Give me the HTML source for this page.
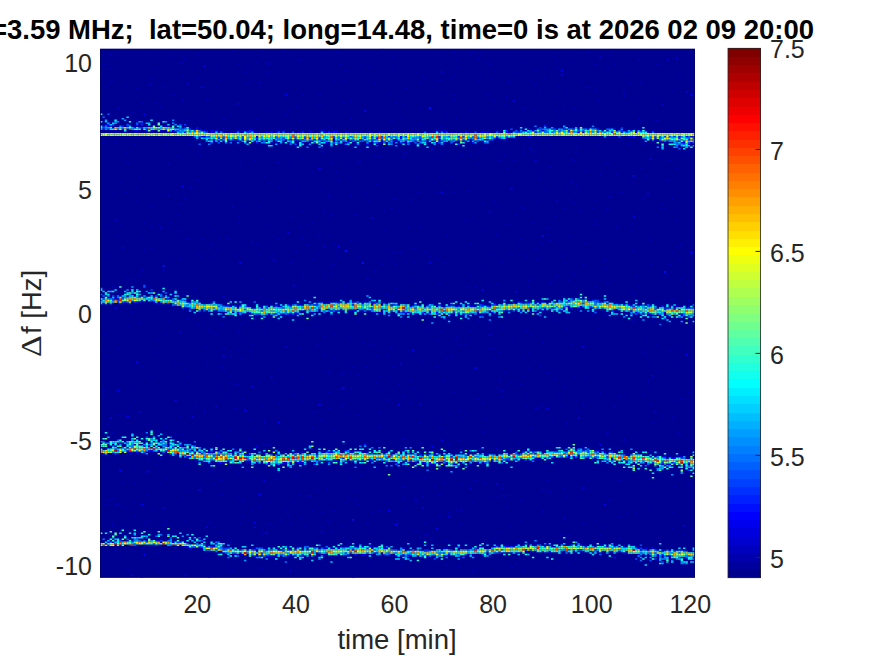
<!DOCTYPE html>
<html><head><meta charset="utf-8"><style>
html,body{margin:0;padding:0;background:#fff;overflow:hidden}
svg{display:block}
text{font-family:"Liberation Sans",Arial,sans-serif;white-space:pre}
.t{font-size:25px;fill:#262626}
.l{font-size:27.5px;fill:#262626}
.ti{font-size:27.47px;font-weight:bold;fill:#000}
</style></head><body>
<svg width="875" height="656" viewBox="0 0 875 656">
<rect x="100" y="48.8" width="595" height="528.9000000000001" fill="#000091"/>
<defs><filter id="bl" x="0" y="0" width="1" height="1"><feGaussianBlur stdDeviation="0.45"/></filter><clipPath id="cp"><rect x="100" y="48.8" width="595" height="528.9"/></clipPath></defs>
<g clip-path="url(#cp)"><g filter="url(#bl)"><path fill="#0000af" d="M380.7 48.8h2.4v1.5h-2.4zM232.0 50.3h2.4v1.5h-2.4zM260.7 50.3h2.4v1.5h-2.4zM282.3 50.3h2.4v1.5h-2.4zM611.0 50.3h2.4v1.5h-2.4zM335.1 51.8h2.4v1.5h-2.4zM452.7 51.8h2.4v1.5h-2.4zM471.9 51.8h2.4v1.5h-2.4zM587.0 51.8h2.4v1.5h-2.4zM196.0 53.3h2.4v1.5h-2.4zM323.1 53.3h2.4v1.5h-2.4zM469.5 53.3h2.4v1.5h-2.4zM479.1 53.3h2.4v1.5h-2.4zM114.4 54.8h2.4v1.5h-2.4zM143.2 54.8h2.4v1.5h-2.4zM172.0 54.8h2.4v1.5h-2.4zM289.5 54.8h2.4v1.5h-2.4zM438.3 54.8h2.4v1.5h-2.4zM608.6 54.8h2.4v1.5h-2.4zM392.7 56.3h2.4v1.5h-2.4zM553.4 56.3h2.4v1.5h-2.4zM184.0 57.8h2.4v1.5h-2.4zM476.7 57.8h2.4v1.5h-2.4zM666.2 57.8h2.4v1.5h-2.4zM299.1 59.3h2.4v1.5h-2.4zM455.1 59.3h2.4v1.5h-2.4zM555.8 59.3h2.4v1.5h-2.4zM637.4 59.3h2.4v1.5h-2.4zM666.2 59.3h2.4v1.5h-2.4zM296.7 60.8h2.4v1.5h-2.4zM488.7 60.8h2.4v1.5h-2.4zM522.3 60.8h2.4v1.5h-2.4zM570.2 60.8h2.4v1.5h-2.4zM181.6 62.3h2.4v1.5h-2.4zM193.6 62.3h2.4v1.5h-2.4zM255.9 62.3h2.4v1.5h-2.4zM265.5 62.3h4.8v1.5h-4.8zM483.9 62.3h2.4v1.5h-2.4zM102.4 63.8h2.4v1.5h-2.4zM236.8 63.8h2.4v1.5h-2.4zM267.9 63.8h2.4v1.5h-2.4zM339.9 63.8h2.4v1.5h-2.4zM488.7 63.8h2.4v1.5h-2.4zM594.2 63.8h2.4v1.5h-2.4zM613.4 63.8h2.4v1.5h-2.4zM656.6 63.8h2.4v1.5h-2.4zM246.4 65.3h2.4v1.5h-2.4zM359.1 65.3h2.4v1.5h-2.4zM368.7 65.3h2.4v1.5h-2.4zM555.8 65.3h2.4v1.5h-2.4zM191.2 66.8h2.4v1.5h-2.4zM215.2 66.8h2.4v1.5h-2.4zM392.7 66.8h2.4v1.5h-2.4zM543.9 66.8h2.4v1.5h-2.4zM109.6 68.3h2.4v1.5h-2.4zM155.2 68.3h2.4v1.5h-2.4zM457.5 68.3h2.4v1.5h-2.4zM606.2 68.3h2.4v1.5h-2.4zM344.7 69.8h2.4v1.5h-2.4zM534.3 69.8h2.4v1.5h-2.4zM244.0 71.3h2.4v1.5h-2.4zM267.9 71.3h2.4v1.5h-2.4zM515.1 72.8h2.4v1.5h-2.4zM565.4 72.8h2.4v1.5h-2.4zM625.4 72.8h2.4v1.5h-2.4zM678.2 72.8h2.4v1.5h-2.4zM265.5 74.3h2.4v1.5h-2.4zM452.7 74.3h2.4v1.5h-2.4zM481.5 74.3h2.4v1.5h-2.4zM181.6 75.8h2.4v1.5h-2.4zM421.5 75.8h2.4v1.5h-2.4zM150.4 77.3h2.4v1.5h-2.4zM196.0 77.3h2.4v1.5h-2.4zM423.9 77.3h2.4v1.5h-2.4zM450.3 77.3h2.4v1.5h-2.4zM491.1 77.3h2.4v1.5h-2.4zM543.9 77.3h2.4v1.5h-2.4zM438.3 78.9h2.4v1.5h-2.4zM507.9 78.9h2.4v1.5h-2.4zM529.5 78.9h2.4v1.5h-2.4zM594.2 78.9h2.4v1.5h-2.4zM112.0 80.4h2.4v1.5h-2.4zM220.0 80.4h2.4v1.5h-2.4zM251.1 80.4h2.4v1.5h-2.4zM332.7 80.4h2.4v1.5h-2.4zM342.3 80.4h2.4v1.5h-2.4zM433.5 80.4h2.4v1.5h-2.4zM440.7 80.4h2.4v1.5h-2.4zM476.7 80.4h2.4v1.5h-2.4zM579.8 80.4h2.4v1.5h-2.4zM109.6 81.9h2.4v1.5h-2.4zM186.4 81.9h2.4v1.5h-2.4zM246.4 81.9h2.4v1.5h-2.4zM258.3 81.9h2.4v1.5h-2.4zM373.5 81.9h2.4v1.5h-2.4zM419.1 81.9h2.4v1.5h-2.4zM507.9 81.9h2.4v1.5h-2.4zM627.8 81.9h2.4v1.5h-2.4zM639.8 81.9h2.4v1.5h-2.4zM148.0 83.4h4.8v1.5h-4.8zM186.4 83.4h2.4v1.5h-2.4zM534.3 83.4h2.4v1.5h-2.4zM124.0 84.9h2.4v1.5h-2.4zM215.2 84.9h2.4v1.5h-2.4zM258.3 84.9h2.4v1.5h-2.4zM555.8 84.9h2.4v1.5h-2.4zM104.8 86.4h2.4v1.5h-2.4zM162.4 86.4h2.4v1.5h-2.4zM431.1 86.4h2.4v1.5h-2.4zM584.6 86.4h4.8v1.5h-4.8zM136.0 87.9h2.4v1.5h-2.4zM404.7 87.9h2.4v1.5h-2.4zM594.2 89.4h2.4v1.5h-2.4zM623.0 89.4h2.4v1.5h-2.4zM671.0 89.4h2.4v1.5h-2.4zM692.6 89.4h2.4v1.5h-2.4zM145.6 90.9h2.4v1.5h-2.4zM443.1 90.9h2.4v1.5h-2.4zM387.9 92.4h2.4v1.5h-2.4zM539.1 92.4h2.4v1.5h-2.4zM565.4 92.4h2.4v1.5h-2.4zM172.0 93.9h2.4v1.5h-2.4zM301.5 93.9h2.4v1.5h-2.4zM318.3 93.9h2.4v1.5h-2.4zM452.7 93.9h2.4v1.5h-2.4zM486.3 93.9h2.4v1.5h-2.4zM623.0 93.9h2.4v1.5h-2.4zM505.5 95.4h2.4v1.5h-2.4zM623.0 95.4h2.4v1.5h-2.4zM505.5 96.9h2.4v1.5h-2.4zM553.4 96.9h2.4v1.5h-2.4zM654.2 96.9h2.4v1.5h-2.4zM208.0 98.4h2.4v1.5h-2.4zM488.7 98.4h2.4v1.5h-2.4zM635.0 98.4h2.4v1.5h-2.4zM205.6 99.9h2.4v1.5h-2.4zM349.5 99.9h2.4v1.5h-2.4zM452.7 99.9h2.4v1.5h-2.4zM493.5 99.9h2.4v1.5h-2.4zM596.6 99.9h2.4v1.5h-2.4zM140.8 101.4h2.4v1.5h-2.4zM155.2 101.4h2.4v1.5h-2.4zM342.3 101.4h2.4v1.5h-2.4zM395.1 101.4h2.4v1.5h-2.4zM402.3 102.9h2.4v1.5h-2.4zM234.4 104.4h2.4v1.5h-2.4zM318.3 104.4h2.4v1.5h-2.4zM503.1 104.4h2.4v1.5h-2.4zM160.0 105.9h2.4v1.5h-2.4zM296.7 105.9h2.4v1.5h-2.4zM419.1 107.4h2.4v1.5h-2.4zM522.3 107.4h2.4v1.5h-2.4zM572.6 107.4h2.4v1.5h-2.4zM287.1 108.9h2.4v1.5h-2.4zM363.9 108.9h2.4v1.5h-2.4zM469.5 108.9h2.4v1.5h-2.4zM491.1 108.9h2.4v1.5h-2.4zM563.0 108.9h2.4v1.5h-2.4zM138.4 110.4h2.4v1.5h-2.4zM265.5 110.4h2.4v1.5h-2.4zM531.9 110.4h2.4v1.5h-2.4zM553.4 110.4h2.4v1.5h-2.4zM579.8 110.4h2.4v1.5h-2.4zM155.2 113.4h2.4v1.5h-2.4zM229.6 113.4h2.4v1.5h-2.4zM284.7 113.4h2.4v1.5h-2.4zM193.6 114.9h2.4v1.5h-2.4zM399.9 114.9h2.4v1.5h-2.4zM443.1 114.9h2.4v1.5h-2.4zM558.2 114.9h2.4v1.5h-2.4zM208.0 116.4h2.4v1.5h-2.4zM222.4 117.9h2.4v1.5h-2.4zM255.9 117.9h2.4v1.5h-2.4zM349.5 117.9h2.4v1.5h-2.4zM455.1 117.9h2.4v1.5h-2.4zM637.4 117.9h2.4v1.5h-2.4zM136.0 119.4h2.4v1.5h-2.4zM186.4 119.4h2.4v1.5h-2.4zM299.1 119.4h2.4v1.5h-2.4zM390.3 119.4h2.4v1.5h-2.4zM639.8 119.4h2.4v1.5h-2.4zM654.2 119.4h4.8v1.5h-4.8zM419.1 123.9h2.4v1.5h-2.4zM543.9 123.9h2.4v1.5h-2.4zM107.2 125.4h2.4v1.5h-2.4zM114.4 125.4h2.4v1.5h-2.4zM138.4 125.4h2.4v1.5h-2.4zM327.9 125.4h2.4v1.5h-2.4zM440.7 125.4h2.4v1.5h-2.4zM188.8 126.9h2.4v1.5h-2.4zM224.8 126.9h2.4v1.5h-2.4zM323.1 126.9h2.4v1.5h-2.4zM553.4 126.9h2.4v1.5h-2.4zM584.6 126.9h2.4v1.5h-2.4zM591.8 126.9h4.8v1.5h-4.8zM608.6 126.9h2.4v1.5h-2.4zM236.8 128.4h2.4v1.5h-2.4zM248.8 128.4h2.4v1.5h-2.4zM277.5 128.4h2.4v1.5h-2.4zM392.7 128.4h2.4v1.5h-2.4zM503.1 128.4h2.4v1.5h-2.4zM534.3 128.4h2.4v1.5h-2.4zM632.6 128.4h2.4v1.5h-2.4zM162.4 129.9h4.8v1.5h-4.8zM205.6 129.9h2.4v1.5h-2.4zM220.0 129.9h2.4v1.5h-2.4zM246.4 129.9h2.4v1.5h-2.4zM270.3 129.9h2.4v1.5h-2.4zM275.1 129.9h2.4v1.5h-2.4zM301.5 129.9h2.4v1.5h-2.4zM323.1 129.9h2.4v1.5h-2.4zM327.9 129.9h2.4v1.5h-2.4zM332.7 129.9h2.4v1.5h-2.4zM443.1 129.9h4.8v1.5h-4.8zM481.5 129.9h2.4v1.5h-2.4zM495.9 129.9h2.4v1.5h-2.4zM217.6 131.4h2.4v1.5h-2.4zM239.2 131.4h2.4v1.5h-2.4zM296.7 131.4h2.4v1.5h-2.4zM318.3 131.4h2.4v1.5h-2.4zM361.5 131.4h2.4v1.5h-2.4zM404.7 131.4h2.4v1.5h-2.4zM414.3 131.4h2.4v1.5h-2.4zM431.1 131.4h2.4v1.5h-2.4zM469.5 131.4h2.4v1.5h-2.4zM488.7 131.4h2.4v1.5h-2.4zM647.0 131.4h2.4v1.5h-2.4zM191.2 135.9h2.4v1.5h-2.4zM536.7 135.9h2.4v1.5h-2.4zM577.4 135.9h2.4v1.5h-2.4zM608.6 135.9h4.8v1.5h-4.8zM495.9 137.5h2.4v1.5h-2.4zM176.8 139.0h2.4v1.5h-2.4zM255.9 139.0h2.4v1.5h-2.4zM272.7 139.0h2.4v1.5h-2.4zM438.3 139.0h2.4v1.5h-2.4zM500.7 139.0h7.2v1.5h-7.2zM524.7 139.0h2.4v1.5h-2.4zM620.6 139.0h2.4v1.5h-2.4zM191.2 140.5h2.4v1.5h-2.4zM212.8 140.5h2.4v1.5h-2.4zM236.8 140.5h2.4v1.5h-2.4zM260.7 140.5h2.4v1.5h-2.4zM296.7 140.5h2.4v1.5h-2.4zM332.7 140.5h2.4v1.5h-2.4zM392.7 140.5h2.4v1.5h-2.4zM426.3 140.5h2.4v1.5h-2.4zM488.7 140.5h2.4v1.5h-2.4zM666.2 140.5h2.4v1.5h-2.4zM102.4 142.0h2.4v1.5h-2.4zM114.4 142.0h2.4v1.5h-2.4zM251.1 142.0h2.4v1.5h-2.4zM275.1 142.0h4.8v1.5h-4.8zM308.7 142.0h2.4v1.5h-2.4zM327.9 142.0h2.4v1.5h-2.4zM354.3 142.0h2.4v1.5h-2.4zM404.7 142.0h2.4v1.5h-2.4zM416.7 142.0h2.4v1.5h-2.4zM659.0 142.0h2.4v1.5h-2.4zM133.6 143.5h2.4v1.5h-2.4zM188.8 143.5h2.4v1.5h-2.4zM267.9 143.5h2.4v1.5h-2.4zM354.3 143.5h2.4v1.5h-2.4zM627.8 143.5h2.4v1.5h-2.4zM642.2 143.5h2.4v1.5h-2.4zM536.7 145.0h2.4v1.5h-2.4zM575.0 145.0h2.4v1.5h-2.4zM164.8 146.5h2.4v1.5h-2.4zM294.3 146.5h2.4v1.5h-2.4zM344.7 146.5h2.4v1.5h-2.4zM522.3 146.5h2.4v1.5h-2.4zM548.6 146.5h2.4v1.5h-2.4zM577.4 146.5h2.4v1.5h-2.4zM587.0 146.5h2.4v1.5h-2.4zM596.6 146.5h2.4v1.5h-2.4zM198.4 148.0h2.4v1.5h-2.4zM320.7 148.0h2.4v1.5h-2.4zM483.9 148.0h2.4v1.5h-2.4zM359.1 149.5h2.4v1.5h-2.4zM320.7 151.0h4.8v1.5h-4.8zM522.3 151.0h2.4v1.5h-2.4zM531.9 151.0h2.4v1.5h-2.4zM687.8 151.0h2.4v1.5h-2.4zM124.0 152.5h2.4v1.5h-2.4zM440.7 152.5h2.4v1.5h-2.4zM476.7 152.5h2.4v1.5h-2.4zM575.0 152.5h2.4v1.5h-2.4zM673.4 152.5h2.4v1.5h-2.4zM680.6 152.5h2.4v1.5h-2.4zM198.4 154.0h2.4v1.5h-2.4zM459.9 154.0h2.4v1.5h-2.4zM469.5 154.0h2.4v1.5h-2.4zM503.1 154.0h2.4v1.5h-2.4zM176.8 155.5h2.4v1.5h-2.4zM373.5 155.5h2.4v1.5h-2.4zM378.3 155.5h2.4v1.5h-2.4zM402.3 155.5h2.4v1.5h-2.4zM181.6 157.0h2.4v1.5h-2.4zM301.5 157.0h2.4v1.5h-2.4zM433.5 157.0h2.4v1.5h-2.4zM455.1 157.0h2.4v1.5h-2.4zM659.0 157.0h2.4v1.5h-2.4zM570.2 158.5h2.4v1.5h-2.4zM253.5 160.0h2.4v1.5h-2.4zM359.1 160.0h2.4v1.5h-2.4zM498.3 160.0h2.4v1.5h-2.4zM512.7 160.0h2.4v1.5h-2.4zM572.6 160.0h2.4v1.5h-2.4zM668.6 160.0h2.4v1.5h-2.4zM126.4 161.5h2.4v1.5h-2.4zM275.1 161.5h4.8v1.5h-4.8zM330.3 161.5h2.4v1.5h-2.4zM356.7 161.5h2.4v1.5h-2.4zM606.2 161.5h2.4v1.5h-2.4zM239.2 163.0h2.4v1.5h-2.4zM567.8 163.0h2.4v1.5h-2.4zM649.4 163.0h2.4v1.5h-2.4zM287.1 164.5h2.4v1.5h-2.4zM347.1 164.5h2.4v1.5h-2.4zM476.7 164.5h2.4v1.5h-2.4zM548.6 166.0h2.4v1.5h-2.4zM505.5 167.5h2.4v1.5h-2.4zM639.8 167.5h2.4v1.5h-2.4zM675.8 167.5h2.4v1.5h-2.4zM539.1 169.0h2.4v1.5h-2.4zM584.6 170.5h2.4v1.5h-2.4zM311.1 172.0h2.4v1.5h-2.4zM335.1 172.0h2.4v1.5h-2.4zM599.0 173.5h2.4v1.5h-2.4zM615.8 173.5h2.4v1.5h-2.4zM138.4 175.0h2.4v1.5h-2.4zM416.7 175.0h2.4v1.5h-2.4zM438.3 175.0h2.4v1.5h-2.4zM450.3 175.0h2.4v1.5h-2.4zM644.6 175.0h2.4v1.5h-2.4zM263.1 176.5h2.4v1.5h-2.4zM347.1 176.5h2.4v1.5h-2.4zM539.1 178.0h2.4v1.5h-2.4zM196.0 179.5h2.4v1.5h-2.4zM337.5 179.5h2.4v1.5h-2.4zM570.2 179.5h2.4v1.5h-2.4zM666.2 179.5h2.4v1.5h-2.4zM119.2 181.0h2.4v1.5h-2.4zM217.6 181.0h2.4v1.5h-2.4zM267.9 181.0h2.4v1.5h-2.4zM433.5 181.0h2.4v1.5h-2.4zM630.2 181.0h2.4v1.5h-2.4zM570.2 182.5h2.4v1.5h-2.4zM375.9 184.0h2.4v1.5h-2.4zM575.0 184.0h2.4v1.5h-2.4zM188.8 185.5h2.4v1.5h-2.4zM277.5 185.5h2.4v1.5h-2.4zM193.6 187.0h2.4v1.5h-2.4zM287.1 187.0h2.4v1.5h-2.4zM577.4 187.0h2.4v1.5h-2.4zM136.0 188.5h2.4v1.5h-2.4zM188.8 188.5h2.4v1.5h-2.4zM222.4 188.5h2.4v1.5h-2.4zM296.7 188.5h2.4v1.5h-2.4zM320.7 188.5h2.4v1.5h-2.4zM543.9 188.5h2.4v1.5h-2.4zM565.4 188.5h2.4v1.5h-2.4zM467.1 190.0h2.4v1.5h-2.4zM124.0 191.5h2.4v1.5h-2.4zM416.7 191.5h2.4v1.5h-2.4zM435.9 191.5h2.4v1.5h-2.4zM452.7 191.5h2.4v1.5h-2.4zM620.6 191.5h2.4v1.5h-2.4zM112.0 193.0h2.4v1.5h-2.4zM327.9 193.0h2.4v1.5h-2.4zM363.9 193.0h2.4v1.5h-2.4zM162.4 194.5h2.4v1.5h-2.4zM179.2 194.5h2.4v1.5h-2.4zM644.6 194.5h2.4v1.5h-2.4zM327.9 196.1h2.4v1.5h-2.4zM349.5 196.1h2.4v1.5h-2.4zM184.0 197.6h2.4v1.5h-2.4zM392.7 197.6h2.4v1.5h-2.4zM642.2 197.6h2.4v1.5h-2.4zM671.0 197.6h2.4v1.5h-2.4zM491.1 199.1h2.4v1.5h-2.4zM567.8 199.1h2.4v1.5h-2.4zM594.2 199.1h2.4v1.5h-2.4zM601.4 199.1h2.4v1.5h-2.4zM136.0 200.6h2.4v1.5h-2.4zM368.7 200.6h2.4v1.5h-2.4zM536.7 200.6h2.4v1.5h-2.4zM481.5 202.1h2.4v1.5h-2.4zM493.5 202.1h2.4v1.5h-2.4zM572.6 202.1h2.4v1.5h-2.4zM179.2 203.6h2.4v1.5h-2.4zM661.4 203.6h2.4v1.5h-2.4zM258.3 205.1h2.4v1.5h-2.4zM150.4 206.6h2.4v1.5h-2.4zM241.6 206.6h2.4v1.5h-2.4zM495.9 206.6h2.4v1.5h-2.4zM519.9 206.6h2.4v1.5h-2.4zM390.3 208.1h2.4v1.5h-2.4zM522.3 208.1h2.4v1.5h-2.4zM563.0 208.1h2.4v1.5h-2.4zM591.8 208.1h2.4v1.5h-2.4zM606.2 208.1h2.4v1.5h-2.4zM659.0 208.1h2.4v1.5h-2.4zM663.8 208.1h2.4v1.5h-2.4zM301.5 209.6h2.4v1.5h-2.4zM323.1 209.6h2.4v1.5h-2.4zM383.1 209.6h2.4v1.5h-2.4zM397.5 209.6h2.4v1.5h-2.4zM579.8 209.6h2.4v1.5h-2.4zM673.4 211.1h2.4v1.5h-2.4zM323.1 212.6h2.4v1.5h-2.4zM603.8 212.6h2.4v1.5h-2.4zM176.8 214.1h2.4v1.5h-2.4zM330.3 214.1h2.4v1.5h-2.4zM354.3 214.1h2.4v1.5h-2.4zM515.1 214.1h2.4v1.5h-2.4zM236.8 215.6h2.4v1.5h-2.4zM553.4 215.6h2.4v1.5h-2.4zM116.8 217.1h2.4v1.5h-2.4zM100.0 218.6h2.4v1.5h-2.4zM327.9 218.6h2.4v1.5h-2.4zM471.9 218.6h2.4v1.5h-2.4zM464.7 220.1h2.4v1.5h-2.4zM594.2 220.1h2.4v1.5h-2.4zM675.8 220.1h2.4v1.5h-2.4zM143.2 221.6h2.4v1.5h-2.4zM169.6 221.6h2.4v1.5h-2.4zM236.8 221.6h2.4v1.5h-2.4zM311.1 221.6h2.4v1.5h-2.4zM531.9 221.6h2.4v1.5h-2.4zM107.2 223.1h2.4v1.5h-2.4zM157.6 223.1h2.4v1.5h-2.4zM265.5 223.1h2.4v1.5h-2.4zM596.6 223.1h2.4v1.5h-2.4zM630.2 223.1h2.4v1.5h-2.4zM119.2 224.6h2.4v1.5h-2.4zM306.3 224.6h2.4v1.5h-2.4zM503.1 224.6h2.4v1.5h-2.4zM507.9 224.6h2.4v1.5h-2.4zM591.8 224.6h2.4v1.5h-2.4zM100.0 226.1h2.4v1.5h-2.4zM150.4 226.1h2.4v1.5h-2.4zM160.0 226.1h2.4v1.5h-2.4zM299.1 226.1h2.4v1.5h-2.4zM407.1 226.1h2.4v1.5h-2.4zM419.1 226.1h2.4v1.5h-2.4zM615.8 226.1h2.4v1.5h-2.4zM160.0 227.6h2.4v1.5h-2.4zM167.2 227.6h2.4v1.5h-2.4zM546.2 227.6h2.4v1.5h-2.4zM179.2 230.6h2.4v1.5h-2.4zM212.8 230.6h2.4v1.5h-2.4zM383.1 230.6h2.4v1.5h-2.4zM481.5 230.6h2.4v1.5h-2.4zM630.2 230.6h2.4v1.5h-2.4zM445.5 233.6h2.4v1.5h-2.4zM495.9 233.6h2.4v1.5h-2.4zM546.2 233.6h2.4v1.5h-2.4zM140.8 235.1h2.4v1.5h-2.4zM272.7 235.1h2.4v1.5h-2.4zM299.1 235.1h2.4v1.5h-2.4zM116.8 236.6h2.4v1.5h-2.4zM179.2 236.6h2.4v1.5h-2.4zM224.8 236.6h2.4v1.5h-2.4zM327.9 236.6h2.4v1.5h-2.4zM567.8 236.6h2.4v1.5h-2.4zM649.4 236.6h2.4v1.5h-2.4zM186.4 238.1h2.4v1.5h-2.4zM200.8 238.1h2.4v1.5h-2.4zM217.6 238.1h2.4v1.5h-2.4zM227.2 238.1h2.4v1.5h-2.4zM277.5 238.1h2.4v1.5h-2.4zM301.5 238.1h2.4v1.5h-2.4zM519.9 238.1h2.4v1.5h-2.4zM349.5 239.6h2.4v1.5h-2.4zM548.6 239.6h2.4v1.5h-2.4zM649.4 239.6h2.4v1.5h-2.4zM354.3 241.1h2.4v1.5h-2.4zM517.5 241.1h2.4v1.5h-2.4zM555.8 241.1h2.4v1.5h-2.4zM241.6 242.6h2.4v1.5h-2.4zM265.5 242.6h2.4v1.5h-2.4zM539.1 242.6h2.4v1.5h-2.4zM210.4 244.1h2.4v1.5h-2.4zM255.9 244.1h2.4v1.5h-2.4zM306.3 244.1h2.4v1.5h-2.4zM332.7 244.1h2.4v1.5h-2.4zM469.5 244.1h2.4v1.5h-2.4zM541.5 244.1h2.4v1.5h-2.4zM680.6 244.1h2.4v1.5h-2.4zM675.8 245.6h2.4v1.5h-2.4zM215.2 247.1h2.4v1.5h-2.4zM385.5 247.1h2.4v1.5h-2.4zM414.3 247.1h2.4v1.5h-2.4zM150.4 248.6h2.4v1.5h-2.4zM411.9 248.6h2.4v1.5h-2.4zM143.2 250.1h2.4v1.5h-2.4zM335.1 250.1h2.4v1.5h-2.4zM632.6 250.1h2.4v1.5h-2.4zM294.3 251.6h2.4v1.5h-2.4zM392.7 251.6h2.4v1.5h-2.4zM399.9 251.6h2.4v1.5h-2.4zM423.9 251.6h2.4v1.5h-2.4zM671.0 251.6h2.4v1.5h-2.4zM196.0 253.1h2.4v1.5h-2.4zM258.3 253.1h2.4v1.5h-2.4zM315.9 253.1h2.4v1.5h-2.4zM491.1 253.1h2.4v1.5h-2.4zM510.3 253.1h2.4v1.5h-2.4zM517.5 253.1h2.4v1.5h-2.4zM104.8 254.7h2.4v1.5h-2.4zM212.8 254.7h2.4v1.5h-2.4zM234.4 254.7h2.4v1.5h-2.4zM270.3 254.7h2.4v1.5h-2.4zM524.7 254.7h2.4v1.5h-2.4zM560.6 254.7h2.4v1.5h-2.4zM200.8 256.2h2.4v1.5h-2.4zM337.5 256.2h2.4v1.5h-2.4zM356.7 256.2h2.4v1.5h-2.4zM428.7 256.2h2.4v1.5h-2.4zM179.2 257.7h2.4v1.5h-2.4zM311.1 257.7h2.4v1.5h-2.4zM435.9 257.7h2.4v1.5h-2.4zM536.7 257.7h2.4v1.5h-2.4zM169.6 259.2h2.4v1.5h-2.4zM291.9 259.2h2.4v1.5h-2.4zM390.3 259.2h2.4v1.5h-2.4zM678.2 259.2h2.4v1.5h-2.4zM378.3 260.7h2.4v1.5h-2.4zM404.7 260.7h2.4v1.5h-2.4zM498.3 260.7h4.8v1.5h-4.8zM289.5 262.2h2.4v1.5h-2.4zM411.9 262.2h2.4v1.5h-2.4zM443.1 262.2h2.4v1.5h-2.4zM563.0 262.2h2.4v1.5h-2.4zM332.7 263.7h2.4v1.5h-2.4zM380.7 263.7h2.4v1.5h-2.4zM395.1 263.7h2.4v1.5h-2.4zM582.2 263.7h2.4v1.5h-2.4zM649.4 263.7h2.4v1.5h-2.4zM668.6 263.7h2.4v1.5h-2.4zM330.3 265.2h2.4v1.5h-2.4zM481.5 266.7h2.4v1.5h-2.4zM140.8 268.2h2.4v1.5h-2.4zM603.8 268.2h2.4v1.5h-2.4zM140.8 269.7h2.4v1.5h-2.4zM162.4 269.7h2.4v1.5h-2.4zM373.5 269.7h2.4v1.5h-2.4zM330.3 272.7h2.4v1.5h-2.4zM138.4 274.2h2.4v1.5h-2.4zM301.5 274.2h2.4v1.5h-2.4zM323.1 274.2h2.4v1.5h-2.4zM469.5 274.2h2.4v1.5h-2.4zM572.6 274.2h2.4v1.5h-2.4zM666.2 274.2h2.4v1.5h-2.4zM683.0 274.2h2.4v1.5h-2.4zM555.8 275.7h2.4v1.5h-2.4zM635.0 275.7h2.4v1.5h-2.4zM126.4 277.2h2.4v1.5h-2.4zM260.7 277.2h2.4v1.5h-2.4zM680.6 277.2h2.4v1.5h-2.4zM133.6 278.7h2.4v1.5h-2.4zM411.9 278.7h2.4v1.5h-2.4zM531.9 278.7h2.4v1.5h-2.4zM661.4 278.7h2.4v1.5h-2.4zM100.0 280.2h2.4v1.5h-2.4zM527.1 280.2h2.4v1.5h-2.4zM553.4 280.2h2.4v1.5h-2.4zM567.8 280.2h2.4v1.5h-2.4zM438.3 281.7h2.4v1.5h-2.4zM548.6 281.7h2.4v1.5h-2.4zM606.2 281.7h2.4v1.5h-2.4zM685.4 281.7h2.4v1.5h-2.4zM495.9 283.2h2.4v1.5h-2.4zM294.3 284.7h2.4v1.5h-2.4zM486.3 284.7h2.4v1.5h-2.4zM637.4 284.7h2.4v1.5h-2.4zM112.0 286.2h2.4v1.5h-2.4zM116.8 286.2h2.4v1.5h-2.4zM148.0 286.2h2.4v1.5h-2.4zM344.7 286.2h2.4v1.5h-2.4zM467.1 286.2h2.4v1.5h-2.4zM474.3 286.2h2.4v1.5h-2.4zM527.1 286.2h2.4v1.5h-2.4zM594.2 286.2h2.4v1.5h-2.4zM193.6 287.7h2.4v1.5h-2.4zM395.1 287.7h2.4v1.5h-2.4zM112.0 289.2h2.4v1.5h-2.4zM630.2 289.2h2.4v1.5h-2.4zM212.8 290.7h2.4v1.5h-2.4zM143.2 292.2h2.4v1.5h-2.4zM342.3 292.2h2.4v1.5h-2.4zM591.8 292.2h2.4v1.5h-2.4zM184.0 293.7h2.4v1.5h-2.4zM385.5 293.7h2.4v1.5h-2.4zM632.6 293.7h2.4v1.5h-2.4zM126.4 295.2h2.4v1.5h-2.4zM251.1 295.2h2.4v1.5h-2.4zM390.3 295.2h2.4v1.5h-2.4zM176.8 296.7h2.4v1.5h-2.4zM258.3 296.7h2.4v1.5h-2.4zM339.9 296.7h2.4v1.5h-2.4zM577.4 296.7h2.4v1.5h-2.4zM169.6 298.2h2.4v1.5h-2.4zM294.3 298.2h2.4v1.5h-2.4zM421.5 298.2h2.4v1.5h-2.4zM515.1 298.2h2.4v1.5h-2.4zM572.6 298.2h2.4v1.5h-2.4zM671.0 298.2h2.4v1.5h-2.4zM267.9 299.7h2.4v1.5h-2.4zM363.9 299.7h2.4v1.5h-2.4zM541.5 299.7h2.4v1.5h-2.4zM603.8 299.7h2.4v1.5h-2.4zM241.6 301.2h2.4v1.5h-2.4zM248.8 301.2h2.4v1.5h-2.4zM318.3 301.2h2.4v1.5h-2.4zM327.9 301.2h2.4v1.5h-2.4zM337.5 301.2h4.8v1.5h-4.8zM361.5 301.2h2.4v1.5h-2.4zM383.1 301.2h2.4v1.5h-2.4zM529.5 301.2h2.4v1.5h-2.4zM539.1 301.2h2.4v1.5h-2.4zM601.4 301.2h2.4v1.5h-2.4zM611.0 301.2h2.4v1.5h-2.4zM656.6 301.2h2.4v1.5h-2.4zM116.8 302.7h2.4v1.5h-2.4zM124.0 302.7h2.4v1.5h-2.4zM160.0 302.7h2.4v1.5h-2.4zM164.8 302.7h2.4v1.5h-2.4zM200.8 302.7h2.4v1.5h-2.4zM205.6 302.7h2.4v1.5h-2.4zM217.6 302.7h2.4v1.5h-2.4zM255.9 302.7h2.4v1.5h-2.4zM291.9 302.7h2.4v1.5h-2.4zM301.5 302.7h2.4v1.5h-2.4zM323.1 302.7h2.4v1.5h-2.4zM431.1 302.7h2.4v1.5h-2.4zM505.5 302.7h2.4v1.5h-2.4zM613.4 302.7h2.4v1.5h-2.4zM104.8 304.2h2.4v1.5h-2.4zM109.6 304.2h2.4v1.5h-2.4zM157.6 304.2h2.4v1.5h-2.4zM275.1 304.2h2.4v1.5h-2.4zM426.3 304.2h2.4v1.5h-2.4zM447.9 304.2h2.4v1.5h-2.4zM459.9 304.2h2.4v1.5h-2.4zM639.8 304.2h2.4v1.5h-2.4zM649.4 304.2h2.4v1.5h-2.4zM172.0 305.7h2.4v1.5h-2.4zM464.7 305.7h2.4v1.5h-2.4zM184.0 307.2h2.4v1.5h-2.4zM656.6 307.2h2.4v1.5h-2.4zM200.8 308.7h2.4v1.5h-2.4zM529.5 308.7h2.4v1.5h-2.4zM596.6 308.7h2.4v1.5h-2.4zM603.8 308.7h2.4v1.5h-2.4zM205.6 310.2h2.4v1.5h-2.4zM215.2 310.2h2.4v1.5h-2.4zM303.9 310.2h2.4v1.5h-2.4zM347.1 310.2h2.4v1.5h-2.4zM351.9 310.2h2.4v1.5h-2.4zM505.5 310.2h2.4v1.5h-2.4zM613.4 310.2h4.8v1.5h-4.8zM131.2 311.7h2.4v1.5h-2.4zM198.4 311.7h2.4v1.5h-2.4zM246.4 311.7h2.4v1.5h-2.4zM299.1 311.7h2.4v1.5h-2.4zM371.1 311.7h2.4v1.5h-2.4zM625.4 311.7h2.4v1.5h-2.4zM193.6 313.3h2.4v1.5h-2.4zM294.3 313.3h4.8v1.5h-4.8zM387.9 313.3h2.4v1.5h-2.4zM421.5 313.3h2.4v1.5h-2.4zM591.8 313.3h2.4v1.5h-2.4zM603.8 313.3h2.4v1.5h-2.4zM678.2 313.3h2.4v1.5h-2.4zM279.9 314.8h2.4v1.5h-2.4zM287.1 314.8h2.4v1.5h-2.4zM291.9 314.8h2.4v1.5h-2.4zM467.1 314.8h2.4v1.5h-2.4zM260.7 316.3h2.4v1.5h-2.4zM495.9 316.3h2.4v1.5h-2.4zM517.5 316.3h2.4v1.5h-2.4zM186.4 317.8h2.4v1.5h-2.4zM373.5 317.8h2.4v1.5h-2.4zM675.8 317.8h2.4v1.5h-2.4zM167.2 319.3h2.4v1.5h-2.4zM476.7 319.3h2.4v1.5h-2.4zM553.4 319.3h2.4v1.5h-2.4zM651.8 319.3h2.4v1.5h-2.4zM244.0 320.8h2.4v1.5h-2.4zM265.5 320.8h2.4v1.5h-2.4zM356.7 320.8h2.4v1.5h-2.4zM402.3 320.8h2.4v1.5h-2.4zM138.4 322.3h2.4v1.5h-2.4zM203.2 322.3h2.4v1.5h-2.4zM287.1 322.3h2.4v1.5h-2.4zM488.7 322.3h2.4v1.5h-2.4zM680.6 322.3h2.4v1.5h-2.4zM196.0 323.8h2.4v1.5h-2.4zM220.0 323.8h2.4v1.5h-2.4zM239.2 323.8h2.4v1.5h-2.4zM128.8 325.3h2.4v1.5h-2.4zM313.5 325.3h2.4v1.5h-2.4zM426.3 326.8h2.4v1.5h-2.4zM491.1 326.8h2.4v1.5h-2.4zM500.7 326.8h2.4v1.5h-2.4zM613.4 326.8h2.4v1.5h-2.4zM299.1 328.3h2.4v1.5h-2.4zM565.4 328.3h2.4v1.5h-2.4zM596.6 328.3h2.4v1.5h-2.4zM208.0 329.8h2.4v1.5h-2.4zM236.8 329.8h2.4v1.5h-2.4zM469.5 329.8h2.4v1.5h-2.4zM524.7 329.8h2.4v1.5h-2.4zM212.8 331.3h2.4v1.5h-2.4zM263.1 331.3h2.4v1.5h-2.4zM440.7 331.3h2.4v1.5h-2.4zM164.8 332.8h2.4v1.5h-2.4zM236.8 332.8h2.4v1.5h-2.4zM104.8 334.3h2.4v1.5h-2.4zM215.2 334.3h2.4v1.5h-2.4zM332.7 334.3h2.4v1.5h-2.4zM529.5 334.3h2.4v1.5h-2.4zM323.1 335.8h2.4v1.5h-2.4zM455.1 335.8h2.4v1.5h-2.4zM347.1 337.3h2.4v1.5h-2.4zM241.6 338.8h2.4v1.5h-2.4zM457.5 338.8h2.4v1.5h-2.4zM469.5 338.8h2.4v1.5h-2.4zM512.7 338.8h2.4v1.5h-2.4zM644.6 338.8h2.4v1.5h-2.4zM155.2 340.3h2.4v1.5h-2.4zM435.9 340.3h2.4v1.5h-2.4zM452.7 340.3h2.4v1.5h-2.4zM361.5 341.8h2.4v1.5h-2.4zM541.5 341.8h2.4v1.5h-2.4zM251.1 343.3h2.4v1.5h-2.4zM373.5 343.3h2.4v1.5h-2.4zM457.5 343.3h2.4v1.5h-2.4zM464.7 343.3h2.4v1.5h-2.4zM570.2 343.3h2.4v1.5h-2.4zM368.7 344.8h2.4v1.5h-2.4zM459.9 344.8h2.4v1.5h-2.4zM656.6 344.8h2.4v1.5h-2.4zM678.2 344.8h2.4v1.5h-2.4zM203.2 346.3h2.4v1.5h-2.4zM100.0 347.8h2.4v1.5h-2.4zM116.8 347.8h2.4v1.5h-2.4zM222.4 347.8h2.4v1.5h-2.4zM299.1 347.8h2.4v1.5h-2.4zM390.3 347.8h2.4v1.5h-2.4zM488.7 347.8h2.4v1.5h-2.4zM493.5 347.8h2.4v1.5h-2.4zM236.8 349.3h2.4v1.5h-2.4zM248.8 349.3h2.4v1.5h-2.4zM668.6 349.3h2.4v1.5h-2.4zM152.8 350.8h2.4v1.5h-2.4zM229.6 350.8h2.4v1.5h-2.4zM644.6 350.8h2.4v1.5h-2.4zM498.3 352.3h2.4v1.5h-2.4zM527.1 352.3h2.4v1.5h-2.4zM642.2 352.3h2.4v1.5h-2.4zM323.1 353.8h2.4v1.5h-2.4zM104.8 355.3h2.4v1.5h-2.4zM229.6 355.3h2.4v1.5h-2.4zM251.1 355.3h2.4v1.5h-2.4zM375.9 355.3h2.4v1.5h-2.4zM385.5 355.3h2.4v1.5h-2.4zM450.3 355.3h2.4v1.5h-2.4zM644.6 355.3h2.4v1.5h-2.4zM522.3 356.8h2.4v1.5h-2.4zM239.2 358.3h2.4v1.5h-2.4zM332.7 358.3h2.4v1.5h-2.4zM445.5 358.3h2.4v1.5h-2.4zM493.5 358.3h2.4v1.5h-2.4zM179.2 361.3h2.4v1.5h-2.4zM205.6 361.3h2.4v1.5h-2.4zM419.1 361.3h2.4v1.5h-2.4zM673.4 361.3h2.4v1.5h-2.4zM174.4 362.8h2.4v1.5h-2.4zM344.7 362.8h2.4v1.5h-2.4zM647.0 362.8h2.4v1.5h-2.4zM140.8 365.8h2.4v1.5h-2.4zM220.0 365.8h2.4v1.5h-2.4zM351.9 365.8h2.4v1.5h-2.4zM363.9 365.8h2.4v1.5h-2.4zM392.7 365.8h2.4v1.5h-2.4zM435.9 365.8h2.4v1.5h-2.4zM539.1 365.8h2.4v1.5h-2.4zM527.1 367.3h2.4v1.5h-2.4zM184.0 368.8h2.4v1.5h-2.4zM277.5 368.8h2.4v1.5h-2.4zM553.4 368.8h2.4v1.5h-2.4zM222.4 370.3h2.4v1.5h-2.4zM323.1 370.3h2.4v1.5h-2.4zM656.6 370.3h2.4v1.5h-2.4zM327.9 371.8h2.4v1.5h-2.4zM342.3 371.8h2.4v1.5h-2.4zM349.5 371.8h2.4v1.5h-2.4zM503.1 371.8h2.4v1.5h-2.4zM546.2 371.8h2.4v1.5h-2.4zM339.9 373.4h2.4v1.5h-2.4zM356.7 373.4h2.4v1.5h-2.4zM186.4 374.9h2.4v1.5h-2.4zM229.6 374.9h2.4v1.5h-2.4zM378.3 374.9h2.4v1.5h-2.4zM387.9 374.9h2.4v1.5h-2.4zM522.3 374.9h2.4v1.5h-2.4zM572.6 374.9h2.4v1.5h-2.4zM584.6 374.9h2.4v1.5h-2.4zM150.4 376.4h2.4v1.5h-2.4zM301.5 376.4h2.4v1.5h-2.4zM553.4 377.9h2.4v1.5h-2.4zM409.5 379.4h2.4v1.5h-2.4zM443.1 379.4h2.4v1.5h-2.4zM498.3 379.4h2.4v1.5h-2.4zM647.0 379.4h2.4v1.5h-2.4zM229.6 380.9h2.4v1.5h-2.4zM258.3 380.9h2.4v1.5h-2.4zM272.7 380.9h2.4v1.5h-2.4zM375.9 380.9h2.4v1.5h-2.4zM647.0 380.9h2.4v1.5h-2.4zM510.3 382.4h2.4v1.5h-2.4zM234.4 383.9h4.8v1.5h-4.8zM397.5 383.9h2.4v1.5h-2.4zM519.9 383.9h2.4v1.5h-2.4zM505.5 385.4h2.4v1.5h-2.4zM563.0 385.4h2.4v1.5h-2.4zM131.2 386.9h2.4v1.5h-2.4zM217.6 386.9h2.4v1.5h-2.4zM349.5 386.9h2.4v1.5h-2.4zM495.9 386.9h2.4v1.5h-2.4zM649.4 386.9h2.4v1.5h-2.4zM692.6 386.9h2.4v1.5h-2.4zM378.3 388.4h2.4v1.5h-2.4zM411.9 388.4h2.4v1.5h-2.4zM102.4 389.9h2.4v1.5h-2.4zM327.9 391.4h2.4v1.5h-2.4zM452.7 391.4h2.4v1.5h-2.4zM599.0 391.4h2.4v1.5h-2.4zM687.8 391.4h2.4v1.5h-2.4zM291.9 392.9h2.4v1.5h-2.4zM347.1 392.9h2.4v1.5h-2.4zM524.7 392.9h2.4v1.5h-2.4zM558.2 392.9h2.4v1.5h-2.4zM227.2 394.4h2.4v1.5h-2.4zM419.1 394.4h2.4v1.5h-2.4zM623.0 394.4h2.4v1.5h-2.4zM642.2 394.4h2.4v1.5h-2.4zM102.4 395.9h2.4v1.5h-2.4zM402.3 395.9h2.4v1.5h-2.4zM500.7 395.9h2.4v1.5h-2.4zM618.2 395.9h2.4v1.5h-2.4zM241.6 397.4h2.4v1.5h-2.4zM476.7 397.4h2.4v1.5h-2.4zM680.6 397.4h2.4v1.5h-2.4zM133.6 398.9h2.4v1.5h-2.4zM301.5 398.9h2.4v1.5h-2.4zM318.3 398.9h2.4v1.5h-2.4zM385.5 398.9h4.8v1.5h-4.8zM673.4 398.9h2.4v1.5h-2.4zM575.0 400.4h2.4v1.5h-2.4zM277.5 401.9h2.4v1.5h-2.4zM409.5 401.9h2.4v1.5h-2.4zM481.5 401.9h2.4v1.5h-2.4zM342.3 403.4h2.4v1.5h-2.4zM541.5 403.4h2.4v1.5h-2.4zM582.2 403.4h2.4v1.5h-2.4zM649.4 403.4h2.4v1.5h-2.4zM128.8 404.9h2.4v1.5h-2.4zM193.6 404.9h2.4v1.5h-2.4zM524.7 404.9h2.4v1.5h-2.4zM536.7 404.9h2.4v1.5h-2.4zM260.7 406.4h2.4v1.5h-2.4zM339.9 406.4h2.4v1.5h-2.4zM560.6 406.4h2.4v1.5h-2.4zM234.4 407.9h2.4v1.5h-2.4zM327.9 407.9h2.4v1.5h-2.4zM534.3 407.9h4.8v1.5h-4.8zM203.2 409.4h2.4v1.5h-2.4zM457.5 409.4h2.4v1.5h-2.4zM575.0 409.4h2.4v1.5h-2.4zM203.2 410.9h2.4v1.5h-2.4zM311.1 410.9h4.8v1.5h-4.8zM464.7 410.9h2.4v1.5h-2.4zM347.1 412.4h2.4v1.5h-2.4zM378.3 412.4h2.4v1.5h-2.4zM447.9 412.4h2.4v1.5h-2.4zM579.8 412.4h2.4v1.5h-2.4zM116.8 413.9h2.4v1.5h-2.4zM121.6 413.9h2.4v1.5h-2.4zM356.7 413.9h2.4v1.5h-2.4zM179.2 415.4h2.4v1.5h-2.4zM671.0 415.4h2.4v1.5h-2.4zM433.5 416.9h2.4v1.5h-2.4zM440.7 416.9h2.4v1.5h-2.4zM661.4 416.9h2.4v1.5h-2.4zM248.8 418.4h2.4v1.5h-2.4zM459.9 418.4h2.4v1.5h-2.4zM483.9 418.4h2.4v1.5h-2.4zM551.0 418.4h2.4v1.5h-2.4zM673.4 418.4h2.4v1.5h-2.4zM263.1 419.9h2.4v1.5h-2.4zM320.7 419.9h2.4v1.5h-2.4zM263.1 421.4h2.4v1.5h-2.4zM419.1 421.4h2.4v1.5h-2.4zM565.4 421.4h2.4v1.5h-2.4zM651.8 421.4h2.4v1.5h-2.4zM107.2 422.9h2.4v1.5h-2.4zM148.0 422.9h2.4v1.5h-2.4zM565.4 422.9h2.4v1.5h-2.4zM613.4 422.9h2.4v1.5h-2.4zM164.8 425.9h2.4v1.5h-2.4zM378.3 425.9h2.4v1.5h-2.4zM311.1 427.4h2.4v1.5h-2.4zM438.3 427.4h2.4v1.5h-2.4zM529.5 427.4h2.4v1.5h-2.4zM251.1 428.9h2.4v1.5h-2.4zM507.9 428.9h2.4v1.5h-2.4zM157.6 430.4h2.4v1.5h-2.4zM229.6 430.4h2.4v1.5h-2.4zM263.1 430.4h2.4v1.5h-2.4zM287.1 430.4h2.4v1.5h-2.4zM332.7 430.4h2.4v1.5h-2.4zM483.9 430.4h2.4v1.5h-2.4zM112.0 432.0h2.4v1.5h-2.4zM481.5 432.0h2.4v1.5h-2.4zM606.2 432.0h2.4v1.5h-2.4zM675.8 432.0h2.4v1.5h-2.4zM174.4 433.5h2.4v1.5h-2.4zM181.6 433.5h2.4v1.5h-2.4zM606.2 433.5h2.4v1.5h-2.4zM678.2 433.5h2.4v1.5h-2.4zM107.2 435.0h2.4v1.5h-2.4zM217.6 435.0h2.4v1.5h-2.4zM635.0 435.0h2.4v1.5h-2.4zM215.2 436.5h2.4v1.5h-2.4zM248.8 438.0h2.4v1.5h-2.4zM402.3 438.0h2.4v1.5h-2.4zM623.0 438.0h2.4v1.5h-2.4zM184.0 439.5h2.4v1.5h-2.4zM375.9 439.5h2.4v1.5h-2.4zM457.5 439.5h2.4v1.5h-2.4zM623.0 439.5h2.4v1.5h-2.4zM172.0 441.0h2.4v1.5h-2.4zM495.9 441.0h2.4v1.5h-2.4zM543.9 441.0h2.4v1.5h-2.4zM548.6 441.0h2.4v1.5h-2.4zM625.4 441.0h2.4v1.5h-2.4zM419.1 442.5h2.4v1.5h-2.4zM517.5 442.5h2.4v1.5h-2.4zM584.6 442.5h2.4v1.5h-2.4zM155.2 444.0h2.4v1.5h-2.4zM263.1 444.0h2.4v1.5h-2.4zM267.9 444.0h2.4v1.5h-2.4zM447.9 444.0h2.4v1.5h-2.4zM582.2 445.5h2.4v1.5h-2.4zM150.4 447.0h2.4v1.5h-2.4zM208.0 447.0h2.4v1.5h-2.4zM608.6 447.0h2.4v1.5h-2.4zM615.8 447.0h2.4v1.5h-2.4zM459.9 448.5h2.4v1.5h-2.4zM196.0 450.0h2.4v1.5h-2.4zM215.2 450.0h2.4v1.5h-2.4zM251.1 450.0h2.4v1.5h-2.4zM320.7 450.0h2.4v1.5h-2.4zM325.5 450.0h2.4v1.5h-2.4zM330.3 450.0h2.4v1.5h-2.4zM335.1 450.0h2.4v1.5h-2.4zM354.3 450.0h2.4v1.5h-2.4zM531.9 450.0h2.4v1.5h-2.4zM649.4 450.0h2.4v1.5h-2.4zM131.2 451.5h2.4v1.5h-2.4zM150.4 451.5h2.4v1.5h-2.4zM205.6 451.5h2.4v1.5h-2.4zM210.4 451.5h4.8v1.5h-4.8zM291.9 451.5h2.4v1.5h-2.4zM363.9 451.5h2.4v1.5h-2.4zM395.1 451.5h2.4v1.5h-2.4zM543.9 451.5h2.4v1.5h-2.4zM599.0 451.5h2.4v1.5h-2.4zM109.6 453.0h2.4v1.5h-2.4zM124.0 453.0h2.4v1.5h-2.4zM140.8 453.0h2.4v1.5h-2.4zM244.0 453.0h2.4v1.5h-2.4zM267.9 453.0h4.8v1.5h-4.8zM275.1 453.0h2.4v1.5h-2.4zM373.5 453.0h2.4v1.5h-2.4zM378.3 453.0h2.4v1.5h-2.4zM455.1 453.0h2.4v1.5h-2.4zM459.9 453.0h2.4v1.5h-2.4zM606.2 453.0h2.4v1.5h-2.4zM635.0 453.0h2.4v1.5h-2.4zM253.5 454.5h2.4v1.5h-2.4zM577.4 454.5h2.4v1.5h-2.4zM642.2 454.5h2.4v1.5h-2.4zM656.6 454.5h2.4v1.5h-2.4zM661.4 456.0h2.4v1.5h-2.4zM673.4 456.0h2.4v1.5h-2.4zM692.6 456.0h2.4v1.5h-2.4zM160.0 457.5h2.4v1.5h-2.4zM539.1 457.5h2.4v1.5h-2.4zM543.9 457.5h2.4v1.5h-2.4zM587.0 457.5h2.4v1.5h-2.4zM148.0 459.0h2.4v1.5h-2.4zM193.6 459.0h2.4v1.5h-2.4zM527.1 459.0h2.4v1.5h-2.4zM611.0 459.0h2.4v1.5h-2.4zM227.2 460.5h2.4v1.5h-2.4zM236.8 460.5h2.4v1.5h-2.4zM368.7 460.5h2.4v1.5h-2.4zM380.7 460.5h2.4v1.5h-2.4zM416.7 460.5h2.4v1.5h-2.4zM524.7 460.5h2.4v1.5h-2.4zM222.4 462.0h2.4v1.5h-2.4zM248.8 462.0h2.4v1.5h-2.4zM289.5 462.0h2.4v1.5h-2.4zM411.9 462.0h2.4v1.5h-2.4zM632.6 462.0h2.4v1.5h-2.4zM155.2 463.5h2.4v1.5h-2.4zM184.0 463.5h2.4v1.5h-2.4zM217.6 463.5h2.4v1.5h-2.4zM239.2 463.5h2.4v1.5h-2.4zM267.9 463.5h2.4v1.5h-2.4zM282.3 463.5h2.4v1.5h-2.4zM301.5 463.5h2.4v1.5h-2.4zM428.7 463.5h2.4v1.5h-2.4zM443.1 463.5h2.4v1.5h-2.4zM452.7 463.5h4.8v1.5h-4.8zM517.5 463.5h2.4v1.5h-2.4zM623.0 463.5h2.4v1.5h-2.4zM666.2 463.5h2.4v1.5h-2.4zM673.4 463.5h2.4v1.5h-2.4zM227.2 465.0h2.4v1.5h-2.4zM265.5 465.0h2.4v1.5h-2.4zM359.1 465.0h2.4v1.5h-2.4zM404.7 465.0h2.4v1.5h-2.4zM131.2 466.5h2.4v1.5h-2.4zM227.2 466.5h2.4v1.5h-2.4zM527.1 466.5h2.4v1.5h-2.4zM543.9 466.5h2.4v1.5h-2.4zM611.0 466.5h2.4v1.5h-2.4zM366.3 468.0h2.4v1.5h-2.4zM375.9 468.0h2.4v1.5h-2.4zM148.0 469.5h2.4v1.5h-2.4zM210.4 469.5h2.4v1.5h-2.4zM246.4 469.5h2.4v1.5h-2.4zM236.8 471.0h2.4v1.5h-2.4zM277.5 471.0h2.4v1.5h-2.4zM409.5 471.0h2.4v1.5h-2.4zM359.1 474.0h2.4v1.5h-2.4zM294.3 475.5h2.4v1.5h-2.4zM164.8 477.0h2.4v1.5h-2.4zM217.6 477.0h2.4v1.5h-2.4zM253.5 477.0h2.4v1.5h-2.4zM260.7 477.0h2.4v1.5h-2.4zM419.1 477.0h2.4v1.5h-2.4zM423.9 477.0h2.4v1.5h-2.4zM647.0 477.0h2.4v1.5h-2.4zM275.1 478.5h2.4v1.5h-2.4zM349.5 478.5h2.4v1.5h-2.4zM220.0 480.0h2.4v1.5h-2.4zM474.3 480.0h2.4v1.5h-2.4zM546.2 480.0h2.4v1.5h-2.4zM587.0 480.0h2.4v1.5h-2.4zM618.2 480.0h2.4v1.5h-2.4zM121.6 481.5h2.4v1.5h-2.4zM133.6 481.5h2.4v1.5h-2.4zM443.1 481.5h2.4v1.5h-2.4zM483.9 481.5h2.4v1.5h-2.4zM469.5 483.0h2.4v1.5h-2.4zM500.7 483.0h2.4v1.5h-2.4zM160.0 484.5h2.4v1.5h-2.4zM200.8 484.5h2.4v1.5h-2.4zM212.8 484.5h2.4v1.5h-2.4zM459.9 484.5h2.4v1.5h-2.4zM685.4 484.5h4.8v1.5h-4.8zM402.3 486.0h2.4v1.5h-2.4zM433.5 486.0h2.4v1.5h-2.4zM582.2 486.0h2.4v1.5h-2.4zM673.4 486.0h2.4v1.5h-2.4zM325.5 487.5h2.4v1.5h-2.4zM500.7 487.5h2.4v1.5h-2.4zM563.0 487.5h2.4v1.5h-2.4zM186.4 489.0h2.4v1.5h-2.4zM421.5 489.0h2.4v1.5h-2.4zM546.2 489.0h2.4v1.5h-2.4zM587.0 489.0h2.4v1.5h-2.4zM354.3 490.6h2.4v1.5h-2.4zM548.6 492.1h2.4v1.5h-2.4zM145.6 493.6h2.4v1.5h-2.4zM220.0 493.6h2.4v1.5h-2.4zM299.1 493.6h2.4v1.5h-2.4zM438.3 493.6h2.4v1.5h-2.4zM181.6 495.1h2.4v1.5h-2.4zM236.8 495.1h2.4v1.5h-2.4zM421.5 495.1h2.4v1.5h-2.4zM565.4 495.1h2.4v1.5h-2.4zM603.8 495.1h2.4v1.5h-2.4zM414.3 496.6h2.4v1.5h-2.4zM421.5 496.6h2.4v1.5h-2.4zM488.7 496.6h2.4v1.5h-2.4zM495.9 496.6h2.4v1.5h-2.4zM577.4 496.6h2.4v1.5h-2.4zM112.0 498.1h2.4v1.5h-2.4zM347.1 498.1h2.4v1.5h-2.4zM402.3 498.1h2.4v1.5h-2.4zM107.2 499.6h2.4v1.5h-2.4zM241.6 499.6h2.4v1.5h-2.4zM354.3 499.6h2.4v1.5h-2.4zM519.9 499.6h2.4v1.5h-2.4zM608.6 499.6h2.4v1.5h-2.4zM133.6 501.1h2.4v1.5h-2.4zM267.9 501.1h2.4v1.5h-2.4zM344.7 501.1h2.4v1.5h-2.4zM385.5 501.1h2.4v1.5h-2.4zM416.7 501.1h2.4v1.5h-2.4zM471.9 501.1h2.4v1.5h-2.4zM291.9 502.6h2.4v1.5h-2.4zM104.8 504.1h2.4v1.5h-2.4zM114.4 504.1h4.8v1.5h-4.8zM356.7 504.1h2.4v1.5h-2.4zM121.6 505.6h2.4v1.5h-2.4zM258.3 505.6h2.4v1.5h-2.4zM505.5 505.6h2.4v1.5h-2.4zM404.7 507.1h2.4v1.5h-2.4zM126.4 508.6h2.4v1.5h-2.4zM152.8 508.6h2.4v1.5h-2.4zM284.7 508.6h2.4v1.5h-2.4zM459.9 508.6h2.4v1.5h-2.4zM649.4 508.6h2.4v1.5h-2.4zM251.1 510.1h2.4v1.5h-2.4zM311.1 510.1h2.4v1.5h-2.4zM332.7 510.1h2.4v1.5h-2.4zM378.3 510.1h2.4v1.5h-2.4zM455.1 510.1h2.4v1.5h-2.4zM459.9 510.1h2.4v1.5h-2.4zM541.5 510.1h2.4v1.5h-2.4zM320.7 511.6h2.4v1.5h-2.4zM371.1 511.6h2.4v1.5h-2.4zM447.9 511.6h2.4v1.5h-2.4zM625.4 511.6h2.4v1.5h-2.4zM635.0 511.6h2.4v1.5h-2.4zM671.0 511.6h2.4v1.5h-2.4zM541.5 514.6h2.4v1.5h-2.4zM133.6 516.1h2.4v1.5h-2.4zM241.6 516.1h2.4v1.5h-2.4zM438.3 516.1h2.4v1.5h-2.4zM563.0 516.1h2.4v1.5h-2.4zM618.2 516.1h2.4v1.5h-2.4zM299.1 517.6h2.4v1.5h-2.4zM563.0 517.6h2.4v1.5h-2.4zM184.0 519.1h2.4v1.5h-2.4zM248.8 519.1h2.4v1.5h-2.4zM279.9 519.1h2.4v1.5h-2.4zM330.3 519.1h2.4v1.5h-2.4zM395.1 519.1h2.4v1.5h-2.4zM431.1 519.1h2.4v1.5h-2.4zM594.2 519.1h2.4v1.5h-2.4zM148.0 520.6h2.4v1.5h-2.4zM325.5 520.6h2.4v1.5h-2.4zM397.5 520.6h2.4v1.5h-2.4zM519.9 520.6h2.4v1.5h-2.4zM143.2 522.1h2.4v1.5h-2.4zM208.0 522.1h2.4v1.5h-2.4zM239.2 522.1h2.4v1.5h-2.4zM327.9 522.1h2.4v1.5h-2.4zM366.3 522.1h2.4v1.5h-2.4zM423.9 522.1h2.4v1.5h-2.4zM112.0 523.6h2.4v1.5h-2.4zM162.4 523.6h2.4v1.5h-2.4zM267.9 523.6h2.4v1.5h-2.4zM289.5 523.6h2.4v1.5h-2.4zM392.7 523.6h2.4v1.5h-2.4zM459.9 523.6h2.4v1.5h-2.4zM582.2 523.6h2.4v1.5h-2.4zM112.0 525.1h2.4v1.5h-2.4zM121.6 525.1h2.4v1.5h-2.4zM145.6 525.1h2.4v1.5h-2.4zM303.9 525.1h2.4v1.5h-2.4zM320.7 525.1h2.4v1.5h-2.4zM342.3 525.1h2.4v1.5h-2.4zM601.4 525.1h2.4v1.5h-2.4zM212.8 526.6h2.4v1.5h-2.4zM272.7 526.6h2.4v1.5h-2.4zM507.9 526.6h2.4v1.5h-2.4zM671.0 528.1h2.4v1.5h-2.4zM692.6 528.1h2.4v1.5h-2.4zM260.7 529.6h2.4v1.5h-2.4zM414.3 529.6h2.4v1.5h-2.4zM330.3 531.1h2.4v1.5h-2.4zM498.3 531.1h2.4v1.5h-2.4zM107.2 532.6h2.4v1.5h-2.4zM220.0 532.6h2.4v1.5h-2.4zM371.1 532.6h2.4v1.5h-2.4zM260.7 534.1h2.4v1.5h-2.4zM423.9 534.1h4.8v1.5h-4.8zM560.6 534.1h2.4v1.5h-2.4zM567.8 534.1h2.4v1.5h-2.4zM599.0 534.1h2.4v1.5h-2.4zM683.0 534.1h2.4v1.5h-2.4zM342.3 537.1h2.4v1.5h-2.4zM419.1 537.1h2.4v1.5h-2.4zM431.1 537.1h2.4v1.5h-2.4zM493.5 537.1h2.4v1.5h-2.4zM577.4 537.1h2.4v1.5h-2.4zM618.2 537.1h2.4v1.5h-2.4zM656.6 537.1h2.4v1.5h-2.4zM687.8 537.1h2.4v1.5h-2.4zM227.2 538.6h2.4v1.5h-2.4zM599.0 538.6h2.4v1.5h-2.4zM140.8 540.1h2.4v1.5h-2.4zM445.5 540.1h2.4v1.5h-2.4zM517.5 540.1h2.4v1.5h-2.4zM558.2 540.1h2.4v1.5h-2.4zM229.6 541.6h2.4v1.5h-2.4zM347.1 541.6h2.4v1.5h-2.4zM421.5 541.6h2.4v1.5h-2.4zM534.3 541.6h2.4v1.5h-2.4zM198.4 543.1h2.4v1.5h-2.4zM529.5 543.1h2.4v1.5h-2.4zM126.4 544.6h2.4v1.5h-2.4zM160.0 544.6h2.4v1.5h-2.4zM615.8 544.6h2.4v1.5h-2.4zM671.0 544.6h2.4v1.5h-2.4zM174.4 546.1h2.4v1.5h-2.4zM181.6 546.1h4.8v1.5h-4.8zM296.7 546.1h2.4v1.5h-2.4zM342.3 546.1h2.4v1.5h-2.4zM387.9 546.1h2.4v1.5h-2.4zM527.1 546.1h2.4v1.5h-2.4zM551.0 546.1h4.8v1.5h-4.8zM618.2 546.1h2.4v1.5h-2.4zM140.8 547.6h2.4v1.5h-2.4zM263.1 547.6h2.4v1.5h-2.4zM395.1 547.6h2.4v1.5h-2.4zM649.4 547.6h2.4v1.5h-2.4zM654.2 547.6h2.4v1.5h-2.4zM114.4 549.2h2.4v1.5h-2.4zM131.2 549.2h2.4v1.5h-2.4zM428.7 549.2h2.4v1.5h-2.4zM433.5 549.2h2.4v1.5h-2.4zM661.4 549.2h4.8v1.5h-4.8zM208.0 550.7h2.4v1.5h-2.4zM524.7 550.7h2.4v1.5h-2.4zM596.6 550.7h2.4v1.5h-2.4zM603.8 550.7h2.4v1.5h-2.4zM157.6 552.2h2.4v1.5h-2.4zM503.1 552.2h4.8v1.5h-4.8zM555.8 552.2h2.4v1.5h-2.4zM236.8 553.7h4.8v1.5h-4.8zM320.7 553.7h2.4v1.5h-2.4zM390.3 553.7h2.4v1.5h-2.4zM471.9 553.7h2.4v1.5h-2.4zM647.0 553.7h2.4v1.5h-2.4zM119.2 555.2h2.4v1.5h-2.4zM174.4 555.2h2.4v1.5h-2.4zM294.3 555.2h2.4v1.5h-2.4zM399.9 555.2h2.4v1.5h-2.4zM409.5 555.2h2.4v1.5h-2.4zM433.5 555.2h2.4v1.5h-2.4zM459.9 555.2h4.8v1.5h-4.8zM205.6 556.7h2.4v1.5h-2.4zM282.3 556.7h2.4v1.5h-2.4zM380.7 556.7h2.4v1.5h-2.4zM421.5 556.7h2.4v1.5h-2.4zM426.3 556.7h2.4v1.5h-2.4zM459.9 556.7h2.4v1.5h-2.4zM683.0 556.7h2.4v1.5h-2.4zM232.0 558.2h2.4v1.5h-2.4zM279.9 558.2h2.4v1.5h-2.4zM685.4 558.2h2.4v1.5h-2.4zM656.6 559.7h2.4v1.5h-2.4zM668.6 559.7h2.4v1.5h-2.4zM692.6 559.7h2.4v1.5h-2.4zM635.0 561.2h2.4v1.5h-2.4zM227.2 562.7h2.4v1.5h-2.4zM275.1 562.7h2.4v1.5h-2.4zM368.7 562.7h2.4v1.5h-2.4zM567.8 562.7h2.4v1.5h-2.4zM399.9 564.2h2.4v1.5h-2.4zM445.5 564.2h2.4v1.5h-2.4zM457.5 565.7h2.4v1.5h-2.4zM510.3 565.7h2.4v1.5h-2.4zM260.7 567.2h2.4v1.5h-2.4zM647.0 567.2h2.4v1.5h-2.4zM474.3 568.7h2.4v1.5h-2.4zM126.4 570.2h2.4v1.5h-2.4zM157.6 570.2h2.4v1.5h-2.4zM227.2 570.2h2.4v1.5h-2.4zM232.0 570.2h2.4v1.5h-2.4zM258.3 570.2h2.4v1.5h-2.4zM471.9 570.2h2.4v1.5h-2.4zM522.3 570.2h2.4v1.5h-2.4zM591.8 571.7h2.4v1.5h-2.4zM491.1 573.2h2.4v1.5h-2.4zM584.6 574.7h2.4v1.5h-2.4zM608.6 574.7h2.4v1.5h-2.4zM680.6 574.7h2.4v1.5h-2.4zM140.8 576.2h2.4v1.5h-2.4zM208.0 576.2h2.4v1.5h-2.4zM351.9 576.2h2.4v1.5h-2.4z"/><path fill="#0000bf" d="M109.6 53.3h2.4v1.5h-2.4zM179.2 62.3h2.4v1.5h-2.4zM100.0 72.8h2.4v1.5h-2.4zM181.6 99.9h2.4v1.5h-2.4zM116.8 107.4h2.4v1.5h-2.4zM131.2 111.9h2.4v1.5h-2.4zM136.0 125.4h2.4v1.5h-2.4zM150.4 125.4h2.4v1.5h-2.4zM596.6 126.9h2.4v1.5h-2.4zM191.2 128.4h4.8v1.5h-4.8zM109.6 129.9h2.4v1.5h-2.4zM241.6 129.9h4.8v1.5h-4.8zM277.5 129.9h2.4v1.5h-2.4zM308.7 129.9h2.4v1.5h-2.4zM335.1 129.9h2.4v1.5h-2.4zM601.4 129.9h2.4v1.5h-2.4zM625.4 129.9h2.4v1.5h-2.4zM644.6 129.9h2.4v1.5h-2.4zM651.8 129.9h2.4v1.5h-2.4zM267.9 131.4h2.4v1.5h-2.4zM279.9 131.4h2.4v1.5h-2.4zM287.1 131.4h2.4v1.5h-2.4zM299.1 131.4h2.4v1.5h-2.4zM311.1 131.4h2.4v1.5h-2.4zM347.1 131.4h2.4v1.5h-2.4zM359.1 131.4h2.4v1.5h-2.4zM428.7 131.4h2.4v1.5h-2.4zM455.1 131.4h2.4v1.5h-2.4zM467.1 131.4h2.4v1.5h-2.4zM479.1 131.4h2.4v1.5h-2.4zM498.3 131.4h2.4v1.5h-2.4zM510.3 131.4h2.4v1.5h-2.4zM613.4 135.9h2.4v1.5h-2.4zM208.0 139.0h2.4v1.5h-2.4zM419.1 139.0h2.4v1.5h-2.4zM644.6 139.0h2.4v1.5h-2.4zM299.1 140.5h2.4v1.5h-2.4zM347.1 140.5h4.8v1.5h-4.8zM380.7 140.5h2.4v1.5h-2.4zM395.1 140.5h2.4v1.5h-2.4zM270.3 142.0h2.4v1.5h-2.4zM409.5 142.0h2.4v1.5h-2.4zM663.8 142.0h2.4v1.5h-2.4zM683.0 142.0h2.4v1.5h-2.4zM167.2 163.0h2.4v1.5h-2.4zM608.6 196.1h2.4v1.5h-2.4zM409.5 199.1h2.4v1.5h-2.4zM232.0 206.6h2.4v1.5h-2.4zM289.5 217.1h2.4v1.5h-2.4zM114.4 220.1h2.4v1.5h-2.4zM318.3 236.6h2.4v1.5h-2.4zM251.1 241.1h2.4v1.5h-2.4zM584.6 242.6h2.4v1.5h-2.4zM534.3 247.1h2.4v1.5h-2.4zM603.8 259.2h2.4v1.5h-2.4zM366.3 277.2h2.4v1.5h-2.4zM109.6 296.7h2.4v1.5h-2.4zM116.8 298.2h2.4v1.5h-2.4zM145.6 299.7h2.4v1.5h-2.4zM587.0 299.7h2.4v1.5h-2.4zM687.8 299.7h2.4v1.5h-2.4zM143.2 301.2h2.4v1.5h-2.4zM186.4 301.2h2.4v1.5h-2.4zM330.3 301.2h2.4v1.5h-2.4zM363.9 301.2h2.4v1.5h-2.4zM503.1 301.2h2.4v1.5h-2.4zM534.3 301.2h4.8v1.5h-4.8zM608.6 301.2h2.4v1.5h-2.4zM203.2 302.7h2.4v1.5h-2.4zM510.3 302.7h2.4v1.5h-2.4zM606.2 302.7h2.4v1.5h-2.4zM620.6 302.7h2.4v1.5h-2.4zM224.8 304.2h2.4v1.5h-2.4zM239.2 304.2h2.4v1.5h-2.4zM270.3 304.2h2.4v1.5h-2.4zM380.7 304.2h2.4v1.5h-2.4zM635.0 304.2h2.4v1.5h-2.4zM277.5 305.7h2.4v1.5h-2.4zM474.3 305.7h2.4v1.5h-2.4zM567.8 305.7h2.4v1.5h-2.4zM680.6 305.7h2.4v1.5h-2.4zM186.4 307.2h2.4v1.5h-2.4zM191.2 308.7h2.4v1.5h-2.4zM327.9 308.7h2.4v1.5h-2.4zM339.9 308.7h2.4v1.5h-2.4zM541.5 310.2h2.4v1.5h-2.4zM423.9 311.7h2.4v1.5h-2.4zM241.6 313.3h2.4v1.5h-2.4zM395.1 313.3h2.4v1.5h-2.4zM450.3 313.3h2.4v1.5h-2.4zM457.5 313.3h2.4v1.5h-2.4zM481.5 313.3h2.4v1.5h-2.4zM265.5 314.8h2.4v1.5h-2.4zM270.3 314.8h2.4v1.5h-2.4zM666.2 314.8h2.4v1.5h-2.4zM680.6 314.8h2.4v1.5h-2.4zM253.5 317.8h2.4v1.5h-2.4zM500.7 389.9h2.4v1.5h-2.4zM419.1 403.4h2.4v1.5h-2.4zM613.4 404.9h2.4v1.5h-2.4zM107.2 447.0h2.4v1.5h-2.4zM359.1 450.0h2.4v1.5h-2.4zM575.0 450.0h2.4v1.5h-2.4zM601.4 450.0h2.4v1.5h-2.4zM138.4 451.5h2.4v1.5h-2.4zM193.6 451.5h2.4v1.5h-2.4zM229.6 451.5h2.4v1.5h-2.4zM301.5 451.5h2.4v1.5h-2.4zM380.7 451.5h2.4v1.5h-2.4zM279.9 453.0h2.4v1.5h-2.4zM299.1 453.0h2.4v1.5h-2.4zM368.7 453.0h2.4v1.5h-2.4zM383.1 453.0h2.4v1.5h-2.4zM390.3 453.0h4.8v1.5h-4.8zM409.5 453.0h2.4v1.5h-2.4zM498.3 453.0h2.4v1.5h-2.4zM630.2 453.0h2.4v1.5h-2.4zM284.7 454.5h2.4v1.5h-2.4zM440.7 454.5h2.4v1.5h-2.4zM452.7 454.5h2.4v1.5h-2.4zM644.6 454.5h2.4v1.5h-2.4zM649.4 456.0h2.4v1.5h-2.4zM668.6 456.0h2.4v1.5h-2.4zM687.8 457.5h2.4v1.5h-2.4zM315.9 459.0h2.4v1.5h-2.4zM347.1 459.0h2.4v1.5h-2.4zM515.1 459.0h2.4v1.5h-2.4zM359.1 460.5h2.4v1.5h-2.4zM375.9 460.5h2.4v1.5h-2.4zM615.8 460.5h2.4v1.5h-2.4zM246.4 462.0h2.4v1.5h-2.4zM255.9 462.0h2.4v1.5h-2.4zM385.5 462.0h2.4v1.5h-2.4zM407.1 462.0h2.4v1.5h-2.4zM414.3 462.0h2.4v1.5h-2.4zM445.5 462.0h2.4v1.5h-2.4zM459.9 462.0h2.4v1.5h-2.4zM481.5 462.0h2.4v1.5h-2.4zM637.4 462.0h2.4v1.5h-2.4zM275.1 463.5h2.4v1.5h-2.4zM279.9 463.5h2.4v1.5h-2.4zM433.5 463.5h2.4v1.5h-2.4zM469.5 463.5h2.4v1.5h-2.4zM469.5 487.5h2.4v1.5h-2.4zM582.2 487.5h2.4v1.5h-2.4zM315.9 489.0h2.4v1.5h-2.4zM541.5 489.0h2.4v1.5h-2.4zM414.3 499.6h2.4v1.5h-2.4zM287.1 513.1h2.4v1.5h-2.4zM164.8 520.6h2.4v1.5h-2.4zM131.2 540.1h2.4v1.5h-2.4zM145.6 540.1h2.4v1.5h-2.4zM112.0 541.6h2.4v1.5h-2.4zM160.0 541.6h2.4v1.5h-2.4zM188.8 543.1h2.4v1.5h-2.4zM560.6 543.1h2.4v1.5h-2.4zM138.4 544.6h4.8v1.5h-4.8zM522.3 544.6h2.4v1.5h-2.4zM531.9 544.6h4.8v1.5h-4.8zM565.4 544.6h2.4v1.5h-2.4zM582.2 544.6h2.4v1.5h-2.4zM632.6 544.6h2.4v1.5h-2.4zM212.8 546.1h2.4v1.5h-2.4zM344.7 546.1h2.4v1.5h-2.4zM232.0 547.6h2.4v1.5h-2.4zM265.5 547.6h2.4v1.5h-2.4zM294.3 547.6h2.4v1.5h-2.4zM385.5 547.6h2.4v1.5h-2.4zM443.1 547.6h2.4v1.5h-2.4zM469.5 547.6h2.4v1.5h-2.4zM246.4 549.2h2.4v1.5h-2.4zM397.5 549.2h2.4v1.5h-2.4zM419.1 549.2h2.4v1.5h-2.4zM431.1 549.2h2.4v1.5h-2.4zM534.3 550.7h2.4v1.5h-2.4zM582.2 550.7h2.4v1.5h-2.4zM690.2 550.7h2.4v1.5h-2.4zM510.3 552.2h2.4v1.5h-2.4zM543.9 552.2h2.4v1.5h-2.4zM615.8 552.2h2.4v1.5h-2.4zM359.1 553.7h2.4v1.5h-2.4zM474.3 553.7h2.4v1.5h-2.4zM627.8 553.7h2.4v1.5h-2.4zM275.1 555.2h2.4v1.5h-2.4zM416.7 555.2h2.4v1.5h-2.4zM661.4 555.2h2.4v1.5h-2.4zM515.1 562.7h2.4v1.5h-2.4z"/><path fill="#0000cf" d="M599.0 56.3h2.4v1.5h-2.4zM675.8 57.8h2.4v1.5h-2.4zM440.7 71.3h2.4v1.5h-2.4zM236.8 102.9h2.4v1.5h-2.4zM133.6 125.4h2.4v1.5h-2.4zM145.6 125.4h2.4v1.5h-2.4zM174.4 126.9h4.8v1.5h-4.8zM572.6 126.9h2.4v1.5h-2.4zM140.8 128.4h2.4v1.5h-2.4zM198.4 128.4h2.4v1.5h-2.4zM519.9 128.4h2.4v1.5h-2.4zM529.5 128.4h2.4v1.5h-2.4zM114.4 129.9h2.4v1.5h-2.4zM160.0 129.9h2.4v1.5h-2.4zM200.8 129.9h2.4v1.5h-2.4zM236.8 129.9h2.4v1.5h-2.4zM282.3 129.9h2.4v1.5h-2.4zM320.7 129.9h2.4v1.5h-2.4zM440.7 129.9h2.4v1.5h-2.4zM541.5 129.9h2.4v1.5h-2.4zM606.2 129.9h2.4v1.5h-2.4zM241.6 131.4h2.4v1.5h-2.4zM255.9 131.4h2.4v1.5h-2.4zM323.1 131.4h2.4v1.5h-2.4zM337.5 131.4h2.4v1.5h-2.4zM349.5 131.4h2.4v1.5h-2.4zM368.7 131.4h2.4v1.5h-2.4zM383.1 131.4h2.4v1.5h-2.4zM459.9 131.4h2.4v1.5h-2.4zM483.9 131.4h2.4v1.5h-2.4zM519.9 135.9h2.4v1.5h-2.4zM690.2 135.9h2.4v1.5h-2.4zM505.5 137.5h2.4v1.5h-2.4zM512.7 137.5h2.4v1.5h-2.4zM313.5 139.0h2.4v1.5h-2.4zM486.3 139.0h2.4v1.5h-2.4zM311.1 140.5h2.4v1.5h-2.4zM320.7 140.5h2.4v1.5h-2.4zM337.5 140.5h2.4v1.5h-2.4zM651.8 140.5h2.4v1.5h-2.4zM301.5 142.0h2.4v1.5h-2.4zM344.7 142.0h2.4v1.5h-2.4zM402.3 142.0h2.4v1.5h-2.4zM435.9 142.0h2.4v1.5h-2.4zM443.1 142.0h2.4v1.5h-2.4zM690.2 142.0h2.4v1.5h-2.4zM431.1 148.0h2.4v1.5h-2.4zM529.5 148.0h2.4v1.5h-2.4zM404.7 152.5h2.4v1.5h-2.4zM534.3 160.0h2.4v1.5h-2.4zM167.2 194.5h2.4v1.5h-2.4zM555.8 200.6h2.4v1.5h-2.4zM488.7 211.1h2.4v1.5h-2.4zM323.1 245.6h2.4v1.5h-2.4zM121.6 247.1h2.4v1.5h-2.4zM272.7 259.2h2.4v1.5h-2.4zM172.0 293.7h2.4v1.5h-2.4zM119.2 295.2h2.4v1.5h-2.4zM222.4 295.2h2.4v1.5h-2.4zM164.8 298.2h2.4v1.5h-2.4zM138.4 301.2h2.4v1.5h-2.4zM347.1 301.2h2.4v1.5h-2.4zM102.4 302.7h2.4v1.5h-2.4zM155.2 302.7h2.4v1.5h-2.4zM169.6 302.7h2.4v1.5h-2.4zM306.3 302.7h2.4v1.5h-2.4zM399.9 302.7h2.4v1.5h-2.4zM507.9 302.7h2.4v1.5h-2.4zM100.0 304.2h2.4v1.5h-2.4zM483.9 304.2h2.4v1.5h-2.4zM272.7 305.7h2.4v1.5h-2.4zM440.7 305.7h2.4v1.5h-2.4zM591.8 307.2h2.4v1.5h-2.4zM666.2 307.2h2.4v1.5h-2.4zM356.7 308.7h2.4v1.5h-2.4zM354.3 310.2h2.4v1.5h-2.4zM361.5 310.2h2.4v1.5h-2.4zM558.2 310.2h2.4v1.5h-2.4zM311.1 311.7h2.4v1.5h-2.4zM373.5 311.7h2.4v1.5h-2.4zM267.9 313.3h2.4v1.5h-2.4zM282.3 313.3h2.4v1.5h-2.4zM414.3 313.3h2.4v1.5h-2.4zM426.3 313.3h2.4v1.5h-2.4zM469.5 313.3h2.4v1.5h-2.4zM647.0 313.3h2.4v1.5h-2.4zM239.2 314.8h2.4v1.5h-2.4zM255.9 314.8h2.4v1.5h-2.4zM632.6 320.8h2.4v1.5h-2.4zM488.7 334.3h2.4v1.5h-2.4zM315.9 344.8h2.4v1.5h-2.4zM284.7 346.3h2.4v1.5h-2.4zM270.3 376.4h2.4v1.5h-2.4zM339.9 388.4h2.4v1.5h-2.4zM654.2 410.9h2.4v1.5h-2.4zM143.2 445.5h2.4v1.5h-2.4zM479.1 448.5h2.4v1.5h-2.4zM495.9 448.5h2.4v1.5h-2.4zM582.2 448.5h2.4v1.5h-2.4zM220.0 451.5h2.4v1.5h-2.4zM296.7 451.5h2.4v1.5h-2.4zM349.5 451.5h2.4v1.5h-2.4zM366.3 451.5h2.4v1.5h-2.4zM527.1 451.5h2.4v1.5h-2.4zM255.9 453.0h2.4v1.5h-2.4zM411.9 453.0h2.4v1.5h-2.4zM488.7 453.0h2.4v1.5h-2.4zM637.4 453.0h2.4v1.5h-2.4zM467.1 454.5h2.4v1.5h-2.4zM680.6 456.0h2.4v1.5h-2.4zM534.3 457.5h2.4v1.5h-2.4zM337.5 459.0h2.4v1.5h-2.4zM522.3 459.0h2.4v1.5h-2.4zM601.4 459.0h2.4v1.5h-2.4zM210.4 460.5h2.4v1.5h-2.4zM320.7 460.5h2.4v1.5h-2.4zM351.9 460.5h2.4v1.5h-2.4zM284.7 462.0h2.4v1.5h-2.4zM308.7 495.1h2.4v1.5h-2.4zM503.1 495.1h2.4v1.5h-2.4zM320.7 531.1h2.4v1.5h-2.4zM155.2 540.1h4.8v1.5h-4.8zM193.6 543.1h2.4v1.5h-2.4zM515.1 544.6h2.4v1.5h-2.4zM548.6 544.6h2.4v1.5h-2.4zM575.0 544.6h2.4v1.5h-2.4zM596.6 544.6h7.2v1.5h-7.2zM354.3 546.1h2.4v1.5h-2.4zM375.9 546.1h2.4v1.5h-2.4zM594.2 546.1h2.4v1.5h-2.4zM606.2 546.1h2.4v1.5h-2.4zM200.8 547.6h2.4v1.5h-2.4zM325.5 547.6h2.4v1.5h-2.4zM476.7 547.6h2.4v1.5h-2.4zM414.3 549.2h2.4v1.5h-2.4zM452.7 549.2h2.4v1.5h-2.4zM647.0 549.2h2.4v1.5h-2.4zM668.6 549.2h2.4v1.5h-2.4zM678.2 549.2h2.4v1.5h-2.4zM212.8 550.7h2.4v1.5h-2.4zM692.6 550.7h2.4v1.5h-2.4zM486.3 552.2h2.4v1.5h-2.4zM255.9 553.7h2.4v1.5h-2.4zM323.1 553.7h2.4v1.5h-2.4zM244.0 555.2h2.4v1.5h-2.4zM272.7 555.2h2.4v1.5h-2.4zM291.9 555.2h2.4v1.5h-2.4zM330.3 555.2h2.4v1.5h-2.4zM443.1 555.2h2.4v1.5h-2.4zM680.6 556.7h2.4v1.5h-2.4zM289.5 570.2h2.4v1.5h-2.4zM184.0 574.7h2.4v1.5h-2.4z"/><path fill="#0000df" d="M560.6 74.3h2.4v1.5h-2.4zM685.4 90.9h2.4v1.5h-2.4zM690.2 93.9h2.4v1.5h-2.4zM512.7 99.9h2.4v1.5h-2.4zM661.4 104.4h2.4v1.5h-2.4zM104.8 123.9h2.4v1.5h-2.4zM133.6 129.9h2.4v1.5h-2.4zM435.9 129.9h2.4v1.5h-2.4zM524.7 129.9h2.4v1.5h-2.4zM531.9 129.9h2.4v1.5h-2.4zM167.2 131.4h2.4v1.5h-2.4zM212.8 131.4h2.4v1.5h-2.4zM229.6 131.4h2.4v1.5h-2.4zM253.5 131.4h2.4v1.5h-2.4zM275.1 131.4h2.4v1.5h-2.4zM308.7 131.4h2.4v1.5h-2.4zM325.5 131.4h2.4v1.5h-2.4zM354.3 131.4h2.4v1.5h-2.4zM507.9 131.4h2.4v1.5h-2.4zM635.0 131.4h2.4v1.5h-2.4zM529.5 135.9h2.4v1.5h-2.4zM627.8 135.9h4.8v1.5h-4.8zM241.6 139.0h2.4v1.5h-2.4zM332.7 139.0h2.4v1.5h-2.4zM656.6 139.0h2.4v1.5h-2.4zM282.3 140.5h2.4v1.5h-2.4zM378.3 142.0h2.4v1.5h-2.4zM687.8 143.5h2.4v1.5h-2.4zM649.4 158.5h2.4v1.5h-2.4zM440.7 191.5h2.4v1.5h-2.4zM647.0 193.0h2.4v1.5h-2.4zM632.6 215.6h2.4v1.5h-2.4zM287.1 232.1h2.4v1.5h-2.4zM291.9 284.7h2.4v1.5h-2.4zM157.6 301.2h2.4v1.5h-2.4zM519.9 301.2h2.4v1.5h-2.4zM599.0 301.2h2.4v1.5h-2.4zM294.3 302.7h2.4v1.5h-2.4zM303.9 302.7h2.4v1.5h-2.4zM371.1 302.7h2.4v1.5h-2.4zM515.1 302.7h2.4v1.5h-2.4zM539.1 302.7h2.4v1.5h-2.4zM546.2 302.7h2.4v1.5h-2.4zM495.9 304.2h2.4v1.5h-2.4zM260.7 305.7h2.4v1.5h-2.4zM435.9 305.7h2.4v1.5h-2.4zM455.1 305.7h2.4v1.5h-2.4zM459.9 305.7h2.4v1.5h-2.4zM579.8 305.7h2.4v1.5h-2.4zM675.8 305.7h2.4v1.5h-2.4zM687.8 305.7h2.4v1.5h-2.4zM114.4 307.2h2.4v1.5h-2.4zM253.5 307.2h2.4v1.5h-2.4zM673.4 307.2h2.4v1.5h-2.4zM212.8 310.2h2.4v1.5h-2.4zM337.5 310.2h2.4v1.5h-2.4zM368.7 310.2h2.4v1.5h-2.4zM378.3 311.7h2.4v1.5h-2.4zM407.1 311.7h2.4v1.5h-2.4zM428.7 311.7h2.4v1.5h-2.4zM476.7 311.7h2.4v1.5h-2.4zM663.8 311.7h2.4v1.5h-2.4zM289.5 313.3h2.4v1.5h-2.4zM179.2 331.3h2.4v1.5h-2.4zM222.4 355.3h2.4v1.5h-2.4zM651.8 374.9h2.4v1.5h-2.4zM251.1 385.4h2.4v1.5h-2.4zM215.2 404.9h2.4v1.5h-2.4zM546.2 407.9h2.4v1.5h-2.4zM138.4 410.9h2.4v1.5h-2.4zM191.2 415.4h2.4v1.5h-2.4zM440.7 439.5h2.4v1.5h-2.4zM255.9 445.5h2.4v1.5h-2.4zM157.6 450.0h2.4v1.5h-2.4zM596.6 450.0h2.4v1.5h-2.4zM128.8 451.5h2.4v1.5h-2.4zM208.0 451.5h2.4v1.5h-2.4zM320.7 451.5h2.4v1.5h-2.4zM330.3 451.5h2.4v1.5h-2.4zM385.5 451.5h2.4v1.5h-2.4zM603.8 451.5h2.4v1.5h-2.4zM107.2 453.0h2.4v1.5h-2.4zM433.5 453.0h2.4v1.5h-2.4zM469.5 453.0h2.4v1.5h-2.4zM510.3 453.0h2.4v1.5h-2.4zM534.3 453.0h2.4v1.5h-2.4zM620.6 453.0h2.4v1.5h-2.4zM246.4 454.5h2.4v1.5h-2.4zM272.7 454.5h2.4v1.5h-2.4zM486.3 454.5h2.4v1.5h-2.4zM553.4 456.0h2.4v1.5h-2.4zM572.6 456.0h2.4v1.5h-2.4zM654.2 456.0h2.4v1.5h-2.4zM678.2 456.0h2.4v1.5h-2.4zM536.7 457.5h2.4v1.5h-2.4zM611.0 457.5h2.4v1.5h-2.4zM203.2 459.0h2.4v1.5h-2.4zM623.0 459.0h2.4v1.5h-2.4zM244.0 460.5h2.4v1.5h-2.4zM332.7 460.5h2.4v1.5h-2.4zM344.7 460.5h2.4v1.5h-2.4zM620.6 460.5h2.4v1.5h-2.4zM299.1 462.0h4.8v1.5h-4.8zM395.1 462.0h2.4v1.5h-2.4zM421.5 462.0h2.4v1.5h-2.4zM476.7 462.0h2.4v1.5h-2.4zM431.1 463.5h2.4v1.5h-2.4zM263.1 480.0h2.4v1.5h-2.4zM495.9 483.0h2.4v1.5h-2.4zM162.4 507.1h2.4v1.5h-2.4zM421.5 507.1h2.4v1.5h-2.4zM447.9 516.1h2.4v1.5h-2.4zM253.5 526.6h2.4v1.5h-2.4zM184.0 541.6h2.4v1.5h-2.4zM152.8 544.6h2.4v1.5h-2.4zM205.6 546.1h2.4v1.5h-2.4zM479.1 546.1h2.4v1.5h-2.4zM498.3 546.1h2.4v1.5h-2.4zM512.7 546.1h2.4v1.5h-2.4zM623.0 546.1h2.4v1.5h-2.4zM275.1 547.6h2.4v1.5h-2.4zM287.1 547.6h2.4v1.5h-2.4zM371.1 547.6h2.4v1.5h-2.4zM445.5 547.6h2.4v1.5h-2.4zM277.5 549.2h4.8v1.5h-4.8zM407.1 549.2h2.4v1.5h-2.4zM440.7 549.2h2.4v1.5h-2.4zM529.5 550.7h2.4v1.5h-2.4zM611.0 550.7h2.4v1.5h-2.4zM222.4 552.2h2.4v1.5h-2.4zM315.9 552.2h2.4v1.5h-2.4zM515.1 552.2h2.4v1.5h-2.4zM548.6 552.2h2.4v1.5h-2.4zM337.5 553.7h2.4v1.5h-2.4zM265.5 555.2h2.4v1.5h-2.4zM287.1 555.2h2.4v1.5h-2.4zM299.1 555.2h2.4v1.5h-2.4zM666.2 555.2h2.4v1.5h-2.4zM131.2 574.7h2.4v1.5h-2.4z"/><path fill="#0000ef" d="M203.2 65.3h2.4v1.5h-2.4zM560.6 69.8h2.4v1.5h-2.4zM200.8 86.4h2.4v1.5h-2.4zM284.7 93.9h2.4v1.5h-2.4zM143.2 113.4h2.4v1.5h-2.4zM164.8 125.4h2.4v1.5h-2.4zM112.0 126.9h2.4v1.5h-2.4zM589.4 126.9h2.4v1.5h-2.4zM136.0 129.9h2.4v1.5h-2.4zM172.0 129.9h2.4v1.5h-2.4zM203.2 129.9h2.4v1.5h-2.4zM210.4 129.9h2.4v1.5h-2.4zM639.8 129.9h2.4v1.5h-2.4zM222.4 131.4h2.4v1.5h-2.4zM330.3 131.4h2.4v1.5h-2.4zM335.1 131.4h2.4v1.5h-2.4zM344.7 131.4h2.4v1.5h-2.4zM378.3 131.4h2.4v1.5h-2.4zM443.1 131.4h2.4v1.5h-2.4zM450.3 131.4h2.4v1.5h-2.4zM486.3 131.4h2.4v1.5h-2.4zM582.2 131.4h2.4v1.5h-2.4zM200.8 135.9h2.4v1.5h-2.4zM255.9 135.9h2.4v1.5h-2.4zM347.1 139.0h2.4v1.5h-2.4zM395.1 139.0h2.4v1.5h-2.4zM397.5 140.5h2.4v1.5h-2.4zM481.5 140.5h2.4v1.5h-2.4zM325.5 142.0h2.4v1.5h-2.4zM318.3 167.5h2.4v1.5h-2.4zM181.6 185.5h2.4v1.5h-2.4zM510.3 188.5h2.4v1.5h-2.4zM371.1 217.1h2.4v1.5h-2.4zM337.5 245.6h2.4v1.5h-2.4zM690.2 251.6h2.4v1.5h-2.4zM428.7 262.2h2.4v1.5h-2.4zM481.5 289.2h2.4v1.5h-2.4zM133.6 295.2h2.4v1.5h-2.4zM188.8 301.2h2.4v1.5h-2.4zM320.7 301.2h2.4v1.5h-2.4zM541.5 301.2h2.4v1.5h-2.4zM208.0 302.7h2.4v1.5h-2.4zM215.2 302.7h2.4v1.5h-2.4zM402.3 302.7h2.4v1.5h-2.4zM299.1 304.2h2.4v1.5h-2.4zM563.0 307.2h2.4v1.5h-2.4zM318.3 308.7h2.4v1.5h-2.4zM325.5 308.7h2.4v1.5h-2.4zM524.7 308.7h2.4v1.5h-2.4zM543.9 308.7h2.4v1.5h-2.4zM615.8 308.7h2.4v1.5h-2.4zM301.5 310.2h2.4v1.5h-2.4zM397.5 310.2h2.4v1.5h-2.4zM503.1 310.2h2.4v1.5h-2.4zM224.8 311.7h2.4v1.5h-2.4zM635.0 311.7h2.4v1.5h-2.4zM438.3 313.3h2.4v1.5h-2.4zM582.2 346.3h2.4v1.5h-2.4zM399.9 362.8h2.4v1.5h-2.4zM318.3 403.4h2.4v1.5h-2.4zM397.5 403.4h2.4v1.5h-2.4zM244.0 409.4h2.4v1.5h-2.4zM109.6 416.9h2.4v1.5h-2.4zM577.4 416.9h2.4v1.5h-2.4zM599.0 444.0h2.4v1.5h-2.4zM150.4 450.0h2.4v1.5h-2.4zM136.0 451.5h2.4v1.5h-2.4zM100.0 453.0h2.4v1.5h-2.4zM176.8 453.0h2.4v1.5h-2.4zM423.9 453.0h2.4v1.5h-2.4zM416.7 454.5h2.4v1.5h-2.4zM421.5 454.5h2.4v1.5h-2.4zM483.9 454.5h2.4v1.5h-2.4zM567.8 454.5h2.4v1.5h-2.4zM188.8 456.0h2.4v1.5h-2.4zM692.6 457.5h2.4v1.5h-2.4zM373.5 459.0h2.4v1.5h-2.4zM491.1 459.0h2.4v1.5h-2.4zM531.9 459.0h2.4v1.5h-2.4zM234.4 460.5h2.4v1.5h-2.4zM335.1 460.5h2.4v1.5h-2.4zM217.6 462.0h2.4v1.5h-2.4zM267.9 462.0h2.4v1.5h-2.4zM683.0 463.5h2.4v1.5h-2.4zM145.6 471.0h2.4v1.5h-2.4zM603.8 504.1h2.4v1.5h-2.4zM253.5 522.1h2.4v1.5h-2.4zM683.0 525.1h2.4v1.5h-2.4zM205.6 526.6h2.4v1.5h-2.4zM435.9 528.1h2.4v1.5h-2.4zM265.5 532.6h2.4v1.5h-2.4zM172.0 541.6h2.4v1.5h-2.4zM179.2 544.6h2.4v1.5h-2.4zM546.2 544.6h2.4v1.5h-2.4zM361.5 546.1h2.4v1.5h-2.4zM253.5 547.6h2.4v1.5h-2.4zM330.3 547.6h2.4v1.5h-2.4zM644.6 547.6h2.4v1.5h-2.4zM651.8 547.6h2.4v1.5h-2.4zM265.5 549.2h2.4v1.5h-2.4zM301.5 549.2h2.4v1.5h-2.4zM217.6 550.7h2.4v1.5h-2.4zM527.1 550.7h2.4v1.5h-2.4zM560.6 550.7h2.4v1.5h-2.4zM579.8 550.7h2.4v1.5h-2.4zM601.4 550.7h2.4v1.5h-2.4zM618.2 550.7h2.4v1.5h-2.4zM599.0 552.2h2.4v1.5h-2.4zM234.4 553.7h2.4v1.5h-2.4zM363.9 553.7h2.4v1.5h-2.4zM637.4 553.7h2.4v1.5h-2.4z"/><path fill="#0000ff" d="M363.9 110.4h2.4v1.5h-2.4zM196.0 126.9h2.4v1.5h-2.4zM102.4 128.4h2.4v1.5h-2.4zM126.4 128.4h2.4v1.5h-2.4zM613.4 128.4h2.4v1.5h-2.4zM150.4 129.9h2.4v1.5h-2.4zM215.2 129.9h2.4v1.5h-2.4zM251.1 129.9h2.4v1.5h-2.4zM210.4 131.4h2.4v1.5h-2.4zM234.4 131.4h2.4v1.5h-2.4zM265.5 131.4h2.4v1.5h-2.4zM481.5 131.4h2.4v1.5h-2.4zM505.5 131.4h2.4v1.5h-2.4zM577.4 131.4h2.4v1.5h-2.4zM203.2 135.9h2.4v1.5h-2.4zM527.1 135.9h2.4v1.5h-2.4zM685.4 135.9h2.4v1.5h-2.4zM212.8 139.0h2.4v1.5h-2.4zM284.7 139.0h2.4v1.5h-2.4zM289.5 139.0h2.4v1.5h-2.4zM392.7 139.0h2.4v1.5h-2.4zM654.2 139.0h2.4v1.5h-2.4zM248.8 140.5h2.4v1.5h-2.4zM308.7 140.5h2.4v1.5h-2.4zM433.5 140.5h2.4v1.5h-2.4zM464.7 140.5h2.4v1.5h-2.4zM474.3 140.5h2.4v1.5h-2.4zM659.0 140.5h2.4v1.5h-2.4zM680.6 142.0h2.4v1.5h-2.4zM366.3 143.5h2.4v1.5h-2.4zM632.6 175.0h2.4v1.5h-2.4zM541.5 235.1h2.4v1.5h-2.4zM239.2 262.2h2.4v1.5h-2.4zM515.1 290.7h2.4v1.5h-2.4zM100.0 296.7h2.4v1.5h-2.4zM114.4 298.2h2.4v1.5h-2.4zM567.8 299.7h2.4v1.5h-2.4zM152.8 301.2h2.4v1.5h-2.4zM198.4 301.2h2.4v1.5h-2.4zM335.1 301.2h2.4v1.5h-2.4zM373.5 301.2h2.4v1.5h-2.4zM527.1 301.2h2.4v1.5h-2.4zM327.9 302.7h2.4v1.5h-2.4zM493.5 302.7h2.4v1.5h-2.4zM625.4 302.7h2.4v1.5h-2.4zM296.7 304.2h2.4v1.5h-2.4zM371.1 304.2h2.4v1.5h-2.4zM467.1 304.2h2.4v1.5h-2.4zM627.8 304.2h2.4v1.5h-2.4zM246.4 305.7h2.4v1.5h-2.4zM469.5 305.7h4.8v1.5h-4.8zM236.8 307.2h2.4v1.5h-2.4zM260.7 307.2h2.4v1.5h-2.4zM570.2 307.2h2.4v1.5h-2.4zM577.4 307.2h2.4v1.5h-2.4zM685.4 307.2h2.4v1.5h-2.4zM534.3 308.7h2.4v1.5h-2.4zM330.3 310.2h2.4v1.5h-2.4zM335.1 310.2h2.4v1.5h-2.4zM507.9 310.2h2.4v1.5h-2.4zM519.9 310.2h2.4v1.5h-2.4zM236.8 311.7h2.4v1.5h-2.4zM435.9 311.7h2.4v1.5h-2.4zM462.3 313.3h2.4v1.5h-2.4zM479.1 313.3h2.4v1.5h-2.4zM411.9 349.3h2.4v1.5h-2.4zM685.4 353.8h2.4v1.5h-2.4zM136.0 361.3h2.4v1.5h-2.4zM474.3 367.3h2.4v1.5h-2.4zM342.3 386.9h2.4v1.5h-2.4zM116.8 389.9h2.4v1.5h-2.4zM174.4 400.4h2.4v1.5h-2.4zM126.4 415.4h2.4v1.5h-2.4zM277.5 421.4h2.4v1.5h-2.4zM431.1 445.5h2.4v1.5h-2.4zM198.4 451.5h2.4v1.5h-2.4zM327.9 451.5h2.4v1.5h-2.4zM315.9 453.0h2.4v1.5h-2.4zM618.2 453.0h2.4v1.5h-2.4zM263.1 454.5h2.4v1.5h-2.4zM433.5 454.5h2.4v1.5h-2.4zM625.4 454.5h2.4v1.5h-2.4zM567.8 456.0h2.4v1.5h-2.4zM663.8 456.0h2.4v1.5h-2.4zM671.0 457.5h2.4v1.5h-2.4zM196.0 459.0h2.4v1.5h-2.4zM390.3 459.0h2.4v1.5h-2.4zM246.4 460.5h2.4v1.5h-2.4zM330.3 460.5h2.4v1.5h-2.4zM349.5 460.5h2.4v1.5h-2.4zM282.3 462.0h2.4v1.5h-2.4zM296.7 462.0h2.4v1.5h-2.4zM428.7 462.0h2.4v1.5h-2.4zM668.6 463.5h2.4v1.5h-2.4zM119.2 469.5h2.4v1.5h-2.4zM198.4 489.0h2.4v1.5h-2.4zM258.3 493.6h2.4v1.5h-2.4zM140.8 504.1h2.4v1.5h-2.4zM387.9 510.1h2.4v1.5h-2.4zM395.1 523.6h2.4v1.5h-2.4zM107.2 541.6h2.4v1.5h-2.4zM119.2 544.6h2.4v1.5h-2.4zM186.4 546.1h2.4v1.5h-2.4zM368.7 546.1h2.4v1.5h-2.4zM493.5 546.1h2.4v1.5h-2.4zM505.5 546.1h4.8v1.5h-4.8zM188.8 547.6h2.4v1.5h-2.4zM337.5 547.6h2.4v1.5h-2.4zM383.1 547.6h2.4v1.5h-2.4zM402.3 547.6h2.4v1.5h-2.4zM637.4 547.6h2.4v1.5h-2.4zM409.5 549.2h2.4v1.5h-2.4zM680.6 549.2h2.4v1.5h-2.4zM220.0 550.7h2.4v1.5h-2.4zM625.4 550.7h2.4v1.5h-2.4zM500.7 552.2h2.4v1.5h-2.4zM517.5 552.2h2.4v1.5h-2.4zM623.0 552.2h2.4v1.5h-2.4zM143.2 553.7h2.4v1.5h-2.4zM241.6 553.7h2.4v1.5h-2.4zM289.5 553.7h2.4v1.5h-2.4zM361.5 553.7h2.4v1.5h-2.4zM447.9 553.7h2.4v1.5h-2.4zM270.3 555.2h2.4v1.5h-2.4zM395.1 555.2h2.4v1.5h-2.4zM426.3 555.2h2.4v1.5h-2.4zM668.6 555.2h2.4v1.5h-2.4z"/><path fill="#0010ff" d="M428.7 107.4h2.4v1.5h-2.4zM140.8 122.4h2.4v1.5h-2.4zM102.4 125.4h2.4v1.5h-2.4zM555.8 128.4h2.4v1.5h-2.4zM577.4 128.4h2.4v1.5h-2.4zM630.2 129.9h2.4v1.5h-2.4zM184.0 131.4h2.4v1.5h-2.4zM270.3 131.4h2.4v1.5h-2.4zM332.7 131.4h2.4v1.5h-2.4zM464.7 131.4h2.4v1.5h-2.4zM611.0 131.4h2.4v1.5h-2.4zM399.9 135.9h2.4v1.5h-2.4zM632.6 135.9h2.4v1.5h-2.4zM678.2 135.9h2.4v1.5h-2.4zM375.9 137.5h2.4v1.5h-2.4zM399.9 137.5h2.4v1.5h-2.4zM426.3 139.0h2.4v1.5h-2.4zM404.7 140.5h2.4v1.5h-2.4zM414.3 140.5h2.4v1.5h-2.4zM431.1 140.5h2.4v1.5h-2.4zM438.3 140.5h2.4v1.5h-2.4zM455.1 140.5h2.4v1.5h-2.4zM471.9 142.0h2.4v1.5h-2.4zM344.7 250.1h2.4v1.5h-2.4zM361.5 262.2h2.4v1.5h-2.4zM162.4 265.2h2.4v1.5h-2.4zM663.8 271.2h2.4v1.5h-2.4zM160.0 296.7h2.4v1.5h-2.4zM167.2 298.2h2.4v1.5h-2.4zM354.3 301.2h2.4v1.5h-2.4zM517.5 301.2h2.4v1.5h-2.4zM325.5 302.7h2.4v1.5h-2.4zM361.5 302.7h2.4v1.5h-2.4zM534.3 302.7h2.4v1.5h-2.4zM615.8 302.7h2.4v1.5h-2.4zM313.5 304.2h2.4v1.5h-2.4zM438.3 304.2h2.4v1.5h-2.4zM229.6 305.7h2.4v1.5h-2.4zM279.9 305.7h2.4v1.5h-2.4zM409.5 305.7h2.4v1.5h-2.4zM488.7 305.7h2.4v1.5h-2.4zM551.0 307.2h2.4v1.5h-2.4zM668.6 307.2h2.4v1.5h-2.4zM539.1 308.7h2.4v1.5h-2.4zM594.2 308.7h2.4v1.5h-2.4zM678.2 308.7h2.4v1.5h-2.4zM299.1 310.2h2.4v1.5h-2.4zM488.7 310.2h2.4v1.5h-2.4zM611.0 310.2h2.4v1.5h-2.4zM491.1 311.7h2.4v1.5h-2.4zM275.1 313.3h2.4v1.5h-2.4zM649.4 313.3h2.4v1.5h-2.4zM680.6 313.3h2.4v1.5h-2.4zM671.0 314.8h2.4v1.5h-2.4zM675.8 314.8h2.4v1.5h-2.4zM172.0 447.0h2.4v1.5h-2.4zM104.8 448.5h2.4v1.5h-2.4zM351.9 451.5h2.4v1.5h-2.4zM248.8 454.5h2.4v1.5h-2.4zM426.3 454.5h2.4v1.5h-2.4zM186.4 456.0h2.4v1.5h-2.4zM450.3 456.0h2.4v1.5h-2.4zM673.4 457.5h2.4v1.5h-2.4zM260.7 460.5h2.4v1.5h-2.4zM299.1 460.5h2.4v1.5h-2.4zM318.3 460.5h2.4v1.5h-2.4zM220.0 462.0h2.4v1.5h-2.4zM423.9 462.0h2.4v1.5h-2.4zM671.0 462.0h2.4v1.5h-2.4zM351.9 519.1h2.4v1.5h-2.4zM563.0 544.6h2.4v1.5h-2.4zM210.4 546.1h2.4v1.5h-2.4zM323.1 547.6h2.4v1.5h-2.4zM366.3 547.6h2.4v1.5h-2.4zM639.8 549.2h2.4v1.5h-2.4zM255.9 550.7h2.4v1.5h-2.4zM548.6 550.7h2.4v1.5h-2.4zM239.2 552.2h2.4v1.5h-2.4zM368.7 553.7h2.4v1.5h-2.4zM656.6 553.7h2.4v1.5h-2.4zM267.9 555.2h2.4v1.5h-2.4zM613.4 556.7h2.4v1.5h-2.4z"/><path fill="#0020ff" d="M140.8 123.9h2.4v1.5h-2.4zM109.6 125.4h2.4v1.5h-2.4zM121.6 125.4h2.4v1.5h-2.4zM126.4 125.4h2.4v1.5h-2.4zM133.6 126.9h2.4v1.5h-2.4zM184.0 126.9h2.4v1.5h-2.4zM620.6 126.9h2.4v1.5h-2.4zM121.6 128.4h2.4v1.5h-2.4zM196.0 128.4h2.4v1.5h-2.4zM563.0 128.4h2.4v1.5h-2.4zM587.0 128.4h2.4v1.5h-2.4zM596.6 128.4h2.4v1.5h-2.4zM145.6 129.9h2.4v1.5h-2.4zM248.8 129.9h2.4v1.5h-2.4zM505.5 129.9h2.4v1.5h-2.4zM301.5 131.4h2.4v1.5h-2.4zM327.9 131.4h2.4v1.5h-2.4zM534.3 131.4h2.4v1.5h-2.4zM620.6 131.4h2.4v1.5h-2.4zM438.3 135.9h2.4v1.5h-2.4zM457.5 135.9h2.4v1.5h-2.4zM692.6 135.9h2.4v1.5h-2.4zM318.3 137.5h2.4v1.5h-2.4zM342.3 137.5h2.4v1.5h-2.4zM294.3 139.0h2.4v1.5h-2.4zM325.5 139.0h2.4v1.5h-2.4zM467.1 139.0h2.4v1.5h-2.4zM483.9 139.0h2.4v1.5h-2.4zM687.8 139.0h2.4v1.5h-2.4zM275.1 140.5h2.4v1.5h-2.4zM354.3 140.5h2.4v1.5h-2.4zM371.1 140.5h2.4v1.5h-2.4zM678.2 140.5h2.4v1.5h-2.4zM255.9 142.0h2.4v1.5h-2.4zM457.5 143.5h2.4v1.5h-2.4zM121.6 296.7h2.4v1.5h-2.4zM124.0 301.2h2.4v1.5h-2.4zM136.0 301.2h2.4v1.5h-2.4zM287.1 304.2h2.4v1.5h-2.4zM351.9 304.2h2.4v1.5h-2.4zM392.7 304.2h2.4v1.5h-2.4zM481.5 304.2h2.4v1.5h-2.4zM623.0 304.2h2.4v1.5h-2.4zM565.4 305.7h2.4v1.5h-2.4zM632.6 305.7h2.4v1.5h-2.4zM529.5 307.2h2.4v1.5h-2.4zM663.8 307.2h2.4v1.5h-2.4zM687.8 307.2h2.4v1.5h-2.4zM380.7 308.7h4.8v1.5h-4.8zM519.9 308.7h2.4v1.5h-2.4zM402.3 311.7h2.4v1.5h-2.4zM287.1 313.3h2.4v1.5h-2.4zM656.6 313.3h2.4v1.5h-2.4zM263.1 314.8h2.4v1.5h-2.4zM363.9 444.0h2.4v1.5h-2.4zM148.0 450.0h2.4v1.5h-2.4zM344.7 450.0h2.4v1.5h-2.4zM582.2 450.0h2.4v1.5h-2.4zM611.0 451.5h2.4v1.5h-2.4zM102.4 453.0h2.4v1.5h-2.4zM200.8 453.0h2.4v1.5h-2.4zM291.9 453.0h2.4v1.5h-2.4zM347.1 453.0h2.4v1.5h-2.4zM356.7 453.0h2.4v1.5h-2.4zM375.9 453.0h2.4v1.5h-2.4zM519.9 453.0h2.4v1.5h-2.4zM615.8 453.0h2.4v1.5h-2.4zM443.1 454.5h2.4v1.5h-2.4zM342.3 457.5h2.4v1.5h-2.4zM332.7 459.0h2.4v1.5h-2.4zM368.7 459.0h2.4v1.5h-2.4zM505.5 459.0h2.4v1.5h-2.4zM435.9 462.0h2.4v1.5h-2.4zM176.8 541.6h2.4v1.5h-2.4zM172.0 544.6h2.4v1.5h-2.4zM579.8 544.6h2.4v1.5h-2.4zM584.6 546.1h2.4v1.5h-2.4zM239.2 549.2h2.4v1.5h-2.4zM289.5 549.2h2.4v1.5h-2.4zM423.9 549.2h4.8v1.5h-4.8zM531.9 550.7h2.4v1.5h-2.4zM608.6 550.7h2.4v1.5h-2.4zM659.0 550.7h4.8v1.5h-4.8zM373.5 552.2h2.4v1.5h-2.4zM498.3 552.2h2.4v1.5h-2.4zM275.1 553.7h2.4v1.5h-2.4zM354.3 553.7h2.4v1.5h-2.4z"/><path fill="#0030ff" d="M107.2 123.9h2.4v1.5h-2.4zM184.0 123.9h2.4v1.5h-2.4zM140.8 126.9h2.4v1.5h-2.4zM563.0 126.9h2.4v1.5h-2.4zM107.2 128.4h2.4v1.5h-2.4zM145.6 128.4h2.4v1.5h-2.4zM188.8 128.4h2.4v1.5h-2.4zM565.4 128.4h2.4v1.5h-2.4zM567.8 129.9h2.4v1.5h-2.4zM620.6 129.9h2.4v1.5h-2.4zM246.4 131.4h4.8v1.5h-4.8zM445.5 131.4h2.4v1.5h-2.4zM387.9 135.9h2.4v1.5h-2.4zM404.7 135.9h2.4v1.5h-2.4zM673.4 135.9h2.4v1.5h-2.4zM217.6 137.5h2.4v1.5h-2.4zM222.4 137.5h2.4v1.5h-2.4zM282.3 137.5h2.4v1.5h-2.4zM308.7 137.5h2.4v1.5h-2.4zM332.7 137.5h2.4v1.5h-2.4zM363.9 137.5h2.4v1.5h-2.4zM654.2 137.5h2.4v1.5h-2.4zM678.2 137.5h2.4v1.5h-2.4zM220.0 139.0h2.4v1.5h-2.4zM227.2 139.0h2.4v1.5h-2.4zM234.4 139.0h2.4v1.5h-2.4zM359.1 139.0h2.4v1.5h-2.4zM380.7 139.0h2.4v1.5h-2.4zM471.9 139.0h2.4v1.5h-2.4zM342.3 140.5h2.4v1.5h-2.4zM440.7 140.5h2.4v1.5h-2.4zM683.0 140.5h2.4v1.5h-2.4zM375.9 145.0h2.4v1.5h-2.4zM143.2 296.7h2.4v1.5h-2.4zM140.8 299.7h2.4v1.5h-2.4zM591.8 299.7h2.4v1.5h-2.4zM133.6 301.2h2.4v1.5h-2.4zM119.2 302.7h2.4v1.5h-2.4zM210.4 302.7h2.4v1.5h-2.4zM512.7 302.7h2.4v1.5h-2.4zM414.3 304.2h2.4v1.5h-2.4zM457.5 305.7h2.4v1.5h-2.4zM661.4 305.7h2.4v1.5h-2.4zM690.2 307.2h4.8v1.5h-4.8zM188.8 308.7h2.4v1.5h-2.4zM196.0 308.7h2.4v1.5h-2.4zM363.9 308.7h2.4v1.5h-2.4zM663.8 308.7h2.4v1.5h-2.4zM673.4 308.7h2.4v1.5h-2.4zM294.3 311.7h2.4v1.5h-2.4zM404.7 311.7h2.4v1.5h-2.4zM452.7 311.7h2.4v1.5h-2.4zM647.0 311.7h2.4v1.5h-2.4zM279.9 313.3h2.4v1.5h-2.4zM260.7 314.8h2.4v1.5h-2.4zM126.4 450.0h2.4v1.5h-2.4zM522.3 451.5h2.4v1.5h-2.4zM114.4 453.0h2.4v1.5h-2.4zM193.6 453.0h2.4v1.5h-2.4zM407.1 453.0h2.4v1.5h-2.4zM541.5 453.0h2.4v1.5h-2.4zM236.8 454.5h2.4v1.5h-2.4zM244.0 454.5h2.4v1.5h-2.4zM464.7 454.5h2.4v1.5h-2.4zM507.9 454.5h2.4v1.5h-2.4zM409.5 460.5h2.4v1.5h-2.4zM651.8 462.0h2.4v1.5h-2.4zM661.4 462.0h2.4v1.5h-2.4zM265.5 463.5h2.4v1.5h-2.4zM119.2 540.1h2.4v1.5h-2.4zM107.2 544.6h2.4v1.5h-2.4zM128.8 544.6h2.4v1.5h-2.4zM570.2 544.6h2.4v1.5h-2.4zM510.3 546.1h2.4v1.5h-2.4zM543.9 546.1h2.4v1.5h-2.4zM224.8 547.6h2.4v1.5h-2.4zM474.3 547.6h2.4v1.5h-2.4zM294.3 549.2h2.4v1.5h-2.4zM351.9 549.2h2.4v1.5h-2.4zM450.3 549.2h2.4v1.5h-2.4zM666.2 549.2h2.4v1.5h-2.4zM375.9 552.2h2.4v1.5h-2.4zM661.4 553.7h2.4v1.5h-2.4zM253.5 555.2h2.4v1.5h-2.4zM407.1 555.2h2.4v1.5h-2.4z"/><path fill="#0040ff" d="M136.0 123.9h2.4v1.5h-2.4zM179.2 123.9h2.4v1.5h-2.4zM543.9 125.4h2.4v1.5h-2.4zM138.4 126.9h2.4v1.5h-2.4zM539.1 126.9h2.4v1.5h-2.4zM551.0 128.4h2.4v1.5h-2.4zM176.8 129.9h2.4v1.5h-2.4zM205.6 131.4h2.4v1.5h-2.4zM474.3 131.4h2.4v1.5h-2.4zM517.5 131.4h2.4v1.5h-2.4zM208.0 135.9h2.4v1.5h-2.4zM462.3 135.9h2.4v1.5h-2.4zM618.2 135.9h2.4v1.5h-2.4zM663.8 135.9h2.4v1.5h-2.4zM255.9 137.5h2.4v1.5h-2.4zM303.9 137.5h2.4v1.5h-2.4zM498.3 137.5h2.4v1.5h-2.4zM232.0 139.0h2.4v1.5h-2.4zM236.8 139.0h2.4v1.5h-2.4zM318.3 139.0h2.4v1.5h-2.4zM351.9 139.0h2.4v1.5h-2.4zM323.1 140.5h2.4v1.5h-2.4zM351.9 140.5h2.4v1.5h-2.4zM387.9 140.5h2.4v1.5h-2.4zM476.7 140.5h2.4v1.5h-2.4zM661.4 140.5h2.4v1.5h-2.4zM675.8 140.5h2.4v1.5h-2.4zM313.5 142.0h2.4v1.5h-2.4zM332.7 142.0h2.4v1.5h-2.4zM337.5 142.0h2.4v1.5h-2.4zM347.1 142.0h2.4v1.5h-2.4zM375.9 142.0h2.4v1.5h-2.4zM399.9 142.0h2.4v1.5h-2.4zM438.3 142.0h2.4v1.5h-2.4zM294.3 143.5h2.4v1.5h-2.4zM150.4 289.2h2.4v1.5h-2.4zM152.8 296.7h2.4v1.5h-2.4zM112.0 298.2h2.4v1.5h-2.4zM584.6 298.2h2.4v1.5h-2.4zM184.0 299.7h2.4v1.5h-2.4zM596.6 299.7h2.4v1.5h-2.4zM128.8 302.7h2.4v1.5h-2.4zM167.2 302.7h2.4v1.5h-2.4zM373.5 302.7h2.4v1.5h-2.4zM522.3 302.7h2.4v1.5h-2.4zM527.1 302.7h2.4v1.5h-2.4zM315.9 304.2h2.4v1.5h-2.4zM491.1 304.2h2.4v1.5h-2.4zM224.8 305.7h4.8v1.5h-4.8zM234.4 305.7h2.4v1.5h-2.4zM181.6 307.2h2.4v1.5h-2.4zM371.1 307.2h2.4v1.5h-2.4zM351.9 308.7h4.8v1.5h-4.8zM385.5 308.7h2.4v1.5h-2.4zM613.4 308.7h2.4v1.5h-2.4zM198.4 310.2h2.4v1.5h-2.4zM203.2 310.2h2.4v1.5h-2.4zM390.3 310.2h2.4v1.5h-2.4zM512.7 310.2h2.4v1.5h-2.4zM623.0 310.2h2.4v1.5h-2.4zM248.8 311.7h2.4v1.5h-2.4zM272.7 313.3h2.4v1.5h-2.4zM291.9 313.3h2.4v1.5h-2.4zM447.9 313.3h2.4v1.5h-2.4zM539.1 314.8h2.4v1.5h-2.4zM587.0 450.0h2.4v1.5h-2.4zM587.0 451.5h2.4v1.5h-2.4zM371.1 453.0h2.4v1.5h-2.4zM515.1 453.0h2.4v1.5h-2.4zM390.3 454.5h2.4v1.5h-2.4zM606.2 456.0h2.4v1.5h-2.4zM246.4 457.5h2.4v1.5h-2.4zM443.1 457.5h2.4v1.5h-2.4zM507.9 457.5h2.4v1.5h-2.4zM335.1 459.0h2.4v1.5h-2.4zM361.5 459.0h2.4v1.5h-2.4zM366.3 459.0h2.4v1.5h-2.4zM392.7 459.0h2.4v1.5h-2.4zM404.7 459.0h2.4v1.5h-2.4zM503.1 459.0h2.4v1.5h-2.4zM443.1 460.5h2.4v1.5h-2.4zM483.9 462.0h2.4v1.5h-2.4zM457.5 465.0h2.4v1.5h-2.4zM687.8 469.5h2.4v1.5h-2.4zM160.0 540.1h2.4v1.5h-2.4zM200.8 540.1h2.4v1.5h-2.4zM186.4 543.1h2.4v1.5h-2.4zM155.2 544.6h2.4v1.5h-2.4zM174.4 544.6h2.4v1.5h-2.4zM198.4 546.1h2.4v1.5h-2.4zM503.1 546.1h2.4v1.5h-2.4zM613.4 546.1h2.4v1.5h-2.4zM222.4 547.6h2.4v1.5h-2.4zM639.8 547.6h2.4v1.5h-2.4zM253.5 549.2h2.4v1.5h-2.4zM287.1 549.2h2.4v1.5h-2.4zM306.3 549.2h2.4v1.5h-2.4zM347.1 549.2h2.4v1.5h-2.4zM541.5 550.7h2.4v1.5h-2.4zM495.9 552.2h2.4v1.5h-2.4zM347.1 553.7h2.4v1.5h-2.4zM383.1 553.7h2.4v1.5h-2.4zM402.3 553.7h2.4v1.5h-2.4zM407.1 553.7h2.4v1.5h-2.4zM258.3 555.2h2.4v1.5h-2.4zM654.2 558.2h2.4v1.5h-2.4zM661.4 561.2h2.4v1.5h-2.4z"/><path fill="#0050ff" d="M107.2 113.4h2.4v1.5h-2.4zM102.4 126.9h2.4v1.5h-2.4zM510.3 128.4h2.4v1.5h-2.4zM553.4 128.4h2.4v1.5h-2.4zM572.6 128.4h2.4v1.5h-2.4zM543.9 129.9h2.4v1.5h-2.4zM577.4 129.9h2.4v1.5h-2.4zM277.5 131.4h2.4v1.5h-2.4zM291.9 131.4h2.4v1.5h-2.4zM495.9 131.4h2.4v1.5h-2.4zM515.1 131.4h2.4v1.5h-2.4zM551.0 131.4h2.4v1.5h-2.4zM198.4 135.9h2.4v1.5h-2.4zM380.7 135.9h2.4v1.5h-2.4zM495.9 135.9h2.4v1.5h-2.4zM654.2 135.9h2.4v1.5h-2.4zM668.6 135.9h2.4v1.5h-2.4zM241.6 137.5h2.4v1.5h-2.4zM294.3 137.5h2.4v1.5h-2.4zM419.1 137.5h2.4v1.5h-2.4zM476.7 137.5h2.4v1.5h-2.4zM493.5 137.5h2.4v1.5h-2.4zM692.6 137.5h2.4v1.5h-2.4zM277.5 139.0h2.4v1.5h-2.4zM339.9 139.0h2.4v1.5h-2.4zM371.1 139.0h2.4v1.5h-2.4zM491.1 139.0h2.4v1.5h-2.4zM263.1 140.5h2.4v1.5h-2.4zM361.5 140.5h2.4v1.5h-2.4zM366.3 140.5h2.4v1.5h-2.4zM383.1 140.5h2.4v1.5h-2.4zM423.9 140.5h2.4v1.5h-2.4zM217.6 142.0h2.4v1.5h-2.4zM383.1 142.0h2.4v1.5h-2.4zM687.8 142.0h2.4v1.5h-2.4zM692.6 142.0h2.4v1.5h-2.4zM678.2 148.0h2.4v1.5h-2.4zM143.2 284.7h2.4v1.5h-2.4zM143.2 286.2h2.4v1.5h-2.4zM112.0 295.2h2.4v1.5h-2.4zM155.2 295.2h2.4v1.5h-2.4zM116.8 299.7h2.4v1.5h-2.4zM174.4 299.7h2.4v1.5h-2.4zM116.8 301.2h2.4v1.5h-2.4zM356.7 301.2h2.4v1.5h-2.4zM560.6 301.2h2.4v1.5h-2.4zM565.4 301.2h2.4v1.5h-2.4zM172.0 302.7h2.4v1.5h-2.4zM315.9 302.7h2.4v1.5h-2.4zM344.7 302.7h2.4v1.5h-2.4zM383.1 302.7h2.4v1.5h-2.4zM582.2 302.7h2.4v1.5h-2.4zM308.7 304.2h2.4v1.5h-2.4zM479.1 304.2h2.4v1.5h-2.4zM493.5 304.2h2.4v1.5h-2.4zM217.6 305.7h2.4v1.5h-2.4zM275.1 305.7h2.4v1.5h-2.4zM289.5 305.7h2.4v1.5h-2.4zM447.9 305.7h2.4v1.5h-2.4zM481.5 305.7h2.4v1.5h-2.4zM486.3 305.7h2.4v1.5h-2.4zM647.0 305.7h2.4v1.5h-2.4zM188.8 307.2h2.4v1.5h-2.4zM265.5 307.2h2.4v1.5h-2.4zM282.3 307.2h2.4v1.5h-2.4zM543.9 307.2h2.4v1.5h-2.4zM644.6 307.2h2.4v1.5h-2.4zM349.5 308.7h2.4v1.5h-2.4zM395.1 308.7h2.4v1.5h-2.4zM515.1 308.7h2.4v1.5h-2.4zM654.2 308.7h2.4v1.5h-2.4zM428.7 310.2h2.4v1.5h-2.4zM476.7 310.2h2.4v1.5h-2.4zM399.9 311.7h2.4v1.5h-2.4zM421.5 311.7h2.4v1.5h-2.4zM687.8 314.8h2.4v1.5h-2.4zM145.6 436.5h2.4v1.5h-2.4zM145.6 439.5h2.4v1.5h-2.4zM179.2 444.0h2.4v1.5h-2.4zM162.4 447.0h2.4v1.5h-2.4zM114.4 448.5h2.4v1.5h-2.4zM164.8 450.0h2.4v1.5h-2.4zM188.8 450.0h2.4v1.5h-2.4zM325.5 451.5h2.4v1.5h-2.4zM332.7 451.5h2.4v1.5h-2.4zM515.1 451.5h2.4v1.5h-2.4zM531.9 451.5h2.4v1.5h-2.4zM608.6 451.5h2.4v1.5h-2.4zM596.6 453.0h2.4v1.5h-2.4zM184.0 454.5h2.4v1.5h-2.4zM212.8 454.5h2.4v1.5h-2.4zM217.6 454.5h2.4v1.5h-2.4zM315.9 454.5h2.4v1.5h-2.4zM397.5 454.5h2.4v1.5h-2.4zM419.1 454.5h2.4v1.5h-2.4zM587.0 456.0h2.4v1.5h-2.4zM323.1 457.5h2.4v1.5h-2.4zM385.5 457.5h2.4v1.5h-2.4zM591.8 457.5h2.4v1.5h-2.4zM680.6 457.5h2.4v1.5h-2.4zM224.8 459.0h2.4v1.5h-2.4zM409.5 459.0h2.4v1.5h-2.4zM507.9 459.0h2.4v1.5h-2.4zM385.5 460.5h2.4v1.5h-2.4zM327.9 462.0h2.4v1.5h-2.4zM687.8 462.0h2.4v1.5h-2.4zM659.0 463.5h2.4v1.5h-2.4zM687.8 465.0h2.4v1.5h-2.4zM145.6 537.1h2.4v1.5h-2.4zM169.6 537.1h2.4v1.5h-2.4zM198.4 537.1h2.4v1.5h-2.4zM179.2 541.6h2.4v1.5h-2.4zM639.8 544.6h2.4v1.5h-2.4zM227.2 547.6h2.4v1.5h-2.4zM260.7 547.6h2.4v1.5h-2.4zM392.7 549.2h4.8v1.5h-4.8zM411.9 549.2h2.4v1.5h-2.4zM524.7 549.2h2.4v1.5h-2.4zM644.6 549.2h2.4v1.5h-2.4zM654.2 549.2h2.4v1.5h-2.4zM371.1 550.7h2.4v1.5h-2.4zM423.9 550.7h2.4v1.5h-2.4zM486.3 550.7h2.4v1.5h-2.4zM591.8 550.7h2.4v1.5h-2.4zM260.7 552.2h2.4v1.5h-2.4zM318.3 552.2h2.4v1.5h-2.4zM344.7 552.2h2.4v1.5h-2.4zM349.5 552.2h2.4v1.5h-2.4zM301.5 553.7h2.4v1.5h-2.4zM387.9 553.7h2.4v1.5h-2.4zM464.7 553.7h2.4v1.5h-2.4zM481.5 553.7h2.4v1.5h-2.4zM421.5 555.2h2.4v1.5h-2.4zM678.2 556.7h2.4v1.5h-2.4zM433.5 558.2h2.4v1.5h-2.4zM635.0 558.2h2.4v1.5h-2.4zM649.4 559.7h2.4v1.5h-2.4z"/><path fill="#0060ff" d="M102.4 116.4h2.4v1.5h-2.4zM140.8 120.9h2.4v1.5h-2.4zM136.0 122.4h2.4v1.5h-2.4zM112.0 123.9h2.4v1.5h-2.4zM126.4 123.9h2.4v1.5h-2.4zM128.8 128.4h2.4v1.5h-2.4zM179.2 128.4h2.4v1.5h-2.4zM539.1 128.4h2.4v1.5h-2.4zM193.6 129.9h2.4v1.5h-2.4zM515.1 129.9h2.4v1.5h-2.4zM539.1 129.9h2.4v1.5h-2.4zM618.2 129.9h2.4v1.5h-2.4zM282.3 131.4h2.4v1.5h-2.4zM423.9 131.4h2.4v1.5h-2.4zM519.9 131.4h2.4v1.5h-2.4zM596.6 131.4h2.4v1.5h-2.4zM625.4 131.4h2.4v1.5h-2.4zM651.8 131.4h2.4v1.5h-2.4zM193.6 135.9h2.4v1.5h-2.4zM205.6 135.9h2.4v1.5h-2.4zM241.6 135.9h2.4v1.5h-2.4zM332.7 135.9h2.4v1.5h-2.4zM371.1 135.9h2.4v1.5h-2.4zM687.8 135.9h2.4v1.5h-2.4zM411.9 137.5h2.4v1.5h-2.4zM438.3 137.5h2.4v1.5h-2.4zM687.8 137.5h2.4v1.5h-2.4zM265.5 139.0h2.4v1.5h-2.4zM296.7 139.0h2.4v1.5h-2.4zM301.5 139.0h2.4v1.5h-2.4zM457.5 139.0h2.4v1.5h-2.4zM462.3 139.0h2.4v1.5h-2.4zM488.7 139.0h2.4v1.5h-2.4zM205.6 140.5h2.4v1.5h-2.4zM335.1 140.5h2.4v1.5h-2.4zM359.1 140.5h2.4v1.5h-2.4zM419.1 140.5h2.4v1.5h-2.4zM450.3 140.5h2.4v1.5h-2.4zM663.8 140.5h2.4v1.5h-2.4zM210.4 142.0h2.4v1.5h-2.4zM390.3 142.0h2.4v1.5h-2.4zM414.3 142.0h2.4v1.5h-2.4zM450.3 142.0h2.4v1.5h-2.4zM198.4 143.5h2.4v1.5h-2.4zM289.5 143.5h2.4v1.5h-2.4zM356.7 143.5h2.4v1.5h-2.4zM678.2 143.5h2.4v1.5h-2.4zM683.0 143.5h2.4v1.5h-2.4zM675.8 146.5h2.4v1.5h-2.4zM164.8 292.2h2.4v1.5h-2.4zM100.0 293.7h2.4v1.5h-2.4zM160.0 293.7h2.4v1.5h-2.4zM102.4 295.2h2.4v1.5h-2.4zM162.4 296.7h2.4v1.5h-2.4zM102.4 298.2h2.4v1.5h-2.4zM100.0 299.7h2.4v1.5h-2.4zM112.0 299.7h2.4v1.5h-2.4zM594.2 299.7h2.4v1.5h-2.4zM121.6 301.2h2.4v1.5h-2.4zM253.5 301.2h2.4v1.5h-2.4zM596.6 301.2h2.4v1.5h-2.4zM524.7 302.7h2.4v1.5h-2.4zM174.4 304.2h2.4v1.5h-2.4zM291.9 304.2h2.4v1.5h-2.4zM395.1 304.2h2.4v1.5h-2.4zM536.7 304.2h2.4v1.5h-2.4zM642.2 304.2h2.4v1.5h-2.4zM692.6 304.2h2.4v1.5h-2.4zM239.2 305.7h2.4v1.5h-2.4zM428.7 305.7h2.4v1.5h-2.4zM445.5 305.7h2.4v1.5h-2.4zM589.4 305.7h2.4v1.5h-2.4zM553.4 307.2h2.4v1.5h-2.4zM244.0 308.7h2.4v1.5h-2.4zM361.5 308.7h2.4v1.5h-2.4zM402.3 310.2h2.4v1.5h-2.4zM443.1 310.2h2.4v1.5h-2.4zM409.5 311.7h2.4v1.5h-2.4zM594.2 311.7h2.4v1.5h-2.4zM642.2 311.7h2.4v1.5h-2.4zM255.9 313.3h2.4v1.5h-2.4zM435.9 313.3h2.4v1.5h-2.4zM467.1 313.3h2.4v1.5h-2.4zM635.0 313.3h2.4v1.5h-2.4zM639.8 313.3h2.4v1.5h-2.4zM683.0 314.8h2.4v1.5h-2.4zM690.2 314.8h2.4v1.5h-2.4zM687.8 316.3h2.4v1.5h-2.4zM443.1 317.8h2.4v1.5h-2.4zM663.8 317.8h2.4v1.5h-2.4zM659.0 323.8h2.4v1.5h-2.4zM116.8 439.5h2.4v1.5h-2.4zM102.4 441.0h2.4v1.5h-2.4zM193.6 441.0h2.4v1.5h-2.4zM126.4 442.5h2.4v1.5h-2.4zM164.8 445.5h2.4v1.5h-2.4zM193.6 445.5h2.4v1.5h-2.4zM121.6 447.0h2.4v1.5h-2.4zM124.0 448.5h2.4v1.5h-2.4zM167.2 448.5h2.4v1.5h-2.4zM565.4 448.5h2.4v1.5h-2.4zM116.8 450.0h2.4v1.5h-2.4zM143.2 451.5h2.4v1.5h-2.4zM162.4 451.5h2.4v1.5h-2.4zM248.8 453.0h2.4v1.5h-2.4zM354.3 453.0h2.4v1.5h-2.4zM529.5 453.0h2.4v1.5h-2.4zM181.6 454.5h2.4v1.5h-2.4zM232.0 454.5h2.4v1.5h-2.4zM294.3 454.5h2.4v1.5h-2.4zM404.7 454.5h2.4v1.5h-2.4zM471.9 454.5h2.4v1.5h-2.4zM315.9 456.0h2.4v1.5h-2.4zM560.6 456.0h2.4v1.5h-2.4zM565.4 456.0h2.4v1.5h-2.4zM627.8 456.0h2.4v1.5h-2.4zM500.7 457.5h2.4v1.5h-2.4zM519.9 457.5h2.4v1.5h-2.4zM371.1 459.0h2.4v1.5h-2.4zM512.7 459.0h2.4v1.5h-2.4zM524.7 459.0h2.4v1.5h-2.4zM488.7 460.5h2.4v1.5h-2.4zM661.4 460.5h2.4v1.5h-2.4zM313.5 463.5h2.4v1.5h-2.4zM395.1 463.5h2.4v1.5h-2.4zM647.0 463.5h2.4v1.5h-2.4zM678.2 463.5h2.4v1.5h-2.4zM644.6 465.0h2.4v1.5h-2.4zM155.2 535.6h2.4v1.5h-2.4zM126.4 538.6h2.4v1.5h-2.4zM138.4 540.1h2.4v1.5h-2.4zM196.0 543.1h2.4v1.5h-2.4zM133.6 544.6h2.4v1.5h-2.4zM169.6 544.6h2.4v1.5h-2.4zM539.1 544.6h2.4v1.5h-2.4zM303.9 546.1h2.4v1.5h-2.4zM385.5 546.1h2.4v1.5h-2.4zM457.5 546.1h2.4v1.5h-2.4zM495.9 546.1h2.4v1.5h-2.4zM255.9 547.6h2.4v1.5h-2.4zM313.5 547.6h2.4v1.5h-2.4zM320.7 547.6h2.4v1.5h-2.4zM351.9 547.6h2.4v1.5h-2.4zM251.1 549.2h2.4v1.5h-2.4zM467.1 549.2h2.4v1.5h-2.4zM579.8 549.2h2.4v1.5h-2.4zM594.2 549.2h2.4v1.5h-2.4zM282.3 550.7h2.4v1.5h-2.4zM565.4 550.7h2.4v1.5h-2.4zM673.4 550.7h2.4v1.5h-2.4zM224.8 552.2h2.4v1.5h-2.4zM232.0 552.2h2.4v1.5h-2.4zM443.1 552.2h2.4v1.5h-2.4zM493.5 552.2h2.4v1.5h-2.4zM654.2 552.2h2.4v1.5h-2.4zM260.7 553.7h2.4v1.5h-2.4zM599.0 553.7h2.4v1.5h-2.4zM663.8 555.2h2.4v1.5h-2.4zM462.3 556.7h2.4v1.5h-2.4zM685.4 556.7h2.4v1.5h-2.4zM683.0 562.7h2.4v1.5h-2.4z"/><path fill="#0070ff" d="M534.3 125.4h2.4v1.5h-2.4zM116.8 128.4h2.4v1.5h-2.4zM181.6 128.4h2.4v1.5h-2.4zM541.5 128.4h2.4v1.5h-2.4zM606.2 128.4h4.8v1.5h-4.8zM174.4 129.9h2.4v1.5h-2.4zM198.4 129.9h2.4v1.5h-2.4zM529.5 129.9h2.4v1.5h-2.4zM558.2 129.9h2.4v1.5h-2.4zM582.2 129.9h2.4v1.5h-2.4zM179.2 131.4h2.4v1.5h-2.4zM220.0 131.4h2.4v1.5h-2.4zM236.8 131.4h2.4v1.5h-2.4zM440.7 131.4h2.4v1.5h-2.4zM527.1 131.4h2.4v1.5h-2.4zM546.2 131.4h2.4v1.5h-2.4zM349.5 135.9h2.4v1.5h-2.4zM419.1 135.9h2.4v1.5h-2.4zM447.9 135.9h2.4v1.5h-2.4zM505.5 135.9h2.4v1.5h-2.4zM659.0 135.9h2.4v1.5h-2.4zM275.1 137.5h2.4v1.5h-2.4zM390.3 137.5h2.4v1.5h-2.4zM469.5 137.5h2.4v1.5h-2.4zM642.2 137.5h2.4v1.5h-2.4zM649.4 137.5h2.4v1.5h-2.4zM260.7 139.0h2.4v1.5h-2.4zM303.9 139.0h2.4v1.5h-2.4zM361.5 139.0h2.4v1.5h-2.4zM373.5 139.0h4.8v1.5h-4.8zM428.7 139.0h2.4v1.5h-2.4zM411.9 140.5h2.4v1.5h-2.4zM421.5 140.5h2.4v1.5h-2.4zM229.6 142.0h2.4v1.5h-2.4zM263.1 142.0h2.4v1.5h-2.4zM289.5 142.0h2.4v1.5h-2.4zM318.3 142.0h2.4v1.5h-2.4zM373.5 142.0h2.4v1.5h-2.4zM419.1 142.0h2.4v1.5h-2.4zM483.9 142.0h2.4v1.5h-2.4zM344.7 143.5h2.4v1.5h-2.4zM407.1 143.5h2.4v1.5h-2.4zM440.7 143.5h2.4v1.5h-2.4zM675.8 143.5h2.4v1.5h-2.4zM306.3 146.5h2.4v1.5h-2.4zM318.3 146.5h2.4v1.5h-2.4zM656.6 146.5h2.4v1.5h-2.4zM145.6 290.7h2.4v1.5h-2.4zM116.8 296.7h2.4v1.5h-2.4zM138.4 296.7h2.4v1.5h-2.4zM121.6 298.2h2.4v1.5h-2.4zM577.4 298.2h2.4v1.5h-2.4zM150.4 299.7h2.4v1.5h-2.4zM172.0 299.7h2.4v1.5h-2.4zM181.6 299.7h2.4v1.5h-2.4zM558.2 299.7h2.4v1.5h-2.4zM126.4 301.2h2.4v1.5h-2.4zM594.2 301.2h2.4v1.5h-2.4zM162.4 302.7h2.4v1.5h-2.4zM337.5 302.7h2.4v1.5h-2.4zM356.7 302.7h2.4v1.5h-2.4zM594.2 302.7h2.4v1.5h-2.4zM505.5 304.2h2.4v1.5h-2.4zM551.0 304.2h2.4v1.5h-2.4zM647.0 304.2h2.4v1.5h-2.4zM265.5 305.7h2.4v1.5h-2.4zM390.3 305.7h2.4v1.5h-2.4zM411.9 305.7h2.4v1.5h-2.4zM452.7 305.7h2.4v1.5h-2.4zM630.2 305.7h2.4v1.5h-2.4zM649.4 305.7h2.4v1.5h-2.4zM414.3 307.2h2.4v1.5h-2.4zM541.5 307.2h2.4v1.5h-2.4zM203.2 308.7h2.4v1.5h-2.4zM371.1 308.7h2.4v1.5h-2.4zM491.1 308.7h2.4v1.5h-2.4zM558.2 308.7h2.4v1.5h-2.4zM227.2 310.2h2.4v1.5h-2.4zM260.7 310.2h2.4v1.5h-2.4zM332.7 310.2h2.4v1.5h-2.4zM363.9 310.2h2.4v1.5h-2.4zM452.7 310.2h2.4v1.5h-2.4zM239.2 311.7h2.4v1.5h-2.4zM323.1 311.7h2.4v1.5h-2.4zM457.5 311.7h2.4v1.5h-2.4zM637.4 311.7h2.4v1.5h-2.4zM220.0 313.3h2.4v1.5h-2.4zM258.3 313.3h2.4v1.5h-2.4zM284.7 313.3h2.4v1.5h-2.4zM428.7 313.3h2.4v1.5h-2.4zM630.2 313.3h2.4v1.5h-2.4zM651.8 313.3h2.4v1.5h-2.4zM481.5 316.3h2.4v1.5h-2.4zM169.6 436.5h2.4v1.5h-2.4zM160.0 442.5h2.4v1.5h-2.4zM164.8 444.0h2.4v1.5h-2.4zM188.8 444.0h2.4v1.5h-2.4zM112.0 445.5h2.4v1.5h-2.4zM172.0 445.5h2.4v1.5h-2.4zM359.1 445.5h2.4v1.5h-2.4zM131.2 447.0h2.4v1.5h-2.4zM371.1 447.0h2.4v1.5h-2.4zM378.3 447.0h2.4v1.5h-2.4zM169.6 448.5h2.4v1.5h-2.4zM577.4 448.5h2.4v1.5h-2.4zM587.0 448.5h2.4v1.5h-2.4zM210.4 450.0h2.4v1.5h-2.4zM347.1 450.0h2.4v1.5h-2.4zM584.6 450.0h2.4v1.5h-2.4zM203.2 451.5h2.4v1.5h-2.4zM217.6 451.5h2.4v1.5h-2.4zM565.4 451.5h2.4v1.5h-2.4zM594.2 451.5h2.4v1.5h-2.4zM275.1 454.5h2.4v1.5h-2.4zM623.0 454.5h2.4v1.5h-2.4zM184.0 456.0h2.4v1.5h-2.4zM203.2 456.0h2.4v1.5h-2.4zM548.6 456.0h2.4v1.5h-2.4zM193.6 457.5h2.4v1.5h-2.4zM375.9 457.5h2.4v1.5h-2.4zM651.8 457.5h2.4v1.5h-2.4zM683.0 457.5h2.4v1.5h-2.4zM229.6 459.0h2.4v1.5h-2.4zM246.4 459.0h2.4v1.5h-2.4zM294.3 460.5h2.4v1.5h-2.4zM414.3 460.5h2.4v1.5h-2.4zM471.9 460.5h2.4v1.5h-2.4zM531.9 460.5h2.4v1.5h-2.4zM675.8 460.5h2.4v1.5h-2.4zM198.4 462.0h2.4v1.5h-2.4zM208.0 462.0h2.4v1.5h-2.4zM443.1 462.0h2.4v1.5h-2.4zM452.7 462.0h2.4v1.5h-2.4zM500.7 462.0h2.4v1.5h-2.4zM277.5 463.5h2.4v1.5h-2.4zM663.8 463.5h2.4v1.5h-2.4zM390.3 465.0h2.4v1.5h-2.4zM692.6 465.0h2.4v1.5h-2.4zM354.3 466.5h2.4v1.5h-2.4zM426.3 469.5h2.4v1.5h-2.4zM160.0 534.1h2.4v1.5h-2.4zM102.4 538.6h2.4v1.5h-2.4zM136.0 538.6h2.4v1.5h-2.4zM143.2 540.1h2.4v1.5h-2.4zM167.2 540.1h2.4v1.5h-2.4zM109.6 541.6h2.4v1.5h-2.4zM217.6 541.6h2.4v1.5h-2.4zM577.4 543.1h2.4v1.5h-2.4zM102.4 544.6h2.4v1.5h-2.4zM131.2 544.6h2.4v1.5h-2.4zM203.2 544.6h2.4v1.5h-2.4zM193.6 546.1h2.4v1.5h-2.4zM306.3 546.1h2.4v1.5h-2.4zM325.5 546.1h2.4v1.5h-2.4zM258.3 547.6h2.4v1.5h-2.4zM635.0 547.6h2.4v1.5h-2.4zM222.4 549.2h2.4v1.5h-2.4zM270.3 549.2h2.4v1.5h-2.4zM282.3 549.2h2.4v1.5h-2.4zM299.1 549.2h2.4v1.5h-2.4zM447.9 549.2h2.4v1.5h-2.4zM577.4 549.2h2.4v1.5h-2.4zM215.2 550.7h2.4v1.5h-2.4zM426.3 550.7h2.4v1.5h-2.4zM683.0 550.7h4.8v1.5h-4.8zM325.5 552.2h2.4v1.5h-2.4zM366.3 552.2h2.4v1.5h-2.4zM565.4 552.2h2.4v1.5h-2.4zM678.2 552.2h2.4v1.5h-2.4zM267.9 553.7h2.4v1.5h-2.4zM279.9 553.7h2.4v1.5h-2.4zM423.9 553.7h2.4v1.5h-2.4zM469.5 553.7h2.4v1.5h-2.4zM236.8 555.2h2.4v1.5h-2.4zM284.7 555.2h2.4v1.5h-2.4zM404.7 555.2h2.4v1.5h-2.4zM428.7 555.2h2.4v1.5h-2.4zM671.0 555.2h2.4v1.5h-2.4zM687.8 555.2h2.4v1.5h-2.4zM227.2 556.7h2.4v1.5h-2.4zM659.0 556.7h2.4v1.5h-2.4zM639.8 559.7h2.4v1.5h-2.4zM284.7 561.2h2.4v1.5h-2.4z"/><path fill="#0080ff" d="M172.0 119.4h2.4v1.5h-2.4zM116.8 120.9h2.4v1.5h-2.4zM172.0 122.4h2.4v1.5h-2.4zM104.8 125.4h2.4v1.5h-2.4zM119.2 125.4h2.4v1.5h-2.4zM591.8 125.4h2.4v1.5h-2.4zM169.6 126.9h2.4v1.5h-2.4zM148.0 128.4h2.4v1.5h-2.4zM157.6 128.4h2.4v1.5h-2.4zM536.7 128.4h2.4v1.5h-2.4zM543.9 128.4h2.4v1.5h-2.4zM584.6 128.4h2.4v1.5h-2.4zM620.6 128.4h2.4v1.5h-2.4zM181.6 129.9h2.4v1.5h-2.4zM519.9 129.9h2.4v1.5h-2.4zM596.6 129.9h2.4v1.5h-2.4zM536.7 131.4h4.8v1.5h-4.8zM543.9 131.4h2.4v1.5h-2.4zM567.8 131.4h2.4v1.5h-2.4zM603.8 131.4h2.4v1.5h-2.4zM275.1 135.9h2.4v1.5h-2.4zM303.9 135.9h2.4v1.5h-2.4zM363.9 135.9h2.4v1.5h-2.4zM392.7 135.9h2.4v1.5h-2.4zM471.9 135.9h2.4v1.5h-2.4zM649.4 135.9h2.4v1.5h-2.4zM680.6 135.9h2.4v1.5h-2.4zM337.5 137.5h2.4v1.5h-2.4zM371.1 137.5h2.4v1.5h-2.4zM380.7 137.5h2.4v1.5h-2.4zM395.1 137.5h2.4v1.5h-2.4zM428.7 137.5h2.4v1.5h-2.4zM659.0 137.5h2.4v1.5h-2.4zM210.4 139.0h2.4v1.5h-2.4zM222.4 139.0h2.4v1.5h-2.4zM279.9 139.0h2.4v1.5h-2.4zM299.1 139.0h2.4v1.5h-2.4zM385.5 139.0h2.4v1.5h-2.4zM659.0 139.0h2.4v1.5h-2.4zM692.6 139.0h2.4v1.5h-2.4zM255.9 140.5h2.4v1.5h-2.4zM306.3 140.5h2.4v1.5h-2.4zM390.3 140.5h2.4v1.5h-2.4zM416.7 140.5h2.4v1.5h-2.4zM452.7 140.5h2.4v1.5h-2.4zM668.6 140.5h4.8v1.5h-4.8zM692.6 140.5h2.4v1.5h-2.4zM224.8 142.0h2.4v1.5h-2.4zM260.7 142.0h2.4v1.5h-2.4zM387.9 142.0h2.4v1.5h-2.4zM395.1 142.0h2.4v1.5h-2.4zM407.1 142.0h2.4v1.5h-2.4zM673.4 142.0h4.8v1.5h-4.8zM208.0 143.5h2.4v1.5h-2.4zM308.7 143.5h2.4v1.5h-2.4zM395.1 145.0h2.4v1.5h-2.4zM675.8 145.0h2.4v1.5h-2.4zM116.8 295.2h2.4v1.5h-2.4zM172.0 298.2h2.4v1.5h-2.4zM570.2 298.2h2.4v1.5h-2.4zM303.9 299.7h2.4v1.5h-2.4zM572.6 299.7h2.4v1.5h-2.4zM212.8 301.2h2.4v1.5h-2.4zM368.7 301.2h2.4v1.5h-2.4zM567.8 301.2h2.4v1.5h-2.4zM603.8 301.2h2.4v1.5h-2.4zM378.3 302.7h2.4v1.5h-2.4zM519.9 302.7h2.4v1.5h-2.4zM172.0 304.2h2.4v1.5h-2.4zM220.0 304.2h2.4v1.5h-2.4zM311.1 304.2h2.4v1.5h-2.4zM618.2 304.2h2.4v1.5h-2.4zM184.0 305.7h2.4v1.5h-2.4zM222.4 305.7h2.4v1.5h-2.4zM479.1 305.7h2.4v1.5h-2.4zM555.8 305.7h2.4v1.5h-2.4zM563.0 305.7h2.4v1.5h-2.4zM637.4 305.7h2.4v1.5h-2.4zM635.0 307.2h2.4v1.5h-2.4zM208.0 308.7h2.4v1.5h-2.4zM220.0 308.7h2.4v1.5h-2.4zM308.7 308.7h2.4v1.5h-2.4zM315.9 308.7h2.4v1.5h-2.4zM332.7 308.7h2.4v1.5h-2.4zM347.1 308.7h2.4v1.5h-2.4zM457.5 308.7h2.4v1.5h-2.4zM217.6 310.2h4.8v1.5h-4.8zM232.0 310.2h2.4v1.5h-2.4zM327.9 310.2h2.4v1.5h-2.4zM277.5 311.7h2.4v1.5h-2.4zM284.7 311.7h2.4v1.5h-2.4zM289.5 311.7h2.4v1.5h-2.4zM440.7 311.7h2.4v1.5h-2.4zM464.7 313.3h2.4v1.5h-2.4zM474.3 313.3h2.4v1.5h-2.4zM683.0 313.3h2.4v1.5h-2.4zM692.6 313.3h2.4v1.5h-2.4zM272.7 314.8h2.4v1.5h-2.4zM387.9 314.8h2.4v1.5h-2.4zM488.7 314.8h2.4v1.5h-2.4zM222.4 316.3h2.4v1.5h-2.4zM623.0 316.3h2.4v1.5h-2.4zM651.8 316.3h4.8v1.5h-4.8zM678.2 316.3h2.4v1.5h-2.4zM467.1 317.8h2.4v1.5h-2.4zM488.7 319.3h2.4v1.5h-2.4zM145.6 432.0h2.4v1.5h-2.4zM169.6 441.0h2.4v1.5h-2.4zM104.8 442.5h4.8v1.5h-4.8zM150.4 442.5h2.4v1.5h-2.4zM131.2 444.0h2.4v1.5h-2.4zM148.0 444.0h2.4v1.5h-2.4zM162.4 444.0h2.4v1.5h-2.4zM169.6 444.0h2.4v1.5h-2.4zM128.8 445.5h4.8v1.5h-4.8zM155.2 447.0h2.4v1.5h-2.4zM181.6 447.0h2.4v1.5h-2.4zM409.5 447.0h2.4v1.5h-2.4zM186.4 448.5h2.4v1.5h-2.4zM191.2 448.5h2.4v1.5h-2.4zM232.0 448.5h2.4v1.5h-2.4zM275.1 450.0h2.4v1.5h-2.4zM188.8 451.5h2.4v1.5h-2.4zM258.3 451.5h2.4v1.5h-2.4zM169.6 453.0h2.4v1.5h-2.4zM174.4 453.0h2.4v1.5h-2.4zM220.0 453.0h2.4v1.5h-2.4zM531.9 453.0h2.4v1.5h-2.4zM603.8 453.0h2.4v1.5h-2.4zM306.3 454.5h2.4v1.5h-2.4zM517.5 454.5h2.4v1.5h-2.4zM212.8 456.0h2.4v1.5h-2.4zM409.5 456.0h2.4v1.5h-2.4zM457.5 456.0h2.4v1.5h-2.4zM474.3 456.0h4.8v1.5h-4.8zM531.9 456.0h2.4v1.5h-2.4zM594.2 456.0h2.4v1.5h-2.4zM255.9 457.5h2.4v1.5h-2.4zM294.3 457.5h2.4v1.5h-2.4zM380.7 457.5h2.4v1.5h-2.4zM505.5 457.5h2.4v1.5h-2.4zM663.8 457.5h2.4v1.5h-2.4zM603.8 459.0h2.4v1.5h-2.4zM253.5 460.5h2.4v1.5h-2.4zM303.9 460.5h2.4v1.5h-2.4zM315.9 460.5h2.4v1.5h-2.4zM392.7 460.5h2.4v1.5h-2.4zM467.1 460.5h4.8v1.5h-4.8zM476.7 460.5h2.4v1.5h-2.4zM611.0 460.5h2.4v1.5h-2.4zM618.2 460.5h2.4v1.5h-2.4zM642.2 460.5h2.4v1.5h-2.4zM315.9 462.0h2.4v1.5h-2.4zM371.1 462.0h2.4v1.5h-2.4zM486.3 462.0h2.4v1.5h-2.4zM385.5 465.0h2.4v1.5h-2.4zM668.6 465.0h2.4v1.5h-2.4zM464.7 466.5h2.4v1.5h-2.4zM659.0 466.5h2.4v1.5h-2.4zM133.6 538.6h2.4v1.5h-2.4zM169.6 538.6h2.4v1.5h-2.4zM133.6 540.1h2.4v1.5h-2.4zM534.3 540.1h2.4v1.5h-2.4zM145.6 541.6h2.4v1.5h-2.4zM215.2 541.6h2.4v1.5h-2.4zM543.9 543.1h2.4v1.5h-2.4zM611.0 544.6h2.4v1.5h-2.4zM191.2 546.1h2.4v1.5h-2.4zM200.8 546.1h2.4v1.5h-2.4zM208.0 546.1h2.4v1.5h-2.4zM220.0 547.6h2.4v1.5h-2.4zM296.7 547.6h2.4v1.5h-2.4zM205.6 549.2h4.8v1.5h-4.8zM373.5 549.2h2.4v1.5h-2.4zM390.3 549.2h2.4v1.5h-2.4zM500.7 549.2h2.4v1.5h-2.4zM529.5 549.2h2.4v1.5h-2.4zM567.8 549.2h2.4v1.5h-2.4zM572.6 549.2h2.4v1.5h-2.4zM404.7 550.7h2.4v1.5h-2.4zM498.3 550.7h2.4v1.5h-2.4zM594.2 550.7h2.4v1.5h-2.4zM234.4 552.2h2.4v1.5h-2.4zM447.9 552.2h2.4v1.5h-2.4zM639.8 552.2h2.4v1.5h-2.4zM649.4 552.2h2.4v1.5h-2.4zM251.1 553.7h2.4v1.5h-2.4zM344.7 553.7h2.4v1.5h-2.4zM385.5 553.7h2.4v1.5h-2.4zM409.5 553.7h2.4v1.5h-2.4zM457.5 553.7h2.4v1.5h-2.4zM488.7 553.7h2.4v1.5h-2.4zM263.1 555.2h2.4v1.5h-2.4zM311.1 555.2h2.4v1.5h-2.4zM659.0 555.2h2.4v1.5h-2.4zM255.9 556.7h2.4v1.5h-2.4zM445.5 556.7h2.4v1.5h-2.4zM692.6 558.2h2.4v1.5h-2.4zM671.0 559.7h2.4v1.5h-2.4zM680.6 562.7h2.4v1.5h-2.4z"/><path fill="#008fff" d="M124.0 119.4h2.4v1.5h-2.4zM164.8 120.9h2.4v1.5h-2.4zM114.4 122.4h2.4v1.5h-2.4zM174.4 123.9h2.4v1.5h-2.4zM179.2 126.9h2.4v1.5h-2.4zM551.0 126.9h2.4v1.5h-2.4zM104.8 128.4h2.4v1.5h-2.4zM546.2 128.4h2.4v1.5h-2.4zM560.6 128.4h2.4v1.5h-2.4zM567.8 128.4h4.8v1.5h-4.8zM582.2 128.4h2.4v1.5h-2.4zM591.8 128.4h2.4v1.5h-2.4zM188.8 129.9h2.4v1.5h-2.4zM534.3 129.9h2.4v1.5h-2.4zM553.4 129.9h2.4v1.5h-2.4zM637.4 129.9h2.4v1.5h-2.4zM203.2 131.4h2.4v1.5h-2.4zM575.0 131.4h2.4v1.5h-2.4zM222.4 135.9h2.4v1.5h-2.4zM294.3 135.9h2.4v1.5h-2.4zM395.1 135.9h2.4v1.5h-2.4zM603.8 135.9h2.4v1.5h-2.4zM232.0 137.5h2.4v1.5h-2.4zM277.5 137.5h2.4v1.5h-2.4zM471.9 137.5h2.4v1.5h-2.4zM217.6 139.0h2.4v1.5h-2.4zM282.3 139.0h2.4v1.5h-2.4zM308.7 139.0h2.4v1.5h-2.4zM399.9 139.0h2.4v1.5h-2.4zM404.7 139.0h4.8v1.5h-4.8zM414.3 139.0h2.4v1.5h-2.4zM443.1 139.0h2.4v1.5h-2.4zM452.7 139.0h2.4v1.5h-2.4zM680.6 139.0h2.4v1.5h-2.4zM241.6 140.5h2.4v1.5h-2.4zM289.5 140.5h2.4v1.5h-2.4zM325.5 140.5h2.4v1.5h-2.4zM344.7 140.5h2.4v1.5h-2.4zM236.8 142.0h2.4v1.5h-2.4zM366.3 142.0h2.4v1.5h-2.4zM486.3 142.0h2.4v1.5h-2.4zM390.3 143.5h2.4v1.5h-2.4zM433.5 143.5h2.4v1.5h-2.4zM680.6 143.5h2.4v1.5h-2.4zM100.0 287.7h2.4v1.5h-2.4zM126.4 289.2h2.4v1.5h-2.4zM107.2 295.2h2.4v1.5h-2.4zM126.4 296.7h2.4v1.5h-2.4zM167.2 296.7h2.4v1.5h-2.4zM109.6 298.2h2.4v1.5h-2.4zM160.0 301.2h2.4v1.5h-2.4zM558.2 301.2h2.4v1.5h-2.4zM109.6 302.7h2.4v1.5h-2.4zM188.8 302.7h2.4v1.5h-2.4zM196.0 302.7h2.4v1.5h-2.4zM375.9 302.7h2.4v1.5h-2.4zM387.9 302.7h2.4v1.5h-2.4zM186.4 304.2h2.4v1.5h-2.4zM244.0 305.7h2.4v1.5h-2.4zM337.5 305.7h2.4v1.5h-2.4zM419.1 305.7h2.4v1.5h-2.4zM582.2 305.7h2.4v1.5h-2.4zM654.2 305.7h2.4v1.5h-2.4zM193.6 307.2h2.4v1.5h-2.4zM301.5 307.2h2.4v1.5h-2.4zM318.3 307.2h2.4v1.5h-2.4zM443.1 307.2h2.4v1.5h-2.4zM476.7 307.2h2.4v1.5h-2.4zM517.5 307.2h2.4v1.5h-2.4zM560.6 307.2h2.4v1.5h-2.4zM596.6 307.2h2.4v1.5h-2.4zM601.4 307.2h2.4v1.5h-2.4zM359.1 308.7h2.4v1.5h-2.4zM404.7 308.7h2.4v1.5h-2.4zM493.5 308.7h2.4v1.5h-2.4zM505.5 308.7h2.4v1.5h-2.4zM188.8 310.2h2.4v1.5h-2.4zM323.1 310.2h2.4v1.5h-2.4zM486.3 310.2h2.4v1.5h-2.4zM500.7 310.2h2.4v1.5h-2.4zM579.8 310.2h2.4v1.5h-2.4zM296.7 311.7h2.4v1.5h-2.4zM483.9 311.7h2.4v1.5h-2.4zM507.9 311.7h2.4v1.5h-2.4zM519.9 311.7h2.4v1.5h-2.4zM630.2 311.7h2.4v1.5h-2.4zM330.3 313.3h2.4v1.5h-2.4zM659.0 313.3h2.4v1.5h-2.4zM608.6 314.8h2.4v1.5h-2.4zM399.9 316.3h2.4v1.5h-2.4zM479.1 316.3h2.4v1.5h-2.4zM642.2 319.3h2.4v1.5h-2.4zM680.6 320.8h2.4v1.5h-2.4zM150.4 438.0h2.4v1.5h-2.4zM131.2 439.5h2.4v1.5h-2.4zM162.4 439.5h2.4v1.5h-2.4zM164.8 442.5h2.4v1.5h-2.4zM119.2 444.0h2.4v1.5h-2.4zM143.2 444.0h2.4v1.5h-2.4zM176.8 444.0h2.4v1.5h-2.4zM148.0 447.0h2.4v1.5h-2.4zM184.0 447.0h2.4v1.5h-2.4zM198.4 447.0h2.4v1.5h-2.4zM145.6 448.5h2.4v1.5h-2.4zM601.4 448.5h2.4v1.5h-2.4zM630.2 448.5h2.4v1.5h-2.4zM145.6 450.0h2.4v1.5h-2.4zM152.8 450.0h2.4v1.5h-2.4zM179.2 450.0h2.4v1.5h-2.4zM220.0 450.0h2.4v1.5h-2.4zM469.5 450.0h2.4v1.5h-2.4zM112.0 451.5h2.4v1.5h-2.4zM200.8 451.5h2.4v1.5h-2.4zM236.8 451.5h2.4v1.5h-2.4zM241.6 451.5h2.4v1.5h-2.4zM534.3 451.5h2.4v1.5h-2.4zM555.8 451.5h2.4v1.5h-2.4zM596.6 451.5h2.4v1.5h-2.4zM145.6 453.0h2.4v1.5h-2.4zM208.0 453.0h4.8v1.5h-4.8zM217.6 453.0h2.4v1.5h-2.4zM294.3 453.0h2.4v1.5h-2.4zM366.3 453.0h2.4v1.5h-2.4zM524.7 453.0h2.4v1.5h-2.4zM222.4 454.5h2.4v1.5h-2.4zM390.3 456.0h2.4v1.5h-2.4zM421.5 456.0h2.4v1.5h-2.4zM464.7 456.0h2.4v1.5h-2.4zM575.0 456.0h2.4v1.5h-2.4zM589.4 456.0h2.4v1.5h-2.4zM596.6 456.0h2.4v1.5h-2.4zM656.6 456.0h2.4v1.5h-2.4zM368.7 457.5h2.4v1.5h-2.4zM378.3 457.5h2.4v1.5h-2.4zM399.9 457.5h2.4v1.5h-2.4zM606.2 457.5h2.4v1.5h-2.4zM210.4 459.0h2.4v1.5h-2.4zM227.2 459.0h2.4v1.5h-2.4zM248.8 459.0h2.4v1.5h-2.4zM354.3 459.0h2.4v1.5h-2.4zM380.7 459.0h2.4v1.5h-2.4zM495.9 459.0h2.4v1.5h-2.4zM613.4 459.0h2.4v1.5h-2.4zM627.8 459.0h2.4v1.5h-2.4zM342.3 460.5h2.4v1.5h-2.4zM438.3 460.5h4.8v1.5h-4.8zM606.2 462.0h2.4v1.5h-2.4zM673.4 462.0h2.4v1.5h-2.4zM397.5 465.0h2.4v1.5h-2.4zM666.2 465.0h2.4v1.5h-2.4zM656.6 468.0h2.4v1.5h-2.4zM656.6 469.5h2.4v1.5h-2.4zM680.6 472.5h2.4v1.5h-2.4zM671.0 474.0h2.4v1.5h-2.4zM181.6 535.6h2.4v1.5h-2.4zM136.0 540.1h2.4v1.5h-2.4zM150.4 540.1h2.4v1.5h-2.4zM169.6 540.1h2.4v1.5h-2.4zM131.2 541.6h2.4v1.5h-2.4zM575.0 541.6h2.4v1.5h-2.4zM133.6 543.1h2.4v1.5h-2.4zM152.8 543.1h2.4v1.5h-2.4zM217.6 544.6h2.4v1.5h-2.4zM318.3 544.6h2.4v1.5h-2.4zM536.7 544.6h2.4v1.5h-2.4zM215.2 546.1h2.4v1.5h-2.4zM220.0 546.1h2.4v1.5h-2.4zM284.7 546.1h2.4v1.5h-2.4zM519.9 546.1h2.4v1.5h-2.4zM577.4 546.1h2.4v1.5h-2.4zM603.8 546.1h2.4v1.5h-2.4zM217.6 547.6h2.4v1.5h-2.4zM342.3 547.6h2.4v1.5h-2.4zM399.9 547.6h2.4v1.5h-2.4zM215.2 549.2h2.4v1.5h-2.4zM234.4 549.2h2.4v1.5h-2.4zM318.3 549.2h2.4v1.5h-2.4zM416.7 549.2h2.4v1.5h-2.4zM462.3 549.2h4.8v1.5h-4.8zM471.9 549.2h2.4v1.5h-2.4zM563.0 549.2h2.4v1.5h-2.4zM642.2 549.2h2.4v1.5h-2.4zM575.0 550.7h2.4v1.5h-2.4zM668.6 550.7h2.4v1.5h-2.4zM246.4 552.2h2.4v1.5h-2.4zM387.9 552.2h2.4v1.5h-2.4zM395.1 552.2h2.4v1.5h-2.4zM440.7 552.2h2.4v1.5h-2.4zM671.0 552.2h2.4v1.5h-2.4zM282.3 553.7h2.4v1.5h-2.4zM438.3 553.7h2.4v1.5h-2.4zM639.8 553.7h2.4v1.5h-2.4zM649.4 553.7h2.4v1.5h-2.4zM282.3 555.2h2.4v1.5h-2.4zM320.7 555.2h2.4v1.5h-2.4zM637.4 555.2h2.4v1.5h-2.4zM258.3 556.7h2.4v1.5h-2.4zM639.8 556.7h2.4v1.5h-2.4zM649.4 556.7h2.4v1.5h-2.4zM265.5 558.2h2.4v1.5h-2.4zM407.1 558.2h2.4v1.5h-2.4zM663.8 558.2h2.4v1.5h-2.4zM659.0 559.7h2.4v1.5h-2.4zM685.4 562.7h2.4v1.5h-2.4z"/><path fill="#009fff" d="M121.6 117.9h2.4v1.5h-2.4zM104.8 119.4h2.4v1.5h-2.4zM138.4 120.9h2.4v1.5h-2.4zM107.2 122.4h2.4v1.5h-2.4zM563.0 125.4h2.4v1.5h-2.4zM104.8 126.9h2.4v1.5h-2.4zM145.6 126.9h2.4v1.5h-2.4zM575.0 126.9h2.4v1.5h-2.4zM164.8 128.4h2.4v1.5h-2.4zM184.0 128.4h2.4v1.5h-2.4zM594.2 128.4h2.4v1.5h-2.4zM560.6 129.9h2.4v1.5h-2.4zM512.7 131.4h2.4v1.5h-2.4zM558.2 131.4h2.4v1.5h-2.4zM572.6 131.4h2.4v1.5h-2.4zM591.8 131.4h2.4v1.5h-2.4zM627.8 131.4h2.4v1.5h-2.4zM486.3 135.9h2.4v1.5h-2.4zM491.1 135.9h2.4v1.5h-2.4zM203.2 137.5h2.4v1.5h-2.4zM289.5 137.5h2.4v1.5h-2.4zM414.3 137.5h2.4v1.5h-2.4zM479.1 137.5h2.4v1.5h-2.4zM491.1 137.5h2.4v1.5h-2.4zM644.6 137.5h2.4v1.5h-2.4zM246.4 139.0h2.4v1.5h-2.4zM287.1 139.0h2.4v1.5h-2.4zM291.9 139.0h2.4v1.5h-2.4zM320.7 139.0h2.4v1.5h-2.4zM349.5 139.0h2.4v1.5h-2.4zM433.5 139.0h2.4v1.5h-2.4zM481.5 139.0h2.4v1.5h-2.4zM215.2 140.5h2.4v1.5h-2.4zM270.3 140.5h2.4v1.5h-2.4zM303.9 140.5h2.4v1.5h-2.4zM327.9 140.5h2.4v1.5h-2.4zM402.3 140.5h2.4v1.5h-2.4zM443.1 140.5h2.4v1.5h-2.4zM467.1 140.5h2.4v1.5h-2.4zM471.9 140.5h2.4v1.5h-2.4zM644.6 140.5h2.4v1.5h-2.4zM279.9 142.0h2.4v1.5h-2.4zM474.3 142.0h2.4v1.5h-2.4zM275.1 143.5h2.4v1.5h-2.4zM330.3 145.0h2.4v1.5h-2.4zM692.6 145.0h2.4v1.5h-2.4zM131.2 286.2h2.4v1.5h-2.4zM128.8 293.7h2.4v1.5h-2.4zM160.0 295.2h2.4v1.5h-2.4zM176.8 295.2h2.4v1.5h-2.4zM366.3 295.2h2.4v1.5h-2.4zM124.0 296.7h2.4v1.5h-2.4zM107.2 298.2h2.4v1.5h-2.4zM152.8 299.7h2.4v1.5h-2.4zM179.2 299.7h2.4v1.5h-2.4zM349.5 299.7h2.4v1.5h-2.4zM503.1 299.7h2.4v1.5h-2.4zM570.2 299.7h2.4v1.5h-2.4zM582.2 299.7h2.4v1.5h-2.4zM239.2 301.2h2.4v1.5h-2.4zM308.7 301.2h2.4v1.5h-2.4zM351.9 302.7h2.4v1.5h-2.4zM529.5 302.7h2.4v1.5h-2.4zM385.5 304.2h2.4v1.5h-2.4zM431.1 304.2h2.4v1.5h-2.4zM500.7 304.2h2.4v1.5h-2.4zM594.2 304.2h2.4v1.5h-2.4zM315.9 305.7h2.4v1.5h-2.4zM404.7 305.7h2.4v1.5h-2.4zM426.3 305.7h2.4v1.5h-2.4zM450.3 305.7h2.4v1.5h-2.4zM642.2 305.7h2.4v1.5h-2.4zM212.8 307.2h2.4v1.5h-2.4zM368.7 307.2h2.4v1.5h-2.4zM423.9 307.2h2.4v1.5h-2.4zM428.7 307.2h2.4v1.5h-2.4zM495.9 307.2h2.4v1.5h-2.4zM654.2 307.2h2.4v1.5h-2.4zM414.3 308.7h2.4v1.5h-2.4zM510.3 308.7h2.4v1.5h-2.4zM536.7 308.7h2.4v1.5h-2.4zM560.6 308.7h2.4v1.5h-2.4zM208.0 310.2h2.4v1.5h-2.4zM222.4 310.2h2.4v1.5h-2.4zM284.7 310.2h2.4v1.5h-2.4zM308.7 310.2h2.4v1.5h-2.4zM315.9 310.2h2.4v1.5h-2.4zM371.1 310.2h2.4v1.5h-2.4zM462.3 310.2h2.4v1.5h-2.4zM534.3 310.2h2.4v1.5h-2.4zM587.0 310.2h2.4v1.5h-2.4zM627.8 310.2h2.4v1.5h-2.4zM239.2 313.3h2.4v1.5h-2.4zM253.5 313.3h2.4v1.5h-2.4zM265.5 313.3h2.4v1.5h-2.4zM313.5 313.3h2.4v1.5h-2.4zM402.3 313.3h2.4v1.5h-2.4zM423.9 313.3h2.4v1.5h-2.4zM464.7 314.8h2.4v1.5h-2.4zM498.3 316.3h2.4v1.5h-2.4zM680.6 316.3h2.4v1.5h-2.4zM668.6 320.8h2.4v1.5h-2.4zM431.1 322.3h2.4v1.5h-2.4zM157.6 435.0h2.4v1.5h-2.4zM100.0 441.0h2.4v1.5h-2.4zM119.2 441.0h2.4v1.5h-2.4zM162.4 441.0h2.4v1.5h-2.4zM112.0 442.5h2.4v1.5h-2.4zM184.0 444.0h2.4v1.5h-2.4zM363.9 445.5h2.4v1.5h-2.4zM404.7 447.0h2.4v1.5h-2.4zM179.2 448.5h2.4v1.5h-2.4zM188.8 448.5h2.4v1.5h-2.4zM579.8 448.5h2.4v1.5h-2.4zM136.0 450.0h2.4v1.5h-2.4zM184.0 450.0h2.4v1.5h-2.4zM327.9 450.0h2.4v1.5h-2.4zM579.8 450.0h2.4v1.5h-2.4zM459.9 451.5h2.4v1.5h-2.4zM553.4 451.5h2.4v1.5h-2.4zM577.4 451.5h4.8v1.5h-4.8zM227.2 453.0h2.4v1.5h-2.4zM301.5 453.0h2.4v1.5h-2.4zM395.1 453.0h2.4v1.5h-2.4zM431.1 453.0h2.4v1.5h-2.4zM481.5 453.0h2.4v1.5h-2.4zM270.3 454.5h2.4v1.5h-2.4zM493.5 454.5h2.4v1.5h-2.4zM560.6 454.5h2.4v1.5h-2.4zM229.6 456.0h2.4v1.5h-2.4zM275.1 456.0h2.4v1.5h-2.4zM459.9 456.0h2.4v1.5h-2.4zM551.0 456.0h2.4v1.5h-2.4zM584.6 456.0h2.4v1.5h-2.4zM683.0 456.0h2.4v1.5h-2.4zM210.4 457.5h2.4v1.5h-2.4zM339.9 457.5h2.4v1.5h-2.4zM428.7 457.5h2.4v1.5h-2.4zM515.1 457.5h2.4v1.5h-2.4zM325.5 459.0h2.4v1.5h-2.4zM399.9 459.0h2.4v1.5h-2.4zM457.5 460.5h2.4v1.5h-2.4zM642.2 462.0h2.4v1.5h-2.4zM251.1 463.5h2.4v1.5h-2.4zM303.9 463.5h2.4v1.5h-2.4zM327.9 463.5h2.4v1.5h-2.4zM402.3 463.5h2.4v1.5h-2.4zM450.3 463.5h2.4v1.5h-2.4zM452.7 465.0h4.8v1.5h-4.8zM654.2 465.0h2.4v1.5h-2.4zM680.6 465.0h2.4v1.5h-2.4zM289.5 466.5h2.4v1.5h-2.4zM687.8 466.5h4.8v1.5h-4.8zM450.3 471.0h2.4v1.5h-2.4zM186.4 534.1h2.4v1.5h-2.4zM145.6 535.6h2.4v1.5h-2.4zM193.6 537.1h2.4v1.5h-2.4zM198.4 540.1h2.4v1.5h-2.4zM524.7 541.6h2.4v1.5h-2.4zM368.7 543.1h2.4v1.5h-2.4zM611.0 543.1h2.4v1.5h-2.4zM227.2 544.6h2.4v1.5h-2.4zM560.6 544.6h2.4v1.5h-2.4zM517.5 546.1h2.4v1.5h-2.4zM591.8 546.1h2.4v1.5h-2.4zM315.9 547.6h2.4v1.5h-2.4zM349.5 547.6h2.4v1.5h-2.4zM419.1 547.6h2.4v1.5h-2.4zM224.8 549.2h2.4v1.5h-2.4zM241.6 549.2h2.4v1.5h-2.4zM486.3 549.2h2.4v1.5h-2.4zM495.9 549.2h2.4v1.5h-2.4zM649.4 549.2h2.4v1.5h-2.4zM313.5 550.7h2.4v1.5h-2.4zM491.1 550.7h2.4v1.5h-2.4zM546.2 550.7h2.4v1.5h-2.4zM620.6 550.7h2.4v1.5h-2.4zM227.2 552.2h2.4v1.5h-2.4zM251.1 552.2h2.4v1.5h-2.4zM313.5 552.2h2.4v1.5h-2.4zM385.5 552.2h2.4v1.5h-2.4zM438.3 552.2h2.4v1.5h-2.4zM647.0 552.2h2.4v1.5h-2.4zM294.3 553.7h2.4v1.5h-2.4zM375.9 553.7h4.8v1.5h-4.8zM399.9 553.7h2.4v1.5h-2.4zM644.6 553.7h2.4v1.5h-2.4zM654.2 555.2h2.4v1.5h-2.4zM685.4 555.2h2.4v1.5h-2.4zM404.7 556.7h2.4v1.5h-2.4zM471.9 556.7h2.4v1.5h-2.4zM663.8 556.7h2.4v1.5h-2.4zM318.3 558.2h2.4v1.5h-2.4zM661.4 558.2h2.4v1.5h-2.4zM675.8 558.2h2.4v1.5h-2.4zM244.0 559.7h2.4v1.5h-2.4zM661.4 562.7h2.4v1.5h-2.4z"/><path fill="#00afff" d="M107.2 126.9h2.4v1.5h-2.4zM121.6 126.9h2.4v1.5h-2.4zM100.0 128.4h2.4v1.5h-2.4zM131.2 128.4h2.4v1.5h-2.4zM155.2 128.4h2.4v1.5h-2.4zM558.2 128.4h2.4v1.5h-2.4zM611.0 128.4h2.4v1.5h-2.4zM169.6 129.9h2.4v1.5h-2.4zM546.2 129.9h2.4v1.5h-2.4zM563.0 129.9h2.4v1.5h-2.4zM572.6 129.9h2.4v1.5h-2.4zM611.0 129.9h2.4v1.5h-2.4zM627.8 129.9h2.4v1.5h-2.4zM188.8 131.4h2.4v1.5h-2.4zM251.1 131.4h2.4v1.5h-2.4zM236.8 135.9h2.4v1.5h-2.4zM260.7 135.9h2.4v1.5h-2.4zM323.1 135.9h2.4v1.5h-2.4zM337.5 135.9h2.4v1.5h-2.4zM351.9 135.9h2.4v1.5h-2.4zM375.9 135.9h2.4v1.5h-2.4zM196.0 137.5h2.4v1.5h-2.4zM227.2 137.5h2.4v1.5h-2.4zM279.9 137.5h2.4v1.5h-2.4zM416.7 137.5h2.4v1.5h-2.4zM431.1 137.5h2.4v1.5h-2.4zM443.1 137.5h2.4v1.5h-2.4zM457.5 137.5h2.4v1.5h-2.4zM486.3 137.5h2.4v1.5h-2.4zM500.7 137.5h2.4v1.5h-2.4zM229.6 139.0h2.4v1.5h-2.4zM263.1 139.0h2.4v1.5h-2.4zM275.1 139.0h2.4v1.5h-2.4zM390.3 139.0h2.4v1.5h-2.4zM409.5 139.0h4.8v1.5h-4.8zM445.5 139.0h2.4v1.5h-2.4zM476.7 139.0h2.4v1.5h-2.4zM301.5 140.5h2.4v1.5h-2.4zM445.5 140.5h2.4v1.5h-2.4zM459.9 140.5h2.4v1.5h-2.4zM486.3 140.5h2.4v1.5h-2.4zM687.8 140.5h2.4v1.5h-2.4zM244.0 142.0h2.4v1.5h-2.4zM246.4 143.5h2.4v1.5h-2.4zM416.7 143.5h2.4v1.5h-2.4zM680.6 145.0h2.4v1.5h-2.4zM673.4 146.5h2.4v1.5h-2.4zM661.4 148.0h2.4v1.5h-2.4zM107.2 290.7h4.8v1.5h-4.8zM124.0 290.7h2.4v1.5h-2.4zM162.4 290.7h2.4v1.5h-2.4zM131.2 292.2h2.4v1.5h-2.4zM143.2 295.2h2.4v1.5h-2.4zM164.8 295.2h2.4v1.5h-2.4zM136.0 296.7h2.4v1.5h-2.4zM145.6 296.7h2.4v1.5h-2.4zM546.2 298.2h2.4v1.5h-2.4zM193.6 301.2h2.4v1.5h-2.4zM606.2 301.2h2.4v1.5h-2.4zM275.1 302.7h2.4v1.5h-2.4zM450.3 302.7h2.4v1.5h-2.4zM599.0 302.7h2.4v1.5h-2.4zM294.3 304.2h2.4v1.5h-2.4zM332.7 304.2h2.4v1.5h-2.4zM361.5 304.2h2.4v1.5h-2.4zM404.7 304.2h2.4v1.5h-2.4zM531.9 304.2h2.4v1.5h-2.4zM567.8 304.2h2.4v1.5h-2.4zM587.0 305.7h2.4v1.5h-2.4zM671.0 305.7h2.4v1.5h-2.4zM279.9 307.2h2.4v1.5h-2.4zM313.5 307.2h2.4v1.5h-2.4zM215.2 308.7h2.4v1.5h-2.4zM421.5 308.7h2.4v1.5h-2.4zM527.1 308.7h2.4v1.5h-2.4zM551.0 308.7h2.4v1.5h-2.4zM647.0 308.7h2.4v1.5h-2.4zM639.8 310.2h2.4v1.5h-2.4zM241.6 311.7h2.4v1.5h-2.4zM481.5 311.7h2.4v1.5h-2.4zM486.3 311.7h2.4v1.5h-2.4zM493.5 311.7h2.4v1.5h-2.4zM661.4 311.7h2.4v1.5h-2.4zM229.6 313.3h2.4v1.5h-2.4zM375.9 313.3h2.4v1.5h-2.4zM399.9 313.3h2.4v1.5h-2.4zM644.6 313.3h2.4v1.5h-2.4zM447.9 314.8h2.4v1.5h-2.4zM668.6 314.8h2.4v1.5h-2.4zM692.6 314.8h2.4v1.5h-2.4zM263.1 316.3h2.4v1.5h-2.4zM440.7 316.3h2.4v1.5h-2.4zM152.8 436.5h2.4v1.5h-2.4zM131.2 442.5h2.4v1.5h-2.4zM179.2 442.5h2.4v1.5h-2.4zM162.4 445.5h2.4v1.5h-2.4zM308.7 447.0h2.4v1.5h-2.4zM481.5 447.0h2.4v1.5h-2.4zM198.4 448.5h2.4v1.5h-2.4zM572.6 448.5h2.4v1.5h-2.4zM608.6 448.5h2.4v1.5h-2.4zM124.0 450.0h2.4v1.5h-2.4zM140.8 450.0h2.4v1.5h-2.4zM181.6 450.0h2.4v1.5h-2.4zM404.7 450.0h2.4v1.5h-2.4zM527.1 450.0h2.4v1.5h-2.4zM347.1 451.5h2.4v1.5h-2.4zM558.2 451.5h2.4v1.5h-2.4zM601.4 451.5h2.4v1.5h-2.4zM654.2 451.5h2.4v1.5h-2.4zM203.2 453.0h2.4v1.5h-2.4zM229.6 453.0h2.4v1.5h-2.4zM435.9 453.0h2.4v1.5h-2.4zM577.4 453.0h2.4v1.5h-2.4zM172.0 454.5h2.4v1.5h-2.4zM519.9 454.5h2.4v1.5h-2.4zM558.2 454.5h2.4v1.5h-2.4zM620.6 454.5h2.4v1.5h-2.4zM630.2 454.5h2.4v1.5h-2.4zM649.4 454.5h2.4v1.5h-2.4zM193.6 456.0h2.4v1.5h-2.4zM385.5 456.0h2.4v1.5h-2.4zM428.7 456.0h2.4v1.5h-2.4zM620.6 456.0h2.4v1.5h-2.4zM464.7 457.5h2.4v1.5h-2.4zM546.2 457.5h2.4v1.5h-2.4zM596.6 457.5h2.4v1.5h-2.4zM656.6 457.5h2.4v1.5h-2.4zM212.8 459.0h2.4v1.5h-2.4zM311.1 459.0h2.4v1.5h-2.4zM351.9 459.0h2.4v1.5h-2.4zM356.7 459.0h2.4v1.5h-2.4zM445.5 459.0h2.4v1.5h-2.4zM203.2 460.5h2.4v1.5h-2.4zM255.9 460.5h2.4v1.5h-2.4zM313.5 460.5h2.4v1.5h-2.4zM479.1 460.5h4.8v1.5h-4.8zM486.3 460.5h2.4v1.5h-2.4zM495.9 460.5h2.4v1.5h-2.4zM601.4 460.5h2.4v1.5h-2.4zM627.8 460.5h2.4v1.5h-2.4zM663.8 460.5h2.4v1.5h-2.4zM258.3 462.0h2.4v1.5h-2.4zM275.1 462.0h2.4v1.5h-2.4zM287.1 462.0h2.4v1.5h-2.4zM469.5 462.0h2.4v1.5h-2.4zM627.8 462.0h2.4v1.5h-2.4zM639.8 462.0h2.4v1.5h-2.4zM426.3 463.5h2.4v1.5h-2.4zM289.5 465.0h2.4v1.5h-2.4zM661.4 465.0h2.4v1.5h-2.4zM241.6 466.5h2.4v1.5h-2.4zM661.4 466.5h2.4v1.5h-2.4zM661.4 468.0h2.4v1.5h-2.4zM133.6 534.1h2.4v1.5h-2.4zM157.6 534.1h2.4v1.5h-2.4zM167.2 534.1h2.4v1.5h-2.4zM136.0 537.1h2.4v1.5h-2.4zM191.2 540.1h2.4v1.5h-2.4zM167.2 544.6h2.4v1.5h-2.4zM359.1 544.6h2.4v1.5h-2.4zM423.9 544.6h2.4v1.5h-2.4zM627.8 544.6h2.4v1.5h-2.4zM390.3 546.1h2.4v1.5h-2.4zM548.6 546.1h2.4v1.5h-2.4zM615.8 546.1h2.4v1.5h-2.4zM229.6 547.6h2.4v1.5h-2.4zM356.7 547.6h2.4v1.5h-2.4zM416.7 547.6h2.4v1.5h-2.4zM611.0 547.6h2.4v1.5h-2.4zM399.9 549.2h2.4v1.5h-2.4zM663.8 550.7h2.4v1.5h-2.4zM287.1 552.2h2.4v1.5h-2.4zM371.1 552.2h2.4v1.5h-2.4zM392.7 552.2h2.4v1.5h-2.4zM409.5 552.2h2.4v1.5h-2.4zM483.9 552.2h2.4v1.5h-2.4zM606.2 552.2h2.4v1.5h-2.4zM342.3 553.7h2.4v1.5h-2.4zM404.7 553.7h2.4v1.5h-2.4zM419.1 553.7h2.4v1.5h-2.4zM433.5 553.7h2.4v1.5h-2.4zM455.1 553.7h2.4v1.5h-2.4zM654.2 553.7h2.4v1.5h-2.4zM306.3 555.2h2.4v1.5h-2.4zM457.5 555.2h2.4v1.5h-2.4zM486.3 555.2h2.4v1.5h-2.4zM435.9 556.7h2.4v1.5h-2.4zM457.5 558.2h2.4v1.5h-2.4zM680.6 561.2h2.4v1.5h-2.4z"/><path fill="#00bfff" d="M104.8 120.9h2.4v1.5h-2.4zM114.4 120.9h2.4v1.5h-2.4zM145.6 122.4h4.8v1.5h-4.8zM109.6 123.9h2.4v1.5h-2.4zM128.8 125.4h2.4v1.5h-2.4zM179.2 125.4h2.4v1.5h-2.4zM116.8 126.9h2.4v1.5h-2.4zM131.2 126.9h2.4v1.5h-2.4zM143.2 126.9h2.4v1.5h-2.4zM160.0 126.9h2.4v1.5h-2.4zM543.9 126.9h2.4v1.5h-2.4zM176.8 128.4h2.4v1.5h-2.4zM179.2 129.9h2.4v1.5h-2.4zM184.0 129.9h2.4v1.5h-2.4zM181.6 131.4h2.4v1.5h-2.4zM198.4 131.4h2.4v1.5h-2.4zM320.7 131.4h2.4v1.5h-2.4zM553.4 131.4h2.4v1.5h-2.4zM587.0 131.4h2.4v1.5h-2.4zM639.8 131.4h2.4v1.5h-2.4zM217.6 135.9h2.4v1.5h-2.4zM289.5 135.9h2.4v1.5h-2.4zM361.5 135.9h2.4v1.5h-2.4zM416.7 135.9h2.4v1.5h-2.4zM443.1 135.9h4.8v1.5h-4.8zM476.7 135.9h2.4v1.5h-2.4zM510.3 135.9h2.4v1.5h-2.4zM671.0 135.9h2.4v1.5h-2.4zM208.0 137.5h2.4v1.5h-2.4zM212.8 137.5h2.4v1.5h-2.4zM236.8 137.5h2.4v1.5h-2.4zM246.4 137.5h2.4v1.5h-2.4zM260.7 137.5h2.4v1.5h-2.4zM347.1 137.5h2.4v1.5h-2.4zM351.9 137.5h2.4v1.5h-2.4zM421.5 137.5h2.4v1.5h-2.4zM467.1 137.5h2.4v1.5h-2.4zM685.4 137.5h2.4v1.5h-2.4zM270.3 139.0h2.4v1.5h-2.4zM311.1 139.0h2.4v1.5h-2.4zM337.5 139.0h2.4v1.5h-2.4zM368.7 139.0h2.4v1.5h-2.4zM397.5 139.0h2.4v1.5h-2.4zM423.9 139.0h2.4v1.5h-2.4zM651.8 139.0h2.4v1.5h-2.4zM668.6 139.0h2.4v1.5h-2.4zM258.3 140.5h2.4v1.5h-2.4zM399.9 140.5h2.4v1.5h-2.4zM409.5 140.5h2.4v1.5h-2.4zM428.7 140.5h2.4v1.5h-2.4zM673.4 140.5h2.4v1.5h-2.4zM335.1 142.0h2.4v1.5h-2.4zM433.5 142.0h2.4v1.5h-2.4zM687.8 145.0h2.4v1.5h-2.4zM354.3 146.5h2.4v1.5h-2.4zM426.3 146.5h2.4v1.5h-2.4zM102.4 290.7h2.4v1.5h-2.4zM150.4 292.2h2.4v1.5h-2.4zM138.4 293.7h2.4v1.5h-2.4zM124.0 295.2h2.4v1.5h-2.4zM112.0 296.7h2.4v1.5h-2.4zM131.2 299.7h2.4v1.5h-2.4zM371.1 299.7h2.4v1.5h-2.4zM635.0 299.7h2.4v1.5h-2.4zM582.2 301.2h2.4v1.5h-2.4zM100.0 302.7h2.4v1.5h-2.4zM339.9 302.7h2.4v1.5h-2.4zM392.7 302.7h2.4v1.5h-2.4zM553.4 302.7h2.4v1.5h-2.4zM203.2 304.2h2.4v1.5h-2.4zM212.8 304.2h2.4v1.5h-2.4zM217.6 304.2h2.4v1.5h-2.4zM188.8 305.7h2.4v1.5h-2.4zM193.6 305.7h2.4v1.5h-2.4zM220.0 305.7h2.4v1.5h-2.4zM301.5 305.7h2.4v1.5h-2.4zM318.3 305.7h2.4v1.5h-2.4zM385.5 305.7h2.4v1.5h-2.4zM438.3 305.7h2.4v1.5h-2.4zM462.3 305.7h2.4v1.5h-2.4zM577.4 305.7h2.4v1.5h-2.4zM380.7 307.2h2.4v1.5h-2.4zM512.7 307.2h2.4v1.5h-2.4zM539.1 307.2h2.4v1.5h-2.4zM548.6 307.2h2.4v1.5h-2.4zM618.2 307.2h2.4v1.5h-2.4zM294.3 308.7h2.4v1.5h-2.4zM303.9 308.7h2.4v1.5h-2.4zM342.3 308.7h2.4v1.5h-2.4zM438.3 308.7h2.4v1.5h-2.4zM546.2 308.7h2.4v1.5h-2.4zM611.0 308.7h2.4v1.5h-2.4zM630.2 308.7h2.4v1.5h-2.4zM666.2 308.7h2.4v1.5h-2.4zM270.3 310.2h4.8v1.5h-4.8zM383.1 311.7h2.4v1.5h-2.4zM395.1 311.7h2.4v1.5h-2.4zM445.5 311.7h2.4v1.5h-2.4zM469.5 311.7h2.4v1.5h-2.4zM474.3 311.7h2.4v1.5h-2.4zM565.4 311.7h4.8v1.5h-4.8zM632.6 311.7h2.4v1.5h-2.4zM270.3 313.3h2.4v1.5h-2.4zM383.1 313.3h2.4v1.5h-2.4zM411.9 313.3h2.4v1.5h-2.4zM536.7 313.3h2.4v1.5h-2.4zM615.8 313.3h2.4v1.5h-2.4zM666.2 313.3h4.8v1.5h-4.8zM673.4 313.3h2.4v1.5h-2.4zM296.7 314.8h2.4v1.5h-2.4zM543.9 316.3h2.4v1.5h-2.4zM277.5 317.8h2.4v1.5h-2.4zM666.2 319.3h2.4v1.5h-2.4zM447.9 320.8h2.4v1.5h-2.4zM131.2 433.5h2.4v1.5h-2.4zM160.0 433.5h2.4v1.5h-2.4zM107.2 436.5h2.4v1.5h-2.4zM172.0 439.5h2.4v1.5h-2.4zM155.2 441.0h2.4v1.5h-2.4zM124.0 442.5h2.4v1.5h-2.4zM172.0 442.5h2.4v1.5h-2.4zM150.4 444.0h2.4v1.5h-2.4zM186.4 444.0h2.4v1.5h-2.4zM584.6 447.0h2.4v1.5h-2.4zM116.8 448.5h2.4v1.5h-2.4zM193.6 448.5h2.4v1.5h-2.4zM291.9 450.0h2.4v1.5h-2.4zM567.8 450.0h2.4v1.5h-2.4zM577.4 450.0h2.4v1.5h-2.4zM620.6 450.0h2.4v1.5h-2.4zM407.1 451.5h2.4v1.5h-2.4zM411.9 451.5h2.4v1.5h-2.4zM546.2 451.5h4.8v1.5h-4.8zM563.0 451.5h2.4v1.5h-2.4zM224.8 453.0h2.4v1.5h-2.4zM284.7 453.0h2.4v1.5h-2.4zM380.7 453.0h2.4v1.5h-2.4zM572.6 453.0h2.4v1.5h-2.4zM414.3 454.5h2.4v1.5h-2.4zM428.7 454.5h2.4v1.5h-2.4zM479.1 454.5h2.4v1.5h-2.4zM491.1 454.5h2.4v1.5h-2.4zM383.1 456.0h2.4v1.5h-2.4zM419.1 456.0h2.4v1.5h-2.4zM443.1 456.0h2.4v1.5h-2.4zM491.1 456.0h2.4v1.5h-2.4zM558.2 456.0h2.4v1.5h-2.4zM570.2 456.0h2.4v1.5h-2.4zM582.2 456.0h2.4v1.5h-2.4zM203.2 457.5h2.4v1.5h-2.4zM260.7 457.5h2.4v1.5h-2.4zM452.7 457.5h2.4v1.5h-2.4zM512.7 457.5h2.4v1.5h-2.4zM308.7 459.0h2.4v1.5h-2.4zM500.7 459.0h2.4v1.5h-2.4zM606.2 459.0h2.4v1.5h-2.4zM620.6 459.0h2.4v1.5h-2.4zM625.4 459.0h2.4v1.5h-2.4zM275.1 460.5h2.4v1.5h-2.4zM603.8 460.5h2.4v1.5h-2.4zM651.8 460.5h2.4v1.5h-2.4zM232.0 462.0h2.4v1.5h-2.4zM339.9 462.0h2.4v1.5h-2.4zM344.7 462.0h2.4v1.5h-2.4zM354.3 462.0h2.4v1.5h-2.4zM479.1 462.0h2.4v1.5h-2.4zM270.3 463.5h2.4v1.5h-2.4zM291.9 463.5h2.4v1.5h-2.4zM426.3 465.0h2.4v1.5h-2.4zM373.5 466.5h2.4v1.5h-2.4zM632.6 466.5h2.4v1.5h-2.4zM685.4 466.5h2.4v1.5h-2.4zM659.0 468.0h2.4v1.5h-2.4zM133.6 532.6h2.4v1.5h-2.4zM112.0 537.1h2.4v1.5h-2.4zM114.4 538.6h2.4v1.5h-2.4zM188.8 538.6h2.4v1.5h-2.4zM203.2 538.6h2.4v1.5h-2.4zM107.2 540.1h2.4v1.5h-2.4zM169.6 541.6h2.4v1.5h-2.4zM193.6 541.6h2.4v1.5h-2.4zM212.8 543.1h2.4v1.5h-2.4zM548.6 543.1h2.4v1.5h-2.4zM563.0 543.1h2.4v1.5h-2.4zM215.2 544.6h2.4v1.5h-2.4zM431.1 544.6h2.4v1.5h-2.4zM486.3 544.6h2.4v1.5h-2.4zM529.5 544.6h2.4v1.5h-2.4zM534.3 546.1h2.4v1.5h-2.4zM558.2 546.1h2.4v1.5h-2.4zM608.6 546.1h2.4v1.5h-2.4zM303.9 547.6h2.4v1.5h-2.4zM378.3 547.6h2.4v1.5h-2.4zM409.5 547.6h2.4v1.5h-2.4zM431.1 547.6h2.4v1.5h-2.4zM471.9 547.6h2.4v1.5h-2.4zM491.1 547.6h2.4v1.5h-2.4zM267.9 549.2h2.4v1.5h-2.4zM435.9 549.2h2.4v1.5h-2.4zM459.9 549.2h2.4v1.5h-2.4zM596.6 549.2h2.4v1.5h-2.4zM618.2 549.2h2.4v1.5h-2.4zM375.9 550.7h2.4v1.5h-2.4zM428.7 550.7h2.4v1.5h-2.4zM519.9 550.7h2.4v1.5h-2.4zM584.6 550.7h4.8v1.5h-4.8zM615.8 550.7h2.4v1.5h-2.4zM639.8 550.7h2.4v1.5h-2.4zM308.7 552.2h2.4v1.5h-2.4zM476.7 552.2h2.4v1.5h-2.4zM488.7 552.2h2.4v1.5h-2.4zM613.4 552.2h2.4v1.5h-2.4zM668.6 552.2h2.4v1.5h-2.4zM414.3 553.7h2.4v1.5h-2.4zM431.1 553.7h2.4v1.5h-2.4zM527.1 553.7h2.4v1.5h-2.4zM668.6 553.7h2.4v1.5h-2.4zM411.9 555.2h4.8v1.5h-4.8zM438.3 555.2h2.4v1.5h-2.4zM644.6 556.7h2.4v1.5h-2.4zM409.5 559.7h2.4v1.5h-2.4zM330.3 561.2h2.4v1.5h-2.4zM692.6 561.2h2.4v1.5h-2.4z"/><path fill="#00cfff" d="M112.0 122.4h2.4v1.5h-2.4zM167.2 123.9h2.4v1.5h-2.4zM160.0 128.4h2.4v1.5h-2.4zM174.4 128.4h2.4v1.5h-2.4zM548.6 128.4h2.4v1.5h-2.4zM579.8 129.9h2.4v1.5h-2.4zM587.0 129.9h2.4v1.5h-2.4zM591.8 129.9h2.4v1.5h-2.4zM608.6 129.9h2.4v1.5h-2.4zM176.8 131.4h2.4v1.5h-2.4zM193.6 131.4h2.4v1.5h-2.4zM215.2 131.4h2.4v1.5h-2.4zM244.0 131.4h2.4v1.5h-2.4zM435.9 131.4h2.4v1.5h-2.4zM563.0 131.4h2.4v1.5h-2.4zM601.4 131.4h2.4v1.5h-2.4zM196.0 135.9h2.4v1.5h-2.4zM385.5 135.9h2.4v1.5h-2.4zM390.3 135.9h2.4v1.5h-2.4zM428.7 135.9h2.4v1.5h-2.4zM644.6 135.9h2.4v1.5h-2.4zM205.6 137.5h2.4v1.5h-2.4zM361.5 137.5h2.4v1.5h-2.4zM404.7 137.5h2.4v1.5h-2.4zM462.3 137.5h2.4v1.5h-2.4zM661.4 137.5h2.4v1.5h-2.4zM671.0 137.5h2.4v1.5h-2.4zM215.2 139.0h2.4v1.5h-2.4zM251.1 139.0h2.4v1.5h-2.4zM267.9 139.0h2.4v1.5h-2.4zM323.1 139.0h2.4v1.5h-2.4zM440.7 139.0h2.4v1.5h-2.4zM666.2 139.0h2.4v1.5h-2.4zM678.2 139.0h2.4v1.5h-2.4zM208.0 140.5h2.4v1.5h-2.4zM220.0 140.5h2.4v1.5h-2.4zM251.1 140.5h2.4v1.5h-2.4zM279.9 140.5h2.4v1.5h-2.4zM287.1 140.5h2.4v1.5h-2.4zM313.5 140.5h2.4v1.5h-2.4zM318.3 140.5h2.4v1.5h-2.4zM339.9 140.5h2.4v1.5h-2.4zM385.5 140.5h2.4v1.5h-2.4zM339.9 142.0h2.4v1.5h-2.4zM423.9 142.0h2.4v1.5h-2.4zM440.7 142.0h2.4v1.5h-2.4zM301.5 143.5h2.4v1.5h-2.4zM318.3 143.5h2.4v1.5h-2.4zM330.3 143.5h2.4v1.5h-2.4zM387.9 143.5h2.4v1.5h-2.4zM661.4 146.5h2.4v1.5h-2.4zM685.4 146.5h2.4v1.5h-2.4zM114.4 289.2h2.4v1.5h-2.4zM136.0 289.2h2.4v1.5h-2.4zM131.2 290.7h2.4v1.5h-2.4zM136.0 292.2h2.4v1.5h-2.4zM148.0 292.2h2.4v1.5h-2.4zM104.8 293.7h2.4v1.5h-2.4zM169.6 293.7h2.4v1.5h-2.4zM121.6 295.2h2.4v1.5h-2.4zM128.8 295.2h2.4v1.5h-2.4zM150.4 295.2h2.4v1.5h-2.4zM368.7 296.7h2.4v1.5h-2.4zM148.0 298.2h2.4v1.5h-2.4zM603.8 298.2h2.4v1.5h-2.4zM339.9 299.7h2.4v1.5h-2.4zM112.0 301.2h2.4v1.5h-2.4zM191.2 301.2h2.4v1.5h-2.4zM229.6 301.2h2.4v1.5h-2.4zM378.3 301.2h2.4v1.5h-2.4zM488.7 301.2h2.4v1.5h-2.4zM551.0 301.2h2.4v1.5h-2.4zM587.0 301.2h2.4v1.5h-2.4zM320.7 302.7h2.4v1.5h-2.4zM335.1 302.7h2.4v1.5h-2.4zM368.7 302.7h2.4v1.5h-2.4zM572.6 302.7h2.4v1.5h-2.4zM179.2 304.2h2.4v1.5h-2.4zM318.3 304.2h2.4v1.5h-2.4zM375.9 304.2h2.4v1.5h-2.4zM428.7 304.2h2.4v1.5h-2.4zM613.4 304.2h2.4v1.5h-2.4zM632.6 304.2h2.4v1.5h-2.4zM673.4 304.2h2.4v1.5h-2.4zM186.4 305.7h2.4v1.5h-2.4zM232.0 305.7h2.4v1.5h-2.4zM282.3 305.7h2.4v1.5h-2.4zM287.1 305.7h2.4v1.5h-2.4zM361.5 305.7h2.4v1.5h-2.4zM467.1 305.7h2.4v1.5h-2.4zM591.8 305.7h2.4v1.5h-2.4zM596.6 305.7h2.4v1.5h-2.4zM220.0 307.2h2.4v1.5h-2.4zM258.3 307.2h2.4v1.5h-2.4zM272.7 307.2h2.4v1.5h-2.4zM488.7 307.2h2.4v1.5h-2.4zM642.2 307.2h2.4v1.5h-2.4zM217.6 308.7h2.4v1.5h-2.4zM222.4 308.7h2.4v1.5h-2.4zM337.5 308.7h2.4v1.5h-2.4zM522.3 308.7h2.4v1.5h-2.4zM618.2 308.7h2.4v1.5h-2.4zM642.2 308.7h2.4v1.5h-2.4zM435.9 310.2h2.4v1.5h-2.4zM498.3 310.2h2.4v1.5h-2.4zM659.0 310.2h2.4v1.5h-2.4zM193.6 311.7h2.4v1.5h-2.4zM234.4 311.7h2.4v1.5h-2.4zM344.7 311.7h2.4v1.5h-2.4zM524.7 311.7h2.4v1.5h-2.4zM692.6 311.7h2.4v1.5h-2.4zM613.4 313.3h2.4v1.5h-2.4zM661.4 313.3h2.4v1.5h-2.4zM248.8 314.8h2.4v1.5h-2.4zM464.7 316.3h2.4v1.5h-2.4zM291.9 319.3h2.4v1.5h-2.4zM131.2 438.0h2.4v1.5h-2.4zM150.4 439.5h2.4v1.5h-2.4zM126.4 441.0h2.4v1.5h-2.4zM133.6 441.0h2.4v1.5h-2.4zM160.0 441.0h2.4v1.5h-2.4zM308.7 445.5h2.4v1.5h-2.4zM239.2 448.5h2.4v1.5h-2.4zM186.4 450.0h2.4v1.5h-2.4zM263.1 450.0h2.4v1.5h-2.4zM474.3 450.0h2.4v1.5h-2.4zM234.4 451.5h2.4v1.5h-2.4zM318.3 451.5h2.4v1.5h-2.4zM539.1 451.5h2.4v1.5h-2.4zM620.6 451.5h2.4v1.5h-2.4zM104.8 453.0h2.4v1.5h-2.4zM212.8 453.0h2.4v1.5h-2.4zM265.5 453.0h2.4v1.5h-2.4zM277.5 453.0h2.4v1.5h-2.4zM320.7 453.0h2.4v1.5h-2.4zM385.5 453.0h2.4v1.5h-2.4zM414.3 453.0h2.4v1.5h-2.4zM505.5 453.0h2.4v1.5h-2.4zM565.4 453.0h2.4v1.5h-2.4zM594.2 453.0h2.4v1.5h-2.4zM675.8 453.0h2.4v1.5h-2.4zM455.1 454.5h2.4v1.5h-2.4zM459.9 454.5h2.4v1.5h-2.4zM476.7 454.5h2.4v1.5h-2.4zM589.4 454.5h2.4v1.5h-2.4zM601.4 454.5h2.4v1.5h-2.4zM179.2 456.0h2.4v1.5h-2.4zM287.1 456.0h2.4v1.5h-2.4zM395.1 456.0h2.4v1.5h-2.4zM399.9 456.0h2.4v1.5h-2.4zM435.9 456.0h2.4v1.5h-2.4zM289.5 457.5h2.4v1.5h-2.4zM471.9 457.5h2.4v1.5h-2.4zM620.6 457.5h2.4v1.5h-2.4zM668.6 457.5h2.4v1.5h-2.4zM205.6 459.0h2.4v1.5h-2.4zM232.0 459.0h2.4v1.5h-2.4zM284.7 459.0h2.4v1.5h-2.4zM397.5 459.0h2.4v1.5h-2.4zM642.2 459.0h2.4v1.5h-2.4zM666.2 459.0h2.4v1.5h-2.4zM229.6 460.5h4.8v1.5h-4.8zM373.5 460.5h2.4v1.5h-2.4zM390.3 460.5h2.4v1.5h-2.4zM407.1 460.5h2.4v1.5h-2.4zM411.9 460.5h2.4v1.5h-2.4zM515.1 460.5h2.4v1.5h-2.4zM630.2 460.5h2.4v1.5h-2.4zM635.0 460.5h2.4v1.5h-2.4zM361.5 462.0h2.4v1.5h-2.4zM462.3 462.0h2.4v1.5h-2.4zM596.6 462.0h2.4v1.5h-2.4zM647.0 462.0h2.4v1.5h-2.4zM404.7 463.5h2.4v1.5h-2.4zM210.4 465.0h2.4v1.5h-2.4zM287.1 465.0h2.4v1.5h-2.4zM438.3 465.0h2.4v1.5h-2.4zM510.3 466.5h2.4v1.5h-2.4zM680.6 471.0h2.4v1.5h-2.4zM124.0 535.6h2.4v1.5h-2.4zM131.2 537.1h2.4v1.5h-2.4zM140.8 537.1h2.4v1.5h-2.4zM196.0 540.1h2.4v1.5h-2.4zM104.8 541.6h2.4v1.5h-2.4zM114.4 541.6h2.4v1.5h-2.4zM121.6 541.6h2.4v1.5h-2.4zM174.4 541.6h2.4v1.5h-2.4zM203.2 541.6h2.4v1.5h-2.4zM143.2 543.1h2.4v1.5h-2.4zM167.2 543.1h2.4v1.5h-2.4zM210.4 543.1h2.4v1.5h-2.4zM407.1 543.1h2.4v1.5h-2.4zM659.0 543.1h2.4v1.5h-2.4zM196.0 544.6h2.4v1.5h-2.4zM493.5 544.6h2.4v1.5h-2.4zM618.2 544.6h2.4v1.5h-2.4zM241.6 546.1h4.8v1.5h-4.8zM555.8 546.1h2.4v1.5h-2.4zM582.2 546.1h2.4v1.5h-2.4zM344.7 547.6h2.4v1.5h-2.4zM375.9 547.6h2.4v1.5h-2.4zM620.6 547.6h4.8v1.5h-4.8zM632.6 547.6h2.4v1.5h-2.4zM678.2 547.6h2.4v1.5h-2.4zM263.1 549.2h2.4v1.5h-2.4zM308.7 549.2h2.4v1.5h-2.4zM469.5 549.2h2.4v1.5h-2.4zM560.6 549.2h2.4v1.5h-2.4zM246.4 550.7h2.4v1.5h-2.4zM421.5 550.7h2.4v1.5h-2.4zM493.5 550.7h2.4v1.5h-2.4zM567.8 550.7h2.4v1.5h-2.4zM656.6 550.7h2.4v1.5h-2.4zM399.9 552.2h2.4v1.5h-2.4zM435.9 552.2h2.4v1.5h-2.4zM467.1 552.2h2.4v1.5h-2.4zM512.7 552.2h2.4v1.5h-2.4zM642.2 552.2h2.4v1.5h-2.4zM217.6 553.7h2.4v1.5h-2.4zM227.2 553.7h2.4v1.5h-2.4zM265.5 553.7h2.4v1.5h-2.4zM277.5 553.7h2.4v1.5h-2.4zM287.1 553.7h2.4v1.5h-2.4zM443.1 553.7h4.8v1.5h-4.8zM517.5 553.7h2.4v1.5h-2.4zM659.0 553.7h2.4v1.5h-2.4zM685.4 553.7h2.4v1.5h-2.4zM435.9 555.2h2.4v1.5h-2.4zM692.6 555.2h2.4v1.5h-2.4zM318.3 556.7h2.4v1.5h-2.4zM347.1 556.7h2.4v1.5h-2.4zM402.3 556.7h2.4v1.5h-2.4zM666.2 556.7h2.4v1.5h-2.4zM395.1 558.2h4.8v1.5h-4.8zM659.0 558.2h2.4v1.5h-2.4zM678.2 558.2h2.4v1.5h-2.4zM311.1 559.7h2.4v1.5h-2.4zM666.2 561.2h2.4v1.5h-2.4zM644.6 564.2h2.4v1.5h-2.4z"/><path fill="#00dfff" d="M126.4 116.4h2.4v1.5h-2.4zM150.4 119.4h2.4v1.5h-2.4zM100.0 125.4h2.4v1.5h-2.4zM160.0 125.4h2.4v1.5h-2.4zM176.8 125.4h2.4v1.5h-2.4zM126.4 126.9h2.4v1.5h-2.4zM150.4 126.9h2.4v1.5h-2.4zM519.9 126.9h2.4v1.5h-2.4zM109.6 128.4h2.4v1.5h-2.4zM152.8 128.4h2.4v1.5h-2.4zM124.0 129.9h2.4v1.5h-2.4zM599.0 129.9h2.4v1.5h-2.4zM522.3 131.4h2.4v1.5h-2.4zM529.5 131.4h2.4v1.5h-2.4zM615.8 131.4h2.4v1.5h-2.4zM623.0 131.4h2.4v1.5h-2.4zM270.3 135.9h2.4v1.5h-2.4zM279.9 135.9h2.4v1.5h-2.4zM318.3 135.9h2.4v1.5h-2.4zM325.5 135.9h2.4v1.5h-2.4zM342.3 135.9h2.4v1.5h-2.4zM402.3 135.9h2.4v1.5h-2.4zM414.3 135.9h2.4v1.5h-2.4zM467.1 135.9h2.4v1.5h-2.4zM512.7 135.9h2.4v1.5h-2.4zM253.5 137.5h2.4v1.5h-2.4zM270.3 137.5h2.4v1.5h-2.4zM323.1 137.5h2.4v1.5h-2.4zM385.5 137.5h2.4v1.5h-2.4zM647.0 137.5h2.4v1.5h-2.4zM205.6 139.0h2.4v1.5h-2.4zM327.9 139.0h2.4v1.5h-2.4zM335.1 139.0h2.4v1.5h-2.4zM342.3 139.0h2.4v1.5h-2.4zM366.3 139.0h2.4v1.5h-2.4zM450.3 139.0h2.4v1.5h-2.4zM375.9 140.5h2.4v1.5h-2.4zM323.1 142.0h2.4v1.5h-2.4zM330.3 142.0h2.4v1.5h-2.4zM421.5 142.0h2.4v1.5h-2.4zM678.2 142.0h2.4v1.5h-2.4zM347.1 143.5h2.4v1.5h-2.4zM267.9 145.0h4.8v1.5h-4.8zM320.7 145.0h2.4v1.5h-2.4zM661.4 145.0h2.4v1.5h-2.4zM683.0 148.0h2.4v1.5h-2.4zM174.4 290.7h2.4v1.5h-2.4zM174.4 292.2h2.4v1.5h-2.4zM128.8 296.7h2.4v1.5h-2.4zM181.6 298.2h2.4v1.5h-2.4zM541.5 298.2h2.4v1.5h-2.4zM148.0 299.7h2.4v1.5h-2.4zM373.5 299.7h2.4v1.5h-2.4zM524.7 299.7h2.4v1.5h-2.4zM563.0 299.7h2.4v1.5h-2.4zM102.4 301.2h2.4v1.5h-2.4zM349.5 301.2h2.4v1.5h-2.4zM104.8 302.7h2.4v1.5h-2.4zM193.6 302.7h2.4v1.5h-2.4zM366.3 302.7h2.4v1.5h-2.4zM395.1 302.7h2.4v1.5h-2.4zM491.1 302.7h2.4v1.5h-2.4zM536.7 302.7h2.4v1.5h-2.4zM596.6 302.7h2.4v1.5h-2.4zM635.0 302.7h2.4v1.5h-2.4zM193.6 304.2h2.4v1.5h-2.4zM279.9 304.2h2.4v1.5h-2.4zM366.3 304.2h2.4v1.5h-2.4zM527.1 304.2h2.4v1.5h-2.4zM599.0 304.2h2.4v1.5h-2.4zM615.8 304.2h2.4v1.5h-2.4zM397.5 305.7h2.4v1.5h-2.4zM414.3 305.7h2.4v1.5h-2.4zM683.0 305.7h2.4v1.5h-2.4zM277.5 307.2h2.4v1.5h-2.4zM289.5 307.2h2.4v1.5h-2.4zM339.9 307.2h2.4v1.5h-2.4zM404.7 307.2h2.4v1.5h-2.4zM479.1 307.2h2.4v1.5h-2.4zM675.8 307.2h2.4v1.5h-2.4zM683.0 307.2h2.4v1.5h-2.4zM212.8 308.7h2.4v1.5h-2.4zM474.3 308.7h2.4v1.5h-2.4zM531.9 308.7h2.4v1.5h-2.4zM279.9 310.2h2.4v1.5h-2.4zM385.5 310.2h2.4v1.5h-2.4zM563.0 310.2h4.8v1.5h-4.8zM606.2 310.2h2.4v1.5h-2.4zM244.0 311.7h2.4v1.5h-2.4zM275.1 311.7h2.4v1.5h-2.4zM279.9 311.7h2.4v1.5h-2.4zM387.9 311.7h2.4v1.5h-2.4zM414.3 311.7h2.4v1.5h-2.4zM433.5 311.7h2.4v1.5h-2.4zM471.9 311.7h2.4v1.5h-2.4zM539.1 311.7h2.4v1.5h-2.4zM558.2 311.7h2.4v1.5h-2.4zM611.0 311.7h2.4v1.5h-2.4zM639.8 311.7h2.4v1.5h-2.4zM656.6 311.7h4.8v1.5h-4.8zM683.0 311.7h2.4v1.5h-2.4zM397.5 313.3h2.4v1.5h-2.4zM407.1 313.3h2.4v1.5h-2.4zM455.1 313.3h2.4v1.5h-2.4zM488.7 313.3h2.4v1.5h-2.4zM498.3 313.3h2.4v1.5h-2.4zM275.1 314.8h2.4v1.5h-2.4zM455.1 314.8h2.4v1.5h-2.4zM469.5 314.8h2.4v1.5h-2.4zM625.4 314.8h2.4v1.5h-2.4zM630.2 314.8h2.4v1.5h-2.4zM407.1 316.3h2.4v1.5h-2.4zM164.8 438.0h2.4v1.5h-2.4zM152.8 439.5h2.4v1.5h-2.4zM112.0 441.0h2.4v1.5h-2.4zM126.4 444.0h2.4v1.5h-2.4zM160.0 444.0h2.4v1.5h-2.4zM126.4 445.5h2.4v1.5h-2.4zM145.6 445.5h2.4v1.5h-2.4zM191.2 445.5h2.4v1.5h-2.4zM114.4 447.0h2.4v1.5h-2.4zM169.6 447.0h2.4v1.5h-2.4zM555.8 447.0h2.4v1.5h-2.4zM210.4 448.5h2.4v1.5h-2.4zM303.9 448.5h2.4v1.5h-2.4zM102.4 450.0h2.4v1.5h-2.4zM193.6 450.0h2.4v1.5h-2.4zM198.4 450.0h2.4v1.5h-2.4zM558.2 450.0h2.4v1.5h-2.4zM140.8 451.5h2.4v1.5h-2.4zM337.5 451.5h2.4v1.5h-2.4zM428.7 451.5h2.4v1.5h-2.4zM551.0 451.5h2.4v1.5h-2.4zM692.6 451.5h2.4v1.5h-2.4zM172.0 453.0h2.4v1.5h-2.4zM222.4 453.0h2.4v1.5h-2.4zM239.2 453.0h2.4v1.5h-2.4zM203.2 454.5h2.4v1.5h-2.4zM279.9 454.5h2.4v1.5h-2.4zM327.9 454.5h2.4v1.5h-2.4zM399.9 454.5h2.4v1.5h-2.4zM450.3 454.5h2.4v1.5h-2.4zM500.7 454.5h2.4v1.5h-2.4zM246.4 456.0h2.4v1.5h-2.4zM299.1 456.0h2.4v1.5h-2.4zM404.7 456.0h2.4v1.5h-2.4zM495.9 456.0h2.4v1.5h-2.4zM615.8 456.0h2.4v1.5h-2.4zM265.5 457.5h2.4v1.5h-2.4zM327.9 457.5h2.4v1.5h-2.4zM387.9 457.5h2.4v1.5h-2.4zM423.9 457.5h2.4v1.5h-2.4zM491.1 457.5h2.4v1.5h-2.4zM517.5 457.5h2.4v1.5h-2.4zM548.6 457.5h2.4v1.5h-2.4zM637.4 457.5h2.4v1.5h-2.4zM661.4 457.5h2.4v1.5h-2.4zM296.7 459.0h2.4v1.5h-2.4zM375.9 459.0h2.4v1.5h-2.4zM433.5 459.0h2.4v1.5h-2.4zM529.5 459.0h2.4v1.5h-2.4zM687.8 459.0h2.4v1.5h-2.4zM205.6 460.5h2.4v1.5h-2.4zM217.6 460.5h2.4v1.5h-2.4zM289.5 460.5h2.4v1.5h-2.4zM301.5 460.5h2.4v1.5h-2.4zM399.9 460.5h2.4v1.5h-2.4zM596.6 460.5h2.4v1.5h-2.4zM632.6 460.5h2.4v1.5h-2.4zM239.2 462.0h2.4v1.5h-2.4zM251.1 462.0h4.8v1.5h-4.8zM303.9 462.0h2.4v1.5h-2.4zM404.7 462.0h2.4v1.5h-2.4zM551.0 462.0h2.4v1.5h-2.4zM611.0 462.0h2.4v1.5h-2.4zM287.1 463.5h2.4v1.5h-2.4zM315.9 463.5h2.4v1.5h-2.4zM656.6 463.5h2.4v1.5h-2.4zM685.4 463.5h2.4v1.5h-2.4zM299.1 465.0h2.4v1.5h-2.4zM639.8 465.0h2.4v1.5h-2.4zM671.0 466.5h2.4v1.5h-2.4zM637.4 468.0h2.4v1.5h-2.4zM104.8 532.6h2.4v1.5h-2.4zM119.2 532.6h2.4v1.5h-2.4zM179.2 532.6h2.4v1.5h-2.4zM143.2 535.6h2.4v1.5h-2.4zM205.6 535.6h2.4v1.5h-2.4zM251.1 544.6h2.4v1.5h-2.4zM464.7 544.6h2.4v1.5h-2.4zM517.5 544.6h2.4v1.5h-2.4zM577.4 544.6h2.4v1.5h-2.4zM289.5 546.1h2.4v1.5h-2.4zM349.5 546.1h2.4v1.5h-2.4zM539.1 546.1h2.4v1.5h-2.4zM587.0 546.1h2.4v1.5h-2.4zM620.6 546.1h2.4v1.5h-2.4zM630.2 546.1h4.8v1.5h-4.8zM203.2 547.6h2.4v1.5h-2.4zM267.9 547.6h2.4v1.5h-2.4zM339.9 547.6h2.4v1.5h-2.4zM563.0 547.6h2.4v1.5h-2.4zM683.0 547.6h2.4v1.5h-2.4zM692.6 547.6h2.4v1.5h-2.4zM272.7 549.2h2.4v1.5h-2.4zM443.1 549.2h2.4v1.5h-2.4zM455.1 549.2h2.4v1.5h-2.4zM534.3 549.2h2.4v1.5h-2.4zM558.2 549.2h2.4v1.5h-2.4zM582.2 549.2h2.4v1.5h-2.4zM399.9 550.7h2.4v1.5h-2.4zM438.3 550.7h2.4v1.5h-2.4zM467.1 550.7h2.4v1.5h-2.4zM543.9 550.7h2.4v1.5h-2.4zM558.2 550.7h2.4v1.5h-2.4zM284.7 552.2h2.4v1.5h-2.4zM320.7 552.2h4.8v1.5h-4.8zM594.2 552.2h2.4v1.5h-2.4zM291.9 553.7h2.4v1.5h-2.4zM469.5 555.2h2.4v1.5h-2.4zM483.9 555.2h2.4v1.5h-2.4zM690.2 555.2h2.4v1.5h-2.4zM299.1 556.7h2.4v1.5h-2.4zM671.0 561.2h2.4v1.5h-2.4zM683.0 561.2h2.4v1.5h-2.4zM690.2 561.2h2.4v1.5h-2.4z"/><path fill="#00efff" d="M114.4 119.4h2.4v1.5h-2.4zM148.0 123.9h2.4v1.5h-2.4zM164.8 126.9h2.4v1.5h-2.4zM565.4 126.9h2.4v1.5h-2.4zM112.0 128.4h2.4v1.5h-2.4zM527.1 129.9h2.4v1.5h-2.4zM632.6 129.9h2.4v1.5h-2.4zM227.2 135.9h2.4v1.5h-2.4zM366.3 135.9h2.4v1.5h-2.4zM409.5 135.9h2.4v1.5h-2.4zM488.7 135.9h2.4v1.5h-2.4zM200.8 137.5h2.4v1.5h-2.4zM284.7 137.5h2.4v1.5h-2.4zM313.5 137.5h2.4v1.5h-2.4zM481.5 137.5h2.4v1.5h-2.4zM503.1 137.5h2.4v1.5h-2.4zM239.2 139.0h2.4v1.5h-2.4zM315.9 139.0h2.4v1.5h-2.4zM368.7 140.5h2.4v1.5h-2.4zM267.9 142.0h2.4v1.5h-2.4zM299.1 142.0h2.4v1.5h-2.4zM320.7 142.0h2.4v1.5h-2.4zM431.1 142.0h2.4v1.5h-2.4zM462.3 142.0h2.4v1.5h-2.4zM299.1 143.5h2.4v1.5h-2.4zM402.3 143.5h2.4v1.5h-2.4zM462.3 145.0h2.4v1.5h-2.4zM296.7 146.5h2.4v1.5h-2.4zM112.0 290.7h2.4v1.5h-2.4zM107.2 293.7h2.4v1.5h-2.4zM155.2 296.7h2.4v1.5h-2.4zM164.8 296.7h2.4v1.5h-2.4zM184.0 298.2h2.4v1.5h-2.4zM563.0 298.2h2.4v1.5h-2.4zM102.4 299.7h2.4v1.5h-2.4zM565.4 299.7h2.4v1.5h-2.4zM155.2 301.2h2.4v1.5h-2.4zM164.8 301.2h2.4v1.5h-2.4zM179.2 301.2h2.4v1.5h-2.4zM184.0 301.2h2.4v1.5h-2.4zM464.7 301.2h2.4v1.5h-2.4zM589.4 301.2h2.4v1.5h-2.4zM212.8 302.7h2.4v1.5h-2.4zM318.3 302.7h2.4v1.5h-2.4zM330.3 302.7h2.4v1.5h-2.4zM342.3 302.7h2.4v1.5h-2.4zM347.1 302.7h2.4v1.5h-2.4zM459.9 302.7h2.4v1.5h-2.4zM611.0 302.7h2.4v1.5h-2.4zM184.0 304.2h2.4v1.5h-2.4zM462.3 304.2h2.4v1.5h-2.4zM563.0 304.2h2.4v1.5h-2.4zM625.4 304.2h2.4v1.5h-2.4zM666.2 304.2h2.4v1.5h-2.4zM351.9 305.7h2.4v1.5h-2.4zM539.1 305.7h2.4v1.5h-2.4zM543.9 305.7h2.4v1.5h-2.4zM570.2 305.7h2.4v1.5h-2.4zM666.2 305.7h2.4v1.5h-2.4zM203.2 307.2h2.4v1.5h-2.4zM361.5 307.2h2.4v1.5h-2.4zM659.0 307.2h2.4v1.5h-2.4zM232.0 308.7h2.4v1.5h-2.4zM241.6 308.7h2.4v1.5h-2.4zM267.9 308.7h2.4v1.5h-2.4zM330.3 308.7h2.4v1.5h-2.4zM344.7 308.7h2.4v1.5h-2.4zM368.7 308.7h2.4v1.5h-2.4zM416.7 308.7h2.4v1.5h-2.4zM541.5 308.7h2.4v1.5h-2.4zM553.4 308.7h2.4v1.5h-2.4zM591.8 308.7h2.4v1.5h-2.4zM625.4 308.7h2.4v1.5h-2.4zM668.6 308.7h2.4v1.5h-2.4zM692.6 308.7h2.4v1.5h-2.4zM306.3 310.2h2.4v1.5h-2.4zM311.1 310.2h2.4v1.5h-2.4zM320.7 310.2h2.4v1.5h-2.4zM325.5 310.2h2.4v1.5h-2.4zM555.8 310.2h2.4v1.5h-2.4zM635.0 310.2h2.4v1.5h-2.4zM227.2 311.7h2.4v1.5h-2.4zM251.1 311.7h2.4v1.5h-2.4zM306.3 311.7h2.4v1.5h-2.4zM337.5 311.7h2.4v1.5h-2.4zM416.7 311.7h4.8v1.5h-4.8zM217.6 313.3h2.4v1.5h-2.4zM299.1 313.3h2.4v1.5h-2.4zM318.3 313.3h2.4v1.5h-2.4zM419.1 313.3h2.4v1.5h-2.4zM611.0 313.3h2.4v1.5h-2.4zM690.2 313.3h2.4v1.5h-2.4zM642.2 314.8h2.4v1.5h-2.4zM279.9 316.3h2.4v1.5h-2.4zM661.4 317.8h2.4v1.5h-2.4zM692.6 320.8h2.4v1.5h-2.4zM150.4 430.4h2.4v1.5h-2.4zM131.2 435.0h2.4v1.5h-2.4zM121.6 436.5h2.4v1.5h-2.4zM160.0 438.0h2.4v1.5h-2.4zM136.0 439.5h2.4v1.5h-2.4zM155.2 439.5h2.4v1.5h-2.4zM114.4 441.0h2.4v1.5h-2.4zM342.3 441.0h2.4v1.5h-2.4zM157.6 442.5h2.4v1.5h-2.4zM162.4 442.5h2.4v1.5h-2.4zM157.6 444.0h2.4v1.5h-2.4zM100.0 445.5h2.4v1.5h-2.4zM140.8 445.5h2.4v1.5h-2.4zM193.6 447.0h2.4v1.5h-2.4zM126.4 448.5h2.4v1.5h-2.4zM203.2 448.5h2.4v1.5h-2.4zM155.2 450.0h2.4v1.5h-2.4zM200.8 450.0h2.4v1.5h-2.4zM332.7 450.0h2.4v1.5h-2.4zM337.5 450.0h2.4v1.5h-2.4zM390.3 450.0h2.4v1.5h-2.4zM443.1 450.0h2.4v1.5h-2.4zM572.6 450.0h2.4v1.5h-2.4zM116.8 451.5h2.4v1.5h-2.4zM172.0 451.5h2.4v1.5h-2.4zM277.5 451.5h2.4v1.5h-2.4zM359.1 451.5h2.4v1.5h-2.4zM402.3 451.5h2.4v1.5h-2.4zM635.0 451.5h2.4v1.5h-2.4zM296.7 453.0h2.4v1.5h-2.4zM327.9 453.0h2.4v1.5h-2.4zM443.1 453.0h2.4v1.5h-2.4zM447.9 453.0h2.4v1.5h-2.4zM543.9 453.0h2.4v1.5h-2.4zM227.2 454.5h2.4v1.5h-2.4zM299.1 454.5h2.4v1.5h-2.4zM383.1 454.5h2.4v1.5h-2.4zM409.5 454.5h2.4v1.5h-2.4zM431.1 454.5h2.4v1.5h-2.4zM438.3 454.5h2.4v1.5h-2.4zM462.3 454.5h2.4v1.5h-2.4zM565.4 454.5h2.4v1.5h-2.4zM572.6 454.5h2.4v1.5h-2.4zM587.0 454.5h2.4v1.5h-2.4zM632.6 454.5h2.4v1.5h-2.4zM227.2 456.0h2.4v1.5h-2.4zM232.0 456.0h2.4v1.5h-2.4zM462.3 456.0h2.4v1.5h-2.4zM479.1 456.0h2.4v1.5h-2.4zM486.3 456.0h2.4v1.5h-2.4zM188.8 457.5h2.4v1.5h-2.4zM275.1 457.5h2.4v1.5h-2.4zM299.1 457.5h2.4v1.5h-2.4zM414.3 457.5h2.4v1.5h-2.4zM503.1 457.5h2.4v1.5h-2.4zM527.1 457.5h2.4v1.5h-2.4zM639.8 457.5h2.4v1.5h-2.4zM236.8 459.0h2.4v1.5h-2.4zM299.1 459.0h2.4v1.5h-2.4zM318.3 459.0h2.4v1.5h-2.4zM327.9 459.0h4.8v1.5h-4.8zM383.1 459.0h4.8v1.5h-4.8zM416.7 459.0h2.4v1.5h-2.4zM471.9 459.0h2.4v1.5h-2.4zM258.3 460.5h2.4v1.5h-2.4zM311.1 460.5h2.4v1.5h-2.4zM339.9 460.5h2.4v1.5h-2.4zM387.9 460.5h2.4v1.5h-2.4zM474.3 460.5h2.4v1.5h-2.4zM493.5 460.5h2.4v1.5h-2.4zM649.4 460.5h2.4v1.5h-2.4zM320.7 462.0h2.4v1.5h-2.4zM447.9 462.0h2.4v1.5h-2.4zM620.6 462.0h2.4v1.5h-2.4zM625.4 463.5h4.8v1.5h-4.8zM277.5 469.5h2.4v1.5h-2.4zM651.8 472.5h2.4v1.5h-2.4zM128.8 532.6h2.4v1.5h-2.4zM140.8 535.6h2.4v1.5h-2.4zM138.4 537.1h2.4v1.5h-2.4zM188.8 537.1h2.4v1.5h-2.4zM116.8 538.6h2.4v1.5h-2.4zM116.8 540.1h2.4v1.5h-2.4zM116.8 541.6h2.4v1.5h-2.4zM210.4 541.6h2.4v1.5h-2.4zM157.6 543.1h2.4v1.5h-2.4zM200.8 543.1h2.4v1.5h-2.4zM222.4 543.1h2.4v1.5h-2.4zM339.9 543.1h2.4v1.5h-2.4zM351.9 543.1h2.4v1.5h-2.4zM188.8 544.6h2.4v1.5h-2.4zM220.0 544.6h2.4v1.5h-2.4zM380.7 544.6h2.4v1.5h-2.4zM447.9 544.6h2.4v1.5h-2.4zM457.5 544.6h2.4v1.5h-2.4zM524.7 544.6h2.4v1.5h-2.4zM589.4 544.6h2.4v1.5h-2.4zM500.7 546.1h2.4v1.5h-2.4zM515.1 546.1h2.4v1.5h-2.4zM575.0 546.1h2.4v1.5h-2.4zM599.0 546.1h2.4v1.5h-2.4zM272.7 547.6h2.4v1.5h-2.4zM354.3 547.6h2.4v1.5h-2.4zM203.2 549.2h2.4v1.5h-2.4zM275.1 549.2h2.4v1.5h-2.4zM303.9 549.2h2.4v1.5h-2.4zM323.1 549.2h2.4v1.5h-2.4zM375.9 549.2h2.4v1.5h-2.4zM608.6 549.2h2.4v1.5h-2.4zM620.6 549.2h2.4v1.5h-2.4zM671.0 549.2h2.4v1.5h-2.4zM692.6 549.2h2.4v1.5h-2.4zM229.6 550.7h2.4v1.5h-2.4zM265.5 550.7h2.4v1.5h-2.4zM457.5 550.7h2.4v1.5h-2.4zM510.3 550.7h4.8v1.5h-4.8zM539.1 550.7h2.4v1.5h-2.4zM555.8 550.7h2.4v1.5h-2.4zM613.4 550.7h2.4v1.5h-2.4zM675.8 550.7h2.4v1.5h-2.4zM255.9 552.2h2.4v1.5h-2.4zM332.7 552.2h2.4v1.5h-2.4zM339.9 552.2h2.4v1.5h-2.4zM414.3 552.2h2.4v1.5h-2.4zM577.4 552.2h2.4v1.5h-2.4zM589.4 552.2h2.4v1.5h-2.4zM299.1 553.7h2.4v1.5h-2.4zM313.5 553.7h2.4v1.5h-2.4zM335.1 553.7h2.4v1.5h-2.4zM397.5 553.7h2.4v1.5h-2.4zM450.3 553.7h2.4v1.5h-2.4zM503.1 553.7h2.4v1.5h-2.4zM591.8 553.7h2.4v1.5h-2.4zM368.7 555.2h2.4v1.5h-2.4zM397.5 555.2h2.4v1.5h-2.4zM419.1 555.2h2.4v1.5h-2.4zM455.1 555.2h2.4v1.5h-2.4zM683.0 555.2h2.4v1.5h-2.4zM301.5 556.7h2.4v1.5h-2.4zM546.2 556.7h2.4v1.5h-2.4zM404.7 558.2h2.4v1.5h-2.4zM666.2 558.2h2.4v1.5h-2.4z"/><path fill="#00ffff" d="M100.0 120.9h2.4v1.5h-2.4zM128.8 120.9h2.4v1.5h-2.4zM100.0 126.9h2.4v1.5h-2.4zM167.2 126.9h2.4v1.5h-2.4zM642.2 126.9h2.4v1.5h-2.4zM186.4 128.4h2.4v1.5h-2.4zM524.7 128.4h2.4v1.5h-2.4zM503.1 129.9h2.4v1.5h-2.4zM548.6 129.9h2.4v1.5h-2.4zM548.6 131.4h2.4v1.5h-2.4zM644.6 131.4h2.4v1.5h-2.4zM308.7 135.9h2.4v1.5h-2.4zM433.5 135.9h2.4v1.5h-2.4zM500.7 135.9h2.4v1.5h-2.4zM683.0 135.9h2.4v1.5h-2.4zM409.5 137.5h2.4v1.5h-2.4zM447.9 137.5h2.4v1.5h-2.4zM253.5 139.0h2.4v1.5h-2.4zM356.7 139.0h2.4v1.5h-2.4zM421.5 139.0h2.4v1.5h-2.4zM464.7 139.0h2.4v1.5h-2.4zM479.1 139.0h2.4v1.5h-2.4zM210.4 140.5h2.4v1.5h-2.4zM407.1 140.5h2.4v1.5h-2.4zM284.7 142.0h2.4v1.5h-2.4zM291.9 142.0h2.4v1.5h-2.4zM356.7 142.0h2.4v1.5h-2.4zM423.9 143.5h2.4v1.5h-2.4zM668.6 143.5h2.4v1.5h-2.4zM673.4 143.5h2.4v1.5h-2.4zM685.4 143.5h2.4v1.5h-2.4zM416.7 145.0h2.4v1.5h-2.4zM683.0 145.0h2.4v1.5h-2.4zM366.3 146.5h2.4v1.5h-2.4zM162.4 287.7h2.4v1.5h-2.4zM126.4 292.2h2.4v1.5h-2.4zM124.0 293.7h2.4v1.5h-2.4zM136.0 295.2h2.4v1.5h-2.4zM174.4 295.2h2.4v1.5h-2.4zM131.2 296.7h2.4v1.5h-2.4zM150.4 296.7h2.4v1.5h-2.4zM579.8 296.7h2.4v1.5h-2.4zM145.6 298.2h2.4v1.5h-2.4zM150.4 298.2h2.4v1.5h-2.4zM160.0 298.2h2.4v1.5h-2.4zM481.5 299.7h2.4v1.5h-2.4zM196.0 301.2h2.4v1.5h-2.4zM531.9 301.2h2.4v1.5h-2.4zM563.0 301.2h2.4v1.5h-2.4zM575.0 301.2h2.4v1.5h-2.4zM625.4 301.2h2.4v1.5h-2.4zM349.5 302.7h2.4v1.5h-2.4zM414.3 302.7h2.4v1.5h-2.4zM467.1 302.7h2.4v1.5h-2.4zM474.3 302.7h2.4v1.5h-2.4zM543.9 302.7h2.4v1.5h-2.4zM551.0 302.7h2.4v1.5h-2.4zM563.0 302.7h2.4v1.5h-2.4zM215.2 304.2h2.4v1.5h-2.4zM255.9 304.2h2.4v1.5h-2.4zM539.1 304.2h2.4v1.5h-2.4zM572.6 304.2h2.4v1.5h-2.4zM620.6 304.2h2.4v1.5h-2.4zM263.1 305.7h2.4v1.5h-2.4zM296.7 305.7h2.4v1.5h-2.4zM380.7 305.7h2.4v1.5h-2.4zM483.9 305.7h2.4v1.5h-2.4zM519.9 305.7h2.4v1.5h-2.4zM639.8 305.7h2.4v1.5h-2.4zM222.4 307.2h2.4v1.5h-2.4zM356.7 307.2h2.4v1.5h-2.4zM385.5 307.2h2.4v1.5h-2.4zM409.5 307.2h2.4v1.5h-2.4zM457.5 307.2h2.4v1.5h-2.4zM498.3 307.2h2.4v1.5h-2.4zM531.9 307.2h2.4v1.5h-2.4zM680.6 307.2h2.4v1.5h-2.4zM198.4 308.7h2.4v1.5h-2.4zM275.1 308.7h2.4v1.5h-2.4zM517.5 308.7h2.4v1.5h-2.4zM606.2 308.7h2.4v1.5h-2.4zM246.4 310.2h2.4v1.5h-2.4zM275.1 310.2h2.4v1.5h-2.4zM356.7 310.2h2.4v1.5h-2.4zM395.1 310.2h2.4v1.5h-2.4zM644.6 310.2h2.4v1.5h-2.4zM656.6 310.2h2.4v1.5h-2.4zM282.3 311.7h2.4v1.5h-2.4zM330.3 311.7h2.4v1.5h-2.4zM354.3 311.7h2.4v1.5h-2.4zM426.3 311.7h2.4v1.5h-2.4zM443.1 311.7h2.4v1.5h-2.4zM447.9 311.7h2.4v1.5h-2.4zM462.3 311.7h2.4v1.5h-2.4zM671.0 311.7h2.4v1.5h-2.4zM210.4 313.3h2.4v1.5h-2.4zM232.0 313.3h4.8v1.5h-4.8zM277.5 313.3h2.4v1.5h-2.4zM459.9 313.3h2.4v1.5h-2.4zM620.6 313.3h2.4v1.5h-2.4zM647.0 316.3h2.4v1.5h-2.4zM663.8 316.3h2.4v1.5h-2.4zM104.8 432.0h2.4v1.5h-2.4zM116.8 441.0h2.4v1.5h-2.4zM121.6 441.0h2.4v1.5h-2.4zM150.4 441.0h2.4v1.5h-2.4zM176.8 441.0h2.4v1.5h-2.4zM114.4 444.0h2.4v1.5h-2.4zM172.0 444.0h2.4v1.5h-2.4zM155.2 445.5h2.4v1.5h-2.4zM169.6 445.5h2.4v1.5h-2.4zM136.0 447.0h2.4v1.5h-2.4zM152.8 447.0h2.4v1.5h-2.4zM253.5 448.5h2.4v1.5h-2.4zM359.1 448.5h2.4v1.5h-2.4zM368.7 448.5h2.4v1.5h-2.4zM227.2 450.0h2.4v1.5h-2.4zM471.9 450.0h2.4v1.5h-2.4zM344.7 451.5h2.4v1.5h-2.4zM356.7 451.5h2.4v1.5h-2.4zM416.7 451.5h2.4v1.5h-2.4zM560.6 451.5h2.4v1.5h-2.4zM642.2 451.5h2.4v1.5h-2.4zM234.4 453.0h2.4v1.5h-2.4zM512.7 453.0h2.4v1.5h-2.4zM587.0 453.0h2.4v1.5h-2.4zM188.8 454.5h2.4v1.5h-2.4zM241.6 454.5h2.4v1.5h-2.4zM313.5 454.5h2.4v1.5h-2.4zM337.5 454.5h2.4v1.5h-2.4zM445.5 454.5h4.8v1.5h-4.8zM457.5 454.5h2.4v1.5h-2.4zM488.7 454.5h2.4v1.5h-2.4zM515.1 454.5h2.4v1.5h-2.4zM637.4 454.5h2.4v1.5h-2.4zM244.0 456.0h2.4v1.5h-2.4zM248.8 456.0h2.4v1.5h-2.4zM327.9 456.0h2.4v1.5h-2.4zM414.3 456.0h2.4v1.5h-2.4zM433.5 456.0h2.4v1.5h-2.4zM452.7 456.0h2.4v1.5h-2.4zM515.1 456.0h2.4v1.5h-2.4zM371.1 457.5h2.4v1.5h-2.4zM531.9 457.5h2.4v1.5h-2.4zM570.2 457.5h2.4v1.5h-2.4zM603.8 457.5h2.4v1.5h-2.4zM289.5 459.0h4.8v1.5h-4.8zM313.5 459.0h2.4v1.5h-2.4zM344.7 459.0h2.4v1.5h-2.4zM414.3 459.0h2.4v1.5h-2.4zM419.1 459.0h2.4v1.5h-2.4zM517.5 459.0h2.4v1.5h-2.4zM224.8 460.5h2.4v1.5h-2.4zM395.1 460.5h2.4v1.5h-2.4zM421.5 460.5h2.4v1.5h-2.4zM455.1 460.5h2.4v1.5h-2.4zM608.6 460.5h2.4v1.5h-2.4zM639.8 460.5h2.4v1.5h-2.4zM272.7 462.0h2.4v1.5h-2.4zM359.1 462.0h2.4v1.5h-2.4zM339.9 463.5h2.4v1.5h-2.4zM414.3 465.0h2.4v1.5h-2.4zM277.5 468.0h2.4v1.5h-2.4zM692.6 468.0h2.4v1.5h-2.4zM133.6 529.6h2.4v1.5h-2.4zM148.0 534.1h2.4v1.5h-2.4zM191.2 534.1h2.4v1.5h-2.4zM172.0 535.6h2.4v1.5h-2.4zM186.4 540.1h2.4v1.5h-2.4zM136.0 543.1h2.4v1.5h-2.4zM169.6 543.1h2.4v1.5h-2.4zM553.4 544.6h2.4v1.5h-2.4zM359.1 546.1h2.4v1.5h-2.4zM363.9 546.1h2.4v1.5h-2.4zM567.8 546.1h2.4v1.5h-2.4zM611.0 546.1h2.4v1.5h-2.4zM347.1 547.6h2.4v1.5h-2.4zM373.5 547.6h2.4v1.5h-2.4zM380.7 547.6h2.4v1.5h-2.4zM455.1 547.6h2.4v1.5h-2.4zM236.8 549.2h2.4v1.5h-2.4zM248.8 549.2h2.4v1.5h-2.4zM476.7 549.2h2.4v1.5h-2.4zM539.1 549.2h2.4v1.5h-2.4zM659.0 549.2h2.4v1.5h-2.4zM227.2 550.7h2.4v1.5h-2.4zM471.9 550.7h2.4v1.5h-2.4zM515.1 550.7h2.4v1.5h-2.4zM536.7 550.7h2.4v1.5h-2.4zM551.0 550.7h2.4v1.5h-2.4zM606.2 550.7h2.4v1.5h-2.4zM623.0 550.7h2.4v1.5h-2.4zM342.3 552.2h2.4v1.5h-2.4zM644.6 552.2h2.4v1.5h-2.4zM296.7 553.7h2.4v1.5h-2.4zM303.9 553.7h2.4v1.5h-2.4zM327.9 553.7h2.4v1.5h-2.4zM428.7 553.7h2.4v1.5h-2.4zM663.8 553.7h2.4v1.5h-2.4zM229.6 555.2h2.4v1.5h-2.4zM234.4 555.2h2.4v1.5h-2.4zM608.6 555.2h2.4v1.5h-2.4zM651.8 555.2h2.4v1.5h-2.4zM671.0 556.7h2.4v1.5h-2.4zM275.1 558.2h2.4v1.5h-2.4zM685.4 561.2h2.4v1.5h-2.4zM659.0 562.7h2.4v1.5h-2.4z"/><path fill="#10ffef" d="M162.4 120.9h2.4v1.5h-2.4zM136.0 126.9h2.4v1.5h-2.4zM172.0 126.9h2.4v1.5h-2.4zM150.4 128.4h2.4v1.5h-2.4zM524.7 131.4h2.4v1.5h-2.4zM608.6 131.4h2.4v1.5h-2.4zM642.2 131.4h2.4v1.5h-2.4zM212.8 135.9h2.4v1.5h-2.4zM455.1 135.9h2.4v1.5h-2.4zM265.5 137.5h2.4v1.5h-2.4zM299.1 137.5h2.4v1.5h-2.4zM397.5 137.5h2.4v1.5h-2.4zM452.7 137.5h2.4v1.5h-2.4zM673.4 137.5h2.4v1.5h-2.4zM683.0 137.5h2.4v1.5h-2.4zM258.3 139.0h2.4v1.5h-2.4zM354.3 139.0h2.4v1.5h-2.4zM447.9 139.0h2.4v1.5h-2.4zM663.8 139.0h2.4v1.5h-2.4zM373.5 140.5h2.4v1.5h-2.4zM483.9 140.5h2.4v1.5h-2.4zM335.1 143.5h2.4v1.5h-2.4zM373.5 143.5h2.4v1.5h-2.4zM671.0 143.5h2.4v1.5h-2.4zM299.1 145.0h2.4v1.5h-2.4zM685.4 145.0h2.4v1.5h-2.4zM100.0 289.2h2.4v1.5h-2.4zM131.2 289.2h2.4v1.5h-2.4zM138.4 290.7h2.4v1.5h-2.4zM157.6 293.7h2.4v1.5h-2.4zM603.8 295.2h2.4v1.5h-2.4zM162.4 299.7h2.4v1.5h-2.4zM378.3 299.7h2.4v1.5h-2.4zM107.2 301.2h2.4v1.5h-2.4zM234.4 301.2h2.4v1.5h-2.4zM296.7 301.2h2.4v1.5h-2.4zM455.1 301.2h2.4v1.5h-2.4zM570.2 301.2h2.4v1.5h-2.4zM198.4 302.7h2.4v1.5h-2.4zM313.5 302.7h2.4v1.5h-2.4zM363.9 302.7h2.4v1.5h-2.4zM390.3 302.7h2.4v1.5h-2.4zM517.5 302.7h2.4v1.5h-2.4zM541.5 302.7h2.4v1.5h-2.4zM188.8 304.2h2.4v1.5h-2.4zM200.8 304.2h2.4v1.5h-2.4zM244.0 304.2h2.4v1.5h-2.4zM323.1 304.2h2.4v1.5h-2.4zM546.2 304.2h2.4v1.5h-2.4zM565.4 304.2h2.4v1.5h-2.4zM582.2 304.2h2.4v1.5h-2.4zM611.0 304.2h2.4v1.5h-2.4zM651.8 304.2h2.4v1.5h-2.4zM284.7 305.7h2.4v1.5h-2.4zM527.1 305.7h2.4v1.5h-2.4zM584.6 305.7h2.4v1.5h-2.4zM627.8 305.7h2.4v1.5h-2.4zM644.6 305.7h2.4v1.5h-2.4zM690.2 305.7h2.4v1.5h-2.4zM200.8 307.2h2.4v1.5h-2.4zM232.0 307.2h2.4v1.5h-2.4zM248.8 307.2h2.4v1.5h-2.4zM275.1 307.2h2.4v1.5h-2.4zM291.9 307.2h2.4v1.5h-2.4zM315.9 307.2h2.4v1.5h-2.4zM327.9 307.2h2.4v1.5h-2.4zM351.9 307.2h2.4v1.5h-2.4zM359.1 307.2h2.4v1.5h-2.4zM366.3 307.2h2.4v1.5h-2.4zM455.1 307.2h2.4v1.5h-2.4zM515.1 307.2h2.4v1.5h-2.4zM536.7 307.2h2.4v1.5h-2.4zM558.2 307.2h2.4v1.5h-2.4zM584.6 307.2h4.8v1.5h-4.8zM671.0 307.2h2.4v1.5h-2.4zM253.5 308.7h2.4v1.5h-2.4zM289.5 308.7h2.4v1.5h-2.4zM366.3 308.7h2.4v1.5h-2.4zM555.8 308.7h2.4v1.5h-2.4zM224.8 310.2h2.4v1.5h-2.4zM313.5 310.2h2.4v1.5h-2.4zM373.5 310.2h2.4v1.5h-2.4zM404.7 310.2h2.4v1.5h-2.4zM591.8 310.2h2.4v1.5h-2.4zM625.4 310.2h2.4v1.5h-2.4zM431.1 311.7h2.4v1.5h-2.4zM438.3 311.7h2.4v1.5h-2.4zM311.1 314.8h2.4v1.5h-2.4zM661.4 314.8h2.4v1.5h-2.4zM443.1 316.3h2.4v1.5h-2.4zM459.9 317.8h2.4v1.5h-2.4zM627.8 317.8h2.4v1.5h-2.4zM140.8 438.0h2.4v1.5h-2.4zM136.0 441.0h2.4v1.5h-2.4zM145.6 447.0h2.4v1.5h-2.4zM167.2 447.0h2.4v1.5h-2.4zM107.2 448.5h2.4v1.5h-2.4zM318.3 448.5h2.4v1.5h-2.4zM361.5 448.5h2.4v1.5h-2.4zM107.2 450.0h2.4v1.5h-2.4zM373.5 450.0h2.4v1.5h-2.4zM503.1 450.0h2.4v1.5h-2.4zM114.4 451.5h2.4v1.5h-2.4zM191.2 451.5h2.4v1.5h-2.4zM368.7 451.5h2.4v1.5h-2.4zM373.5 451.5h2.4v1.5h-2.4zM644.6 451.5h2.4v1.5h-2.4zM188.8 453.0h2.4v1.5h-2.4zM303.9 453.0h2.4v1.5h-2.4zM313.5 453.0h2.4v1.5h-2.4zM318.3 453.0h2.4v1.5h-2.4zM351.9 453.0h2.4v1.5h-2.4zM361.5 453.0h2.4v1.5h-2.4zM402.3 453.0h2.4v1.5h-2.4zM476.7 453.0h2.4v1.5h-2.4zM611.0 453.0h2.4v1.5h-2.4zM303.9 454.5h2.4v1.5h-2.4zM361.5 454.5h2.4v1.5h-2.4zM368.7 454.5h2.4v1.5h-2.4zM402.3 454.5h2.4v1.5h-2.4zM423.9 454.5h2.4v1.5h-2.4zM498.3 454.5h2.4v1.5h-2.4zM606.2 454.5h2.4v1.5h-2.4zM635.0 454.5h2.4v1.5h-2.4zM692.6 454.5h2.4v1.5h-2.4zM239.2 456.0h2.4v1.5h-2.4zM277.5 456.0h2.4v1.5h-2.4zM284.7 456.0h2.4v1.5h-2.4zM500.7 456.0h2.4v1.5h-2.4zM510.3 456.0h2.4v1.5h-2.4zM534.3 456.0h2.4v1.5h-2.4zM315.9 457.5h2.4v1.5h-2.4zM347.1 457.5h2.4v1.5h-2.4zM356.7 457.5h2.4v1.5h-2.4zM361.5 457.5h2.4v1.5h-2.4zM582.2 457.5h2.4v1.5h-2.4zM198.4 459.0h2.4v1.5h-2.4zM275.1 459.0h2.4v1.5h-2.4zM402.3 459.0h2.4v1.5h-2.4zM486.3 459.0h2.4v1.5h-2.4zM630.2 459.0h2.4v1.5h-2.4zM208.0 460.5h2.4v1.5h-2.4zM220.0 460.5h2.4v1.5h-2.4zM251.1 460.5h2.4v1.5h-2.4zM296.7 460.5h2.4v1.5h-2.4zM397.5 460.5h2.4v1.5h-2.4zM426.3 460.5h2.4v1.5h-2.4zM433.5 460.5h2.4v1.5h-2.4zM236.8 462.0h2.4v1.5h-2.4zM397.5 462.0h2.4v1.5h-2.4zM426.3 462.0h2.4v1.5h-2.4zM433.5 462.0h2.4v1.5h-2.4zM618.2 462.0h2.4v1.5h-2.4zM630.2 462.0h2.4v1.5h-2.4zM683.0 462.0h2.4v1.5h-2.4zM272.7 463.5h2.4v1.5h-2.4zM464.7 463.5h2.4v1.5h-2.4zM486.3 463.5h2.4v1.5h-2.4zM613.4 463.5h2.4v1.5h-2.4zM486.3 465.0h2.4v1.5h-2.4zM630.2 466.5h2.4v1.5h-2.4zM678.2 466.5h2.4v1.5h-2.4zM692.6 466.5h2.4v1.5h-2.4zM690.2 469.5h2.4v1.5h-2.4zM140.8 532.6h2.4v1.5h-2.4zM174.4 535.6h2.4v1.5h-2.4zM133.6 537.1h2.4v1.5h-2.4zM121.6 543.1h2.4v1.5h-2.4zM148.0 543.1h4.8v1.5h-4.8zM198.4 544.6h2.4v1.5h-2.4zM479.1 544.6h2.4v1.5h-2.4zM603.8 544.6h2.4v1.5h-2.4zM282.3 546.1h2.4v1.5h-2.4zM332.7 546.1h2.4v1.5h-2.4zM366.3 546.1h2.4v1.5h-2.4zM380.7 546.1h2.4v1.5h-2.4zM279.9 547.6h2.4v1.5h-2.4zM327.9 547.6h2.4v1.5h-2.4zM335.1 547.6h2.4v1.5h-2.4zM363.9 547.6h2.4v1.5h-2.4zM539.1 547.6h2.4v1.5h-2.4zM543.9 547.6h2.4v1.5h-2.4zM596.6 547.6h2.4v1.5h-2.4zM625.4 547.6h2.4v1.5h-2.4zM210.4 549.2h2.4v1.5h-2.4zM438.3 549.2h2.4v1.5h-2.4zM515.1 549.2h2.4v1.5h-2.4zM548.6 549.2h2.4v1.5h-2.4zM323.1 550.7h2.4v1.5h-2.4zM407.1 550.7h2.4v1.5h-2.4zM419.1 550.7h2.4v1.5h-2.4zM433.5 550.7h2.4v1.5h-2.4zM440.7 550.7h2.4v1.5h-2.4zM503.1 550.7h2.4v1.5h-2.4zM553.4 550.7h2.4v1.5h-2.4zM654.2 550.7h2.4v1.5h-2.4zM678.2 550.7h2.4v1.5h-2.4zM263.1 552.2h2.4v1.5h-2.4zM407.1 552.2h2.4v1.5h-2.4zM419.1 552.2h2.4v1.5h-2.4zM471.9 552.2h2.4v1.5h-2.4zM491.1 552.2h2.4v1.5h-2.4zM558.2 552.2h2.4v1.5h-2.4zM570.2 552.2h2.4v1.5h-2.4zM692.6 552.2h2.4v1.5h-2.4zM395.1 553.7h2.4v1.5h-2.4zM411.9 553.7h2.4v1.5h-2.4zM524.7 553.7h2.4v1.5h-2.4zM320.7 556.7h2.4v1.5h-2.4zM687.8 556.7h2.4v1.5h-2.4zM299.1 558.2h2.4v1.5h-2.4zM680.6 558.2h2.4v1.5h-2.4zM687.8 558.2h4.8v1.5h-4.8zM680.6 559.7h2.4v1.5h-2.4z"/><path fill="#20ffdf" d="M100.0 113.4h2.4v1.5h-2.4zM186.4 126.9h2.4v1.5h-2.4zM133.6 128.4h2.4v1.5h-2.4zM143.2 128.4h2.4v1.5h-2.4zM575.0 129.9h2.4v1.5h-2.4zM642.2 129.9h2.4v1.5h-2.4zM606.2 131.4h2.4v1.5h-2.4zM246.4 135.9h2.4v1.5h-2.4zM313.5 135.9h2.4v1.5h-2.4zM327.9 135.9h2.4v1.5h-2.4zM347.1 135.9h2.4v1.5h-2.4zM356.7 135.9h2.4v1.5h-2.4zM411.9 135.9h2.4v1.5h-2.4zM675.8 135.9h2.4v1.5h-2.4zM210.4 137.5h2.4v1.5h-2.4zM267.9 137.5h2.4v1.5h-2.4zM366.3 137.5h2.4v1.5h-2.4zM344.7 139.0h2.4v1.5h-2.4zM363.9 139.0h2.4v1.5h-2.4zM474.3 139.0h2.4v1.5h-2.4zM673.4 139.0h2.4v1.5h-2.4zM683.0 139.0h2.4v1.5h-2.4zM277.5 140.5h2.4v1.5h-2.4zM315.9 140.5h2.4v1.5h-2.4zM265.5 142.0h2.4v1.5h-2.4zM313.5 296.7h2.4v1.5h-2.4zM100.0 298.2h2.4v1.5h-2.4zM174.4 298.2h2.4v1.5h-2.4zM510.3 299.7h2.4v1.5h-2.4zM553.4 299.7h2.4v1.5h-2.4zM591.8 301.2h2.4v1.5h-2.4zM332.7 302.7h2.4v1.5h-2.4zM359.1 302.7h2.4v1.5h-2.4zM531.9 302.7h2.4v1.5h-2.4zM558.2 302.7h4.8v1.5h-4.8zM608.6 302.7h2.4v1.5h-2.4zM284.7 304.2h2.4v1.5h-2.4zM306.3 304.2h2.4v1.5h-2.4zM445.5 304.2h2.4v1.5h-2.4zM498.3 304.2h2.4v1.5h-2.4zM519.9 304.2h2.4v1.5h-2.4zM606.2 304.2h2.4v1.5h-2.4zM255.9 305.7h2.4v1.5h-2.4zM270.3 305.7h2.4v1.5h-2.4zM299.1 305.7h2.4v1.5h-2.4zM395.1 305.7h2.4v1.5h-2.4zM635.0 305.7h2.4v1.5h-2.4zM191.2 307.2h2.4v1.5h-2.4zM217.6 307.2h2.4v1.5h-2.4zM244.0 307.2h2.4v1.5h-2.4zM296.7 307.2h2.4v1.5h-2.4zM308.7 307.2h2.4v1.5h-2.4zM378.3 307.2h2.4v1.5h-2.4zM555.8 307.2h2.4v1.5h-2.4zM594.2 307.2h2.4v1.5h-2.4zM599.0 307.2h2.4v1.5h-2.4zM251.1 308.7h2.4v1.5h-2.4zM258.3 308.7h4.8v1.5h-4.8zM335.1 308.7h2.4v1.5h-2.4zM651.8 308.7h2.4v1.5h-2.4zM265.5 310.2h2.4v1.5h-2.4zM296.7 310.2h2.4v1.5h-2.4zM383.1 310.2h2.4v1.5h-2.4zM423.9 310.2h2.4v1.5h-2.4zM455.1 310.2h2.4v1.5h-2.4zM459.9 310.2h2.4v1.5h-2.4zM491.1 310.2h2.4v1.5h-2.4zM531.9 310.2h2.4v1.5h-2.4zM551.0 310.2h2.4v1.5h-2.4zM265.5 311.7h2.4v1.5h-2.4zM260.7 313.3h2.4v1.5h-2.4zM687.8 313.3h2.4v1.5h-2.4zM678.2 314.8h2.4v1.5h-2.4zM685.4 314.8h2.4v1.5h-2.4zM690.2 316.3h2.4v1.5h-2.4zM260.7 317.8h2.4v1.5h-2.4zM150.4 433.5h2.4v1.5h-2.4zM124.0 436.5h2.4v1.5h-2.4zM136.0 436.5h2.4v1.5h-2.4zM102.4 438.0h2.4v1.5h-2.4zM145.6 438.0h2.4v1.5h-2.4zM152.8 438.0h2.4v1.5h-2.4zM109.6 441.0h2.4v1.5h-2.4zM128.8 441.0h4.8v1.5h-4.8zM109.6 442.5h2.4v1.5h-2.4zM114.4 442.5h2.4v1.5h-2.4zM128.8 442.5h2.4v1.5h-2.4zM140.8 442.5h2.4v1.5h-2.4zM145.6 442.5h2.4v1.5h-2.4zM109.6 444.0h2.4v1.5h-2.4zM145.6 444.0h2.4v1.5h-2.4zM174.4 444.0h2.4v1.5h-2.4zM102.4 445.5h2.4v1.5h-2.4zM179.2 447.0h2.4v1.5h-2.4zM215.2 447.0h2.4v1.5h-2.4zM558.2 447.0h2.4v1.5h-2.4zM567.8 447.0h2.4v1.5h-2.4zM100.0 448.5h2.4v1.5h-2.4zM109.6 448.5h2.4v1.5h-2.4zM121.6 448.5h2.4v1.5h-2.4zM157.6 448.5h2.4v1.5h-2.4zM162.4 448.5h2.4v1.5h-2.4zM527.1 448.5h2.4v1.5h-2.4zM121.6 450.0h2.4v1.5h-2.4zM176.8 450.0h2.4v1.5h-2.4zM378.3 450.0h2.4v1.5h-2.4zM560.6 450.0h2.4v1.5h-2.4zM589.4 450.0h2.4v1.5h-2.4zM224.8 451.5h2.4v1.5h-2.4zM335.1 451.5h2.4v1.5h-2.4zM387.9 451.5h2.4v1.5h-2.4zM524.7 451.5h2.4v1.5h-2.4zM251.1 453.0h2.4v1.5h-2.4zM311.1 453.0h2.4v1.5h-2.4zM332.7 453.0h2.4v1.5h-2.4zM342.3 453.0h2.4v1.5h-2.4zM397.5 453.0h2.4v1.5h-2.4zM464.7 453.0h2.4v1.5h-2.4zM663.8 453.0h2.4v1.5h-2.4zM179.2 454.5h2.4v1.5h-2.4zM308.7 454.5h2.4v1.5h-2.4zM481.5 454.5h2.4v1.5h-2.4zM543.9 456.0h2.4v1.5h-2.4zM579.8 456.0h2.4v1.5h-2.4zM611.0 456.0h2.4v1.5h-2.4zM644.6 456.0h4.8v1.5h-4.8zM198.4 457.5h2.4v1.5h-2.4zM232.0 457.5h2.4v1.5h-2.4zM404.7 457.5h2.4v1.5h-2.4zM411.9 457.5h2.4v1.5h-2.4zM433.5 457.5h2.4v1.5h-2.4zM541.5 457.5h2.4v1.5h-2.4zM675.8 457.5h2.4v1.5h-2.4zM208.0 459.0h2.4v1.5h-2.4zM342.3 459.0h2.4v1.5h-2.4zM272.7 460.5h2.4v1.5h-2.4zM265.5 462.0h2.4v1.5h-2.4zM383.1 462.0h2.4v1.5h-2.4zM498.3 462.0h2.4v1.5h-2.4zM505.5 462.0h2.4v1.5h-2.4zM635.0 462.0h2.4v1.5h-2.4zM198.4 463.5h2.4v1.5h-2.4zM445.5 465.0h2.4v1.5h-2.4zM455.1 466.5h2.4v1.5h-2.4zM623.0 466.5h2.4v1.5h-2.4zM627.8 466.5h2.4v1.5h-2.4zM668.6 466.5h2.4v1.5h-2.4zM644.6 468.0h2.4v1.5h-2.4zM666.2 468.0h2.4v1.5h-2.4zM685.4 468.0h2.4v1.5h-2.4zM632.6 469.5h2.4v1.5h-2.4zM121.6 529.6h2.4v1.5h-2.4zM109.6 531.1h2.4v1.5h-2.4zM563.0 537.1h2.4v1.5h-2.4zM109.6 538.6h2.4v1.5h-2.4zM128.8 540.1h2.4v1.5h-2.4zM217.6 543.1h2.4v1.5h-2.4zM481.5 543.1h2.4v1.5h-2.4zM184.0 544.6h2.4v1.5h-2.4zM337.5 544.6h2.4v1.5h-2.4zM500.7 544.6h2.4v1.5h-2.4zM572.6 544.6h2.4v1.5h-2.4zM351.9 546.1h2.4v1.5h-2.4zM474.3 546.1h2.4v1.5h-2.4zM589.4 546.1h2.4v1.5h-2.4zM234.4 547.6h2.4v1.5h-2.4zM361.5 547.6h2.4v1.5h-2.4zM548.6 547.6h2.4v1.5h-2.4zM284.7 549.2h2.4v1.5h-2.4zM291.9 549.2h2.4v1.5h-2.4zM313.5 549.2h2.4v1.5h-2.4zM366.3 549.2h2.4v1.5h-2.4zM601.4 549.2h2.4v1.5h-2.4zM279.9 550.7h2.4v1.5h-2.4zM599.0 550.7h2.4v1.5h-2.4zM644.6 550.7h2.4v1.5h-2.4zM671.0 550.7h2.4v1.5h-2.4zM351.9 552.2h2.4v1.5h-2.4zM522.3 552.2h2.4v1.5h-2.4zM630.2 552.2h2.4v1.5h-2.4zM635.0 552.2h4.8v1.5h-4.8zM661.4 552.2h4.8v1.5h-4.8zM683.0 552.2h2.4v1.5h-2.4zM687.8 552.2h2.4v1.5h-2.4zM220.0 553.7h2.4v1.5h-2.4zM248.8 553.7h2.4v1.5h-2.4zM452.7 553.7h2.4v1.5h-2.4zM459.9 553.7h4.8v1.5h-4.8zM483.9 553.7h2.4v1.5h-2.4zM277.5 555.2h2.4v1.5h-2.4zM423.9 555.2h2.4v1.5h-2.4zM440.7 555.2h2.4v1.5h-2.4zM678.2 555.2h4.8v1.5h-4.8zM260.7 556.7h2.4v1.5h-2.4zM294.3 556.7h2.4v1.5h-2.4zM423.9 556.7h2.4v1.5h-2.4zM690.2 556.7h2.4v1.5h-2.4zM551.0 558.2h2.4v1.5h-2.4zM642.2 558.2h2.4v1.5h-2.4zM416.7 559.7h2.4v1.5h-2.4z"/><path fill="#30ffcf" d="M109.6 126.9h2.4v1.5h-2.4zM138.4 128.4h2.4v1.5h-2.4zM191.2 129.9h2.4v1.5h-2.4zM584.6 129.9h2.4v1.5h-2.4zM232.0 135.9h2.4v1.5h-2.4zM282.3 135.9h2.4v1.5h-2.4zM452.7 135.9h2.4v1.5h-2.4zM507.9 135.9h2.4v1.5h-2.4zM661.4 135.9h2.4v1.5h-2.4zM239.2 137.5h2.4v1.5h-2.4zM258.3 137.5h2.4v1.5h-2.4zM272.7 137.5h2.4v1.5h-2.4zM325.5 137.5h2.4v1.5h-2.4zM335.1 137.5h2.4v1.5h-2.4zM423.9 137.5h2.4v1.5h-2.4zM402.3 139.0h2.4v1.5h-2.4zM244.0 140.5h2.4v1.5h-2.4zM267.9 140.5h2.4v1.5h-2.4zM291.9 140.5h2.4v1.5h-2.4zM311.1 142.0h2.4v1.5h-2.4zM455.1 143.5h2.4v1.5h-2.4zM136.0 290.7h2.4v1.5h-2.4zM136.0 293.7h2.4v1.5h-2.4zM579.8 293.7h2.4v1.5h-2.4zM131.2 295.2h2.4v1.5h-2.4zM567.8 298.2h2.4v1.5h-2.4zM164.8 299.7h2.4v1.5h-2.4zM191.2 299.7h2.4v1.5h-2.4zM100.0 301.2h2.4v1.5h-2.4zM342.3 301.2h2.4v1.5h-2.4zM184.0 302.7h4.8v1.5h-4.8zM452.7 302.7h2.4v1.5h-2.4zM503.1 302.7h2.4v1.5h-2.4zM208.0 304.2h2.4v1.5h-2.4zM241.6 304.2h2.4v1.5h-2.4zM349.5 304.2h2.4v1.5h-2.4zM399.9 304.2h2.4v1.5h-2.4zM421.5 304.2h2.4v1.5h-2.4zM510.3 304.2h2.4v1.5h-2.4zM570.2 304.2h2.4v1.5h-2.4zM596.6 304.2h2.4v1.5h-2.4zM241.6 305.7h2.4v1.5h-2.4zM371.1 305.7h2.4v1.5h-2.4zM421.5 305.7h2.4v1.5h-2.4zM431.1 305.7h2.4v1.5h-2.4zM476.7 305.7h2.4v1.5h-2.4zM491.1 305.7h2.4v1.5h-2.4zM500.7 305.7h2.4v1.5h-2.4zM625.4 305.7h2.4v1.5h-2.4zM208.0 307.2h2.4v1.5h-2.4zM255.9 307.2h2.4v1.5h-2.4zM267.9 307.2h2.4v1.5h-2.4zM284.7 307.2h2.4v1.5h-2.4zM395.1 307.2h2.4v1.5h-2.4zM407.1 307.2h2.4v1.5h-2.4zM435.9 307.2h2.4v1.5h-2.4zM505.5 307.2h2.4v1.5h-2.4zM546.2 307.2h2.4v1.5h-2.4zM603.8 307.2h2.4v1.5h-2.4zM615.8 307.2h2.4v1.5h-2.4zM661.4 307.2h2.4v1.5h-2.4zM210.4 308.7h2.4v1.5h-2.4zM279.9 308.7h2.4v1.5h-2.4zM313.5 308.7h2.4v1.5h-2.4zM320.7 308.7h2.4v1.5h-2.4zM423.9 308.7h2.4v1.5h-2.4zM464.7 308.7h2.4v1.5h-2.4zM503.1 308.7h2.4v1.5h-2.4zM690.2 308.7h2.4v1.5h-2.4zM210.4 310.2h2.4v1.5h-2.4zM234.4 310.2h2.4v1.5h-2.4zM248.8 310.2h2.4v1.5h-2.4zM255.9 310.2h2.4v1.5h-2.4zM289.5 310.2h2.4v1.5h-2.4zM392.7 310.2h2.4v1.5h-2.4zM416.7 310.2h2.4v1.5h-2.4zM471.9 310.2h2.4v1.5h-2.4zM495.9 310.2h2.4v1.5h-2.4zM517.5 310.2h2.4v1.5h-2.4zM620.6 310.2h2.4v1.5h-2.4zM637.4 310.2h2.4v1.5h-2.4zM663.8 310.2h2.4v1.5h-2.4zM683.0 310.2h2.4v1.5h-2.4zM692.6 310.2h2.4v1.5h-2.4zM255.9 311.7h4.8v1.5h-4.8zM287.1 311.7h2.4v1.5h-2.4zM291.9 311.7h2.4v1.5h-2.4zM450.3 311.7h2.4v1.5h-2.4zM459.9 311.7h2.4v1.5h-2.4zM498.3 311.7h2.4v1.5h-2.4zM644.6 311.7h2.4v1.5h-2.4zM654.2 313.3h2.4v1.5h-2.4zM438.3 314.8h2.4v1.5h-2.4zM433.5 316.3h2.4v1.5h-2.4zM500.7 316.3h2.4v1.5h-2.4zM639.8 316.3h2.4v1.5h-2.4zM251.1 317.8h2.4v1.5h-2.4zM150.4 432.0h2.4v1.5h-2.4zM102.4 442.5h2.4v1.5h-2.4zM136.0 442.5h2.4v1.5h-2.4zM169.6 442.5h2.4v1.5h-2.4zM116.8 445.5h2.4v1.5h-2.4zM150.4 445.5h2.4v1.5h-2.4zM176.8 445.5h2.4v1.5h-2.4zM572.6 447.0h2.4v1.5h-2.4zM112.0 448.5h2.4v1.5h-2.4zM138.4 448.5h2.4v1.5h-2.4zM172.0 448.5h2.4v1.5h-2.4zM181.6 448.5h2.4v1.5h-2.4zM109.6 450.0h2.4v1.5h-2.4zM160.0 450.0h2.4v1.5h-2.4zM229.6 450.0h2.4v1.5h-2.4zM546.2 450.0h2.4v1.5h-2.4zM179.2 451.5h2.4v1.5h-2.4zM184.0 451.5h2.4v1.5h-2.4zM222.4 451.5h2.4v1.5h-2.4zM375.9 451.5h2.4v1.5h-2.4zM529.5 451.5h2.4v1.5h-2.4zM575.0 451.5h2.4v1.5h-2.4zM253.5 453.0h2.4v1.5h-2.4zM330.3 453.0h2.4v1.5h-2.4zM339.9 453.0h2.4v1.5h-2.4zM548.6 453.0h2.4v1.5h-2.4zM160.0 454.5h2.4v1.5h-2.4zM378.3 454.5h2.4v1.5h-2.4zM548.6 454.5h2.4v1.5h-2.4zM584.6 454.5h2.4v1.5h-2.4zM596.6 454.5h2.4v1.5h-2.4zM639.8 454.5h2.4v1.5h-2.4zM279.9 456.0h2.4v1.5h-2.4zM438.3 456.0h2.4v1.5h-2.4zM481.5 456.0h2.4v1.5h-2.4zM539.1 456.0h2.4v1.5h-2.4zM603.8 456.0h2.4v1.5h-2.4zM635.0 456.0h2.4v1.5h-2.4zM639.8 456.0h2.4v1.5h-2.4zM651.8 456.0h2.4v1.5h-2.4zM200.8 457.5h2.4v1.5h-2.4zM277.5 457.5h2.4v1.5h-2.4zM325.5 457.5h2.4v1.5h-2.4zM457.5 457.5h2.4v1.5h-2.4zM678.2 457.5h2.4v1.5h-2.4zM690.2 457.5h2.4v1.5h-2.4zM263.1 459.0h2.4v1.5h-2.4zM303.9 459.0h2.4v1.5h-2.4zM635.0 459.0h2.4v1.5h-2.4zM683.0 459.0h2.4v1.5h-2.4zM445.5 460.5h2.4v1.5h-2.4zM503.1 460.5h2.4v1.5h-2.4zM623.0 460.5h2.4v1.5h-2.4zM637.4 460.5h2.4v1.5h-2.4zM647.0 460.5h2.4v1.5h-2.4zM673.4 460.5h2.4v1.5h-2.4zM277.5 462.0h4.8v1.5h-4.8zM419.1 462.0h2.4v1.5h-2.4zM649.4 462.0h2.4v1.5h-2.4zM654.2 462.0h2.4v1.5h-2.4zM668.6 462.0h2.4v1.5h-2.4zM675.8 462.0h2.4v1.5h-2.4zM419.1 463.5h2.4v1.5h-2.4zM457.5 463.5h2.4v1.5h-2.4zM212.8 465.0h2.4v1.5h-2.4zM680.6 466.5h2.4v1.5h-2.4zM659.0 469.5h2.4v1.5h-2.4zM651.8 477.0h2.4v1.5h-2.4zM157.6 535.6h2.4v1.5h-2.4zM112.0 540.1h2.4v1.5h-2.4zM126.4 541.6h2.4v1.5h-2.4zM423.9 541.6h2.4v1.5h-2.4zM596.6 543.1h2.4v1.5h-2.4zM200.8 544.6h2.4v1.5h-2.4zM188.8 546.1h2.4v1.5h-2.4zM524.7 546.1h2.4v1.5h-2.4zM531.9 546.1h2.4v1.5h-2.4zM541.5 546.1h2.4v1.5h-2.4zM570.2 546.1h2.4v1.5h-2.4zM601.4 546.1h2.4v1.5h-2.4zM299.1 547.6h2.4v1.5h-2.4zM308.7 547.6h2.4v1.5h-2.4zM481.5 547.6h2.4v1.5h-2.4zM534.3 547.6h2.4v1.5h-2.4zM630.2 547.6h2.4v1.5h-2.4zM258.3 549.2h2.4v1.5h-2.4zM320.7 549.2h2.4v1.5h-2.4zM332.7 549.2h2.4v1.5h-2.4zM383.1 549.2h2.4v1.5h-2.4zM575.0 549.2h2.4v1.5h-2.4zM635.0 549.2h2.4v1.5h-2.4zM222.4 550.7h4.8v1.5h-4.8zM318.3 550.7h2.4v1.5h-2.4zM642.2 550.7h2.4v1.5h-2.4zM680.6 550.7h2.4v1.5h-2.4zM236.8 552.2h2.4v1.5h-2.4zM301.5 552.2h2.4v1.5h-2.4zM632.6 552.2h2.4v1.5h-2.4zM306.3 553.7h2.4v1.5h-2.4zM332.7 553.7h2.4v1.5h-2.4zM339.9 553.7h2.4v1.5h-2.4zM507.9 553.7h2.4v1.5h-2.4zM692.6 553.7h2.4v1.5h-2.4zM531.9 556.7h2.4v1.5h-2.4zM675.8 556.7h2.4v1.5h-2.4zM440.7 558.2h2.4v1.5h-2.4z"/><path fill="#40ffbf" d="M172.0 125.4h2.4v1.5h-2.4zM119.2 126.9h2.4v1.5h-2.4zM136.0 128.4h2.4v1.5h-2.4zM575.0 128.4h2.4v1.5h-2.4zM589.4 128.4h2.4v1.5h-2.4zM299.1 135.9h2.4v1.5h-2.4zM426.3 135.9h2.4v1.5h-2.4zM402.3 137.5h2.4v1.5h-2.4zM671.0 139.0h2.4v1.5h-2.4zM378.3 140.5h2.4v1.5h-2.4zM349.5 142.0h2.4v1.5h-2.4zM661.4 143.5h2.4v1.5h-2.4zM690.2 146.5h2.4v1.5h-2.4zM104.8 292.2h2.4v1.5h-2.4zM126.4 293.7h2.4v1.5h-2.4zM119.2 296.7h2.4v1.5h-2.4zM140.8 296.7h2.4v1.5h-2.4zM104.8 298.2h2.4v1.5h-2.4zM575.0 298.2h2.4v1.5h-2.4zM109.6 299.7h2.4v1.5h-2.4zM160.0 299.7h2.4v1.5h-2.4zM196.0 299.7h2.4v1.5h-2.4zM577.4 299.7h2.4v1.5h-2.4zM174.4 301.2h2.4v1.5h-2.4zM419.1 301.2h2.4v1.5h-2.4zM438.3 302.7h2.4v1.5h-2.4zM476.7 302.7h2.4v1.5h-2.4zM601.4 302.7h2.4v1.5h-2.4zM198.4 304.2h2.4v1.5h-2.4zM210.4 304.2h2.4v1.5h-2.4zM383.1 304.2h2.4v1.5h-2.4zM507.9 304.2h2.4v1.5h-2.4zM515.1 304.2h2.4v1.5h-2.4zM522.3 304.2h2.4v1.5h-2.4zM560.6 304.2h2.4v1.5h-2.4zM191.2 305.7h2.4v1.5h-2.4zM308.7 305.7h2.4v1.5h-2.4zM416.7 305.7h2.4v1.5h-2.4zM651.8 305.7h2.4v1.5h-2.4zM332.7 307.2h2.4v1.5h-2.4zM433.5 307.2h2.4v1.5h-2.4zM452.7 307.2h2.4v1.5h-2.4zM464.7 307.2h2.4v1.5h-2.4zM534.3 307.2h2.4v1.5h-2.4zM678.2 307.2h2.4v1.5h-2.4zM323.1 308.7h2.4v1.5h-2.4zM375.9 308.7h2.4v1.5h-2.4zM431.1 308.7h2.4v1.5h-2.4zM495.9 308.7h7.2v1.5h-7.2zM635.0 308.7h2.4v1.5h-2.4zM685.4 308.7h2.4v1.5h-2.4zM375.9 310.2h2.4v1.5h-2.4zM414.3 310.2h2.4v1.5h-2.4zM481.5 310.2h4.8v1.5h-4.8zM267.9 311.7h2.4v1.5h-2.4zM411.9 311.7h2.4v1.5h-2.4zM500.7 311.7h2.4v1.5h-2.4zM224.8 313.3h4.8v1.5h-4.8zM363.9 313.3h2.4v1.5h-2.4zM234.4 314.8h2.4v1.5h-2.4zM644.6 314.8h2.4v1.5h-2.4zM671.0 316.3h2.4v1.5h-2.4zM119.2 439.5h2.4v1.5h-2.4zM169.6 439.5h2.4v1.5h-2.4zM133.6 442.5h2.4v1.5h-2.4zM138.4 442.5h2.4v1.5h-2.4zM128.8 444.0h2.4v1.5h-2.4zM136.0 444.0h2.4v1.5h-2.4zM104.8 445.5h2.4v1.5h-2.4zM136.0 445.5h2.4v1.5h-2.4zM186.4 445.5h2.4v1.5h-2.4zM112.0 447.0h2.4v1.5h-2.4zM157.6 447.0h2.4v1.5h-2.4zM164.8 447.0h2.4v1.5h-2.4zM272.7 447.0h2.4v1.5h-2.4zM383.1 447.0h2.4v1.5h-2.4zM421.5 447.0h2.4v1.5h-2.4zM176.8 448.5h2.4v1.5h-2.4zM222.4 448.5h2.4v1.5h-2.4zM354.3 448.5h2.4v1.5h-2.4zM162.4 450.0h2.4v1.5h-2.4zM205.6 450.0h2.4v1.5h-2.4zM517.5 450.0h2.4v1.5h-2.4zM584.6 451.5h2.4v1.5h-2.4zM589.4 451.5h2.4v1.5h-2.4zM198.4 453.0h2.4v1.5h-2.4zM205.6 453.0h2.4v1.5h-2.4zM325.5 453.0h2.4v1.5h-2.4zM539.1 453.0h2.4v1.5h-2.4zM208.0 454.5h2.4v1.5h-2.4zM239.2 454.5h2.4v1.5h-2.4zM251.1 454.5h2.4v1.5h-2.4zM311.1 454.5h2.4v1.5h-2.4zM375.9 454.5h2.4v1.5h-2.4zM603.8 454.5h2.4v1.5h-2.4zM251.1 456.0h2.4v1.5h-2.4zM260.7 456.0h2.4v1.5h-2.4zM294.3 456.0h2.4v1.5h-2.4zM303.9 456.0h2.4v1.5h-2.4zM361.5 456.0h2.4v1.5h-2.4zM416.7 456.0h2.4v1.5h-2.4zM483.9 456.0h2.4v1.5h-2.4zM659.0 456.0h2.4v1.5h-2.4zM227.2 457.5h2.4v1.5h-2.4zM251.1 457.5h2.4v1.5h-2.4zM397.5 457.5h2.4v1.5h-2.4zM599.0 457.5h4.8v1.5h-4.8zM635.0 457.5h2.4v1.5h-2.4zM659.0 457.5h2.4v1.5h-2.4zM200.8 459.0h2.4v1.5h-2.4zM294.3 459.0h2.4v1.5h-2.4zM320.7 459.0h2.4v1.5h-2.4zM543.9 459.0h2.4v1.5h-2.4zM608.6 459.0h2.4v1.5h-2.4zM661.4 459.0h2.4v1.5h-2.4zM366.3 460.5h2.4v1.5h-2.4zM452.7 460.5h2.4v1.5h-2.4zM263.1 462.0h2.4v1.5h-2.4zM332.7 462.0h2.4v1.5h-2.4zM594.2 462.0h2.4v1.5h-2.4zM659.0 462.0h2.4v1.5h-2.4zM407.1 463.5h2.4v1.5h-2.4zM416.7 463.5h2.4v1.5h-2.4zM447.9 463.5h2.4v1.5h-2.4zM476.7 465.0h2.4v1.5h-2.4zM659.0 465.0h2.4v1.5h-2.4zM685.4 465.0h2.4v1.5h-2.4zM692.6 472.5h2.4v1.5h-2.4zM114.4 534.1h2.4v1.5h-2.4zM176.8 537.1h2.4v1.5h-2.4zM121.6 538.6h2.4v1.5h-2.4zM152.8 540.1h2.4v1.5h-2.4zM176.8 540.1h2.4v1.5h-2.4zM133.6 541.6h2.4v1.5h-2.4zM150.4 541.6h2.4v1.5h-2.4zM277.5 546.1h2.4v1.5h-2.4zM522.3 546.1h2.4v1.5h-2.4zM479.1 547.6h2.4v1.5h-2.4zM553.4 547.6h2.4v1.5h-2.4zM232.0 549.2h2.4v1.5h-2.4zM503.1 549.2h2.4v1.5h-2.4zM510.3 549.2h2.4v1.5h-2.4zM584.6 549.2h4.8v1.5h-4.8zM232.0 550.7h2.4v1.5h-2.4zM342.3 550.7h4.8v1.5h-4.8zM368.7 550.7h2.4v1.5h-2.4zM443.1 550.7h2.4v1.5h-2.4zM476.7 550.7h2.4v1.5h-2.4zM570.2 550.7h2.4v1.5h-2.4zM630.2 550.7h2.4v1.5h-2.4zM265.5 552.2h2.4v1.5h-2.4zM306.3 552.2h2.4v1.5h-2.4zM356.7 552.2h2.4v1.5h-2.4zM378.3 552.2h2.4v1.5h-2.4zM450.3 552.2h2.4v1.5h-2.4zM479.1 552.2h2.4v1.5h-2.4zM627.8 552.2h2.4v1.5h-2.4zM421.5 553.7h2.4v1.5h-2.4zM296.7 555.2h2.4v1.5h-2.4zM675.8 555.2h2.4v1.5h-2.4z"/><path fill="#50ffaf" d="M169.6 128.4h2.4v1.5h-2.4zM579.8 128.4h2.4v1.5h-2.4zM551.0 129.9h2.4v1.5h-2.4zM603.8 129.9h2.4v1.5h-2.4zM565.4 131.4h2.4v1.5h-2.4zM284.7 135.9h2.4v1.5h-2.4zM440.7 135.9h2.4v1.5h-2.4zM498.3 135.9h2.4v1.5h-2.4zM647.0 135.9h2.4v1.5h-2.4zM229.6 137.5h2.4v1.5h-2.4zM327.9 137.5h2.4v1.5h-2.4zM356.7 137.5h2.4v1.5h-2.4zM392.7 137.5h2.4v1.5h-2.4zM433.5 137.5h2.4v1.5h-2.4zM440.7 137.5h2.4v1.5h-2.4zM488.7 137.5h2.4v1.5h-2.4zM668.6 137.5h2.4v1.5h-2.4zM224.8 139.0h2.4v1.5h-2.4zM647.0 139.0h2.4v1.5h-2.4zM224.8 140.5h2.4v1.5h-2.4zM656.6 142.0h2.4v1.5h-2.4zM119.2 286.2h2.4v1.5h-2.4zM186.4 295.2h2.4v1.5h-2.4zM133.6 296.7h2.4v1.5h-2.4zM584.6 296.7h2.4v1.5h-2.4zM143.2 298.2h2.4v1.5h-2.4zM543.9 298.2h2.4v1.5h-2.4zM138.4 299.7h2.4v1.5h-2.4zM167.2 299.7h2.4v1.5h-2.4zM531.9 299.7h2.4v1.5h-2.4zM575.0 299.7h2.4v1.5h-2.4zM181.6 301.2h2.4v1.5h-2.4zM179.2 302.7h2.4v1.5h-2.4zM402.3 304.2h2.4v1.5h-2.4zM591.8 304.2h2.4v1.5h-2.4zM203.2 305.7h2.4v1.5h-2.4zM313.5 305.7h2.4v1.5h-2.4zM323.1 305.7h2.4v1.5h-2.4zM366.3 305.7h2.4v1.5h-2.4zM392.7 305.7h2.4v1.5h-2.4zM407.1 305.7h2.4v1.5h-2.4zM433.5 305.7h2.4v1.5h-2.4zM575.0 305.7h2.4v1.5h-2.4zM474.3 307.2h2.4v1.5h-2.4zM519.9 307.2h2.4v1.5h-2.4zM630.2 307.2h2.4v1.5h-2.4zM205.6 308.7h2.4v1.5h-2.4zM265.5 308.7h2.4v1.5h-2.4zM390.3 308.7h2.4v1.5h-2.4zM507.9 308.7h2.4v1.5h-2.4zM565.4 308.7h2.4v1.5h-2.4zM196.0 310.2h2.4v1.5h-2.4zM236.8 310.2h2.4v1.5h-2.4zM421.5 310.2h2.4v1.5h-2.4zM522.3 310.2h2.4v1.5h-2.4zM229.6 311.7h2.4v1.5h-2.4zM253.5 311.7h2.4v1.5h-2.4zM455.1 311.7h2.4v1.5h-2.4zM649.4 311.7h2.4v1.5h-2.4zM654.2 311.7h2.4v1.5h-2.4zM675.8 311.7h2.4v1.5h-2.4zM680.6 311.7h2.4v1.5h-2.4zM301.5 313.3h2.4v1.5h-2.4zM431.1 313.3h2.4v1.5h-2.4zM531.9 313.3h2.4v1.5h-2.4zM675.8 313.3h2.4v1.5h-2.4zM685.4 313.3h2.4v1.5h-2.4zM251.1 314.8h2.4v1.5h-2.4zM675.8 316.3h2.4v1.5h-2.4zM100.0 444.0h4.8v1.5h-4.8zM138.4 445.5h2.4v1.5h-2.4zM124.0 447.0h2.4v1.5h-2.4zM138.4 447.0h4.8v1.5h-4.8zM349.5 448.5h2.4v1.5h-2.4zM354.3 451.5h2.4v1.5h-2.4zM179.2 453.0h2.4v1.5h-2.4zM215.2 453.0h2.4v1.5h-2.4zM289.5 453.0h2.4v1.5h-2.4zM323.1 453.0h2.4v1.5h-2.4zM349.5 453.0h2.4v1.5h-2.4zM258.3 454.5h2.4v1.5h-2.4zM265.5 454.5h2.4v1.5h-2.4zM289.5 454.5h4.8v1.5h-4.8zM330.3 454.5h2.4v1.5h-2.4zM356.7 454.5h2.4v1.5h-2.4zM371.1 454.5h2.4v1.5h-2.4zM385.5 454.5h2.4v1.5h-2.4zM392.7 454.5h2.4v1.5h-2.4zM411.9 454.5h2.4v1.5h-2.4zM534.3 454.5h2.4v1.5h-2.4zM618.2 454.5h2.4v1.5h-2.4zM447.9 456.0h2.4v1.5h-2.4zM507.9 456.0h2.4v1.5h-2.4zM541.5 456.0h2.4v1.5h-2.4zM555.8 456.0h2.4v1.5h-2.4zM332.7 457.5h2.4v1.5h-2.4zM416.7 457.5h2.4v1.5h-2.4zM476.7 457.5h2.4v1.5h-2.4zM529.5 457.5h2.4v1.5h-2.4zM359.1 459.0h2.4v1.5h-2.4zM378.3 459.0h2.4v1.5h-2.4zM510.3 459.0h2.4v1.5h-2.4zM685.4 459.0h2.4v1.5h-2.4zM277.5 460.5h2.4v1.5h-2.4zM462.3 460.5h2.4v1.5h-2.4zM498.3 460.5h2.4v1.5h-2.4zM613.4 460.5h2.4v1.5h-2.4zM644.6 460.5h2.4v1.5h-2.4zM270.3 462.0h2.4v1.5h-2.4zM335.1 462.0h2.4v1.5h-2.4zM363.9 462.0h2.4v1.5h-2.4zM623.0 462.0h2.4v1.5h-2.4zM692.6 463.5h2.4v1.5h-2.4zM649.4 469.5h2.4v1.5h-2.4zM690.2 475.5h2.4v1.5h-2.4zM143.2 531.1h2.4v1.5h-2.4zM157.6 531.1h2.4v1.5h-2.4zM100.0 532.6h2.4v1.5h-2.4zM112.0 535.6h2.4v1.5h-2.4zM196.0 538.6h2.4v1.5h-2.4zM128.8 541.6h2.4v1.5h-2.4zM140.8 541.6h2.4v1.5h-2.4zM181.6 541.6h2.4v1.5h-2.4zM572.6 541.6h2.4v1.5h-2.4zM107.2 543.1h2.4v1.5h-2.4zM160.0 543.1h2.4v1.5h-2.4zM164.8 543.1h2.4v1.5h-2.4zM220.0 543.1h2.4v1.5h-2.4zM315.9 544.6h2.4v1.5h-2.4zM608.6 544.6h2.4v1.5h-2.4zM378.3 546.1h2.4v1.5h-2.4zM596.6 546.1h2.4v1.5h-2.4zM284.7 547.6h2.4v1.5h-2.4zM291.9 547.6h2.4v1.5h-2.4zM311.1 547.6h2.4v1.5h-2.4zM503.1 547.6h2.4v1.5h-2.4zM510.3 547.6h2.4v1.5h-2.4zM560.6 547.6h2.4v1.5h-2.4zM582.2 547.6h2.4v1.5h-2.4zM260.7 549.2h2.4v1.5h-2.4zM335.1 549.2h2.4v1.5h-2.4zM339.9 549.2h2.4v1.5h-2.4zM445.5 549.2h2.4v1.5h-2.4zM543.9 549.2h2.4v1.5h-2.4zM553.4 549.2h2.4v1.5h-2.4zM589.4 549.2h2.4v1.5h-2.4zM603.8 549.2h2.4v1.5h-2.4zM267.9 550.7h2.4v1.5h-2.4zM363.9 550.7h2.4v1.5h-2.4zM469.5 550.7h2.4v1.5h-2.4zM483.9 550.7h2.4v1.5h-2.4zM507.9 550.7h2.4v1.5h-2.4zM517.5 550.7h2.4v1.5h-2.4zM457.5 552.2h2.4v1.5h-2.4zM474.3 552.2h2.4v1.5h-2.4zM272.7 553.7h2.4v1.5h-2.4zM248.8 555.2h2.4v1.5h-2.4zM673.4 556.7h2.4v1.5h-2.4zM651.8 558.2h2.4v1.5h-2.4zM666.2 559.7h2.4v1.5h-2.4z"/><path fill="#60ff9f" d="M157.6 122.4h2.4v1.5h-2.4zM124.0 126.9h2.4v1.5h-2.4zM536.7 129.9h2.4v1.5h-2.4zM555.8 129.9h2.4v1.5h-2.4zM503.1 131.4h2.4v1.5h-2.4zM630.2 131.4h2.4v1.5h-2.4zM232.0 134.4h2.4v1.5h-2.4zM255.9 134.4h2.4v1.5h-2.4zM260.7 134.4h2.4v1.5h-2.4zM380.7 134.4h2.4v1.5h-2.4zM476.7 134.4h2.4v1.5h-2.4zM505.5 134.4h2.4v1.5h-2.4zM558.2 134.4h2.4v1.5h-2.4zM567.8 134.4h2.4v1.5h-2.4zM649.4 134.4h2.4v1.5h-2.4zM663.8 134.4h2.4v1.5h-2.4zM668.6 134.4h2.4v1.5h-2.4zM251.1 135.9h2.4v1.5h-2.4zM265.5 135.9h2.4v1.5h-2.4zM263.1 137.5h2.4v1.5h-2.4zM320.7 137.5h2.4v1.5h-2.4zM373.5 137.5h2.4v1.5h-2.4zM445.5 137.5h2.4v1.5h-2.4zM455.1 139.0h2.4v1.5h-2.4zM330.3 140.5h2.4v1.5h-2.4zM680.6 140.5h2.4v1.5h-2.4zM690.2 140.5h2.4v1.5h-2.4zM128.8 292.2h2.4v1.5h-2.4zM133.6 292.2h2.4v1.5h-2.4zM148.0 296.7h2.4v1.5h-2.4zM143.2 299.7h2.4v1.5h-2.4zM176.8 299.7h2.4v1.5h-2.4zM579.8 299.7h2.4v1.5h-2.4zM169.6 301.2h4.8v1.5h-4.8zM191.2 302.7h2.4v1.5h-2.4zM548.6 302.7h2.4v1.5h-2.4zM555.8 302.7h2.4v1.5h-2.4zM603.8 302.7h2.4v1.5h-2.4zM642.2 302.7h2.4v1.5h-2.4zM176.8 304.2h2.4v1.5h-2.4zM303.9 304.2h2.4v1.5h-2.4zM337.5 304.2h2.4v1.5h-2.4zM359.1 304.2h2.4v1.5h-2.4zM387.9 304.2h2.4v1.5h-2.4zM407.1 304.2h2.4v1.5h-2.4zM524.7 304.2h2.4v1.5h-2.4zM332.7 305.7h2.4v1.5h-2.4zM349.5 305.7h2.4v1.5h-2.4zM363.9 305.7h2.4v1.5h-2.4zM505.5 305.7h2.4v1.5h-2.4zM536.7 305.7h2.4v1.5h-2.4zM548.6 305.7h2.4v1.5h-2.4zM553.4 305.7h2.4v1.5h-2.4zM560.6 305.7h2.4v1.5h-2.4zM572.6 305.7h2.4v1.5h-2.4zM615.8 305.7h2.4v1.5h-2.4zM239.2 307.2h2.4v1.5h-2.4zM330.3 307.2h2.4v1.5h-2.4zM363.9 307.2h2.4v1.5h-2.4zM383.1 307.2h2.4v1.5h-2.4zM459.9 307.2h2.4v1.5h-2.4zM469.5 307.2h2.4v1.5h-2.4zM483.9 307.2h2.4v1.5h-2.4zM625.4 307.2h2.4v1.5h-2.4zM647.0 307.2h2.4v1.5h-2.4zM428.7 308.7h2.4v1.5h-2.4zM443.1 308.7h2.4v1.5h-2.4zM483.9 308.7h2.4v1.5h-2.4zM620.6 308.7h2.4v1.5h-2.4zM639.8 308.7h2.4v1.5h-2.4zM683.0 308.7h2.4v1.5h-2.4zM687.8 308.7h2.4v1.5h-2.4zM244.0 310.2h2.4v1.5h-2.4zM258.3 310.2h2.4v1.5h-2.4zM277.5 310.2h2.4v1.5h-2.4zM438.3 310.2h2.4v1.5h-2.4zM457.5 310.2h2.4v1.5h-2.4zM680.6 310.2h2.4v1.5h-2.4zM467.1 311.7h2.4v1.5h-2.4zM651.8 311.7h2.4v1.5h-2.4zM263.1 313.3h2.4v1.5h-2.4zM433.5 313.3h2.4v1.5h-2.4zM440.7 313.3h2.4v1.5h-2.4zM397.5 314.8h2.4v1.5h-2.4zM685.4 317.8h2.4v1.5h-2.4zM421.5 319.3h2.4v1.5h-2.4zM148.0 438.0h2.4v1.5h-2.4zM148.0 439.5h2.4v1.5h-2.4zM164.8 441.0h2.4v1.5h-2.4zM311.1 441.0h2.4v1.5h-2.4zM155.2 442.5h2.4v1.5h-2.4zM104.8 444.0h2.4v1.5h-2.4zM572.6 444.0h2.4v1.5h-2.4zM174.4 447.0h2.4v1.5h-2.4zM191.2 447.0h2.4v1.5h-2.4zM174.4 448.5h2.4v1.5h-2.4zM407.1 450.0h2.4v1.5h-2.4zM411.9 450.0h2.4v1.5h-2.4zM464.7 450.0h2.4v1.5h-2.4zM167.2 451.5h2.4v1.5h-2.4zM423.9 451.5h2.4v1.5h-2.4zM536.7 451.5h2.4v1.5h-2.4zM618.2 451.5h2.4v1.5h-2.4zM387.9 453.0h2.4v1.5h-2.4zM522.3 453.0h2.4v1.5h-2.4zM599.0 453.0h2.4v1.5h-2.4zM193.6 454.5h2.4v1.5h-2.4zM210.4 454.5h2.4v1.5h-2.4zM255.9 454.5h2.4v1.5h-2.4zM351.9 454.5h2.4v1.5h-2.4zM366.3 454.5h2.4v1.5h-2.4zM395.1 454.5h2.4v1.5h-2.4zM474.3 454.5h2.4v1.5h-2.4zM575.0 454.5h2.4v1.5h-2.4zM582.2 454.5h2.4v1.5h-2.4zM289.5 456.0h2.4v1.5h-2.4zM359.1 456.0h2.4v1.5h-2.4zM426.3 456.0h2.4v1.5h-2.4zM642.2 456.0h2.4v1.5h-2.4zM196.0 457.5h2.4v1.5h-2.4zM205.6 457.5h4.8v1.5h-4.8zM248.8 457.5h2.4v1.5h-2.4zM320.7 457.5h2.4v1.5h-2.4zM495.9 457.5h2.4v1.5h-2.4zM522.3 457.5h2.4v1.5h-2.4zM579.8 457.5h2.4v1.5h-2.4zM589.4 457.5h2.4v1.5h-2.4zM627.8 457.5h2.4v1.5h-2.4zM647.0 457.5h4.8v1.5h-4.8zM215.2 459.0h2.4v1.5h-2.4zM306.3 459.0h2.4v1.5h-2.4zM323.1 459.0h2.4v1.5h-2.4zM349.5 459.0h2.4v1.5h-2.4zM363.9 459.0h2.4v1.5h-2.4zM215.2 460.5h2.4v1.5h-2.4zM239.2 460.5h2.4v1.5h-2.4zM284.7 460.5h2.4v1.5h-2.4zM354.3 460.5h2.4v1.5h-2.4zM423.9 460.5h2.4v1.5h-2.4zM464.7 460.5h2.4v1.5h-2.4zM683.0 460.5h2.4v1.5h-2.4zM229.6 462.0h2.4v1.5h-2.4zM666.2 462.0h2.4v1.5h-2.4zM685.4 462.0h2.4v1.5h-2.4zM435.9 463.5h2.4v1.5h-2.4zM671.0 463.5h2.4v1.5h-2.4zM675.8 463.5h2.4v1.5h-2.4zM690.2 463.5h2.4v1.5h-2.4zM272.7 465.0h2.4v1.5h-2.4zM447.9 465.0h2.4v1.5h-2.4zM251.1 466.5h2.4v1.5h-2.4zM462.3 468.0h2.4v1.5h-2.4zM167.2 528.1h2.4v1.5h-2.4zM148.0 538.6h2.4v1.5h-2.4zM155.2 541.6h2.4v1.5h-2.4zM145.6 543.1h2.4v1.5h-2.4zM121.6 544.6h2.4v1.5h-2.4zM203.2 546.1h2.4v1.5h-2.4zM217.6 546.1h2.4v1.5h-2.4zM627.8 546.1h2.4v1.5h-2.4zM387.9 547.6h2.4v1.5h-2.4zM493.5 547.6h2.4v1.5h-2.4zM541.5 547.6h2.4v1.5h-2.4zM551.0 547.6h2.4v1.5h-2.4zM311.1 549.2h2.4v1.5h-2.4zM344.7 549.2h2.4v1.5h-2.4zM387.9 549.2h2.4v1.5h-2.4zM546.2 549.2h2.4v1.5h-2.4zM570.2 549.2h2.4v1.5h-2.4zM611.0 549.2h2.4v1.5h-2.4zM623.0 549.2h2.4v1.5h-2.4zM651.8 549.2h2.4v1.5h-2.4zM395.1 550.7h2.4v1.5h-2.4zM409.5 550.7h2.4v1.5h-2.4zM505.5 550.7h2.4v1.5h-2.4zM229.6 552.2h2.4v1.5h-2.4zM241.6 552.2h2.4v1.5h-2.4zM303.9 552.2h2.4v1.5h-2.4zM337.5 552.2h2.4v1.5h-2.4zM361.5 552.2h4.8v1.5h-4.8zM428.7 552.2h2.4v1.5h-2.4zM690.2 552.2h2.4v1.5h-2.4zM349.5 556.7h2.4v1.5h-2.4z"/><path fill="#70ff8f" d="M157.6 123.9h2.4v1.5h-2.4zM148.0 129.9h2.4v1.5h-2.4zM157.6 129.9h2.4v1.5h-2.4zM186.4 131.4h2.4v1.5h-2.4zM145.6 132.9h2.4v1.5h-2.4zM255.9 132.9h2.4v1.5h-2.4zM270.3 132.9h2.4v1.5h-2.4zM318.3 132.9h2.4v1.5h-2.4zM399.9 132.9h2.4v1.5h-2.4zM404.7 132.9h2.4v1.5h-2.4zM467.1 132.9h2.4v1.5h-2.4zM476.7 132.9h2.4v1.5h-2.4zM524.7 132.9h2.4v1.5h-2.4zM539.1 132.9h2.4v1.5h-2.4zM543.9 132.9h2.4v1.5h-2.4zM625.4 132.9h2.4v1.5h-2.4zM654.2 132.9h2.4v1.5h-2.4zM107.2 134.4h2.4v1.5h-2.4zM140.8 134.4h2.4v1.5h-2.4zM155.2 134.4h2.4v1.5h-2.4zM160.0 134.4h2.4v1.5h-2.4zM227.2 134.4h2.4v1.5h-2.4zM251.1 134.4h2.4v1.5h-2.4zM270.3 134.4h2.4v1.5h-2.4zM275.1 134.4h2.4v1.5h-2.4zM279.9 134.4h2.4v1.5h-2.4zM289.5 134.4h2.4v1.5h-2.4zM308.7 134.4h2.4v1.5h-2.4zM347.1 134.4h2.4v1.5h-2.4zM351.9 134.4h2.4v1.5h-2.4zM375.9 134.4h2.4v1.5h-2.4zM385.5 134.4h2.4v1.5h-2.4zM419.1 134.4h2.4v1.5h-2.4zM438.3 134.4h2.4v1.5h-2.4zM447.9 134.4h2.4v1.5h-2.4zM462.3 134.4h2.4v1.5h-2.4zM529.5 134.4h2.4v1.5h-2.4zM534.3 134.4h2.4v1.5h-2.4zM553.4 134.4h2.4v1.5h-2.4zM591.8 134.4h2.4v1.5h-2.4zM601.4 134.4h2.4v1.5h-2.4zM620.6 134.4h2.4v1.5h-2.4zM210.4 135.9h2.4v1.5h-2.4zM397.5 135.9h2.4v1.5h-2.4zM423.9 135.9h2.4v1.5h-2.4zM450.3 135.9h2.4v1.5h-2.4zM481.5 135.9h2.4v1.5h-2.4zM220.0 137.5h2.4v1.5h-2.4zM426.3 137.5h2.4v1.5h-2.4zM680.6 137.5h2.4v1.5h-2.4zM306.3 139.0h2.4v1.5h-2.4zM459.9 142.0h2.4v1.5h-2.4zM685.4 142.0h2.4v1.5h-2.4zM104.8 296.7h2.4v1.5h-2.4zM124.0 298.2h2.4v1.5h-2.4zM124.0 299.7h2.4v1.5h-2.4zM169.6 299.7h2.4v1.5h-2.4zM584.6 299.7h2.4v1.5h-2.4zM109.6 301.2h2.4v1.5h-2.4zM227.2 302.7h2.4v1.5h-2.4zM205.6 304.2h2.4v1.5h-2.4zM325.5 304.2h2.4v1.5h-2.4zM363.9 304.2h2.4v1.5h-2.4zM517.5 304.2h2.4v1.5h-2.4zM534.3 304.2h2.4v1.5h-2.4zM263.1 307.2h2.4v1.5h-2.4zM287.1 307.2h2.4v1.5h-2.4zM299.1 307.2h2.4v1.5h-2.4zM337.5 307.2h2.4v1.5h-2.4zM440.7 307.2h2.4v1.5h-2.4zM236.8 308.7h2.4v1.5h-2.4zM277.5 308.7h2.4v1.5h-2.4zM284.7 308.7h2.4v1.5h-2.4zM299.1 308.7h2.4v1.5h-2.4zM409.5 308.7h2.4v1.5h-2.4zM512.7 308.7h2.4v1.5h-2.4zM644.6 308.7h2.4v1.5h-2.4zM263.1 310.2h2.4v1.5h-2.4zM294.3 310.2h2.4v1.5h-2.4zM399.9 310.2h2.4v1.5h-2.4zM407.1 310.2h2.4v1.5h-2.4zM493.5 310.2h2.4v1.5h-2.4zM527.1 310.2h2.4v1.5h-2.4zM632.6 310.2h2.4v1.5h-2.4zM687.8 310.2h2.4v1.5h-2.4zM272.7 311.7h2.4v1.5h-2.4zM464.7 311.7h2.4v1.5h-2.4zM479.1 311.7h2.4v1.5h-2.4zM673.4 311.7h2.4v1.5h-2.4zM678.2 311.7h2.4v1.5h-2.4zM354.3 313.3h2.4v1.5h-2.4zM272.7 316.3h2.4v1.5h-2.4zM306.3 317.8h2.4v1.5h-2.4zM104.8 438.0h2.4v1.5h-2.4zM152.8 442.5h2.4v1.5h-2.4zM186.4 447.0h2.4v1.5h-2.4zM119.2 448.5h2.4v1.5h-2.4zM323.1 448.5h2.4v1.5h-2.4zM239.2 450.0h2.4v1.5h-2.4zM196.0 451.5h2.4v1.5h-2.4zM244.0 451.5h2.4v1.5h-2.4zM306.3 451.5h2.4v1.5h-2.4zM378.3 451.5h2.4v1.5h-2.4zM591.8 451.5h2.4v1.5h-2.4zM241.6 453.0h2.4v1.5h-2.4zM363.9 453.0h2.4v1.5h-2.4zM527.1 453.0h2.4v1.5h-2.4zM613.4 453.0h2.4v1.5h-2.4zM234.4 454.5h2.4v1.5h-2.4zM373.5 454.5h2.4v1.5h-2.4zM210.4 456.0h2.4v1.5h-2.4zM253.5 456.0h2.4v1.5h-2.4zM265.5 456.0h4.8v1.5h-4.8zM325.5 456.0h2.4v1.5h-2.4zM371.1 456.0h2.4v1.5h-2.4zM375.9 456.0h2.4v1.5h-2.4zM445.5 456.0h2.4v1.5h-2.4zM303.9 457.5h2.4v1.5h-2.4zM330.3 457.5h2.4v1.5h-2.4zM390.3 457.5h2.4v1.5h-2.4zM426.3 457.5h2.4v1.5h-2.4zM435.9 457.5h2.4v1.5h-2.4zM630.2 457.5h2.4v1.5h-2.4zM222.4 459.0h2.4v1.5h-2.4zM476.7 459.0h2.4v1.5h-2.4zM615.8 459.0h2.4v1.5h-2.4zM659.0 459.0h2.4v1.5h-2.4zM222.4 460.5h2.4v1.5h-2.4zM241.6 460.5h2.4v1.5h-2.4zM263.1 460.5h2.4v1.5h-2.4zM279.9 460.5h2.4v1.5h-2.4zM659.0 460.5h2.4v1.5h-2.4zM687.8 460.5h2.4v1.5h-2.4zM234.4 462.0h2.4v1.5h-2.4zM435.9 465.0h2.4v1.5h-2.4zM690.2 465.0h2.4v1.5h-2.4zM435.9 468.0h2.4v1.5h-2.4zM387.9 474.0h2.4v1.5h-2.4zM114.4 532.6h2.4v1.5h-2.4zM167.2 535.6h2.4v1.5h-2.4zM124.0 537.1h2.4v1.5h-2.4zM148.0 540.1h2.4v1.5h-2.4zM184.0 543.1h2.4v1.5h-2.4zM116.8 544.6h2.4v1.5h-2.4zM555.8 544.6h2.4v1.5h-2.4zM572.6 546.1h2.4v1.5h-2.4zM558.2 547.6h2.4v1.5h-2.4zM627.8 547.6h2.4v1.5h-2.4zM551.0 549.2h2.4v1.5h-2.4zM615.8 549.2h2.4v1.5h-2.4zM625.4 549.2h2.4v1.5h-2.4zM359.1 550.7h2.4v1.5h-2.4zM450.3 550.7h2.4v1.5h-2.4zM495.9 550.7h2.4v1.5h-2.4zM267.9 552.2h2.4v1.5h-2.4zM347.1 552.2h2.4v1.5h-2.4zM359.1 552.2h2.4v1.5h-2.4zM330.3 553.7h2.4v1.5h-2.4z"/><path fill="#80ff80" d="M152.8 125.4h2.4v1.5h-2.4zM579.8 126.9h2.4v1.5h-2.4zM200.8 131.4h2.4v1.5h-2.4zM112.0 132.9h2.4v1.5h-2.4zM121.6 132.9h2.4v1.5h-2.4zM131.2 132.9h2.4v1.5h-2.4zM150.4 132.9h2.4v1.5h-2.4zM164.8 132.9h2.4v1.5h-2.4zM184.0 132.9h2.4v1.5h-2.4zM222.4 132.9h2.4v1.5h-2.4zM227.2 132.9h2.4v1.5h-2.4zM236.8 132.9h2.4v1.5h-2.4zM299.1 132.9h2.4v1.5h-2.4zM308.7 132.9h2.4v1.5h-2.4zM313.5 132.9h2.4v1.5h-2.4zM323.1 132.9h2.4v1.5h-2.4zM337.5 132.9h2.4v1.5h-2.4zM347.1 132.9h2.4v1.5h-2.4zM356.7 132.9h2.4v1.5h-2.4zM395.1 132.9h2.4v1.5h-2.4zM457.5 132.9h2.4v1.5h-2.4zM462.3 132.9h2.4v1.5h-2.4zM486.3 132.9h2.4v1.5h-2.4zM495.9 132.9h2.4v1.5h-2.4zM510.3 132.9h2.4v1.5h-2.4zM515.1 132.9h2.4v1.5h-2.4zM529.5 132.9h2.4v1.5h-2.4zM534.3 132.9h2.4v1.5h-2.4zM563.0 132.9h2.4v1.5h-2.4zM572.6 132.9h2.4v1.5h-2.4zM620.6 132.9h2.4v1.5h-2.4zM635.0 132.9h2.4v1.5h-2.4zM649.4 132.9h2.4v1.5h-2.4zM687.8 132.9h2.4v1.5h-2.4zM692.6 132.9h2.4v1.5h-2.4zM116.8 134.4h2.4v1.5h-2.4zM121.6 134.4h2.4v1.5h-2.4zM136.0 134.4h2.4v1.5h-2.4zM150.4 134.4h2.4v1.5h-2.4zM164.8 134.4h2.4v1.5h-2.4zM203.2 134.4h2.4v1.5h-2.4zM208.0 134.4h2.4v1.5h-2.4zM222.4 134.4h2.4v1.5h-2.4zM284.7 134.4h2.4v1.5h-2.4zM294.3 134.4h2.4v1.5h-2.4zM323.1 134.4h2.4v1.5h-2.4zM327.9 134.4h2.4v1.5h-2.4zM409.5 134.4h2.4v1.5h-2.4zM452.7 134.4h2.4v1.5h-2.4zM457.5 134.4h2.4v1.5h-2.4zM471.9 134.4h2.4v1.5h-2.4zM481.5 134.4h2.4v1.5h-2.4zM548.6 134.4h2.4v1.5h-2.4zM563.0 134.4h2.4v1.5h-2.4zM572.6 134.4h2.4v1.5h-2.4zM596.6 134.4h2.4v1.5h-2.4zM615.8 134.4h2.4v1.5h-2.4zM644.6 134.4h2.4v1.5h-2.4zM687.8 134.4h2.4v1.5h-2.4zM373.5 135.9h2.4v1.5h-2.4zM251.1 137.5h2.4v1.5h-2.4zM483.9 137.5h2.4v1.5h-2.4zM656.6 137.5h2.4v1.5h-2.4zM248.8 142.0h2.4v1.5h-2.4zM315.9 142.0h2.4v1.5h-2.4zM152.8 292.2h2.4v1.5h-2.4zM157.6 298.2h2.4v1.5h-2.4zM548.6 304.2h2.4v1.5h-2.4zM553.4 304.2h2.4v1.5h-2.4zM575.0 304.2h2.4v1.5h-2.4zM579.8 304.2h2.4v1.5h-2.4zM589.4 304.2h2.4v1.5h-2.4zM601.4 304.2h2.4v1.5h-2.4zM327.9 305.7h2.4v1.5h-2.4zM356.7 305.7h2.4v1.5h-2.4zM368.7 305.7h2.4v1.5h-2.4zM383.1 305.7h2.4v1.5h-2.4zM498.3 305.7h2.4v1.5h-2.4zM534.3 305.7h2.4v1.5h-2.4zM551.0 305.7h2.4v1.5h-2.4zM349.5 307.2h2.4v1.5h-2.4zM486.3 307.2h2.4v1.5h-2.4zM565.4 307.2h2.4v1.5h-2.4zM608.6 307.2h2.4v1.5h-2.4zM639.8 307.2h2.4v1.5h-2.4zM255.9 308.7h2.4v1.5h-2.4zM608.6 308.7h2.4v1.5h-2.4zM344.7 310.2h2.4v1.5h-2.4zM378.3 310.2h2.4v1.5h-2.4zM656.6 316.3h2.4v1.5h-2.4zM685.4 322.3h2.4v1.5h-2.4zM167.2 436.5h2.4v1.5h-2.4zM133.6 438.0h2.4v1.5h-2.4zM152.8 444.0h2.4v1.5h-2.4zM119.2 445.5h2.4v1.5h-2.4zM128.8 447.0h2.4v1.5h-2.4zM133.6 447.0h2.4v1.5h-2.4zM160.0 448.5h2.4v1.5h-2.4zM440.7 448.5h2.4v1.5h-2.4zM169.6 450.0h2.4v1.5h-2.4zM186.4 451.5h2.4v1.5h-2.4zM397.5 451.5h2.4v1.5h-2.4zM503.1 453.0h2.4v1.5h-2.4zM196.0 454.5h2.4v1.5h-2.4zM229.6 454.5h2.4v1.5h-2.4zM267.9 454.5h2.4v1.5h-2.4zM318.3 454.5h2.4v1.5h-2.4zM342.3 454.5h2.4v1.5h-2.4zM505.5 454.5h2.4v1.5h-2.4zM611.0 454.5h2.4v1.5h-2.4zM615.8 454.5h2.4v1.5h-2.4zM217.6 456.0h2.4v1.5h-2.4zM263.1 456.0h2.4v1.5h-2.4zM318.3 456.0h4.8v1.5h-4.8zM347.1 456.0h2.4v1.5h-2.4zM471.9 456.0h2.4v1.5h-2.4zM517.5 456.0h2.4v1.5h-2.4zM546.2 456.0h2.4v1.5h-2.4zM563.0 456.0h2.4v1.5h-2.4zM591.8 456.0h2.4v1.5h-2.4zM191.2 457.5h2.4v1.5h-2.4zM313.5 457.5h2.4v1.5h-2.4zM351.9 457.5h4.8v1.5h-4.8zM510.3 457.5h2.4v1.5h-2.4zM524.7 457.5h2.4v1.5h-2.4zM608.6 457.5h2.4v1.5h-2.4zM255.9 459.0h2.4v1.5h-2.4zM272.7 459.0h2.4v1.5h-2.4zM443.1 459.0h2.4v1.5h-2.4zM462.3 459.0h2.4v1.5h-2.4zM493.5 459.0h2.4v1.5h-2.4zM649.4 459.0h2.4v1.5h-2.4zM483.9 460.5h2.4v1.5h-2.4zM637.4 463.5h2.4v1.5h-2.4zM654.2 463.5h2.4v1.5h-2.4zM421.5 465.0h2.4v1.5h-2.4zM282.3 466.5h2.4v1.5h-2.4zM663.8 466.5h2.4v1.5h-2.4zM680.6 469.5h2.4v1.5h-2.4zM164.8 541.6h2.4v1.5h-2.4zM104.8 544.6h2.4v1.5h-2.4zM560.6 546.1h2.4v1.5h-2.4zM579.8 546.1h2.4v1.5h-2.4zM575.0 547.6h4.8v1.5h-4.8zM587.0 547.6h2.4v1.5h-2.4zM212.8 549.2h2.4v1.5h-2.4zM244.0 549.2h2.4v1.5h-2.4zM325.5 549.2h4.8v1.5h-4.8zM342.3 549.2h2.4v1.5h-2.4zM385.5 549.2h2.4v1.5h-2.4zM366.3 550.7h2.4v1.5h-2.4zM385.5 550.7h2.4v1.5h-2.4zM649.4 550.7h2.4v1.5h-2.4zM666.2 550.7h2.4v1.5h-2.4zM354.3 552.2h2.4v1.5h-2.4zM404.7 552.2h2.4v1.5h-2.4zM423.9 552.2h2.4v1.5h-2.4zM455.1 552.2h2.4v1.5h-2.4zM481.5 552.2h2.4v1.5h-2.4zM270.3 553.7h2.4v1.5h-2.4zM651.8 553.7h2.4v1.5h-2.4zM675.8 553.7h2.4v1.5h-2.4zM683.0 553.7h2.4v1.5h-2.4zM673.4 555.2h2.4v1.5h-2.4z"/><path fill="#8fff70" d="M155.2 126.9h2.4v1.5h-2.4zM186.4 129.9h2.4v1.5h-2.4zM584.6 131.4h2.4v1.5h-2.4zM594.2 131.4h2.4v1.5h-2.4zM136.0 132.9h2.4v1.5h-2.4zM140.8 132.9h2.4v1.5h-2.4zM155.2 132.9h2.4v1.5h-2.4zM160.0 132.9h2.4v1.5h-2.4zM169.6 132.9h2.4v1.5h-2.4zM179.2 132.9h2.4v1.5h-2.4zM188.8 132.9h2.4v1.5h-2.4zM212.8 132.9h2.4v1.5h-2.4zM260.7 132.9h2.4v1.5h-2.4zM265.5 132.9h2.4v1.5h-2.4zM289.5 132.9h2.4v1.5h-2.4zM303.9 132.9h2.4v1.5h-2.4zM342.3 132.9h2.4v1.5h-2.4zM351.9 132.9h2.4v1.5h-2.4zM371.1 132.9h2.4v1.5h-2.4zM375.9 132.9h2.4v1.5h-2.4zM419.1 132.9h2.4v1.5h-2.4zM423.9 132.9h2.4v1.5h-2.4zM481.5 132.9h2.4v1.5h-2.4zM491.1 132.9h2.4v1.5h-2.4zM519.9 132.9h2.4v1.5h-2.4zM548.6 132.9h2.4v1.5h-2.4zM553.4 132.9h2.4v1.5h-2.4zM577.4 132.9h2.4v1.5h-2.4zM611.0 132.9h2.4v1.5h-2.4zM630.2 132.9h2.4v1.5h-2.4zM639.8 132.9h2.4v1.5h-2.4zM673.4 132.9h2.4v1.5h-2.4zM683.0 132.9h2.4v1.5h-2.4zM145.6 134.4h2.4v1.5h-2.4zM169.6 134.4h2.4v1.5h-2.4zM174.4 134.4h2.4v1.5h-2.4zM179.2 134.4h2.4v1.5h-2.4zM184.0 134.4h2.4v1.5h-2.4zM193.6 134.4h2.4v1.5h-2.4zM198.4 134.4h2.4v1.5h-2.4zM246.4 134.4h2.4v1.5h-2.4zM265.5 134.4h2.4v1.5h-2.4zM299.1 134.4h2.4v1.5h-2.4zM318.3 134.4h2.4v1.5h-2.4zM332.7 134.4h2.4v1.5h-2.4zM337.5 134.4h2.4v1.5h-2.4zM356.7 134.4h2.4v1.5h-2.4zM366.3 134.4h2.4v1.5h-2.4zM390.3 134.4h2.4v1.5h-2.4zM395.1 134.4h2.4v1.5h-2.4zM404.7 134.4h2.4v1.5h-2.4zM414.3 134.4h2.4v1.5h-2.4zM423.9 134.4h2.4v1.5h-2.4zM433.5 134.4h2.4v1.5h-2.4zM443.1 134.4h2.4v1.5h-2.4zM467.1 134.4h2.4v1.5h-2.4zM486.3 134.4h2.4v1.5h-2.4zM491.1 134.4h2.4v1.5h-2.4zM510.3 134.4h2.4v1.5h-2.4zM515.1 134.4h2.4v1.5h-2.4zM519.9 134.4h2.4v1.5h-2.4zM543.9 134.4h2.4v1.5h-2.4zM577.4 134.4h2.4v1.5h-2.4zM587.0 134.4h2.4v1.5h-2.4zM606.2 134.4h2.4v1.5h-2.4zM611.0 134.4h2.4v1.5h-2.4zM630.2 134.4h2.4v1.5h-2.4zM639.8 134.4h2.4v1.5h-2.4zM654.2 134.4h2.4v1.5h-2.4zM673.4 134.4h2.4v1.5h-2.4zM678.2 134.4h2.4v1.5h-2.4zM683.0 134.4h2.4v1.5h-2.4zM503.1 135.9h2.4v1.5h-2.4zM296.7 137.5h2.4v1.5h-2.4zM349.5 137.5h2.4v1.5h-2.4zM450.3 137.5h2.4v1.5h-2.4zM248.8 139.0h2.4v1.5h-2.4zM387.9 139.0h2.4v1.5h-2.4zM435.9 140.5h2.4v1.5h-2.4zM383.1 143.5h2.4v1.5h-2.4zM126.4 298.2h2.4v1.5h-2.4zM140.8 298.2h2.4v1.5h-2.4zM121.6 299.7h2.4v1.5h-2.4zM136.0 299.7h2.4v1.5h-2.4zM354.3 302.7h2.4v1.5h-2.4zM567.8 302.7h2.4v1.5h-2.4zM591.8 302.7h2.4v1.5h-2.4zM356.7 304.2h2.4v1.5h-2.4zM291.9 305.7h2.4v1.5h-2.4zM339.9 305.7h2.4v1.5h-2.4zM529.5 305.7h2.4v1.5h-2.4zM227.2 307.2h2.4v1.5h-2.4zM246.4 307.2h2.4v1.5h-2.4zM342.3 307.2h4.8v1.5h-4.8zM431.1 307.2h2.4v1.5h-2.4zM471.9 307.2h2.4v1.5h-2.4zM510.3 307.2h2.4v1.5h-2.4zM522.3 307.2h2.4v1.5h-2.4zM606.2 307.2h2.4v1.5h-2.4zM611.0 307.2h2.4v1.5h-2.4zM620.6 307.2h2.4v1.5h-2.4zM637.4 307.2h2.4v1.5h-2.4zM246.4 308.7h2.4v1.5h-2.4zM287.1 308.7h2.4v1.5h-2.4zM301.5 308.7h2.4v1.5h-2.4zM392.7 308.7h2.4v1.5h-2.4zM435.9 308.7h2.4v1.5h-2.4zM656.6 308.7h4.8v1.5h-4.8zM409.5 310.2h2.4v1.5h-2.4zM426.3 310.2h2.4v1.5h-2.4zM642.2 310.2h2.4v1.5h-2.4zM260.7 311.7h2.4v1.5h-2.4zM270.3 311.7h2.4v1.5h-2.4zM668.6 311.7h2.4v1.5h-2.4zM138.4 441.0h2.4v1.5h-2.4zM311.1 445.5h2.4v1.5h-2.4zM143.2 447.0h2.4v1.5h-2.4zM335.1 448.5h2.4v1.5h-2.4zM133.6 450.0h2.4v1.5h-2.4zM267.9 450.0h2.4v1.5h-2.4zM570.2 450.0h2.4v1.5h-2.4zM591.8 450.0h2.4v1.5h-2.4zM582.2 451.5h2.4v1.5h-2.4zM282.3 454.5h2.4v1.5h-2.4zM320.7 454.5h2.4v1.5h-2.4zM347.1 454.5h2.4v1.5h-2.4zM407.1 454.5h2.4v1.5h-2.4zM541.5 454.5h2.4v1.5h-2.4zM282.3 456.0h2.4v1.5h-2.4zM332.7 456.0h2.4v1.5h-2.4zM467.1 456.0h2.4v1.5h-2.4zM599.0 456.0h2.4v1.5h-2.4zM630.2 456.0h2.4v1.5h-2.4zM308.7 457.5h2.4v1.5h-2.4zM337.5 457.5h2.4v1.5h-2.4zM447.9 457.5h2.4v1.5h-2.4zM469.5 457.5h2.4v1.5h-2.4zM486.3 457.5h2.4v1.5h-2.4zM613.4 457.5h2.4v1.5h-2.4zM217.6 459.0h2.4v1.5h-2.4zM244.0 459.0h2.4v1.5h-2.4zM339.9 459.0h2.4v1.5h-2.4zM457.5 459.0h2.4v1.5h-2.4zM479.1 459.0h2.4v1.5h-2.4zM673.4 459.0h4.8v1.5h-4.8zM419.1 460.5h2.4v1.5h-2.4zM450.3 460.5h2.4v1.5h-2.4zM459.9 460.5h2.4v1.5h-2.4zM668.6 460.5h2.4v1.5h-2.4zM431.1 462.0h2.4v1.5h-2.4zM440.7 463.5h2.4v1.5h-2.4zM680.6 463.5h2.4v1.5h-2.4zM632.6 465.0h2.4v1.5h-2.4zM126.4 543.1h2.4v1.5h-2.4zM196.0 546.1h2.4v1.5h-2.4zM359.1 547.6h2.4v1.5h-2.4zM500.7 547.6h2.4v1.5h-2.4zM603.8 547.6h2.4v1.5h-2.4zM615.8 547.6h2.4v1.5h-2.4zM241.6 550.7h2.4v1.5h-2.4zM301.5 550.7h2.4v1.5h-2.4zM635.0 550.7h2.4v1.5h-2.4zM368.7 552.2h2.4v1.5h-2.4zM421.5 552.2h2.4v1.5h-2.4z"/><path fill="#9fff60" d="M157.6 126.9h2.4v1.5h-2.4zM162.4 126.9h2.4v1.5h-2.4zM172.0 128.4h2.4v1.5h-2.4zM613.4 129.9h2.4v1.5h-2.4zM541.5 131.4h2.4v1.5h-2.4zM618.2 131.4h2.4v1.5h-2.4zM102.4 132.9h2.4v1.5h-2.4zM107.2 132.9h2.4v1.5h-2.4zM116.8 132.9h2.4v1.5h-2.4zM126.4 132.9h2.4v1.5h-2.4zM174.4 132.9h2.4v1.5h-2.4zM203.2 132.9h2.4v1.5h-2.4zM232.0 132.9h2.4v1.5h-2.4zM246.4 132.9h2.4v1.5h-2.4zM279.9 132.9h2.4v1.5h-2.4zM284.7 132.9h2.4v1.5h-2.4zM327.9 132.9h2.4v1.5h-2.4zM366.3 132.9h2.4v1.5h-2.4zM380.7 132.9h2.4v1.5h-2.4zM390.3 132.9h2.4v1.5h-2.4zM414.3 132.9h2.4v1.5h-2.4zM438.3 132.9h2.4v1.5h-2.4zM443.1 132.9h2.4v1.5h-2.4zM447.9 132.9h2.4v1.5h-2.4zM452.7 132.9h2.4v1.5h-2.4zM558.2 132.9h2.4v1.5h-2.4zM582.2 132.9h2.4v1.5h-2.4zM596.6 132.9h2.4v1.5h-2.4zM606.2 132.9h2.4v1.5h-2.4zM615.8 132.9h2.4v1.5h-2.4zM102.4 134.4h2.4v1.5h-2.4zM112.0 134.4h2.4v1.5h-2.4zM126.4 134.4h2.4v1.5h-2.4zM131.2 134.4h2.4v1.5h-2.4zM188.8 134.4h2.4v1.5h-2.4zM212.8 134.4h2.4v1.5h-2.4zM217.6 134.4h2.4v1.5h-2.4zM236.8 134.4h2.4v1.5h-2.4zM241.6 134.4h2.4v1.5h-2.4zM303.9 134.4h2.4v1.5h-2.4zM313.5 134.4h2.4v1.5h-2.4zM342.3 134.4h2.4v1.5h-2.4zM361.5 134.4h2.4v1.5h-2.4zM371.1 134.4h2.4v1.5h-2.4zM399.9 134.4h2.4v1.5h-2.4zM428.7 134.4h2.4v1.5h-2.4zM495.9 134.4h2.4v1.5h-2.4zM500.7 134.4h2.4v1.5h-2.4zM524.7 134.4h2.4v1.5h-2.4zM539.1 134.4h2.4v1.5h-2.4zM582.2 134.4h2.4v1.5h-2.4zM625.4 134.4h2.4v1.5h-2.4zM635.0 134.4h2.4v1.5h-2.4zM659.0 134.4h2.4v1.5h-2.4zM692.6 134.4h2.4v1.5h-2.4zM335.1 135.9h2.4v1.5h-2.4zM344.7 135.9h2.4v1.5h-2.4zM642.2 135.9h2.4v1.5h-2.4zM339.9 137.5h2.4v1.5h-2.4zM354.3 137.5h2.4v1.5h-2.4zM663.8 137.5h2.4v1.5h-2.4zM675.8 137.5h2.4v1.5h-2.4zM244.0 139.0h2.4v1.5h-2.4zM416.7 139.0h2.4v1.5h-2.4zM675.8 139.0h2.4v1.5h-2.4zM155.2 298.2h2.4v1.5h-2.4zM155.2 299.7h2.4v1.5h-2.4zM174.4 302.7h2.4v1.5h-2.4zM503.1 304.2h2.4v1.5h-2.4zM587.0 304.2h2.4v1.5h-2.4zM181.6 305.7h2.4v1.5h-2.4zM495.9 305.7h2.4v1.5h-2.4zM335.1 307.2h2.4v1.5h-2.4zM347.1 307.2h2.4v1.5h-2.4zM375.9 307.2h2.4v1.5h-2.4zM392.7 307.2h2.4v1.5h-2.4zM419.1 307.2h2.4v1.5h-2.4zM426.3 307.2h2.4v1.5h-2.4zM507.9 307.2h2.4v1.5h-2.4zM524.7 307.2h2.4v1.5h-2.4zM649.4 307.2h2.4v1.5h-2.4zM282.3 308.7h2.4v1.5h-2.4zM486.3 308.7h2.4v1.5h-2.4zM661.4 308.7h2.4v1.5h-2.4zM680.6 308.7h2.4v1.5h-2.4zM241.6 310.2h2.4v1.5h-2.4zM251.1 310.2h2.4v1.5h-2.4zM267.9 310.2h2.4v1.5h-2.4zM661.4 310.2h2.4v1.5h-2.4zM445.5 313.3h2.4v1.5h-2.4zM133.6 445.5h2.4v1.5h-2.4zM570.2 448.5h2.4v1.5h-2.4zM131.2 450.0h2.4v1.5h-2.4zM124.0 451.5h2.4v1.5h-2.4zM215.2 451.5h2.4v1.5h-2.4zM431.1 451.5h2.4v1.5h-2.4zM558.2 453.0h2.4v1.5h-2.4zM582.2 453.0h2.4v1.5h-2.4zM632.6 453.0h2.4v1.5h-2.4zM539.1 454.5h2.4v1.5h-2.4zM553.4 454.5h2.4v1.5h-2.4zM579.8 454.5h2.4v1.5h-2.4zM313.5 456.0h2.4v1.5h-2.4zM330.3 456.0h2.4v1.5h-2.4zM368.7 456.0h2.4v1.5h-2.4zM505.5 456.0h2.4v1.5h-2.4zM212.8 457.5h2.4v1.5h-2.4zM359.1 457.5h2.4v1.5h-2.4zM395.1 457.5h2.4v1.5h-2.4zM654.2 457.5h2.4v1.5h-2.4zM481.5 459.0h2.4v1.5h-2.4zM668.6 459.0h2.4v1.5h-2.4zM291.9 462.0h2.4v1.5h-2.4zM450.3 462.0h2.4v1.5h-2.4zM455.1 462.0h2.4v1.5h-2.4zM663.8 462.0h2.4v1.5h-2.4zM224.8 463.5h2.4v1.5h-2.4zM267.9 465.0h2.4v1.5h-2.4zM450.3 465.0h2.4v1.5h-2.4zM632.6 468.0h2.4v1.5h-2.4zM109.6 544.6h2.4v1.5h-2.4zM565.4 546.1h2.4v1.5h-2.4zM212.8 547.6h2.4v1.5h-2.4zM517.5 547.6h4.8v1.5h-4.8zM594.2 547.6h2.4v1.5h-2.4zM330.3 549.2h2.4v1.5h-2.4zM402.3 549.2h2.4v1.5h-2.4zM481.5 549.2h4.8v1.5h-4.8zM488.7 549.2h2.4v1.5h-2.4zM531.9 549.2h2.4v1.5h-2.4zM541.5 549.2h2.4v1.5h-2.4zM347.1 550.7h2.4v1.5h-2.4zM380.7 550.7h2.4v1.5h-2.4zM500.7 550.7h2.4v1.5h-2.4zM335.1 552.2h2.4v1.5h-2.4zM383.1 552.2h2.4v1.5h-2.4zM390.3 552.2h2.4v1.5h-2.4zM469.5 552.2h2.4v1.5h-2.4zM678.2 553.7h2.4v1.5h-2.4z"/><path fill="#afff50" d="M119.2 128.4h2.4v1.5h-2.4zM565.4 129.9h2.4v1.5h-2.4zM594.2 129.9h2.4v1.5h-2.4zM193.6 132.9h2.4v1.5h-2.4zM198.4 132.9h2.4v1.5h-2.4zM208.0 132.9h2.4v1.5h-2.4zM217.6 132.9h2.4v1.5h-2.4zM241.6 132.9h2.4v1.5h-2.4zM251.1 132.9h2.4v1.5h-2.4zM275.1 132.9h2.4v1.5h-2.4zM294.3 132.9h2.4v1.5h-2.4zM332.7 132.9h2.4v1.5h-2.4zM361.5 132.9h2.4v1.5h-2.4zM385.5 132.9h2.4v1.5h-2.4zM409.5 132.9h2.4v1.5h-2.4zM428.7 132.9h2.4v1.5h-2.4zM433.5 132.9h2.4v1.5h-2.4zM471.9 132.9h2.4v1.5h-2.4zM500.7 132.9h2.4v1.5h-2.4zM505.5 132.9h2.4v1.5h-2.4zM567.8 132.9h2.4v1.5h-2.4zM587.0 132.9h2.4v1.5h-2.4zM591.8 132.9h2.4v1.5h-2.4zM601.4 132.9h2.4v1.5h-2.4zM644.6 132.9h2.4v1.5h-2.4zM659.0 132.9h2.4v1.5h-2.4zM663.8 132.9h2.4v1.5h-2.4zM668.6 132.9h2.4v1.5h-2.4zM678.2 132.9h2.4v1.5h-2.4zM109.6 134.4h2.4v1.5h-2.4zM114.4 134.4h2.4v1.5h-2.4zM239.2 134.4h2.4v1.5h-2.4zM263.1 134.4h2.4v1.5h-2.4zM330.3 134.4h2.4v1.5h-2.4zM363.9 134.4h2.4v1.5h-2.4zM421.5 134.4h2.4v1.5h-2.4zM459.9 134.4h2.4v1.5h-2.4zM527.1 134.4h2.4v1.5h-2.4zM536.7 134.4h2.4v1.5h-2.4zM594.2 134.4h2.4v1.5h-2.4zM608.6 134.4h2.4v1.5h-2.4zM272.7 135.9h2.4v1.5h-2.4zM287.1 135.9h2.4v1.5h-2.4zM301.5 135.9h2.4v1.5h-2.4zM215.2 137.5h2.4v1.5h-2.4zM287.1 137.5h2.4v1.5h-2.4zM368.7 137.5h2.4v1.5h-2.4zM387.9 137.5h2.4v1.5h-2.4zM136.0 298.2h2.4v1.5h-2.4zM570.2 302.7h2.4v1.5h-2.4zM589.4 302.7h2.4v1.5h-2.4zM212.8 305.7h4.8v1.5h-4.8zM375.9 305.7h2.4v1.5h-2.4zM515.1 305.7h2.4v1.5h-2.4zM601.4 305.7h2.4v1.5h-2.4zM623.0 305.7h2.4v1.5h-2.4zM234.4 307.2h2.4v1.5h-2.4zM438.3 307.2h2.4v1.5h-2.4zM447.9 307.2h2.4v1.5h-2.4zM467.1 307.2h2.4v1.5h-2.4zM224.8 308.7h2.4v1.5h-2.4zM270.3 308.7h2.4v1.5h-2.4zM373.5 308.7h2.4v1.5h-2.4zM476.7 308.7h2.4v1.5h-2.4zM637.4 308.7h2.4v1.5h-2.4zM387.9 310.2h2.4v1.5h-2.4zM419.1 310.2h2.4v1.5h-2.4zM431.1 310.2h2.4v1.5h-2.4zM654.2 310.2h2.4v1.5h-2.4zM687.8 311.7h4.8v1.5h-4.8zM196.0 447.0h2.4v1.5h-2.4zM215.2 448.5h2.4v1.5h-2.4zM272.7 451.5h2.4v1.5h-2.4zM157.6 453.0h2.4v1.5h-2.4zM601.4 453.0h2.4v1.5h-2.4zM287.1 454.5h2.4v1.5h-2.4zM469.5 454.5h2.4v1.5h-2.4zM524.7 454.5h2.4v1.5h-2.4zM613.4 454.5h2.4v1.5h-2.4zM255.9 456.0h2.4v1.5h-2.4zM351.9 456.0h2.4v1.5h-2.4zM366.3 457.5h2.4v1.5h-2.4zM383.1 457.5h2.4v1.5h-2.4zM387.9 459.0h2.4v1.5h-2.4zM395.1 459.0h2.4v1.5h-2.4zM426.3 459.0h2.4v1.5h-2.4zM411.9 466.5h2.4v1.5h-2.4zM155.2 543.1h2.4v1.5h-2.4zM174.4 543.1h2.4v1.5h-2.4zM176.8 544.6h2.4v1.5h-2.4zM186.4 544.6h2.4v1.5h-2.4zM529.5 546.1h2.4v1.5h-2.4zM368.7 547.6h2.4v1.5h-2.4zM529.5 547.6h2.4v1.5h-2.4zM567.8 547.6h2.4v1.5h-2.4zM599.0 547.6h4.8v1.5h-4.8zM606.2 547.6h2.4v1.5h-2.4zM613.4 547.6h2.4v1.5h-2.4zM337.5 549.2h2.4v1.5h-2.4zM512.7 549.2h2.4v1.5h-2.4zM519.9 549.2h2.4v1.5h-2.4zM236.8 550.7h2.4v1.5h-2.4zM303.9 550.7h2.4v1.5h-2.4zM392.7 550.7h2.4v1.5h-2.4zM452.7 550.7h2.4v1.5h-2.4zM637.4 550.7h2.4v1.5h-2.4zM275.1 552.2h2.4v1.5h-2.4zM294.3 552.2h2.4v1.5h-2.4zM462.3 552.2h4.8v1.5h-4.8zM253.5 553.7h2.4v1.5h-2.4zM284.7 553.7h2.4v1.5h-2.4zM671.0 553.7h2.4v1.5h-2.4z"/><path fill="#bfff40" d="M128.8 126.9h2.4v1.5h-2.4zM531.9 131.4h2.4v1.5h-2.4zM637.4 131.4h2.4v1.5h-2.4zM124.0 132.9h2.4v1.5h-2.4zM167.2 132.9h2.4v1.5h-2.4zM244.0 132.9h2.4v1.5h-2.4zM272.7 132.9h2.4v1.5h-2.4zM311.1 132.9h2.4v1.5h-2.4zM373.5 132.9h2.4v1.5h-2.4zM383.1 132.9h2.4v1.5h-2.4zM426.3 132.9h2.4v1.5h-2.4zM445.5 132.9h2.4v1.5h-2.4zM459.9 132.9h2.4v1.5h-2.4zM469.5 132.9h2.4v1.5h-2.4zM483.9 132.9h2.4v1.5h-2.4zM493.5 132.9h2.4v1.5h-2.4zM498.3 132.9h2.4v1.5h-2.4zM565.4 132.9h2.4v1.5h-2.4zM627.8 132.9h2.4v1.5h-2.4zM656.6 132.9h2.4v1.5h-2.4zM666.2 132.9h2.4v1.5h-2.4zM685.4 132.9h2.4v1.5h-2.4zM128.8 134.4h2.4v1.5h-2.4zM181.6 134.4h2.4v1.5h-2.4zM234.4 134.4h2.4v1.5h-2.4zM296.7 134.4h2.4v1.5h-2.4zM306.3 134.4h2.4v1.5h-2.4zM315.9 134.4h2.4v1.5h-2.4zM359.1 134.4h2.4v1.5h-2.4zM373.5 134.4h2.4v1.5h-2.4zM411.9 134.4h2.4v1.5h-2.4zM426.3 134.4h2.4v1.5h-2.4zM483.9 134.4h2.4v1.5h-2.4zM546.2 134.4h2.4v1.5h-2.4zM555.8 134.4h2.4v1.5h-2.4zM560.6 134.4h2.4v1.5h-2.4zM589.4 134.4h2.4v1.5h-2.4zM618.2 134.4h2.4v1.5h-2.4zM339.9 135.9h2.4v1.5h-2.4zM656.6 135.9h2.4v1.5h-2.4zM234.4 137.5h2.4v1.5h-2.4zM690.2 137.5h2.4v1.5h-2.4zM378.3 139.0h2.4v1.5h-2.4zM431.1 139.0h2.4v1.5h-2.4zM131.2 298.2h2.4v1.5h-2.4zM138.4 298.2h2.4v1.5h-2.4zM176.8 301.2h2.4v1.5h-2.4zM181.6 304.2h2.4v1.5h-2.4zM191.2 304.2h2.4v1.5h-2.4zM327.9 304.2h2.4v1.5h-2.4zM335.1 304.2h2.4v1.5h-2.4zM368.7 304.2h2.4v1.5h-2.4zM555.8 304.2h2.4v1.5h-2.4zM198.4 305.7h2.4v1.5h-2.4zM294.3 305.7h2.4v1.5h-2.4zM347.1 305.7h2.4v1.5h-2.4zM510.3 305.7h2.4v1.5h-2.4zM531.9 305.7h2.4v1.5h-2.4zM541.5 305.7h2.4v1.5h-2.4zM618.2 305.7h2.4v1.5h-2.4zM270.3 307.2h2.4v1.5h-2.4zM416.7 307.2h2.4v1.5h-2.4zM421.5 307.2h2.4v1.5h-2.4zM445.5 307.2h2.4v1.5h-2.4zM500.7 307.2h2.4v1.5h-2.4zM253.5 310.2h2.4v1.5h-2.4zM450.3 310.2h2.4v1.5h-2.4zM678.2 310.2h2.4v1.5h-2.4zM666.2 311.7h2.4v1.5h-2.4zM112.0 450.0h2.4v1.5h-2.4zM102.4 451.5h2.4v1.5h-2.4zM107.2 451.5h2.4v1.5h-2.4zM567.8 451.5h2.4v1.5h-2.4zM572.6 451.5h2.4v1.5h-2.4zM584.6 453.0h2.4v1.5h-2.4zM325.5 454.5h2.4v1.5h-2.4zM570.2 454.5h2.4v1.5h-2.4zM354.3 456.0h2.4v1.5h-2.4zM519.9 456.0h2.4v1.5h-2.4zM637.4 456.0h2.4v1.5h-2.4zM690.2 456.0h2.4v1.5h-2.4zM279.9 457.5h2.4v1.5h-2.4zM445.5 457.5h2.4v1.5h-2.4zM644.6 457.5h2.4v1.5h-2.4zM277.5 459.0h4.8v1.5h-4.8zM447.9 459.0h2.4v1.5h-2.4zM639.8 459.0h2.4v1.5h-2.4zM644.6 459.0h2.4v1.5h-2.4zM692.6 459.0h2.4v1.5h-2.4zM287.1 460.5h2.4v1.5h-2.4zM447.9 460.5h2.4v1.5h-2.4zM678.2 462.0h2.4v1.5h-2.4zM116.8 543.1h2.4v1.5h-2.4zM140.8 543.1h2.4v1.5h-2.4zM524.7 547.6h2.4v1.5h-2.4zM570.2 547.6h2.4v1.5h-2.4zM517.5 549.2h2.4v1.5h-2.4zM536.7 549.2h2.4v1.5h-2.4zM637.4 549.2h2.4v1.5h-2.4zM234.4 550.7h2.4v1.5h-2.4zM287.1 550.7h2.4v1.5h-2.4zM320.7 550.7h2.4v1.5h-2.4zM397.5 550.7h2.4v1.5h-2.4zM447.9 550.7h2.4v1.5h-2.4zM253.5 552.2h2.4v1.5h-2.4zM452.7 552.2h2.4v1.5h-2.4zM416.7 553.7h2.4v1.5h-2.4zM440.7 553.7h2.4v1.5h-2.4zM666.2 553.7h2.4v1.5h-2.4zM680.6 553.7h2.4v1.5h-2.4z"/><path fill="#cfff30" d="M152.8 126.9h2.4v1.5h-2.4zM632.6 131.4h2.4v1.5h-2.4zM104.8 132.9h2.4v1.5h-2.4zM114.4 132.9h2.4v1.5h-2.4zM162.4 132.9h2.4v1.5h-2.4zM176.8 132.9h2.4v1.5h-2.4zM181.6 132.9h2.4v1.5h-2.4zM191.2 132.9h2.4v1.5h-2.4zM239.2 132.9h2.4v1.5h-2.4zM253.5 132.9h2.4v1.5h-2.4zM291.9 132.9h2.4v1.5h-2.4zM344.7 132.9h2.4v1.5h-2.4zM349.5 132.9h2.4v1.5h-2.4zM363.9 132.9h2.4v1.5h-2.4zM387.9 132.9h2.4v1.5h-2.4zM397.5 132.9h2.4v1.5h-2.4zM402.3 132.9h2.4v1.5h-2.4zM421.5 132.9h2.4v1.5h-2.4zM450.3 132.9h2.4v1.5h-2.4zM455.1 132.9h2.4v1.5h-2.4zM464.7 132.9h2.4v1.5h-2.4zM527.1 132.9h2.4v1.5h-2.4zM541.5 132.9h2.4v1.5h-2.4zM603.8 132.9h2.4v1.5h-2.4zM608.6 132.9h2.4v1.5h-2.4zM623.0 132.9h2.4v1.5h-2.4zM637.4 132.9h2.4v1.5h-2.4zM675.8 132.9h2.4v1.5h-2.4zM680.6 132.9h2.4v1.5h-2.4zM104.8 134.4h2.4v1.5h-2.4zM119.2 134.4h2.4v1.5h-2.4zM124.0 134.4h2.4v1.5h-2.4zM133.6 134.4h2.4v1.5h-2.4zM162.4 134.4h2.4v1.5h-2.4zM167.2 134.4h2.4v1.5h-2.4zM186.4 134.4h2.4v1.5h-2.4zM210.4 134.4h2.4v1.5h-2.4zM277.5 134.4h2.4v1.5h-2.4zM287.1 134.4h2.4v1.5h-2.4zM311.1 134.4h2.4v1.5h-2.4zM335.1 134.4h2.4v1.5h-2.4zM354.3 134.4h2.4v1.5h-2.4zM387.9 134.4h2.4v1.5h-2.4zM392.7 134.4h2.4v1.5h-2.4zM397.5 134.4h2.4v1.5h-2.4zM402.3 134.4h2.4v1.5h-2.4zM440.7 134.4h2.4v1.5h-2.4zM522.3 134.4h2.4v1.5h-2.4zM551.0 134.4h2.4v1.5h-2.4zM570.2 134.4h2.4v1.5h-2.4zM579.8 134.4h2.4v1.5h-2.4zM584.6 134.4h2.4v1.5h-2.4zM603.8 134.4h2.4v1.5h-2.4zM613.4 134.4h2.4v1.5h-2.4zM627.8 134.4h2.4v1.5h-2.4zM632.6 134.4h2.4v1.5h-2.4zM642.2 134.4h2.4v1.5h-2.4zM666.2 134.4h2.4v1.5h-2.4zM685.4 134.4h2.4v1.5h-2.4zM229.6 135.9h2.4v1.5h-2.4zM239.2 135.9h2.4v1.5h-2.4zM253.5 135.9h2.4v1.5h-2.4zM368.7 135.9h2.4v1.5h-2.4zM469.5 135.9h2.4v1.5h-2.4zM435.9 139.0h2.4v1.5h-2.4zM128.8 301.2h2.4v1.5h-2.4zM577.4 302.7h2.4v1.5h-2.4zM342.3 304.2h2.4v1.5h-2.4zM529.5 304.2h2.4v1.5h-2.4zM558.2 304.2h2.4v1.5h-2.4zM359.1 305.7h2.4v1.5h-2.4zM546.2 305.7h2.4v1.5h-2.4zM606.2 305.7h2.4v1.5h-2.4zM611.0 305.7h2.4v1.5h-2.4zM620.6 305.7h2.4v1.5h-2.4zM325.5 307.2h2.4v1.5h-2.4zM462.3 307.2h2.4v1.5h-2.4zM491.1 307.2h2.4v1.5h-2.4zM234.4 308.7h2.4v1.5h-2.4zM387.9 308.7h2.4v1.5h-2.4zM426.3 308.7h2.4v1.5h-2.4zM459.9 308.7h4.8v1.5h-4.8zM623.0 308.7h2.4v1.5h-2.4zM229.6 310.2h2.4v1.5h-2.4zM433.5 310.2h2.4v1.5h-2.4zM469.5 310.2h2.4v1.5h-2.4zM647.0 310.2h2.4v1.5h-2.4zM671.0 313.3h2.4v1.5h-2.4zM109.6 451.5h2.4v1.5h-2.4zM184.0 453.0h2.4v1.5h-2.4zM608.6 453.0h2.4v1.5h-2.4zM323.1 454.5h2.4v1.5h-2.4zM359.1 454.5h2.4v1.5h-2.4zM503.1 454.5h2.4v1.5h-2.4zM551.0 454.5h2.4v1.5h-2.4zM258.3 456.0h2.4v1.5h-2.4zM356.7 456.0h2.4v1.5h-2.4zM440.7 456.0h2.4v1.5h-2.4zM527.1 456.0h2.4v1.5h-2.4zM601.4 456.0h2.4v1.5h-2.4zM318.3 457.5h2.4v1.5h-2.4zM481.5 457.5h4.8v1.5h-4.8zM615.8 457.5h2.4v1.5h-2.4zM241.6 459.0h2.4v1.5h-2.4zM258.3 459.0h2.4v1.5h-2.4zM428.7 459.0h2.4v1.5h-2.4zM452.7 459.0h2.4v1.5h-2.4zM464.7 459.0h4.8v1.5h-4.8zM474.3 459.0h2.4v1.5h-2.4zM671.0 459.0h2.4v1.5h-2.4zM428.7 460.5h2.4v1.5h-2.4zM435.9 460.5h2.4v1.5h-2.4zM692.6 460.5h2.4v1.5h-2.4zM138.4 543.1h2.4v1.5h-2.4zM100.0 544.6h2.4v1.5h-2.4zM191.2 544.6h2.4v1.5h-2.4zM546.2 546.1h2.4v1.5h-2.4zM208.0 547.6h2.4v1.5h-2.4zM498.3 547.6h2.4v1.5h-2.4zM512.7 547.6h2.4v1.5h-2.4zM527.1 547.6h2.4v1.5h-2.4zM546.2 547.6h2.4v1.5h-2.4zM572.6 547.6h2.4v1.5h-2.4zM579.8 547.6h2.4v1.5h-2.4zM227.2 549.2h2.4v1.5h-2.4zM356.7 549.2h2.4v1.5h-2.4zM493.5 549.2h2.4v1.5h-2.4zM591.8 549.2h2.4v1.5h-2.4zM239.2 550.7h2.4v1.5h-2.4zM306.3 550.7h2.4v1.5h-2.4zM339.9 550.7h2.4v1.5h-2.4zM373.5 550.7h2.4v1.5h-2.4zM455.1 550.7h2.4v1.5h-2.4zM464.7 550.7h2.4v1.5h-2.4zM522.3 550.7h2.4v1.5h-2.4zM656.6 552.2h4.8v1.5h-4.8zM675.8 552.2h2.4v1.5h-2.4zM426.3 553.7h2.4v1.5h-2.4z"/><path fill="#dfff20" d="M555.8 131.4h2.4v1.5h-2.4zM109.6 132.9h2.4v1.5h-2.4zM119.2 132.9h2.4v1.5h-2.4zM133.6 132.9h2.4v1.5h-2.4zM152.8 132.9h2.4v1.5h-2.4zM296.7 132.9h2.4v1.5h-2.4zM320.7 132.9h2.4v1.5h-2.4zM325.5 132.9h2.4v1.5h-2.4zM359.1 132.9h2.4v1.5h-2.4zM368.7 132.9h2.4v1.5h-2.4zM407.1 132.9h2.4v1.5h-2.4zM416.7 132.9h2.4v1.5h-2.4zM512.7 132.9h2.4v1.5h-2.4zM522.3 132.9h2.4v1.5h-2.4zM531.9 132.9h2.4v1.5h-2.4zM551.0 132.9h2.4v1.5h-2.4zM632.6 132.9h2.4v1.5h-2.4zM100.0 134.4h2.4v1.5h-2.4zM148.0 134.4h2.4v1.5h-2.4zM176.8 134.4h2.4v1.5h-2.4zM200.8 134.4h2.4v1.5h-2.4zM229.6 134.4h2.4v1.5h-2.4zM258.3 134.4h2.4v1.5h-2.4zM282.3 134.4h2.4v1.5h-2.4zM339.9 134.4h2.4v1.5h-2.4zM368.7 134.4h2.4v1.5h-2.4zM383.1 134.4h2.4v1.5h-2.4zM407.1 134.4h2.4v1.5h-2.4zM416.7 134.4h2.4v1.5h-2.4zM450.3 134.4h2.4v1.5h-2.4zM455.1 134.4h2.4v1.5h-2.4zM469.5 134.4h2.4v1.5h-2.4zM565.4 134.4h2.4v1.5h-2.4zM599.0 134.4h2.4v1.5h-2.4zM623.0 134.4h2.4v1.5h-2.4zM651.8 134.4h2.4v1.5h-2.4zM234.4 135.9h2.4v1.5h-2.4zM258.3 135.9h2.4v1.5h-2.4zM359.1 135.9h2.4v1.5h-2.4zM464.7 135.9h2.4v1.5h-2.4zM493.5 135.9h2.4v1.5h-2.4zM666.2 135.9h2.4v1.5h-2.4zM291.9 137.5h2.4v1.5h-2.4zM651.8 137.5h2.4v1.5h-2.4zM126.4 299.7h2.4v1.5h-2.4zM104.8 301.2h2.4v1.5h-2.4zM162.4 301.2h2.4v1.5h-2.4zM579.8 301.2h2.4v1.5h-2.4zM575.0 302.7h2.4v1.5h-2.4zM320.7 304.2h2.4v1.5h-2.4zM210.4 305.7h2.4v1.5h-2.4zM558.2 305.7h2.4v1.5h-2.4zM599.0 305.7h2.4v1.5h-2.4zM603.8 305.7h2.4v1.5h-2.4zM241.6 307.2h2.4v1.5h-2.4zM303.9 307.2h2.4v1.5h-2.4zM323.1 307.2h2.4v1.5h-2.4zM390.3 307.2h2.4v1.5h-2.4zM481.5 307.2h2.4v1.5h-2.4zM651.8 307.2h2.4v1.5h-2.4zM469.5 308.7h2.4v1.5h-2.4zM447.9 310.2h2.4v1.5h-2.4zM685.4 311.7h2.4v1.5h-2.4zM119.2 451.5h2.4v1.5h-2.4zM169.6 451.5h2.4v1.5h-2.4zM546.2 453.0h2.4v1.5h-2.4zM555.8 454.5h2.4v1.5h-2.4zM208.0 456.0h2.4v1.5h-2.4zM222.4 456.0h2.4v1.5h-2.4zM236.8 456.0h2.4v1.5h-2.4zM342.3 456.0h2.4v1.5h-2.4zM222.4 457.5h2.4v1.5h-2.4zM236.8 457.5h2.4v1.5h-2.4zM459.9 459.0h2.4v1.5h-2.4zM109.6 543.1h2.4v1.5h-2.4zM124.0 543.1h2.4v1.5h-2.4zM193.6 544.6h2.4v1.5h-2.4zM495.9 547.6h2.4v1.5h-2.4zM507.9 547.6h2.4v1.5h-2.4zM531.9 547.6h2.4v1.5h-2.4zM217.6 549.2h2.4v1.5h-2.4zM378.3 549.2h4.8v1.5h-4.8zM244.0 550.7h2.4v1.5h-2.4zM289.5 550.7h2.4v1.5h-2.4zM294.3 550.7h2.4v1.5h-2.4zM332.7 550.7h2.4v1.5h-2.4zM445.5 550.7h2.4v1.5h-2.4zM479.1 550.7h2.4v1.5h-2.4zM289.5 552.2h2.4v1.5h-2.4zM433.5 552.2h2.4v1.5h-2.4zM673.4 552.2h2.4v1.5h-2.4zM680.6 552.2h2.4v1.5h-2.4zM311.1 553.7h2.4v1.5h-2.4zM435.9 553.7h2.4v1.5h-2.4z"/><path fill="#efff10" d="M167.2 129.9h2.4v1.5h-2.4zM570.2 129.9h2.4v1.5h-2.4zM100.0 132.9h2.4v1.5h-2.4zM210.4 132.9h2.4v1.5h-2.4zM234.4 132.9h2.4v1.5h-2.4zM258.3 132.9h2.4v1.5h-2.4zM263.1 132.9h2.4v1.5h-2.4zM267.9 132.9h2.4v1.5h-2.4zM287.1 132.9h2.4v1.5h-2.4zM306.3 132.9h2.4v1.5h-2.4zM315.9 132.9h2.4v1.5h-2.4zM339.9 132.9h2.4v1.5h-2.4zM392.7 132.9h2.4v1.5h-2.4zM488.7 132.9h2.4v1.5h-2.4zM517.5 132.9h2.4v1.5h-2.4zM570.2 132.9h2.4v1.5h-2.4zM594.2 132.9h2.4v1.5h-2.4zM651.8 132.9h2.4v1.5h-2.4zM138.4 134.4h2.4v1.5h-2.4zM143.2 134.4h2.4v1.5h-2.4zM157.6 134.4h2.4v1.5h-2.4zM172.0 134.4h2.4v1.5h-2.4zM196.0 134.4h2.4v1.5h-2.4zM205.6 134.4h2.4v1.5h-2.4zM272.7 134.4h2.4v1.5h-2.4zM301.5 134.4h2.4v1.5h-2.4zM325.5 134.4h2.4v1.5h-2.4zM344.7 134.4h2.4v1.5h-2.4zM349.5 134.4h2.4v1.5h-2.4zM431.1 134.4h2.4v1.5h-2.4zM445.5 134.4h2.4v1.5h-2.4zM479.1 134.4h2.4v1.5h-2.4zM488.7 134.4h2.4v1.5h-2.4zM493.5 134.4h2.4v1.5h-2.4zM498.3 134.4h2.4v1.5h-2.4zM503.1 134.4h2.4v1.5h-2.4zM507.9 134.4h2.4v1.5h-2.4zM512.7 134.4h2.4v1.5h-2.4zM517.5 134.4h2.4v1.5h-2.4zM541.5 134.4h2.4v1.5h-2.4zM575.0 134.4h2.4v1.5h-2.4zM647.0 134.4h2.4v1.5h-2.4zM656.6 134.4h2.4v1.5h-2.4zM661.4 134.4h2.4v1.5h-2.4zM671.0 134.4h2.4v1.5h-2.4zM675.8 134.4h2.4v1.5h-2.4zM680.6 134.4h2.4v1.5h-2.4zM407.1 135.9h2.4v1.5h-2.4zM301.5 137.5h2.4v1.5h-2.4zM344.7 137.5h2.4v1.5h-2.4zM383.1 139.0h2.4v1.5h-2.4zM107.2 299.7h2.4v1.5h-2.4zM133.6 299.7h2.4v1.5h-2.4zM512.7 304.2h2.4v1.5h-2.4zM577.4 304.2h2.4v1.5h-2.4zM503.1 305.7h2.4v1.5h-2.4zM517.5 305.7h2.4v1.5h-2.4zM524.7 305.7h2.4v1.5h-2.4zM196.0 307.2h4.8v1.5h-4.8zM229.6 307.2h2.4v1.5h-2.4zM320.7 307.2h2.4v1.5h-2.4zM387.9 307.2h2.4v1.5h-2.4zM450.3 307.2h2.4v1.5h-2.4zM623.0 307.2h2.4v1.5h-2.4zM397.5 308.7h2.4v1.5h-2.4zM488.7 308.7h2.4v1.5h-2.4zM666.2 310.2h4.8v1.5h-4.8zM359.1 453.0h2.4v1.5h-2.4zM560.6 453.0h2.4v1.5h-2.4zM531.9 454.5h2.4v1.5h-2.4zM594.2 454.5h2.4v1.5h-2.4zM599.0 454.5h2.4v1.5h-2.4zM270.3 456.0h2.4v1.5h-2.4zM392.7 456.0h2.4v1.5h-2.4zM423.9 456.0h2.4v1.5h-2.4zM270.3 457.5h2.4v1.5h-2.4zM474.3 457.5h2.4v1.5h-2.4zM260.7 459.0h2.4v1.5h-2.4zM423.9 459.0h2.4v1.5h-2.4zM618.2 459.0h2.4v1.5h-2.4zM282.3 460.5h2.4v1.5h-2.4zM102.4 543.1h2.4v1.5h-2.4zM179.2 543.1h2.4v1.5h-2.4zM112.0 544.6h2.4v1.5h-2.4zM296.7 549.2h2.4v1.5h-2.4zM606.2 549.2h2.4v1.5h-2.4zM260.7 550.7h2.4v1.5h-2.4zM275.1 550.7h2.4v1.5h-2.4zM299.1 550.7h2.4v1.5h-2.4zM414.3 550.7h2.4v1.5h-2.4zM462.3 550.7h2.4v1.5h-2.4zM277.5 552.2h2.4v1.5h-2.4zM282.3 552.2h2.4v1.5h-2.4zM327.9 552.2h2.4v1.5h-2.4zM666.2 552.2h2.4v1.5h-2.4z"/><path fill="#ffff00" d="M560.6 131.4h2.4v1.5h-2.4zM128.8 132.9h2.4v1.5h-2.4zM143.2 132.9h2.4v1.5h-2.4zM148.0 132.9h2.4v1.5h-2.4zM157.6 132.9h2.4v1.5h-2.4zM172.0 132.9h2.4v1.5h-2.4zM186.4 132.9h2.4v1.5h-2.4zM196.0 132.9h2.4v1.5h-2.4zM205.6 132.9h2.4v1.5h-2.4zM229.6 132.9h2.4v1.5h-2.4zM248.8 132.9h2.4v1.5h-2.4zM277.5 132.9h2.4v1.5h-2.4zM301.5 132.9h2.4v1.5h-2.4zM330.3 132.9h2.4v1.5h-2.4zM335.1 132.9h2.4v1.5h-2.4zM354.3 132.9h2.4v1.5h-2.4zM411.9 132.9h2.4v1.5h-2.4zM431.1 132.9h2.4v1.5h-2.4zM503.1 132.9h2.4v1.5h-2.4zM560.6 132.9h2.4v1.5h-2.4zM584.6 132.9h2.4v1.5h-2.4zM599.0 132.9h2.4v1.5h-2.4zM618.2 132.9h2.4v1.5h-2.4zM642.2 132.9h2.4v1.5h-2.4zM647.0 132.9h2.4v1.5h-2.4zM661.4 132.9h2.4v1.5h-2.4zM671.0 132.9h2.4v1.5h-2.4zM690.2 132.9h2.4v1.5h-2.4zM152.8 134.4h2.4v1.5h-2.4zM191.2 134.4h2.4v1.5h-2.4zM224.8 134.4h2.4v1.5h-2.4zM253.5 134.4h2.4v1.5h-2.4zM531.9 134.4h2.4v1.5h-2.4zM637.4 134.4h2.4v1.5h-2.4zM690.2 134.4h2.4v1.5h-2.4zM244.0 135.9h2.4v1.5h-2.4zM263.1 135.9h2.4v1.5h-2.4zM421.5 135.9h2.4v1.5h-2.4zM244.0 137.5h2.4v1.5h-2.4zM315.9 137.5h2.4v1.5h-2.4zM455.1 137.5h2.4v1.5h-2.4zM119.2 301.2h2.4v1.5h-2.4zM572.6 301.2h2.4v1.5h-2.4zM339.9 304.2h2.4v1.5h-2.4zM347.1 304.2h2.4v1.5h-2.4zM378.3 304.2h2.4v1.5h-2.4zM541.5 304.2h4.8v1.5h-4.8zM584.6 304.2h2.4v1.5h-2.4zM205.6 305.7h4.8v1.5h-4.8zM335.1 305.7h2.4v1.5h-2.4zM215.2 307.2h2.4v1.5h-2.4zM224.8 307.2h2.4v1.5h-2.4zM239.2 308.7h2.4v1.5h-2.4zM471.9 308.7h2.4v1.5h-2.4zM627.8 308.7h2.4v1.5h-2.4zM239.2 310.2h2.4v1.5h-2.4zM287.1 310.2h2.4v1.5h-2.4zM673.4 310.2h2.4v1.5h-2.4zM131.2 448.5h2.4v1.5h-2.4zM119.2 450.0h2.4v1.5h-2.4zM138.4 450.0h2.4v1.5h-2.4zM191.2 453.0h2.4v1.5h-2.4zM196.0 453.0h2.4v1.5h-2.4zM553.4 453.0h2.4v1.5h-2.4zM575.0 453.0h2.4v1.5h-2.4zM579.8 453.0h2.4v1.5h-2.4zM380.7 454.5h2.4v1.5h-2.4zM510.3 454.5h2.4v1.5h-2.4zM522.3 454.5h2.4v1.5h-2.4zM529.5 454.5h2.4v1.5h-2.4zM563.0 454.5h2.4v1.5h-2.4zM366.3 456.0h2.4v1.5h-2.4zM217.6 457.5h2.4v1.5h-2.4zM229.6 457.5h2.4v1.5h-2.4zM344.7 457.5h2.4v1.5h-2.4zM467.1 457.5h2.4v1.5h-2.4zM438.3 459.0h2.4v1.5h-2.4zM488.7 459.0h2.4v1.5h-2.4zM265.5 460.5h4.8v1.5h-4.8zM152.8 541.6h2.4v1.5h-2.4zM181.6 543.1h2.4v1.5h-2.4zM618.2 547.6h2.4v1.5h-2.4zM498.3 549.2h2.4v1.5h-2.4zM599.0 549.2h2.4v1.5h-2.4zM272.7 550.7h2.4v1.5h-2.4zM308.7 550.7h2.4v1.5h-2.4zM299.1 552.2h2.4v1.5h-2.4zM402.3 552.2h2.4v1.5h-2.4zM445.5 552.2h2.4v1.5h-2.4zM258.3 553.7h2.4v1.5h-2.4z"/><path fill="#ffef00" d="M114.4 128.4h2.4v1.5h-2.4zM162.4 128.4h2.4v1.5h-2.4zM196.0 131.4h2.4v1.5h-2.4zM613.4 131.4h2.4v1.5h-2.4zM138.4 132.9h2.4v1.5h-2.4zM220.0 132.9h2.4v1.5h-2.4zM224.8 132.9h2.4v1.5h-2.4zM282.3 132.9h2.4v1.5h-2.4zM378.3 132.9h2.4v1.5h-2.4zM435.9 132.9h2.4v1.5h-2.4zM440.7 132.9h2.4v1.5h-2.4zM474.3 132.9h2.4v1.5h-2.4zM479.1 132.9h2.4v1.5h-2.4zM536.7 132.9h2.4v1.5h-2.4zM546.2 132.9h2.4v1.5h-2.4zM555.8 132.9h2.4v1.5h-2.4zM575.0 132.9h2.4v1.5h-2.4zM579.8 132.9h2.4v1.5h-2.4zM589.4 132.9h2.4v1.5h-2.4zM215.2 134.4h2.4v1.5h-2.4zM267.9 134.4h2.4v1.5h-2.4zM378.3 134.4h2.4v1.5h-2.4zM267.9 135.9h2.4v1.5h-2.4zM296.7 135.9h2.4v1.5h-2.4zM330.3 137.5h2.4v1.5h-2.4zM666.2 137.5h2.4v1.5h-2.4zM459.9 139.0h2.4v1.5h-2.4zM661.4 139.0h2.4v1.5h-2.4zM685.4 140.5h2.4v1.5h-2.4zM114.4 301.2h2.4v1.5h-2.4zM342.3 305.7h2.4v1.5h-2.4zM507.9 305.7h2.4v1.5h-2.4zM594.2 305.7h2.4v1.5h-2.4zM399.9 307.2h2.4v1.5h-2.4zM627.8 307.2h2.4v1.5h-2.4zM248.8 308.7h2.4v1.5h-2.4zM272.7 308.7h2.4v1.5h-2.4zM411.9 308.7h2.4v1.5h-2.4zM450.3 308.7h4.8v1.5h-4.8zM464.7 310.2h4.8v1.5h-4.8zM172.0 450.0h2.4v1.5h-2.4zM335.1 453.0h2.4v1.5h-2.4zM220.0 454.5h2.4v1.5h-2.4zM335.1 454.5h2.4v1.5h-2.4zM198.4 456.0h2.4v1.5h-2.4zM308.7 456.0h2.4v1.5h-2.4zM284.7 457.5h2.4v1.5h-2.4zM234.4 459.0h2.4v1.5h-2.4zM251.1 459.0h2.4v1.5h-2.4zM483.9 459.0h2.4v1.5h-2.4zM498.3 459.0h2.4v1.5h-2.4zM651.8 459.0h2.4v1.5h-2.4zM656.6 462.0h2.4v1.5h-2.4zM692.6 462.0h2.4v1.5h-2.4zM136.0 541.6h2.4v1.5h-2.4zM143.2 541.6h2.4v1.5h-2.4zM162.4 541.6h2.4v1.5h-2.4zM205.6 547.6h2.4v1.5h-2.4zM215.2 547.6h2.4v1.5h-2.4zM315.9 549.2h2.4v1.5h-2.4zM359.1 549.2h2.4v1.5h-2.4zM371.1 549.2h2.4v1.5h-2.4zM505.5 549.2h2.4v1.5h-2.4zM627.8 549.2h4.8v1.5h-4.8zM248.8 550.7h2.4v1.5h-2.4zM258.3 550.7h2.4v1.5h-2.4zM277.5 550.7h2.4v1.5h-2.4zM335.1 550.7h2.4v1.5h-2.4zM356.7 550.7h2.4v1.5h-2.4zM481.5 550.7h2.4v1.5h-2.4zM248.8 552.2h2.4v1.5h-2.4zM291.9 552.2h2.4v1.5h-2.4zM459.9 552.2h2.4v1.5h-2.4z"/><path fill="#ffdf00" d="M167.2 128.4h2.4v1.5h-2.4zM589.4 129.9h2.4v1.5h-2.4zM200.8 132.9h2.4v1.5h-2.4zM306.3 135.9h2.4v1.5h-2.4zM320.7 135.9h2.4v1.5h-2.4zM354.3 135.9h2.4v1.5h-2.4zM479.1 135.9h2.4v1.5h-2.4zM359.1 137.5h2.4v1.5h-2.4zM407.1 137.5h2.4v1.5h-2.4zM464.7 137.5h2.4v1.5h-2.4zM157.6 299.7h2.4v1.5h-2.4zM344.7 304.2h2.4v1.5h-2.4zM373.5 304.2h2.4v1.5h-2.4zM303.9 305.7h2.4v1.5h-2.4zM311.1 305.7h2.4v1.5h-2.4zM399.9 305.7h2.4v1.5h-2.4zM522.3 305.7h2.4v1.5h-2.4zM613.4 305.7h2.4v1.5h-2.4zM205.6 307.2h2.4v1.5h-2.4zM210.4 307.2h2.4v1.5h-2.4zM373.5 307.2h2.4v1.5h-2.4zM503.1 307.2h2.4v1.5h-2.4zM613.4 307.2h2.4v1.5h-2.4zM399.9 308.7h2.4v1.5h-2.4zM419.1 308.7h2.4v1.5h-2.4zM447.9 308.7h2.4v1.5h-2.4zM481.5 308.7h2.4v1.5h-2.4zM282.3 310.2h2.4v1.5h-2.4zM690.2 310.2h2.4v1.5h-2.4zM136.0 448.5h2.4v1.5h-2.4zM164.8 448.5h2.4v1.5h-2.4zM104.8 450.0h2.4v1.5h-2.4zM555.8 453.0h2.4v1.5h-2.4zM296.7 454.5h2.4v1.5h-2.4zM301.5 454.5h2.4v1.5h-2.4zM332.7 454.5h2.4v1.5h-2.4zM241.6 456.0h2.4v1.5h-2.4zM306.3 456.0h2.4v1.5h-2.4zM380.7 456.0h2.4v1.5h-2.4zM503.1 456.0h2.4v1.5h-2.4zM253.5 457.5h2.4v1.5h-2.4zM488.7 457.5h2.4v1.5h-2.4zM493.5 457.5h2.4v1.5h-2.4zM421.5 459.0h2.4v1.5h-2.4zM637.4 459.0h2.4v1.5h-2.4zM291.9 460.5h2.4v1.5h-2.4zM654.2 460.5h2.4v1.5h-2.4zM505.5 547.6h2.4v1.5h-2.4zM608.6 547.6h2.4v1.5h-2.4zM479.1 549.2h2.4v1.5h-2.4zM253.5 550.7h2.4v1.5h-2.4zM270.3 550.7h2.4v1.5h-2.4zM315.9 550.7h2.4v1.5h-2.4zM337.5 550.7h2.4v1.5h-2.4zM632.6 550.7h2.4v1.5h-2.4zM651.8 550.7h2.4v1.5h-2.4zM397.5 552.2h2.4v1.5h-2.4zM426.3 552.2h2.4v1.5h-2.4zM685.4 552.2h2.4v1.5h-2.4zM690.2 553.7h2.4v1.5h-2.4z"/><path fill="#ffcf00" d="M196.0 129.9h2.4v1.5h-2.4zM579.8 131.4h2.4v1.5h-2.4zM215.2 132.9h2.4v1.5h-2.4zM464.7 134.4h2.4v1.5h-2.4zM311.1 135.9h2.4v1.5h-2.4zM315.9 135.9h2.4v1.5h-2.4zM651.8 135.9h2.4v1.5h-2.4zM248.8 137.5h2.4v1.5h-2.4zM306.3 137.5h2.4v1.5h-2.4zM685.4 139.0h2.4v1.5h-2.4zM128.8 298.2h2.4v1.5h-2.4zM584.6 301.2h2.4v1.5h-2.4zM181.6 302.7h2.4v1.5h-2.4zM603.8 304.2h2.4v1.5h-2.4zM200.8 305.7h2.4v1.5h-2.4zM354.3 307.2h2.4v1.5h-2.4zM455.1 308.7h2.4v1.5h-2.4zM675.8 308.7h2.4v1.5h-2.4zM411.9 310.2h2.4v1.5h-2.4zM140.8 448.5h2.4v1.5h-2.4zM174.4 450.0h2.4v1.5h-2.4zM198.4 454.5h2.4v1.5h-2.4zM608.6 454.5h2.4v1.5h-2.4zM272.7 456.0h2.4v1.5h-2.4zM323.1 456.0h2.4v1.5h-2.4zM397.5 456.0h2.4v1.5h-2.4zM431.1 456.0h2.4v1.5h-2.4zM522.3 456.0h2.4v1.5h-2.4zM529.5 456.0h2.4v1.5h-2.4zM613.4 456.0h2.4v1.5h-2.4zM625.4 456.0h2.4v1.5h-2.4zM267.9 457.5h2.4v1.5h-2.4zM363.9 457.5h2.4v1.5h-2.4zM392.7 457.5h2.4v1.5h-2.4zM402.3 457.5h2.4v1.5h-2.4zM409.5 457.5h2.4v1.5h-2.4zM623.0 457.5h2.4v1.5h-2.4zM407.1 459.0h2.4v1.5h-2.4zM435.9 459.0h2.4v1.5h-2.4zM678.2 459.0h2.4v1.5h-2.4zM270.3 460.5h2.4v1.5h-2.4zM671.0 460.5h2.4v1.5h-2.4zM148.0 541.6h2.4v1.5h-2.4zM100.0 543.1h2.4v1.5h-2.4zM112.0 543.1h2.4v1.5h-2.4zM172.0 543.1h2.4v1.5h-2.4zM181.6 544.6h2.4v1.5h-2.4zM522.3 547.6h2.4v1.5h-2.4zM363.9 549.2h2.4v1.5h-2.4zM527.1 549.2h2.4v1.5h-2.4zM613.4 549.2h2.4v1.5h-2.4zM251.1 550.7h2.4v1.5h-2.4zM390.3 550.7h2.4v1.5h-2.4zM431.1 550.7h2.4v1.5h-2.4zM459.9 550.7h2.4v1.5h-2.4zM488.7 550.7h2.4v1.5h-2.4zM651.8 552.2h2.4v1.5h-2.4zM263.1 553.7h2.4v1.5h-2.4zM687.8 553.7h2.4v1.5h-2.4z"/><path fill="#ffbf00" d="M220.0 134.4h2.4v1.5h-2.4zM248.8 134.4h2.4v1.5h-2.4zM435.9 134.4h2.4v1.5h-2.4zM277.5 135.9h2.4v1.5h-2.4zM483.9 135.9h2.4v1.5h-2.4zM224.8 137.5h2.4v1.5h-2.4zM311.1 137.5h2.4v1.5h-2.4zM587.0 302.7h2.4v1.5h-2.4zM354.3 304.2h2.4v1.5h-2.4zM344.7 305.7h2.4v1.5h-2.4zM512.7 305.7h2.4v1.5h-2.4zM411.9 307.2h2.4v1.5h-2.4zM227.2 308.7h2.4v1.5h-2.4zM291.9 308.7h2.4v1.5h-2.4zM296.7 308.7h2.4v1.5h-2.4zM378.3 308.7h2.4v1.5h-2.4zM479.1 310.2h2.4v1.5h-2.4zM155.2 448.5h2.4v1.5h-2.4zM104.8 451.5h2.4v1.5h-2.4zM181.6 453.0h2.4v1.5h-2.4zM186.4 454.5h2.4v1.5h-2.4zM200.8 454.5h2.4v1.5h-2.4zM349.5 454.5h2.4v1.5h-2.4zM354.3 454.5h2.4v1.5h-2.4zM543.9 454.5h2.4v1.5h-2.4zM191.2 456.0h2.4v1.5h-2.4zM200.8 456.0h2.4v1.5h-2.4zM337.5 456.0h2.4v1.5h-2.4zM378.3 456.0h2.4v1.5h-2.4zM407.1 456.0h2.4v1.5h-2.4zM536.7 456.0h2.4v1.5h-2.4zM608.6 456.0h2.4v1.5h-2.4zM220.0 457.5h2.4v1.5h-2.4zM258.3 457.5h2.4v1.5h-2.4zM306.3 457.5h2.4v1.5h-2.4zM407.1 457.5h2.4v1.5h-2.4zM462.3 457.5h2.4v1.5h-2.4zM220.0 459.0h2.4v1.5h-2.4zM431.1 460.5h2.4v1.5h-2.4zM685.4 460.5h2.4v1.5h-2.4zM128.8 543.1h2.4v1.5h-2.4zM349.5 549.2h2.4v1.5h-2.4zM368.7 549.2h2.4v1.5h-2.4zM507.9 549.2h2.4v1.5h-2.4zM351.9 550.7h2.4v1.5h-2.4zM416.7 550.7h2.4v1.5h-2.4zM431.1 552.2h2.4v1.5h-2.4z"/><path fill="#ffaf00" d="M114.4 126.9h2.4v1.5h-2.4zM124.0 128.4h2.4v1.5h-2.4zM191.2 131.4h2.4v1.5h-2.4zM220.0 135.9h2.4v1.5h-2.4zM459.9 135.9h2.4v1.5h-2.4zM435.9 137.5h2.4v1.5h-2.4zM330.3 139.0h2.4v1.5h-2.4zM162.4 298.2h2.4v1.5h-2.4zM565.4 302.7h2.4v1.5h-2.4zM196.0 305.7h2.4v1.5h-2.4zM373.5 305.7h2.4v1.5h-2.4zM387.9 305.7h2.4v1.5h-2.4zM402.3 305.7h2.4v1.5h-2.4zM493.5 305.7h2.4v1.5h-2.4zM306.3 307.2h2.4v1.5h-2.4zM229.6 308.7h2.4v1.5h-2.4zM433.5 308.7h2.4v1.5h-2.4zM649.4 310.2h4.8v1.5h-4.8zM181.6 451.5h2.4v1.5h-2.4zM536.7 453.0h2.4v1.5h-2.4zM567.8 453.0h2.4v1.5h-2.4zM224.8 454.5h2.4v1.5h-2.4zM546.2 454.5h2.4v1.5h-2.4zM591.8 454.5h2.4v1.5h-2.4zM224.8 456.0h2.4v1.5h-2.4zM488.7 456.0h2.4v1.5h-2.4zM493.5 456.0h2.4v1.5h-2.4zM498.3 456.0h2.4v1.5h-2.4zM524.7 456.0h2.4v1.5h-2.4zM335.1 457.5h2.4v1.5h-2.4zM438.3 457.5h2.4v1.5h-2.4zM267.9 459.0h2.4v1.5h-2.4zM663.8 459.0h2.4v1.5h-2.4zM680.6 459.0h2.4v1.5h-2.4zM690.2 459.0h2.4v1.5h-2.4zM678.2 460.5h2.4v1.5h-2.4zM690.2 462.0h2.4v1.5h-2.4zM354.3 549.2h2.4v1.5h-2.4zM284.7 550.7h2.4v1.5h-2.4zM330.3 550.7h2.4v1.5h-2.4zM361.5 550.7h2.4v1.5h-2.4zM378.3 550.7h2.4v1.5h-2.4zM383.1 550.7h2.4v1.5h-2.4zM627.8 550.7h2.4v1.5h-2.4zM258.3 552.2h2.4v1.5h-2.4zM272.7 552.2h2.4v1.5h-2.4zM279.9 552.2h2.4v1.5h-2.4zM330.3 552.2h2.4v1.5h-2.4zM244.0 553.7h2.4v1.5h-2.4z"/><path fill="#ff9f00" d="M148.0 126.9h2.4v1.5h-2.4zM244.0 134.4h2.4v1.5h-2.4zM320.7 134.4h2.4v1.5h-2.4zM215.2 135.9h2.4v1.5h-2.4zM383.1 135.9h2.4v1.5h-2.4zM133.6 298.2h2.4v1.5h-2.4zM167.2 301.2h2.4v1.5h-2.4zM577.4 301.2h2.4v1.5h-2.4zM584.6 302.7h2.4v1.5h-2.4zM196.0 304.2h2.4v1.5h-2.4zM378.3 305.7h2.4v1.5h-2.4zM294.3 307.2h2.4v1.5h-2.4zM632.6 308.7h2.4v1.5h-2.4zM649.4 308.7h2.4v1.5h-2.4zM263.1 311.7h2.4v1.5h-2.4zM150.4 448.5h2.4v1.5h-2.4zM551.0 453.0h2.4v1.5h-2.4zM589.4 453.0h2.4v1.5h-2.4zM363.9 454.5h2.4v1.5h-2.4zM344.7 456.0h2.4v1.5h-2.4zM632.6 456.0h2.4v1.5h-2.4zM373.5 457.5h2.4v1.5h-2.4zM431.1 457.5h2.4v1.5h-2.4zM411.9 459.0h2.4v1.5h-2.4zM647.0 459.0h2.4v1.5h-2.4zM563.0 546.1h2.4v1.5h-2.4zM515.1 547.6h2.4v1.5h-2.4zM584.6 547.6h2.4v1.5h-2.4zM220.0 549.2h2.4v1.5h-2.4zM361.5 549.2h2.4v1.5h-2.4zM291.9 550.7h2.4v1.5h-2.4zM325.5 550.7h2.4v1.5h-2.4zM296.7 552.2h2.4v1.5h-2.4zM416.7 552.2h2.4v1.5h-2.4zM673.4 553.7h2.4v1.5h-2.4z"/><path fill="#ff8f00" d="M570.2 131.4h2.4v1.5h-2.4zM589.4 131.4h2.4v1.5h-2.4zM224.8 135.9h2.4v1.5h-2.4zM248.8 135.9h2.4v1.5h-2.4zM383.1 137.5h2.4v1.5h-2.4zM474.3 137.5h2.4v1.5h-2.4zM330.3 304.2h2.4v1.5h-2.4zM306.3 305.7h2.4v1.5h-2.4zM325.5 305.7h2.4v1.5h-2.4zM306.3 308.7h2.4v1.5h-2.4zM311.1 308.7h2.4v1.5h-2.4zM402.3 308.7h2.4v1.5h-2.4zM407.1 308.7h2.4v1.5h-2.4zM479.1 308.7h2.4v1.5h-2.4zM445.5 310.2h2.4v1.5h-2.4zM148.0 448.5h2.4v1.5h-2.4zM143.2 450.0h2.4v1.5h-2.4zM536.7 454.5h2.4v1.5h-2.4zM215.2 456.0h2.4v1.5h-2.4zM339.9 456.0h2.4v1.5h-2.4zM373.5 456.0h2.4v1.5h-2.4zM263.1 457.5h2.4v1.5h-2.4zM272.7 457.5h2.4v1.5h-2.4zM459.9 457.5h2.4v1.5h-2.4zM124.0 541.6h2.4v1.5h-2.4zM138.4 541.6h2.4v1.5h-2.4zM157.6 541.6h2.4v1.5h-2.4zM167.2 541.6h2.4v1.5h-2.4zM119.2 543.1h2.4v1.5h-2.4zM176.8 543.1h2.4v1.5h-2.4zM296.7 550.7h2.4v1.5h-2.4z"/><path fill="#ff8000" d="M599.0 131.4h2.4v1.5h-2.4zM507.9 132.9h2.4v1.5h-2.4zM330.3 135.9h2.4v1.5h-2.4zM378.3 135.9h2.4v1.5h-2.4zM474.3 135.9h2.4v1.5h-2.4zM608.6 304.2h2.4v1.5h-2.4zM608.6 305.7h2.4v1.5h-2.4zM493.5 307.2h2.4v1.5h-2.4zM445.5 308.7h2.4v1.5h-2.4zM467.1 308.7h2.4v1.5h-2.4zM440.7 310.2h2.4v1.5h-2.4zM474.3 310.2h2.4v1.5h-2.4zM671.0 310.2h2.4v1.5h-2.4zM100.0 450.0h2.4v1.5h-2.4zM100.0 451.5h2.4v1.5h-2.4zM337.5 453.0h2.4v1.5h-2.4zM296.7 456.0h2.4v1.5h-2.4zM618.2 456.0h2.4v1.5h-2.4zM241.6 457.5h2.4v1.5h-2.4zM498.3 457.5h2.4v1.5h-2.4zM253.5 459.0h2.4v1.5h-2.4zM440.7 459.0h2.4v1.5h-2.4zM656.6 459.0h2.4v1.5h-2.4zM690.2 460.5h2.4v1.5h-2.4zM565.4 547.6h2.4v1.5h-2.4zM591.8 547.6h2.4v1.5h-2.4zM555.8 549.2h2.4v1.5h-2.4zM435.9 550.7h2.4v1.5h-2.4zM270.3 552.2h2.4v1.5h-2.4zM411.9 552.2h2.4v1.5h-2.4z"/><path fill="#ff7000" d="M378.3 137.5h2.4v1.5h-2.4zM690.2 139.0h2.4v1.5h-2.4zM119.2 298.2h2.4v1.5h-2.4zM104.8 299.7h2.4v1.5h-2.4zM114.4 299.7h2.4v1.5h-2.4zM176.8 302.7h2.4v1.5h-2.4zM320.7 305.7h2.4v1.5h-2.4zM397.5 307.2h2.4v1.5h-2.4zM527.1 307.2h2.4v1.5h-2.4zM263.1 308.7h2.4v1.5h-2.4zM291.9 310.2h2.4v1.5h-2.4zM685.4 310.2h2.4v1.5h-2.4zM344.7 453.0h2.4v1.5h-2.4zM591.8 453.0h2.4v1.5h-2.4zM527.1 454.5h2.4v1.5h-2.4zM196.0 456.0h2.4v1.5h-2.4zM205.6 456.0h2.4v1.5h-2.4zM311.1 456.0h2.4v1.5h-2.4zM349.5 456.0h2.4v1.5h-2.4zM421.5 457.5h2.4v1.5h-2.4zM625.4 457.5h2.4v1.5h-2.4zM239.2 459.0h2.4v1.5h-2.4zM131.2 543.1h2.4v1.5h-2.4zM536.7 546.1h2.4v1.5h-2.4zM589.4 547.6h2.4v1.5h-2.4zM522.3 549.2h2.4v1.5h-2.4zM647.0 550.7h2.4v1.5h-2.4z"/><path fill="#ff6000" d="M613.4 132.9h2.4v1.5h-2.4zM291.9 134.4h2.4v1.5h-2.4zM474.3 134.4h2.4v1.5h-2.4zM459.9 137.5h2.4v1.5h-2.4zM152.8 298.2h2.4v1.5h-2.4zM579.8 302.7h2.4v1.5h-2.4zM354.3 305.7h2.4v1.5h-2.4zM675.8 310.2h2.4v1.5h-2.4zM128.8 448.5h2.4v1.5h-2.4zM143.2 448.5h2.4v1.5h-2.4zM174.4 451.5h2.4v1.5h-2.4zM344.7 454.5h2.4v1.5h-2.4zM220.0 456.0h2.4v1.5h-2.4zM335.1 456.0h2.4v1.5h-2.4zM363.9 456.0h2.4v1.5h-2.4zM402.3 456.0h2.4v1.5h-2.4zM455.1 456.0h2.4v1.5h-2.4zM282.3 457.5h2.4v1.5h-2.4zM440.7 457.5h2.4v1.5h-2.4zM265.5 459.0h2.4v1.5h-2.4zM632.6 459.0h2.4v1.5h-2.4zM666.2 460.5h2.4v1.5h-2.4zM555.8 547.6h2.4v1.5h-2.4zM229.6 549.2h2.4v1.5h-2.4zM491.1 549.2h2.4v1.5h-2.4zM565.4 549.2h2.4v1.5h-2.4zM349.5 550.7h2.4v1.5h-2.4zM387.9 550.7h2.4v1.5h-2.4zM411.9 550.7h2.4v1.5h-2.4zM474.3 550.7h2.4v1.5h-2.4z"/><path fill="#ff5000" d="M291.9 135.9h2.4v1.5h-2.4zM431.1 135.9h2.4v1.5h-2.4zM632.6 307.2h2.4v1.5h-2.4zM671.0 308.7h2.4v1.5h-2.4zM570.2 453.0h2.4v1.5h-2.4zM339.9 454.5h2.4v1.5h-2.4zM387.9 454.5h2.4v1.5h-2.4zM512.7 454.5h2.4v1.5h-2.4zM296.7 457.5h2.4v1.5h-2.4zM301.5 457.5h2.4v1.5h-2.4zM349.5 457.5h2.4v1.5h-2.4zM450.3 457.5h2.4v1.5h-2.4zM479.1 457.5h2.4v1.5h-2.4zM270.3 459.0h2.4v1.5h-2.4zM287.1 459.0h2.4v1.5h-2.4zM301.5 459.0h2.4v1.5h-2.4zM210.4 547.6h2.4v1.5h-2.4zM263.1 550.7h2.4v1.5h-2.4zM402.3 550.7h2.4v1.5h-2.4z"/><path fill="#ff4000" d="M128.8 299.7h2.4v1.5h-2.4zM330.3 305.7h2.4v1.5h-2.4zM311.1 307.2h2.4v1.5h-2.4zM176.8 451.5h2.4v1.5h-2.4zM205.6 454.5h2.4v1.5h-2.4zM215.2 454.5h2.4v1.5h-2.4zM234.4 456.0h2.4v1.5h-2.4zM301.5 456.0h2.4v1.5h-2.4zM224.8 457.5h2.4v1.5h-2.4zM282.3 459.0h2.4v1.5h-2.4zM469.5 459.0h2.4v1.5h-2.4zM654.2 459.0h2.4v1.5h-2.4zM119.2 541.6h2.4v1.5h-2.4zM162.4 543.1h2.4v1.5h-2.4zM327.9 550.7h2.4v1.5h-2.4z"/><path fill="#ff3000" d="M435.9 135.9h2.4v1.5h-2.4zM133.6 448.5h2.4v1.5h-2.4zM128.8 450.0h2.4v1.5h-2.4zM291.9 456.0h2.4v1.5h-2.4zM469.5 456.0h2.4v1.5h-2.4zM623.0 456.0h2.4v1.5h-2.4zM618.2 457.5h2.4v1.5h-2.4zM680.6 460.5h2.4v1.5h-2.4z"/><path fill="#ff2000" d="M440.7 308.7h2.4v1.5h-2.4zM570.2 451.5h2.4v1.5h-2.4zM563.0 453.0h2.4v1.5h-2.4zM411.9 456.0h2.4v1.5h-2.4zM215.2 457.5h2.4v1.5h-2.4zM287.1 457.5h2.4v1.5h-2.4zM632.6 457.5h2.4v1.5h-2.4zM642.2 457.5h2.4v1.5h-2.4zM656.6 460.5h2.4v1.5h-2.4zM114.4 543.1h2.4v1.5h-2.4zM474.3 549.2h2.4v1.5h-2.4zM311.1 552.2h2.4v1.5h-2.4z"/><path fill="#ff1000" d="M119.2 299.7h2.4v1.5h-2.4zM402.3 307.2h2.4v1.5h-2.4zM536.7 547.6h2.4v1.5h-2.4zM311.1 550.7h2.4v1.5h-2.4zM354.3 550.7h2.4v1.5h-2.4z"/><path fill="#ff0000" d="M191.2 454.5h2.4v1.5h-2.4zM244.0 552.2h2.4v1.5h-2.4z"/><path fill="#ef0000" d="M152.8 448.5h2.4v1.5h-2.4zM167.2 450.0h2.4v1.5h-2.4zM512.7 456.0h2.4v1.5h-2.4zM234.4 457.5h2.4v1.5h-2.4zM239.2 457.5h2.4v1.5h-2.4zM244.0 457.5h2.4v1.5h-2.4zM291.9 457.5h2.4v1.5h-2.4zM632.6 549.2h2.4v1.5h-2.4z"/><path fill="#df0000" d="M311.1 457.5h2.4v1.5h-2.4zM419.1 457.5h2.4v1.5h-2.4zM450.3 459.0h2.4v1.5h-2.4zM680.6 462.0h2.4v1.5h-2.4z"/><path fill="#cf0000" d="M387.9 456.0h2.4v1.5h-2.4z"/><path fill="#bf0000" d="M114.4 450.0h2.4v1.5h-2.4zM455.1 459.0h2.4v1.5h-2.4z"/><path fill="#af0000" d="M455.1 457.5h2.4v1.5h-2.4zM431.1 459.0h2.4v1.5h-2.4zM104.8 543.1h2.4v1.5h-2.4z"/><path fill="#800000" d="M186.4 453.0h2.4v1.5h-2.4z"/></g></g>
<rect x="100.5" y="49.3" width="594" height="527.9000000000001" fill="none" stroke="#000068" stroke-width="1" stroke-opacity="0.8"/>
<g shape-rendering="crispEdges"><rect x="728" y="569.43" width="32.5" height="8.57" fill="#00008f"/><rect x="728" y="561.16" width="32.5" height="8.57" fill="#00009f"/><rect x="728" y="552.88" width="32.5" height="8.57" fill="#0000af"/><rect x="728" y="544.61" width="32.5" height="8.57" fill="#0000bf"/><rect x="728" y="536.34" width="32.5" height="8.57" fill="#0000cf"/><rect x="728" y="528.07" width="32.5" height="8.57" fill="#0000df"/><rect x="728" y="519.80" width="32.5" height="8.57" fill="#0000ef"/><rect x="728" y="511.53" width="32.5" height="8.57" fill="#0000ff"/><rect x="728" y="503.25" width="32.5" height="8.57" fill="#0010ff"/><rect x="728" y="494.98" width="32.5" height="8.57" fill="#0020ff"/><rect x="728" y="486.71" width="32.5" height="8.57" fill="#0030ff"/><rect x="728" y="478.44" width="32.5" height="8.57" fill="#0040ff"/><rect x="728" y="470.17" width="32.5" height="8.57" fill="#0050ff"/><rect x="728" y="461.89" width="32.5" height="8.57" fill="#0060ff"/><rect x="728" y="453.62" width="32.5" height="8.57" fill="#0070ff"/><rect x="728" y="445.35" width="32.5" height="8.57" fill="#0080ff"/><rect x="728" y="437.08" width="32.5" height="8.57" fill="#008fff"/><rect x="728" y="428.81" width="32.5" height="8.57" fill="#009fff"/><rect x="728" y="420.53" width="32.5" height="8.57" fill="#00afff"/><rect x="728" y="412.26" width="32.5" height="8.57" fill="#00bfff"/><rect x="728" y="403.99" width="32.5" height="8.57" fill="#00cfff"/><rect x="728" y="395.72" width="32.5" height="8.57" fill="#00dfff"/><rect x="728" y="387.45" width="32.5" height="8.57" fill="#00efff"/><rect x="728" y="379.18" width="32.5" height="8.57" fill="#00ffff"/><rect x="728" y="370.90" width="32.5" height="8.57" fill="#10ffef"/><rect x="728" y="362.63" width="32.5" height="8.57" fill="#20ffdf"/><rect x="728" y="354.36" width="32.5" height="8.57" fill="#30ffcf"/><rect x="728" y="346.09" width="32.5" height="8.57" fill="#40ffbf"/><rect x="728" y="337.82" width="32.5" height="8.57" fill="#50ffaf"/><rect x="728" y="329.54" width="32.5" height="8.57" fill="#60ff9f"/><rect x="728" y="321.27" width="32.5" height="8.57" fill="#70ff8f"/><rect x="728" y="313.00" width="32.5" height="8.57" fill="#80ff80"/><rect x="728" y="304.73" width="32.5" height="8.57" fill="#8fff70"/><rect x="728" y="296.46" width="32.5" height="8.57" fill="#9fff60"/><rect x="728" y="288.18" width="32.5" height="8.57" fill="#afff50"/><rect x="728" y="279.91" width="32.5" height="8.57" fill="#bfff40"/><rect x="728" y="271.64" width="32.5" height="8.57" fill="#cfff30"/><rect x="728" y="263.37" width="32.5" height="8.57" fill="#dfff20"/><rect x="728" y="255.10" width="32.5" height="8.57" fill="#efff10"/><rect x="728" y="246.83" width="32.5" height="8.57" fill="#ffff00"/><rect x="728" y="238.55" width="32.5" height="8.57" fill="#ffef00"/><rect x="728" y="230.28" width="32.5" height="8.57" fill="#ffdf00"/><rect x="728" y="222.01" width="32.5" height="8.57" fill="#ffcf00"/><rect x="728" y="213.74" width="32.5" height="8.57" fill="#ffbf00"/><rect x="728" y="205.47" width="32.5" height="8.57" fill="#ffaf00"/><rect x="728" y="197.19" width="32.5" height="8.57" fill="#ff9f00"/><rect x="728" y="188.92" width="32.5" height="8.57" fill="#ff8f00"/><rect x="728" y="180.65" width="32.5" height="8.57" fill="#ff8000"/><rect x="728" y="172.38" width="32.5" height="8.57" fill="#ff7000"/><rect x="728" y="164.11" width="32.5" height="8.57" fill="#ff6000"/><rect x="728" y="155.83" width="32.5" height="8.57" fill="#ff5000"/><rect x="728" y="147.56" width="32.5" height="8.57" fill="#ff4000"/><rect x="728" y="139.29" width="32.5" height="8.57" fill="#ff3000"/><rect x="728" y="131.02" width="32.5" height="8.57" fill="#ff2000"/><rect x="728" y="122.75" width="32.5" height="8.57" fill="#ff1000"/><rect x="728" y="114.48" width="32.5" height="8.57" fill="#ff0000"/><rect x="728" y="106.20" width="32.5" height="8.57" fill="#ef0000"/><rect x="728" y="97.93" width="32.5" height="8.57" fill="#df0000"/><rect x="728" y="89.66" width="32.5" height="8.57" fill="#cf0000"/><rect x="728" y="81.39" width="32.5" height="8.57" fill="#bf0000"/><rect x="728" y="73.12" width="32.5" height="8.57" fill="#af0000"/><rect x="728" y="64.84" width="32.5" height="8.57" fill="#9f0000"/><rect x="728" y="56.57" width="32.5" height="8.57" fill="#8f0000"/><rect x="728" y="48.30" width="32.5" height="8.57" fill="#800000"/></g>
<rect x="728" y="48.3" width="32.5" height="529.4000000000001" fill="none" stroke="#262626" stroke-width="0.8"/>
<text x="770" y="57.5" class="t">7.5</text>
<line x1="755.5" y1="149.4" x2="760.5" y2="149.4" stroke="#262626" stroke-width="1"/>
<text x="770" y="159.6" class="t">7</text>
<line x1="755.5" y1="251.4" x2="760.5" y2="251.4" stroke="#262626" stroke-width="1"/>
<text x="770" y="261.7" class="t">6.5</text>
<line x1="755.5" y1="353.4" x2="760.5" y2="353.4" stroke="#262626" stroke-width="1"/>
<text x="770" y="363.7" class="t">6</text>
<line x1="755.5" y1="455.4" x2="760.5" y2="455.4" stroke="#262626" stroke-width="1"/>
<text x="770" y="465.8" class="t">5.5</text>
<line x1="755.5" y1="557.4" x2="760.5" y2="557.4" stroke="#262626" stroke-width="1"/>
<text x="770" y="567.9" class="t">5</text>
<text x="92" y="71.6" class="t" text-anchor="end">10</text>
<text x="92" y="198.6" class="t" text-anchor="end">5</text>
<text x="92" y="323.1" class="t" text-anchor="end">0</text>
<text x="92" y="450.2" class="t" text-anchor="end">-5</text>
<text x="92" y="575.3" class="t" text-anchor="end">-10</text>
<text x="197.3" y="613.4" class="t" text-anchor="middle">20</text>
<text x="295.9" y="613.4" class="t" text-anchor="middle">40</text>
<text x="394.5" y="613.4" class="t" text-anchor="middle">60</text>
<text x="493.1" y="613.4" class="t" text-anchor="middle">80</text>
<text x="591.7" y="613.4" class="t" text-anchor="middle">100</text>
<text x="690.3" y="613.4" class="t" text-anchor="middle">120</text>
<text x="397" y="648.5" class="l" text-anchor="middle">time [min]</text>
<text transform="translate(40.6,357) rotate(-90) scale(1.18,1)" class="l" style="font-family:'Liberation Serif',serif;font-size:28.8px">&#916;</text>
<text transform="translate(41,334.0) rotate(-90)" class="l">f [Hz]</text>
<text x="814" y="39" class="ti" text-anchor="end">f=3.59 MHz;  lat=50.04; long=14.48, time=0 is at 2026 02 09 20:00</text>
</svg>
</body></html>
